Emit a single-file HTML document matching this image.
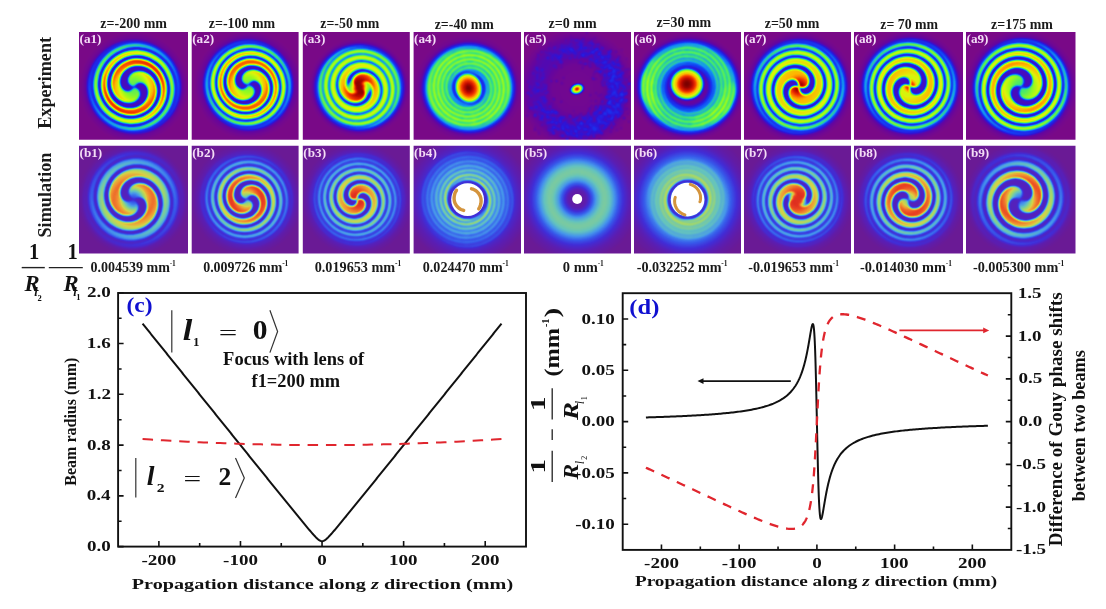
<!DOCTYPE html>
<html><head><meta charset="utf-8"><style>
html,body{margin:0;padding:0;background:#fff;width:1106px;height:609px;overflow:hidden}
svg{display:block;font-family:"Liberation Serif",serif;filter:blur(0.45px)}
</style></head><body>
<svg width="1106" height="609" viewBox="0 0 1106 609">
<defs><filter id="fexp" x="-5%" y="-5%" width="110%" height="110%" color-interpolation-filters="sRGB"><feGaussianBlur stdDeviation="1.10"/><feComponentTransfer><feFuncR type="table" tableValues="0.478 0.462 0.445 0.428 0.411 0.394 0.355 0.313 0.271 0.229 0.187 0.164 0.147 0.129 0.112 0.095 0.078 0.078 0.078 0.078 0.078 0.078 0.078 0.093 0.118 0.142 0.167 0.191 0.216 0.246 0.301 0.357 0.412 0.467 0.522 0.577 0.623 0.665 0.708 0.751 0.794 0.837 0.871 0.893 0.914 0.936 0.957 0.979 1.000 0.994 0.988 0.982 0.975 0.969 0.963 0.936 0.893 0.851 0.809 0.767 0.711 0.641 0.571 0.501 0.431"/><feFuncG type="table" tableValues="0.039 0.035 0.032 0.028 0.024 0.020 0.030 0.041 0.053 0.064 0.076 0.099 0.126 0.154 0.181 0.208 0.235 0.290 0.346 0.401 0.456 0.511 0.566 0.618 0.667 0.716 0.765 0.814 0.863 0.904 0.917 0.929 0.941 0.953 0.966 0.978 0.978 0.975 0.972 0.969 0.966 0.963 0.945 0.905 0.865 0.825 0.786 0.746 0.706 0.632 0.559 0.485 0.412 0.338 0.265 0.212 0.174 0.136 0.097 0.059 0.035 0.026 0.018 0.009 0.000"/><feFuncB type="table" tableValues="0.533 0.552 0.570 0.588 0.607 0.625 0.665 0.707 0.749 0.791 0.833 0.859 0.879 0.900 0.920 0.940 0.961 0.958 0.955 0.952 0.949 0.945 0.942 0.897 0.824 0.750 0.676 0.603 0.529 0.460 0.404 0.349 0.294 0.239 0.184 0.129 0.108 0.096 0.083 0.071 0.059 0.047 0.037 0.031 0.025 0.018 0.012 0.006 0.000 0.000 0.000 0.000 0.000 0.000 0.000 0.000 0.000 0.000 0.000 0.000 0.000 0.000 0.000 0.000 0.000"/></feComponentTransfer></filter>
<filter id="fsim" x="-5%" y="-5%" width="110%" height="110%" color-interpolation-filters="sRGB"><feGaussianBlur stdDeviation="1.30"/><feComponentTransfer><feFuncR type="table" tableValues="0.416 0.406 0.396 0.386 0.376 0.367 0.357 0.344 0.328 0.313 0.298 0.282 0.267 0.254 0.248 0.241 0.235 0.229 0.223 0.217 0.223 0.232 0.241 0.251 0.260 0.269 0.282 0.300 0.319 0.337 0.355 0.374 0.392 0.429 0.466 0.502 0.539 0.576 0.613 0.648 0.681 0.715 0.749 0.782 0.816 0.846 0.862 0.877 0.892 0.907 0.923 0.938 0.939 0.936 0.933 0.930 0.926 0.923 0.915 0.898 0.881 0.865 0.908 0.959 1.000"/><feFuncG type="table" tableValues="0.102 0.104 0.107 0.109 0.112 0.114 0.117 0.123 0.132 0.142 0.151 0.160 0.169 0.182 0.210 0.237 0.265 0.292 0.320 0.347 0.382 0.419 0.456 0.493 0.529 0.566 0.599 0.627 0.654 0.682 0.710 0.737 0.765 0.777 0.789 0.801 0.814 0.826 0.838 0.841 0.838 0.835 0.832 0.829 0.826 0.816 0.779 0.743 0.706 0.669 0.632 0.596 0.549 0.500 0.451 0.402 0.353 0.304 0.261 0.228 0.194 0.161 0.444 0.771 1.000"/><feFuncB type="table" tableValues="0.588 0.607 0.625 0.643 0.662 0.680 0.699 0.719 0.740 0.762 0.783 0.805 0.826 0.846 0.858 0.870 0.882 0.895 0.907 0.919 0.922 0.922 0.922 0.922 0.922 0.922 0.911 0.883 0.855 0.828 0.800 0.773 0.745 0.696 0.647 0.598 0.549 0.500 0.451 0.417 0.392 0.368 0.343 0.319 0.294 0.272 0.260 0.248 0.235 0.223 0.211 0.199 0.189 0.180 0.170 0.161 0.152 0.143 0.135 0.129 0.124 0.118 0.405 0.732 1.000"/></feComponentTransfer></filter>
<filter id="fwb" x="-20%" y="-20%" width="140%" height="140%"><feGaussianBlur stdDeviation="0.7"/></filter>
<radialGradient id="a1_1" gradientUnits="userSpaceOnUse" cx="0.00" cy="0.00" r="55.00"><stop offset="0.0000" stop-color="#1f1f1f"/><stop offset="0.6909" stop-color="#1f1f1f"/><stop offset="0.7636" stop-color="#292929"/><stop offset="0.8182" stop-color="#303030"/><stop offset="0.8636" stop-color="#1a1a1a"/><stop offset="0.9273" stop-color="#080808"/><stop offset="1.0000" stop-color="#000000"/></radialGradient><radialGradient id="a1_2" gradientUnits="userSpaceOnUse" cx="0.00" cy="0.00" r="49.00"><stop offset="0.0000" stop-color="#7a7a7a"/><stop offset="0.1224" stop-color="#808080"/><stop offset="0.2245" stop-color="#8c8c8c"/><stop offset="0.3265" stop-color="#adadad"/><stop offset="0.4490" stop-color="#d1d1d1"/><stop offset="0.5714" stop-color="#e0e0e0"/><stop offset="0.6735" stop-color="#b8b8b8"/><stop offset="0.7755" stop-color="#8f8f8f"/><stop offset="0.8571" stop-color="#707070"/><stop offset="0.9184" stop-color="#424242"/><stop offset="0.9694" stop-color="#1a1a1a"/><stop offset="1.0000" stop-color="#000000"/></radialGradient><clipPath id="a1_clip"><rect x="79.00" y="32.00" width="109.00" height="107.70"/></clipPath>
<radialGradient id="a2_1" gradientUnits="userSpaceOnUse" cx="0.00" cy="0.00" r="54.00"><stop offset="0.0000" stop-color="#1f1f1f"/><stop offset="0.6667" stop-color="#1f1f1f"/><stop offset="0.7407" stop-color="#292929"/><stop offset="0.8056" stop-color="#303030"/><stop offset="0.8519" stop-color="#1a1a1a"/><stop offset="0.9259" stop-color="#080808"/><stop offset="1.0000" stop-color="#000000"/></radialGradient><radialGradient id="a2_2" gradientUnits="userSpaceOnUse" cx="0.00" cy="0.00" r="47.00"><stop offset="0.0000" stop-color="#808080"/><stop offset="0.1702" stop-color="#8c8c8c"/><stop offset="0.2979" stop-color="#adadad"/><stop offset="0.4255" stop-color="#d1d1d1"/><stop offset="0.5532" stop-color="#d1d1d1"/><stop offset="0.6809" stop-color="#b8b8b8"/><stop offset="0.7872" stop-color="#9e9e9e"/><stop offset="0.8511" stop-color="#808080"/><stop offset="0.9149" stop-color="#4c4c4c"/><stop offset="0.9681" stop-color="#1f1f1f"/><stop offset="1.0000" stop-color="#000000"/></radialGradient><clipPath id="a2_clip"><rect x="191.70" y="32.00" width="106.90" height="107.70"/></clipPath>
<radialGradient id="a3_1" gradientUnits="userSpaceOnUse" cx="0.00" cy="0.00" r="50.00"><stop offset="0.0000" stop-color="#858585"/><stop offset="0.7200" stop-color="#858585"/><stop offset="0.7800" stop-color="#6b6b6b"/><stop offset="0.8300" stop-color="#3d3d3d"/><stop offset="0.8800" stop-color="#1f1f1f"/><stop offset="0.9400" stop-color="#080808"/><stop offset="1.0000" stop-color="#000000"/></radialGradient><radialGradient id="a3_2" gradientUnits="userSpaceOnUse" cx="0.00" cy="0.00" r="41.00"><stop offset="0.0000" stop-color="#ffffff"/><stop offset="0.1220" stop-color="#fafafa"/><stop offset="0.2195" stop-color="#ededed"/><stop offset="0.3171" stop-color="#dbdbdb"/><stop offset="0.4146" stop-color="#bdbdbd"/><stop offset="0.5366" stop-color="#a8a8a8"/><stop offset="0.7317" stop-color="#a1a1a1"/><stop offset="0.8780" stop-color="#999999"/><stop offset="1.0000" stop-color="#737373"/></radialGradient><radialGradient id="a3_3" gradientUnits="userSpaceOnUse" cx="0.00" cy="0.00" r="40.00"><stop offset="0.2750" stop-color="#1a1a1a"/><stop offset="1.0000" stop-color="#292929"/></radialGradient><radialGradient id="a3_4"><stop offset="0" stop-color="#f7f7f7"/><stop offset="0.35" stop-color="#f7f7f7"/><stop offset="1" stop-color="#f7f7f7" stop-opacity="0"/></radialGradient><clipPath id="a3_clip"><rect x="302.80" y="32.00" width="107.00" height="107.70"/></clipPath>
<radialGradient id="a4_1" gradientUnits="userSpaceOnUse" cx="0.00" cy="0.00" r="54.00"><stop offset="0.0000" stop-color="#0d0d0d"/><stop offset="0.2222" stop-color="#1a1a1a"/><stop offset="0.2963" stop-color="#525252"/><stop offset="0.3704" stop-color="#808080"/><stop offset="0.5185" stop-color="#949494"/><stop offset="0.6481" stop-color="#999999"/><stop offset="0.7222" stop-color="#8a8a8a"/><stop offset="0.7778" stop-color="#575757"/><stop offset="0.8333" stop-color="#242424"/><stop offset="0.9074" stop-color="#080808"/><stop offset="1.0000" stop-color="#000000"/></radialGradient><radialGradient id="a4_2" gradientUnits="userSpaceOnUse" cx="0.00" cy="0.00" r="40.00"><stop offset="0.3750" stop-color="#242424"/><stop offset="1.0000" stop-color="#333333"/></radialGradient><radialGradient id="a4_3" gradientUnits="userSpaceOnUse" cx="0.00" cy="0.00" r="16.00"><stop offset="0.0000" stop-color="#ffffff"/><stop offset="0.1875" stop-color="#f7f7f7"/><stop offset="0.4375" stop-color="#e0e0e0"/><stop offset="0.6250" stop-color="#c7c7c7"/><stop offset="0.7812" stop-color="#a8a8a8"/><stop offset="0.8750" stop-color="#808080"/><stop offset="1.0000" stop-color="#000000"/></radialGradient><clipPath id="a4_clip"><rect x="413.60" y="32.00" width="107.40" height="107.70"/></clipPath>
<radialGradient id="a5_1" gradientUnits="userSpaceOnUse" cx="0.00" cy="0.00" r="60.00"><stop offset="0.0000" stop-color="#050505"/><stop offset="0.4000" stop-color="#0a0a0a"/><stop offset="0.5333" stop-color="#171717"/><stop offset="0.6667" stop-color="#1c1c1c"/><stop offset="0.8000" stop-color="#171717"/><stop offset="0.9000" stop-color="#0a0a0a"/><stop offset="1.0000" stop-color="#000000"/></radialGradient><radialGradient id="a5_2" gradientUnits="userSpaceOnUse" cx="0.00" cy="0.00" r="8.00"><stop offset="0.0000" stop-color="#ffffff"/><stop offset="0.2500" stop-color="#e6e6e6"/><stop offset="0.5000" stop-color="#9e9e9e"/><stop offset="0.7500" stop-color="#7a7a7a"/><stop offset="1.0000" stop-color="#000000"/></radialGradient><clipPath id="a5_clip"><rect x="524.00" y="32.00" width="107.00" height="107.70"/></clipPath>
<radialGradient id="a6_1" gradientUnits="userSpaceOnUse" cx="0.00" cy="0.00" r="55.00"><stop offset="0.0000" stop-color="#0d0d0d"/><stop offset="0.3273" stop-color="#141414"/><stop offset="0.4000" stop-color="#3d3d3d"/><stop offset="0.5091" stop-color="#737373"/><stop offset="0.6545" stop-color="#858585"/><stop offset="0.7636" stop-color="#808080"/><stop offset="0.8182" stop-color="#575757"/><stop offset="0.8727" stop-color="#292929"/><stop offset="0.9273" stop-color="#0f0f0f"/><stop offset="1.0000" stop-color="#000000"/></radialGradient><radialGradient id="a6_2"><stop offset="0" stop-color="#8f8f8f"/><stop offset="0.45" stop-color="#8f8f8f"/><stop offset="1" stop-color="#8f8f8f" stop-opacity="0"/></radialGradient><radialGradient id="a6_3"><stop offset="0" stop-color="#999999"/><stop offset="0.45" stop-color="#999999"/><stop offset="1" stop-color="#999999" stop-opacity="0"/></radialGradient><radialGradient id="a6_4"><stop offset="0" stop-color="#999999"/><stop offset="0.45" stop-color="#999999"/><stop offset="1" stop-color="#999999" stop-opacity="0"/></radialGradient><radialGradient id="a6_5"><stop offset="0" stop-color="#8f8f8f"/><stop offset="0.45" stop-color="#8f8f8f"/><stop offset="1" stop-color="#8f8f8f" stop-opacity="0"/></radialGradient><radialGradient id="a6_6"><stop offset="0" stop-color="#8f8f8f"/><stop offset="0.45" stop-color="#8f8f8f"/><stop offset="1" stop-color="#8f8f8f" stop-opacity="0"/></radialGradient><radialGradient id="a6_7"><stop offset="0" stop-color="#999999"/><stop offset="0.45" stop-color="#999999"/><stop offset="1" stop-color="#999999" stop-opacity="0"/></radialGradient><radialGradient id="a6_8"><stop offset="0" stop-color="#999999"/><stop offset="0.45" stop-color="#999999"/><stop offset="1" stop-color="#999999" stop-opacity="0"/></radialGradient><radialGradient id="a6_9"><stop offset="0" stop-color="#8f8f8f"/><stop offset="0.45" stop-color="#8f8f8f"/><stop offset="1" stop-color="#8f8f8f" stop-opacity="0"/></radialGradient><radialGradient id="a6_10" gradientUnits="userSpaceOnUse" cx="0.00" cy="0.00" r="46.00"><stop offset="0.4348" stop-color="#292929"/><stop offset="1.0000" stop-color="#292929"/></radialGradient><radialGradient id="a6_11" gradientUnits="userSpaceOnUse" cx="0.00" cy="0.00" r="18.00"><stop offset="0.0000" stop-color="#ffffff"/><stop offset="0.2222" stop-color="#f7f7f7"/><stop offset="0.4444" stop-color="#e0e0e0"/><stop offset="0.6111" stop-color="#bdbdbd"/><stop offset="0.7778" stop-color="#9e9e9e"/><stop offset="0.8889" stop-color="#595959"/><stop offset="1.0000" stop-color="#000000"/></radialGradient><clipPath id="a6_clip"><rect x="634.00" y="32.00" width="107.00" height="107.70"/></clipPath>
<radialGradient id="a7_1" gradientUnits="userSpaceOnUse" cx="0.00" cy="0.00" r="56.00"><stop offset="0.0000" stop-color="#212121"/><stop offset="0.7143" stop-color="#212121"/><stop offset="0.7857" stop-color="#2b2b2b"/><stop offset="0.8304" stop-color="#333333"/><stop offset="0.8750" stop-color="#1a1a1a"/><stop offset="0.9286" stop-color="#080808"/><stop offset="1.0000" stop-color="#000000"/></radialGradient><radialGradient id="a7_2" gradientUnits="userSpaceOnUse" cx="0.00" cy="0.00" r="49.00"><stop offset="0.0000" stop-color="#ffffff"/><stop offset="0.0816" stop-color="#f5f5f5"/><stop offset="0.1633" stop-color="#dbdbdb"/><stop offset="0.2449" stop-color="#c2c2c2"/><stop offset="0.3673" stop-color="#b8b8b8"/><stop offset="0.5306" stop-color="#adadad"/><stop offset="0.6939" stop-color="#9e9e9e"/><stop offset="0.8163" stop-color="#8f8f8f"/><stop offset="0.8980" stop-color="#666666"/><stop offset="0.9592" stop-color="#333333"/><stop offset="1.0000" stop-color="#080808"/></radialGradient><clipPath id="a7_clip"><rect x="744.00" y="32.00" width="107.00" height="107.70"/></clipPath>
<radialGradient id="a8_1" gradientUnits="userSpaceOnUse" cx="0.00" cy="0.00" r="56.00"><stop offset="0.0000" stop-color="#212121"/><stop offset="0.7143" stop-color="#212121"/><stop offset="0.7857" stop-color="#2b2b2b"/><stop offset="0.8304" stop-color="#333333"/><stop offset="0.8750" stop-color="#1a1a1a"/><stop offset="0.9286" stop-color="#080808"/><stop offset="1.0000" stop-color="#000000"/></radialGradient><radialGradient id="a8_2" gradientUnits="userSpaceOnUse" cx="0.00" cy="0.00" r="49.00"><stop offset="0.0000" stop-color="#e6e6e6"/><stop offset="0.0816" stop-color="#dbdbdb"/><stop offset="0.1633" stop-color="#9e9e9e"/><stop offset="0.2653" stop-color="#adadad"/><stop offset="0.4082" stop-color="#bdbdbd"/><stop offset="0.5714" stop-color="#b2b2b2"/><stop offset="0.7347" stop-color="#9e9e9e"/><stop offset="0.8367" stop-color="#8f8f8f"/><stop offset="0.9082" stop-color="#666666"/><stop offset="0.9592" stop-color="#333333"/><stop offset="1.0000" stop-color="#080808"/></radialGradient><clipPath id="a8_clip"><rect x="854.00" y="32.00" width="109.00" height="107.70"/></clipPath>
<radialGradient id="a9_1" gradientUnits="userSpaceOnUse" cx="0.00" cy="0.00" r="57.00"><stop offset="0.0000" stop-color="#1f1f1f"/><stop offset="0.7018" stop-color="#1f1f1f"/><stop offset="0.7719" stop-color="#2b2b2b"/><stop offset="0.8246" stop-color="#333333"/><stop offset="0.8684" stop-color="#1a1a1a"/><stop offset="0.9298" stop-color="#080808"/><stop offset="1.0000" stop-color="#000000"/></radialGradient><radialGradient id="a9_2" gradientUnits="userSpaceOnUse" cx="0.00" cy="0.00" r="50.00"><stop offset="0.0000" stop-color="#737373"/><stop offset="0.1200" stop-color="#787878"/><stop offset="0.2400" stop-color="#8c8c8c"/><stop offset="0.3600" stop-color="#a8a8a8"/><stop offset="0.4800" stop-color="#c7c7c7"/><stop offset="0.6000" stop-color="#bdbdbd"/><stop offset="0.7200" stop-color="#a8a8a8"/><stop offset="0.8400" stop-color="#999999"/><stop offset="0.9100" stop-color="#6b6b6b"/><stop offset="0.9600" stop-color="#333333"/><stop offset="1.0000" stop-color="#080808"/></radialGradient><clipPath id="a9_clip"><rect x="966.00" y="32.00" width="109.50" height="107.70"/></clipPath>
<radialGradient id="b1_1" gradientUnits="userSpaceOnUse" cx="0.00" cy="0.00" r="56.00"><stop offset="0.0000" stop-color="#1f1f1f"/><stop offset="0.5357" stop-color="#212121"/><stop offset="0.7143" stop-color="#242424"/><stop offset="0.8036" stop-color="#1f1f1f"/><stop offset="0.8929" stop-color="#0f0f0f"/><stop offset="1.0000" stop-color="#000000"/></radialGradient><radialGradient id="b1_2" gradientUnits="userSpaceOnUse" cx="0.00" cy="0.00" r="52.00"><stop offset="0.0000" stop-color="#404040"/><stop offset="0.0962" stop-color="#595959"/><stop offset="0.1923" stop-color="#8f8f8f"/><stop offset="0.2885" stop-color="#cccccc"/><stop offset="0.3846" stop-color="#dbdbdb"/><stop offset="0.4808" stop-color="#c2c2c2"/><stop offset="0.5962" stop-color="#999999"/><stop offset="0.7115" stop-color="#757575"/><stop offset="0.8077" stop-color="#525252"/><stop offset="0.8846" stop-color="#333333"/><stop offset="0.9615" stop-color="#1a1a1a"/><stop offset="1.0000" stop-color="#0a0a0a"/></radialGradient><clipPath id="b1_clip"><rect x="79.00" y="145.80" width="109.00" height="107.80"/></clipPath>
<radialGradient id="b2_1" gradientUnits="userSpaceOnUse" cx="0.00" cy="0.00" r="56.00"><stop offset="0.0000" stop-color="#1f1f1f"/><stop offset="0.5357" stop-color="#212121"/><stop offset="0.7143" stop-color="#242424"/><stop offset="0.8036" stop-color="#1f1f1f"/><stop offset="0.8929" stop-color="#0f0f0f"/><stop offset="1.0000" stop-color="#000000"/></radialGradient><radialGradient id="b2_2" gradientUnits="userSpaceOnUse" cx="0.00" cy="0.00" r="52.00"><stop offset="0.0000" stop-color="#737373"/><stop offset="0.0962" stop-color="#999999"/><stop offset="0.1923" stop-color="#d1d1d1"/><stop offset="0.2885" stop-color="#ededed"/><stop offset="0.3846" stop-color="#e0e0e0"/><stop offset="0.4808" stop-color="#b8b8b8"/><stop offset="0.5769" stop-color="#999999"/><stop offset="0.6731" stop-color="#808080"/><stop offset="0.7692" stop-color="#666666"/><stop offset="0.8462" stop-color="#3d3d3d"/><stop offset="0.9231" stop-color="#1a1a1a"/><stop offset="1.0000" stop-color="#080808"/></radialGradient><clipPath id="b2_clip"><rect x="191.70" y="145.80" width="106.90" height="107.80"/></clipPath>
<radialGradient id="b3_1" gradientUnits="userSpaceOnUse" cx="0.00" cy="0.00" r="56.00"><stop offset="0.0000" stop-color="#1f1f1f"/><stop offset="0.5357" stop-color="#212121"/><stop offset="0.7143" stop-color="#242424"/><stop offset="0.8036" stop-color="#1f1f1f"/><stop offset="0.8929" stop-color="#0f0f0f"/><stop offset="1.0000" stop-color="#000000"/></radialGradient><radialGradient id="b3_2" gradientUnits="userSpaceOnUse" cx="0.00" cy="0.00" r="52.00"><stop offset="0.0000" stop-color="#f0f0f0"/><stop offset="0.1154" stop-color="#f0f0f0"/><stop offset="0.1923" stop-color="#e0e0e0"/><stop offset="0.2692" stop-color="#cccccc"/><stop offset="0.3846" stop-color="#b2b2b2"/><stop offset="0.4808" stop-color="#9e9e9e"/><stop offset="0.5769" stop-color="#8c8c8c"/><stop offset="0.6731" stop-color="#7a7a7a"/><stop offset="0.7692" stop-color="#666666"/><stop offset="0.8462" stop-color="#424242"/><stop offset="0.9231" stop-color="#1f1f1f"/><stop offset="1.0000" stop-color="#080808"/></radialGradient><clipPath id="b3_clip"><rect x="302.80" y="145.80" width="107.00" height="107.80"/></clipPath>
<radialGradient id="b4_1" gradientUnits="userSpaceOnUse" cx="0.00" cy="0.00" r="64.00"><stop offset="0.0000" stop-color="#4c4c4c"/><stop offset="0.2500" stop-color="#4c4c4c"/><stop offset="0.4688" stop-color="#4c4c4c"/><stop offset="0.6250" stop-color="#424242"/><stop offset="0.7500" stop-color="#2b2b2b"/><stop offset="0.8750" stop-color="#141414"/><stop offset="1.0000" stop-color="#000000"/></radialGradient><radialGradient id="b4_2" gradientUnits="userSpaceOnUse" cx="0.00" cy="0.00" r="48.00"><stop offset="0.3750" stop-color="#d1d1d1"/><stop offset="0.4583" stop-color="#c2c2c2"/><stop offset="0.5625" stop-color="#9e9e9e"/><stop offset="0.6667" stop-color="#858585"/><stop offset="0.7708" stop-color="#707070"/><stop offset="0.8750" stop-color="#5c5c5c"/><stop offset="1.0000" stop-color="#454545"/></radialGradient><clipPath id="b4_clip"><rect x="413.60" y="145.80" width="107.40" height="107.80"/></clipPath>
<radialGradient id="b5_1" gradientUnits="userSpaceOnUse" cx="0.00" cy="0.00" r="62.00"><stop offset="0.0000" stop-color="#0d0d0d"/><stop offset="0.0968" stop-color="#0d0d0d"/><stop offset="0.1452" stop-color="#141414"/><stop offset="0.2258" stop-color="#404040"/><stop offset="0.3065" stop-color="#6b6b6b"/><stop offset="0.3871" stop-color="#858585"/><stop offset="0.4516" stop-color="#8a8a8a"/><stop offset="0.5323" stop-color="#808080"/><stop offset="0.6129" stop-color="#616161"/><stop offset="0.6935" stop-color="#424242"/><stop offset="0.7742" stop-color="#292929"/><stop offset="0.8710" stop-color="#121212"/><stop offset="1.0000" stop-color="#000000"/></radialGradient><clipPath id="b5_clip"><rect x="524.00" y="145.80" width="107.00" height="107.80"/></clipPath>
<radialGradient id="b6_1" gradientUnits="userSpaceOnUse" cx="0.00" cy="0.00" r="68.00"><stop offset="0.0000" stop-color="#737373"/><stop offset="0.2353" stop-color="#737373"/><stop offset="0.3676" stop-color="#808080"/><stop offset="0.4412" stop-color="#7a7a7a"/><stop offset="0.5294" stop-color="#6b6b6b"/><stop offset="0.6176" stop-color="#545454"/><stop offset="0.7059" stop-color="#383838"/><stop offset="0.7941" stop-color="#1f1f1f"/><stop offset="0.8824" stop-color="#0d0d0d"/><stop offset="1.0000" stop-color="#000000"/></radialGradient><radialGradient id="b6_2" gradientUnits="userSpaceOnUse" cx="0.00" cy="0.00" r="40.00"><stop offset="0.4750" stop-color="#c7c7c7"/><stop offset="0.5750" stop-color="#b2b2b2"/><stop offset="0.6750" stop-color="#999999"/><stop offset="0.7750" stop-color="#8a8a8a"/><stop offset="0.8750" stop-color="#808080"/><stop offset="1.0000" stop-color="#737373"/></radialGradient><clipPath id="b6_clip"><rect x="634.00" y="145.80" width="107.00" height="107.80"/></clipPath>
<radialGradient id="b7_1" gradientUnits="userSpaceOnUse" cx="0.00" cy="0.00" r="56.00"><stop offset="0.0000" stop-color="#1f1f1f"/><stop offset="0.5357" stop-color="#212121"/><stop offset="0.7143" stop-color="#242424"/><stop offset="0.8036" stop-color="#1f1f1f"/><stop offset="0.8929" stop-color="#0f0f0f"/><stop offset="1.0000" stop-color="#000000"/></radialGradient><radialGradient id="b7_2"><stop offset="0" stop-color="#ededed"/><stop offset="0.40" stop-color="#ededed"/><stop offset="1" stop-color="#ededed" stop-opacity="0"/></radialGradient><radialGradient id="b7_3" gradientUnits="userSpaceOnUse" cx="0.00" cy="0.00" r="52.00"><stop offset="0.0000" stop-color="#f0f0f0"/><stop offset="0.1154" stop-color="#f0f0f0"/><stop offset="0.1923" stop-color="#e6e6e6"/><stop offset="0.2692" stop-color="#d1d1d1"/><stop offset="0.3846" stop-color="#b2b2b2"/><stop offset="0.4808" stop-color="#9e9e9e"/><stop offset="0.5769" stop-color="#8c8c8c"/><stop offset="0.6731" stop-color="#7a7a7a"/><stop offset="0.7692" stop-color="#666666"/><stop offset="0.8462" stop-color="#424242"/><stop offset="0.9231" stop-color="#1f1f1f"/><stop offset="1.0000" stop-color="#080808"/></radialGradient><clipPath id="b7_clip"><rect x="744.00" y="145.80" width="107.00" height="107.80"/></clipPath>
<radialGradient id="b8_1" gradientUnits="userSpaceOnUse" cx="0.00" cy="0.00" r="56.00"><stop offset="0.0000" stop-color="#1f1f1f"/><stop offset="0.5357" stop-color="#212121"/><stop offset="0.7143" stop-color="#242424"/><stop offset="0.8036" stop-color="#1f1f1f"/><stop offset="0.8929" stop-color="#0f0f0f"/><stop offset="1.0000" stop-color="#000000"/></radialGradient><radialGradient id="b8_2" gradientUnits="userSpaceOnUse" cx="0.00" cy="0.00" r="52.00"><stop offset="0.0000" stop-color="#8c8c8c"/><stop offset="0.0962" stop-color="#a6a6a6"/><stop offset="0.1923" stop-color="#d9d9d9"/><stop offset="0.2885" stop-color="#ebebeb"/><stop offset="0.3846" stop-color="#d9d9d9"/><stop offset="0.4808" stop-color="#b8b8b8"/><stop offset="0.5769" stop-color="#999999"/><stop offset="0.6731" stop-color="#808080"/><stop offset="0.7692" stop-color="#666666"/><stop offset="0.8462" stop-color="#424242"/><stop offset="0.9231" stop-color="#1f1f1f"/><stop offset="1.0000" stop-color="#080808"/></radialGradient><clipPath id="b8_clip"><rect x="854.00" y="145.80" width="109.00" height="107.80"/></clipPath>
<radialGradient id="b9_1" gradientUnits="userSpaceOnUse" cx="0.00" cy="0.00" r="56.00"><stop offset="0.0000" stop-color="#1f1f1f"/><stop offset="0.5357" stop-color="#212121"/><stop offset="0.7143" stop-color="#242424"/><stop offset="0.8036" stop-color="#1f1f1f"/><stop offset="0.8929" stop-color="#0f0f0f"/><stop offset="1.0000" stop-color="#000000"/></radialGradient><radialGradient id="b9_2" gradientUnits="userSpaceOnUse" cx="0.00" cy="0.00" r="52.00"><stop offset="0.0000" stop-color="#4c4c4c"/><stop offset="0.0962" stop-color="#666666"/><stop offset="0.1923" stop-color="#949494"/><stop offset="0.2885" stop-color="#d1d1d1"/><stop offset="0.3846" stop-color="#e6e6e6"/><stop offset="0.4808" stop-color="#cccccc"/><stop offset="0.5962" stop-color="#9e9e9e"/><stop offset="0.7115" stop-color="#757575"/><stop offset="0.8077" stop-color="#525252"/><stop offset="0.8846" stop-color="#333333"/><stop offset="0.9615" stop-color="#1a1a1a"/><stop offset="1.0000" stop-color="#0a0a0a"/></radialGradient><clipPath id="b9_clip"><rect x="966.00" y="145.80" width="109.50" height="107.80"/></clipPath></defs>
<rect width="1106" height="609" fill="#fff"/>
<g clip-path="url(#a1_clip)"><g filter="url(#fexp)"><rect x="73.00" y="26.00" width="121.00" height="119.70" fill="#000"/><g transform="translate(79.00 32.00)"><ellipse transform="translate(55.00 55.00) rotate(0.0) scale(1.0000 1.0000)" rx="55.00" ry="55.00" fill="url(#a1_1)"/><path transform="translate(55.00 55.00) rotate(0.0) scale(1.000 1.000)" d="M-.6 .8-.9 1.2-1.3 1.6-1.6 1.9-2 2.3-2.3 2.6-2.7 2.9-3.1 3.2-3.6 3.5-4 3.7-4.5 3.9-5.1 4.1-5.6 4.2-6.2 4.3-6.8 4.3-7.4 4.2-8 4.1-8.7 3.8-9.3 3.5-10 3.2-10.7 2.7-11.3 2.1-11.9 1.4-12.5 .7-13-.2-13.4-1.2-13.8-2.3-14.1-3.5-14.2-4.8-14.2-6.2-14.1-7.6-13.8-9.1-13.3-10.6-12.5-12.2-11.6-13.8-10.5-15.3-9.1-16.7-7.5-18-5.6-19.2-3.5-20.2-1.2-21 1.2-21.5 3.6-21.6 6.1-21.6 8.5-21.2 10.8-20.5 13.1-19.7 15.3-18.5 17.3-17.2 19.2-15.6 20.9-13.9 22.4-12 23.8-10 24.9-7.8 25.8-5.6 26.5-3.3 27-.9 27.3 1.5 27.3 3.9 27.2 6.3 26.8 8.7 26.2 11.1 25.4 13.4 24.4 15.6 23.3 17.7 21.9 19.7 20.4 21.6 18.8 23.4 17 25 15.1 26.5 13 27.8 10.9 29 8.7 29.9 6.4 30.7 4.1 31.3 1.7 31.8-.7 32-3.1 32.1-5.5 32-7.9 31.7-10.3 31.2-12.6 30.6-14.9 29.8-17.1 28.8-19.2 27.6-21.3 26.3-23.2 24.9-25 23.4-26.8 21.7-28.3 19.8-29.8 17.9-31.1 15.9-32.3 13.8-33.3 11.6-34.2 9.4-35 7.1-35.5 4.7-35.9 2.4-36.2 0-36.3-2.4-36.2-4.8-35.9-7.2-35.5-9.6-35-12-34.3-14.3-33.4-16.5-32.4-18.7-31.3-20.8-30-22.9-28.6-24.9-27.1-26.7-25.5-28.5-23.7-30.2-21.9-31.7-20-33.1-17.9-34.4-15.8-35.6-13.6-36.6-11.4-37.5-9.1-38.3-6.8-38.9-4.4-39.4-2.1-39.8 .3-39.9 2.7-40 5.1-39.9 7.5-39.6 9.9-39.2 12.3-38.7 14.6-38.1 16.9-37.2 19.1-36.3 21.2-35.2 23.3-34 25.3-32.7 27.3-31.3 29.1-29.8 30.9-28.1 32.5-26.4 34.1-24.6 35.6-22.6 36.9-20.6 38.1-18.6 39.2-16.4 40.2-14.2 41-12 41.8-9.7 42.4-7.3 42.8-5 43.1-2.6 43.3-.2 43.4 2.2 43.3 4.6 43.1 7 42.8 9.4 42.3 11.7 41.7 14.1 41 16.4 40.1 18.6 39.2 20.8 38.1 23 36.9 25.1 35.6 27.1 34.1 29 32.6 30.9 31 32.6 29.3 34.3 27.5 35.9 25.6 37.4 23.6 38.8 21.6 40.1 19.5 41.3 17.4 42.3 15.1 43.3 12.9 44.1 10.6 44.8 8.3 45.4 5.9 45.9 3.5 46.2 1.1 46.5-1.3 46.6-3.7 46.5-6.1 46.4-8.5 46.1-10.8 45.7-13.2 45.2-15.5 44.6-17.8 43.8-20 42.9-22.2 41.9-24.4 40.9-26.5 39.7-28.5 38.3-30.4 36.9-32.3 35.4-34.1 33.8-35.8 32.2-37.5 30.4-39 28.6-40.4 26.6-41.8 24.6-43 22.6-44.2 20.5-45.2 18.3-46.2 16.1-47 13.8-47.2 13.2-46.5 15.6-45.6 17.9-44.7 20.1-43.6 22.3-42.5 24.4-41.2 26.5-39.8 28.5-38.4 30.5-36.8 32.3-35.2 34.1-33.4 35.8-31.6 37.5-29.7 39-27.7 40.4-25.7 41.7-23.6 43-21.4 44.1-19.2 45.1-16.9 46-14.6 46.8-12.3 47.4-9.9 48-7.5 48.4-5.1 48.7-2.6 48.9-.2 49 2.2 48.9 4.7 48.8 7.1 48.5 9.5 48.1 11.9 47.5 14.2 46.9 16.5 46.1 18.8 45.3 21 44.3 23.2 43.2 25.3 42 25.8 41.6 27.8 40.2 29.7 38.7 31.5 37.1 33.2 35.5 34.9 33.7 36.4 31.9 37.9 30 39.3 28 40.5 26 41.7 23.9 42.8 21.7 43.7 19.5 44.5 17.2 45.3 15 45.9 12.6 46.3 10.3 46.7 7.9 47 5.5 47.1 3.1 47.1 .7 47-1.7 46.7-4.1 46.3-6.5 45.8-8.8 45.2-11.2 44.5-13.4 43.6-15.7 42.7-17.9 41.6-20 40.4-22.1 39.1-24.2 37.7-26.1 36.2-28 34.6-29.8 32.9-31.5 31.1-33.1 29.3-34.6 27.3-36.1 25.3-37.4 23.2-38.6 21.1-39.7 18.9-40.6 16.6-41.5 14.3-42.2 12-42.8 9.7-43.3 7.3-43.7 4.9-43.9 2.5-44 .1-43.9-2.3-43.7-4.7-43.4-7.1-43-9.4-42.4-11.7-41.7-14-40.9-16.2-40-18.3-38.9-20.4-37.7-22.5-36.4-24.4-35-26.3-33.4-28-31.8-29.7-30.1-31.3-28.3-32.7-26.3-34.1-24.4-35.3-22.3-36.4-20.2-37.4-18-38.3-15.7-39-13.4-39.6-11.1-40.1-8.7-40.4-6.3-40.6-3.9-40.6-1.5-40.5 .9-40.2 3.3-39.8 5.6-39.3 8-38.6 10.3-37.8 12.6-36.8 14.8-35.7 16.9-34.5 19-33.2 21-31.7 22.9-30.1 24.7-28.4 26.4-26.6 28-24.7 29.5-22.8 30.9-20.7 32.1-18.5 33.3-16.3 34.2-14.1 35-11.8 35.7-9.4 36.3-7 36.6-4.6 36.9-2.2 36.9 .2 36.8 2.6 36.6 4.9 36.2 7.3 35.6 9.6 34.9 11.8 34 14 33 16.1 31.8 18.2 30.5 20.1 29.1 21.9 27.5 23.6 25.8 25.2 24 26.7 22 28 20 29.2 17.9 30.2 15.7 31.1 13.5 31.8 11.2 32.3 8.8 32.6 6.4 32.8 4 32.8 1.6 32.7-.8 32.3-3.2 31.8-5.5 31.1-7.8 30.2-10.1 29.1-12.3 27.9-14.4 26.5-16.3 25-18.2 23.3-20 21.5-21.6 19.6-23 17.6-24.3 15.4-25.4 13.2-26.4 10.9-27.1 8.5-27.7 6.1-28.1 3.7-28.2 1.3-28.2-1.1-27.9-3.5-27.4-5.8-26.7-8.1-25.8-10.2-24.7-12.3-23.4-14.2-21.9-16-20.3-17.6-18.4-19-16.4-20.2-14.3-21.2-12.1-21.9-9.8-22.4-7.4-22.7-5-22.7-2.5-22.4-.1-21.8 2.3-21 4.6-19.9 6.7-18.5 8.8-17 10.5-15.4 12-13.7 13.2-11.9 14.1-10.2 14.9-8.4 15.3-6.7 15.6-5.1 15.7-3.6 15.6-2.2 15.3-.8 15 .4 14.5 1.5 13.9 2.4 13.3 3.2 12.6 4 11.9 4.6 11.1 5 10.3 5.4 9.6 5.7 8.8 5.9 8.1 6 7.4 6 6.7 6 6 5.9 5.4 5.7 4.8 5.5 4.3 5.3 3.8 5 3.3 4.7 2.9 4.3 2.5 3.9 2.2 3.6 1.8 3.1 1.5 2.7 1.3 2.3 1 1.8 .8 1.4 .6 .9 .4 .3 1ZM.6-.8 .9-1.2 1.3-1.6 1.6-1.9 2-2.3 2.3-2.6 2.7-2.9 3.1-3.2 3.6-3.5 4-3.7 4.5-3.9 5.1-4.1 5.6-4.2 6.2-4.3 6.8-4.3 7.4-4.2 8-4.1 8.7-3.8 9.3-3.5 10-3.2 10.7-2.7 11.3-2.1 11.9-1.4 12.5-.7 13 .2 13.4 1.2 13.8 2.3 14.1 3.5 14.2 4.8 14.2 6.2 14.1 7.6 13.8 9.1 13.3 10.6 12.5 12.2 11.6 13.8 10.5 15.3 9.1 16.7 7.5 18 5.6 19.2 3.5 20.2 1.2 21-1.2 21.5-3.6 21.6-6.1 21.6-8.5 21.2-10.8 20.5-13.1 19.7-15.3 18.5-17.3 17.2-19.2 15.6-20.9 13.9-22.4 12-23.8 10-24.9 7.8-25.8 5.6-26.5 3.3-27 .9-27.3-1.5-27.3-3.9-27.2-6.3-26.8-8.7-26.2-11.1-25.4-13.4-24.4-15.6-23.3-17.7-21.9-19.7-20.4-21.6-18.8-23.4-17-25-15.1-26.5-13-27.8-10.9-29-8.7-29.9-6.4-30.7-4.1-31.3-1.7-31.8 .7-32 3.1-32.1 5.5-32 7.9-31.7 10.3-31.2 12.6-30.6 14.9-29.8 17.1-28.8 19.2-27.6 21.3-26.3 23.2-24.9 25-23.4 26.8-21.7 28.3-19.8 29.8-17.9 31.1-15.9 32.3-13.8 33.3-11.6 34.2-9.4 35-7.1 35.5-4.7 35.9-2.4 36.2 0 36.3 2.4 36.2 4.8 35.9 7.2 35.5 9.6 35 12 34.3 14.3 33.4 16.5 32.4 18.7 31.3 20.8 30 22.9 28.6 24.9 27.1 26.7 25.5 28.5 23.7 30.2 21.9 31.7 20 33.1 17.9 34.4 15.8 35.6 13.6 36.6 11.4 37.5 9.1 38.3 6.8 38.9 4.4 39.4 2.1 39.8-.3 39.9-2.7 40-5.1 39.9-7.5 39.6-9.9 39.2-12.3 38.7-14.6 38.1-16.9 37.2-19.1 36.3-21.2 35.2-23.3 34-25.3 32.7-27.3 31.3-29.1 29.8-30.9 28.1-32.5 26.4-34.1 24.6-35.6 22.6-36.9 20.6-38.1 18.6-39.2 16.4-40.2 14.2-41 12-41.8 9.7-42.4 7.3-42.8 5-43.1 2.6-43.3 .2-43.4-2.2-43.3-4.6-43.1-7-42.8-9.4-42.3-11.7-41.7-14.1-41-16.4-40.1-18.6-39.2-20.8-38.1-23-36.9-25.1-35.6-27.1-34.1-29-32.6-30.9-31-32.6-29.3-34.3-27.5-35.9-25.6-37.4-23.6-38.8-21.6-40.1-19.5-41.3-17.4-42.3-15.1-43.3-12.9-44.1-10.6-44.8-8.3-45.4-5.9-45.9-3.5-46.2-1.1-46.5 1.3-46.6 3.7-46.5 6.1-46.4 8.5-46.1 10.8-45.7 13.2-45.2 15.5-44.6 17.8-43.8 20-42.9 22.2-41.9 24.4-40.9 26.5-39.7 28.5-38.3 30.4-36.9 32.3-35.4 34.1-33.8 35.8-32.2 37.5-30.4 39-28.6 40.4-26.6 41.8-24.6 43-22.6 44.2-20.5 45.2-18.3 46.2-16.1 47-13.8 47.2-13.2 46.5-15.6 45.6-17.9 44.7-20.1 43.6-22.3 42.5-24.4 41.2-26.5 39.8-28.5 38.4-30.5 36.8-32.3 35.2-34.1 33.4-35.8 31.6-37.5 29.7-39 27.7-40.4 25.7-41.7 23.6-43 21.4-44.1 19.2-45.1 16.9-46 14.6-46.8 12.3-47.4 9.9-48 7.5-48.4 5.1-48.7 2.6-48.9 .2-49-2.2-48.9-4.7-48.8-7.1-48.5-9.5-48.1-11.9-47.5-14.2-46.9-16.5-46.1-18.8-45.3-21-44.3-23.2-43.2-25.3-42-25.8-41.6-27.8-40.2-29.7-38.7-31.5-37.1-33.2-35.5-34.9-33.7-36.4-31.9-37.9-30-39.3-28-40.5-26-41.7-23.9-42.8-21.7-43.7-19.5-44.5-17.2-45.3-15-45.9-12.6-46.3-10.3-46.7-7.9-47-5.5-47.1-3.1-47.1-.7-47 1.7-46.7 4.1-46.3 6.5-45.8 8.8-45.2 11.2-44.5 13.4-43.6 15.7-42.7 17.9-41.6 20-40.4 22.1-39.1 24.2-37.7 26.1-36.2 28-34.6 29.8-32.9 31.5-31.1 33.1-29.3 34.6-27.3 36.1-25.3 37.4-23.2 38.6-21.1 39.7-18.9 40.6-16.6 41.5-14.3 42.2-12 42.8-9.7 43.3-7.3 43.7-4.9 43.9-2.5 44-.1 43.9 2.3 43.7 4.7 43.4 7.1 43 9.4 42.4 11.7 41.7 14 40.9 16.2 40 18.3 38.9 20.4 37.7 22.5 36.4 24.4 35 26.3 33.4 28 31.8 29.7 30.1 31.3 28.3 32.7 26.3 34.1 24.4 35.3 22.3 36.4 20.2 37.4 18 38.3 15.7 39 13.4 39.6 11.1 40.1 8.7 40.4 6.3 40.6 3.9 40.6 1.5 40.5-.9 40.2-3.3 39.8-5.6 39.3-8 38.6-10.3 37.8-12.6 36.8-14.8 35.7-16.9 34.5-19 33.2-21 31.7-22.9 30.1-24.7 28.4-26.4 26.6-28 24.7-29.5 22.8-30.9 20.7-32.1 18.5-33.3 16.3-34.2 14.1-35 11.8-35.7 9.4-36.3 7-36.6 4.6-36.9 2.2-36.9-.2-36.8-2.6-36.6-4.9-36.2-7.3-35.6-9.6-34.9-11.8-34-14-33-16.1-31.8-18.2-30.5-20.1-29.1-21.9-27.5-23.6-25.8-25.2-24-26.7-22-28-20-29.2-17.9-30.2-15.7-31.1-13.5-31.8-11.2-32.3-8.8-32.6-6.4-32.8-4-32.8-1.6-32.7 .8-32.3 3.2-31.8 5.5-31.1 7.8-30.2 10.1-29.1 12.3-27.9 14.4-26.5 16.3-25 18.2-23.3 20-21.5 21.6-19.6 23-17.6 24.3-15.4 25.4-13.2 26.4-10.9 27.1-8.5 27.7-6.1 28.1-3.7 28.2-1.3 28.2 1.1 27.9 3.5 27.4 5.8 26.7 8.1 25.8 10.2 24.7 12.3 23.4 14.2 21.9 16 20.3 17.6 18.4 19 16.4 20.2 14.3 21.2 12.1 21.9 9.8 22.4 7.4 22.7 5 22.7 2.5 22.4 .1 21.8-2.3 21-4.6 19.9-6.7 18.5-8.8 17-10.5 15.4-12 13.7-13.2 11.9-14.1 10.2-14.9 8.4-15.3 6.7-15.6 5.1-15.7 3.6-15.6 2.2-15.3 .8-15-.4-14.5-1.5-13.9-2.4-13.3-3.2-12.6-4-11.9-4.6-11.1-5-10.3-5.4-9.6-5.7-8.8-5.9-8.1-6-7.4-6-6.7-6-6-5.9-5.4-5.7-4.8-5.5-4.3-5.3-3.8-5-3.3-4.7-2.9-4.3-2.5-3.9-2.2-3.6-1.8-3.1-1.5-2.7-1.3-2.3-1-1.8-.8-1.4-.6-.9-.4-.3-1Z" fill="url(#a1_2)"/></g></g><g transform="translate(79.00 32.00)" filter="url(#fwb)"></g></g><text transform="translate(79.51 42.80)" font-size="13.20" style="font-weight:bold" fill="#f3dcf6">(a1)</text>
<g clip-path="url(#a2_clip)"><g filter="url(#fexp)"><rect x="185.70" y="26.00" width="118.90" height="119.70" fill="#000"/><g transform="translate(191.70 32.00)"><ellipse transform="translate(56.50 53.00) rotate(0.0) scale(1.0000 1.0000)" rx="54.00" ry="54.00" fill="url(#a2_1)"/><path transform="translate(56.50 53.00) rotate(0.0) scale(1.000 1.000)" d="M-.6 .8-.9 1.2-1.2 1.6-1.5 2-1.8 2.4-2.2 2.7-2.6 3-3 3.3-3.5 3.6-3.9 3.8-4.4 4-5 4.2-5.6 4.2-6.2 4.3-6.8 4.2-7.5 4.1-8.1 3.9-8.8 3.6-9.5 3.1-10.2 2.6-10.8 2-11.4 1.3-12 .4-12.5-.6-12.9-1.7-13.2-2.9-13.4-4.2-13.4-5.6-13.2-7.1-12.9-8.6-12.3-10.2-11.5-11.8-10.5-13.4-9.1-14.9-7.6-16.3-5.7-17.6-3.7-18.6-1.3-19.5 1.1-19.9 3.5-20.1 5.9-20 8.4-19.6 10.7-18.9 12.9-17.9 15-16.7 17-15.2 18.8-13.6 20.4-11.7 21.8-9.7 22.9-7.6 23.9-5.3 24.6-3 25.1-.6 25.3 1.8 25.3 4.2 25.1 6.6 24.6 9 23.9 11.3 23 13.6 21.9 15.7 20.6 17.8 19.2 19.7 17.5 21.5 15.7 23.1 13.8 24.6 11.8 25.9 9.6 27 7.4 27.9 5.1 28.7 2.7 29.2 .4 29.5-2.1 29.7-4.5 29.6-6.9 29.4-9.3 28.9-11.6 28.3-13.9 27.5-16.1 26.5-18.2 25.3-20.2 24-22.1 22.5-23.9 20.9-25.5 19.1-27 17.2-28.4 15.2-29.6 13.2-30.7 11-31.6 8.8-32.3 6.5-32.9 4.1-33.2 1.7-33.4-.7-33.5-3.1-33.3-5.5-33-7.9-32.5-10.2-31.9-12.6-31.1-14.8-30.1-17-29-19.2-27.7-21.2-26.3-23.2-24.7-25-23.1-26.8-21.3-28.4-19.4-29.9-17.4-31.2-15.3-32.5-13.2-33.6-11-34.5-8.7-35.3-6.4-35.9-4-36.4-1.6-36.7 .8-36.9 3.2-36.9 5.6-36.7 8-36.4 10.4-36 12.7-35.4 15-34.6 17.2-33.7 19.4-32.6 21.5-31.5 23.5-30.1 25.4-28.7 27.2-27.1 29-25.5 30.6-23.7 32.1-21.8 33.5-19.9 34.8-17.8 35.9-15.7 36.9-13.5 37.8-11.3 38.5-9 39.1-6.6 39.6-4.3 39.9-1.9 40 .5 40 2.9 39.9 5.3 39.6 7.7 39.2 10.1 38.6 12.4 37.9 14.7 37.1 17 36.1 19.2 35 21.3 33.8 23.4 32.5 25.4 31 27.3 29.5 29.2 27.8 30.9 26 32.5 24.2 34.1 22.3 35.5 20.2 36.8 18.1 38 16 39.1 13.8 40 11.5 40.8 9.2 41.5 6.9 42.1 4.5 42.5 2.1 42.8-.3 42.9-2.7 42.9-5.1 42.8-7.5 42.6-9.9 42.2-12.2 41.7-14.5 41-16.8 40.2-19 39.3-21.2 38.3-23.3 37.2-25.4 35.9-27.4 34.6-29.3 33.1-31.1 31.5-32.8 29.9-34.5 28.1-36 26.3-37.4 24.3-38.8 22.3-40 20.3-41.1 18.1-42.1 15.9-43 13.7-43.7 11.4-44.4 9.1-44.9 6.7-45.3 4.4-45.5 2-45.6-.4-45.7-2.8-45.5-5.2-45.3-7.6-44.9-10-44.4-12.4-43.8-14.7-43-17-42.2-19.2-41.2-21.4-40.1-23.5-38.9-25.6-37.6-27.7-36.2-29.6-34.7-31.5-33.1-33.3-32-34.4-33.7-32.7-35.3-31-36.9-29.1-38.3-27.2-39.7-25.2-40.9-23.1-42.1-21-43.1-18.8-44-16.6-44.8-14.3-45.5-12-46-9.6-46.4-7.2-46.7-4.8-46.9-2.4-47 0-46.9 2.4-46.8 4.8-46.4 7.2-46 9.6-45.5 11.9-44.8 14.2-44 16.5-43.1 18.7-42.1 20.9-41 23.1-39.7 25.1-38.4 27.1-36.9 29.1-35.4 30.9-33.8 32.7-32 34.4-30.2 36-28.3 37.5-26.4 38.9-24.3 40.2-22.2 41.4-20.8 42.1-18.6 43-16.3 43.8-14 44.5-11.7 45.1-9.3 45.6-6.9 45.9-4.5 46.1-2.1 46.2 .3 46.2 2.7 46 5.1 45.7 7.4 45.3 9.8 44.8 12.1 44.1 14.4 43.3 16.6 42.4 18.8 41.4 20.9 40.3 22.9 39 24.9 37.7 26.9 36.2 28.7 34.7 30.4 33 32.1 31.3 33.7 29.5 35.1 27.6 36.5 25.6 37.7 23.5 38.9 21.4 39.9 19.2 40.8 17 41.6 14.7 42.2 12.4 42.7 10.1 43.1 7.7 43.4 5.3 43.5 2.9 43.5 .5 43.4-1.9 43.1-4.3 42.7-6.7 42.2-9 41.5-11.3 40.7-13.6 39.8-15.8 38.7-18 37.6-20.1 36.3-22.1 34.9-24.1 33.4-26 31.8-27.8 30.1-29.4 28.3-31 26.4-32.5 24.4-33.9 22.4-35.2 20.2-36.3 18.1-37.3 15.8-38.2 13.5-39 11.2-39.6 8.9-40.1 6.5-40.4 4.1-40.6 1.7-40.7-.7-40.6-3.1-40.4-5.5-40-7.9-39.5-10.2-38.8-12.4-38-14.7-37.1-16.8-36-18.9-34.9-20.9-33.6-22.9-32.1-24.7-30.6-26.5-28.9-28.1-27.1-29.6-25.3-31-23.3-32.3-21.3-33.5-19.2-34.5-17-35.4-14.8-36.1-12.5-36.7-10.1-37.1-7.8-37.4-5.4-37.6-3-37.6-.6-37.4 1.8-37.1 4.2-36.6 6.6-35.9 8.9-35.2 11.2-34.2 13.4-33.1 15.6-31.9 17.6-30.6 19.6-29.1 21.5-27.5 23.3-25.8 25-23.9 26.6-22 28-20 29.3-17.9 30.5-15.7 31.5-13.4 32.4-11.1 33.1-8.8 33.6-6.4 34-4 34.2-1.6 34.2 .8 34.1 3.2 33.8 5.6 33.3 7.9 32.7 10.2 31.9 12.4 30.9 14.5 29.8 16.6 28.5 18.5 27.1 20.3 25.5 22 23.8 23.6 22 25.1 20 26.3 18 27.5 15.8 28.4 13.6 29.2 11.3 29.8 9 30.2 6.6 30.5 4.2 30.5 1.8 30.4-.6 30-3 29.5-5.3 28.7-7.6 27.8-9.9 26.7-12 25.5-14.1 24-16 22.4-17.8 20.7-19.5 18.8-21 16.8-22.4 14.7-23.5 12.4-24.5 10.1-25.3 7.8-25.8 5.4-26.2 3-26.3 .6-26.2-1.8-25.9-4.2-25.3-6.5-24.5-8.7-23.5-10.8-22.3-12.8-20.9-14.6-19.2-16.2-17.5-17.7-15.5-18.9-13.4-19.9-11.2-20.6-8.8-21.1-6.5-21.3-4-21.2-1.6-20.8 .8-20.2 3.2-19.2 5.4-18 7.6-16.5 9.5-14.8 11.1-13 12.5-11.2 13.5-9.3 14.2-7.5 14.7-5.7 14.9-4 15-2.4 14.8-1 14.5 .4 14 1.5 13.4 2.6 12.7 3.5 12 4.3 11.2 4.9 10.4 5.4 9.6 5.8 8.8 6 8 6.2 7.2 6.3 6.4 6.3 5.7 6.2 5.1 6 4.5 5.8 3.9 5.6 3.4 5.2 2.9 4.9 2.5 4.5 2.1 4.1 1.8 3.7 1.5 3.3 1.2 2.8 1 2.4 .8 1.9 .6 1.4 .4 1 .3 .3 .9ZM.6-.8 .9-1.2 1.2-1.6 1.5-2 1.8-2.4 2.2-2.7 2.6-3 3-3.3 3.5-3.6 3.9-3.8 4.4-4 5-4.2 5.6-4.2 6.2-4.3 6.8-4.2 7.5-4.1 8.1-3.9 8.8-3.6 9.5-3.1 10.2-2.6 10.8-2 11.4-1.3 12-.4 12.5 .6 12.9 1.7 13.2 2.9 13.4 4.2 13.4 5.6 13.2 7.1 12.9 8.6 12.3 10.2 11.5 11.8 10.5 13.4 9.1 14.9 7.6 16.3 5.7 17.6 3.7 18.6 1.3 19.5-1.1 19.9-3.5 20.1-5.9 20-8.4 19.6-10.7 18.9-12.9 17.9-15 16.7-17 15.2-18.8 13.6-20.4 11.7-21.8 9.7-22.9 7.6-23.9 5.3-24.6 3-25.1 .6-25.3-1.8-25.3-4.2-25.1-6.6-24.6-9-23.9-11.3-23-13.6-21.9-15.7-20.6-17.8-19.2-19.7-17.5-21.5-15.7-23.1-13.8-24.6-11.8-25.9-9.6-27-7.4-27.9-5.1-28.7-2.7-29.2-.4-29.5 2.1-29.7 4.5-29.6 6.9-29.4 9.3-28.9 11.6-28.3 13.9-27.5 16.1-26.5 18.2-25.3 20.2-24 22.1-22.5 23.9-20.9 25.5-19.1 27-17.2 28.4-15.2 29.6-13.2 30.7-11 31.6-8.8 32.3-6.5 32.9-4.1 33.2-1.7 33.4 .7 33.5 3.1 33.3 5.5 33 7.9 32.5 10.2 31.9 12.6 31.1 14.8 30.1 17 29 19.2 27.7 21.2 26.3 23.2 24.7 25 23.1 26.8 21.3 28.4 19.4 29.9 17.4 31.2 15.3 32.5 13.2 33.6 11 34.5 8.7 35.3 6.4 35.9 4 36.4 1.6 36.7-.8 36.9-3.2 36.9-5.6 36.7-8 36.4-10.4 36-12.7 35.4-15 34.6-17.2 33.7-19.4 32.6-21.5 31.5-23.5 30.1-25.4 28.7-27.2 27.1-29 25.5-30.6 23.7-32.1 21.8-33.5 19.9-34.8 17.8-35.9 15.7-36.9 13.5-37.8 11.3-38.5 9-39.1 6.6-39.6 4.3-39.9 1.9-40-.5-40-2.9-39.9-5.3-39.6-7.7-39.2-10.1-38.6-12.4-37.9-14.7-37.1-17-36.1-19.2-35-21.3-33.8-23.4-32.5-25.4-31-27.3-29.5-29.2-27.8-30.9-26-32.5-24.2-34.1-22.3-35.5-20.2-36.8-18.1-38-16-39.1-13.8-40-11.5-40.8-9.2-41.5-6.9-42.1-4.5-42.5-2.1-42.8 .3-42.9 2.7-42.9 5.1-42.8 7.5-42.6 9.9-42.2 12.2-41.7 14.5-41 16.8-40.2 19-39.3 21.2-38.3 23.3-37.2 25.4-35.9 27.4-34.6 29.3-33.1 31.1-31.5 32.8-29.9 34.5-28.1 36-26.3 37.4-24.3 38.8-22.3 40-20.3 41.1-18.1 42.1-15.9 43-13.7 43.7-11.4 44.4-9.1 44.9-6.7 45.3-4.4 45.5-2 45.6 .4 45.7 2.8 45.5 5.2 45.3 7.6 44.9 10 44.4 12.4 43.8 14.7 43 17 42.2 19.2 41.2 21.4 40.1 23.5 38.9 25.6 37.6 27.7 36.2 29.6 34.7 31.5 33.1 33.3 32 34.4 33.7 32.7 35.3 31 36.9 29.1 38.3 27.2 39.7 25.2 40.9 23.1 42.1 21 43.1 18.8 44 16.6 44.8 14.3 45.5 12 46 9.6 46.4 7.2 46.7 4.8 46.9 2.4 47 0 46.9-2.4 46.8-4.8 46.4-7.2 46-9.6 45.5-11.9 44.8-14.2 44-16.5 43.1-18.7 42.1-20.9 41-23.1 39.7-25.1 38.4-27.1 36.9-29.1 35.4-30.9 33.8-32.7 32-34.4 30.2-36 28.3-37.5 26.4-38.9 24.3-40.2 22.2-41.4 20.8-42.1 18.6-43 16.3-43.8 14-44.5 11.7-45.1 9.3-45.6 6.9-45.9 4.5-46.1 2.1-46.2-.3-46.2-2.7-46-5.1-45.7-7.4-45.3-9.8-44.8-12.1-44.1-14.4-43.3-16.6-42.4-18.8-41.4-20.9-40.3-22.9-39-24.9-37.7-26.9-36.2-28.7-34.7-30.4-33-32.1-31.3-33.7-29.5-35.1-27.6-36.5-25.6-37.7-23.5-38.9-21.4-39.9-19.2-40.8-17-41.6-14.7-42.2-12.4-42.7-10.1-43.1-7.7-43.4-5.3-43.5-2.9-43.5-.5-43.4 1.9-43.1 4.3-42.7 6.7-42.2 9-41.5 11.3-40.7 13.6-39.8 15.8-38.7 18-37.6 20.1-36.3 22.1-34.9 24.1-33.4 26-31.8 27.8-30.1 29.4-28.3 31-26.4 32.5-24.4 33.9-22.4 35.2-20.2 36.3-18.1 37.3-15.8 38.2-13.5 39-11.2 39.6-8.9 40.1-6.5 40.4-4.1 40.6-1.7 40.7 .7 40.6 3.1 40.4 5.5 40 7.9 39.5 10.2 38.8 12.4 38 14.7 37.1 16.8 36 18.9 34.9 20.9 33.6 22.9 32.1 24.7 30.6 26.5 28.9 28.1 27.1 29.6 25.3 31 23.3 32.3 21.3 33.5 19.2 34.5 17 35.4 14.8 36.1 12.5 36.7 10.1 37.1 7.8 37.4 5.4 37.6 3 37.6 .6 37.4-1.8 37.1-4.2 36.6-6.6 35.9-8.9 35.2-11.2 34.2-13.4 33.1-15.6 31.9-17.6 30.6-19.6 29.1-21.5 27.5-23.3 25.8-25 23.9-26.6 22-28 20-29.3 17.9-30.5 15.7-31.5 13.4-32.4 11.1-33.1 8.8-33.6 6.4-34 4-34.2 1.6-34.2-.8-34.1-3.2-33.8-5.6-33.3-7.9-32.7-10.2-31.9-12.4-30.9-14.5-29.8-16.6-28.5-18.5-27.1-20.3-25.5-22-23.8-23.6-22-25.1-20-26.3-18-27.5-15.8-28.4-13.6-29.2-11.3-29.8-9-30.2-6.6-30.5-4.2-30.5-1.8-30.4 .6-30 3-29.5 5.3-28.7 7.6-27.8 9.9-26.7 12-25.5 14.1-24 16-22.4 17.8-20.7 19.5-18.8 21-16.8 22.4-14.7 23.5-12.4 24.5-10.1 25.3-7.8 25.8-5.4 26.2-3 26.3-.6 26.2 1.8 25.9 4.2 25.3 6.5 24.5 8.7 23.5 10.8 22.3 12.8 20.9 14.6 19.2 16.2 17.5 17.7 15.5 18.9 13.4 19.9 11.2 20.6 8.8 21.1 6.5 21.3 4 21.2 1.6 20.8-.8 20.2-3.2 19.2-5.4 18-7.6 16.5-9.5 14.8-11.1 13-12.5 11.2-13.5 9.3-14.2 7.5-14.7 5.7-14.9 4-15 2.4-14.8 1-14.5-.4-14-1.5-13.4-2.6-12.7-3.5-12-4.3-11.2-4.9-10.4-5.4-9.6-5.8-8.8-6-8-6.2-7.2-6.3-6.4-6.3-5.7-6.2-5.1-6-4.5-5.8-3.9-5.6-3.4-5.2-2.9-4.9-2.5-4.5-2.1-4.1-1.8-3.7-1.5-3.3-1.2-2.8-1-2.4-.8-1.9-.6-1.4-.4-1-.3-.3-.9Z" fill="url(#a2_2)"/></g></g><g transform="translate(191.70 32.00)" filter="url(#fwb)"></g></g><text transform="translate(192.21 42.80)" font-size="13.20" style="font-weight:bold" fill="#f3dcf6">(a2)</text>
<g clip-path="url(#a3_clip)"><g filter="url(#fexp)"><rect x="296.80" y="26.00" width="119.00" height="119.70" fill="#000"/><g transform="translate(302.80 32.00)"><ellipse transform="translate(56.50 55.50) rotate(0.0) scale(1.0200 0.9900)" rx="50.00" ry="50.00" fill="url(#a3_1)"/><path transform="translate(56.50 55.50) rotate(0.0) scale(1.000 1.000)" d="M0 0-.1 .5-.3 1-.4 1.4-.6 1.9-.8 2.4-1 2.8-1.3 3.3-1.5 3.7-1.9 4.1-2.2 4.5-2.7 4.8-3.1 5.1-3.6 5.4-4.2 5.6-4.8 5.7-5.5 5.8-6.2 5.8-7 5.7-7.7 5.5-8.6 5.2-9.4 4.7-10.2 4.2-11 3.4-11.7 2.6-12.4 1.5-13 .3-13.5-1-13.8-2.4-13.9-4-13.9-5.7-13.5-7.5-13-9.4-12.1-11.2-10.9-13-9.4-14.7-7.6-16.3-5.5-17.6-3.3-18.7-.9-19.4 1.5-19.7 3.9-19.8 6.4-19.6 8.8-19 11.1-18.2 13.2-17.2 15.3-15.8 17.2-14.3 18.9-12.5 20.4-10.6 21.6-8.6 22.7-6.4 23.5-4.1 24.1-1.7 24.4 .7 24.5 3.1 24.3 5.5 23.9 7.9 23.3 10.3 22.4 12.5 21.4 14.7 20.1 16.8 18.6 18.7 17 20.5 15.2 22.1 13.3 23.6 11.2 24.9 9.1 26 6.8 26.8 4.5 27.5 2.2 28-.2 28.3-2.7 28.4-5.1 28.3-7.5 27.9-9.8 27.4-12.1 26.7-14.3 25.7-16.5 24.6-18.5 23.4-20.5 21.9-22.3 20.4-24 18.6-25.5 16.8-26.9 14.8-28.1 12.7-29.2 10.5-30.1 8.3-30.8 6-31.3 3.6-31.7 1.3-31.8-1.1-31.8-3.6-31.6-6-31.2-8.3-30.7-10.7-29.9-13-29-15.2-28-17.4-26.8-19.5-25.4-21.4-23.9-23.3-22.2-25.1-20.5-26.7-18.6-28.2-16.6-29.6-14.5-30.8-12.4-31.9-10.1-32.8-7.9-33.6-5.5-34.2-3.2-34.6-.8-34.9 1.6-35 4.1-34.9 6.5-34.7 8.8-34.3 11.2-33.7 13.5-33 15.7-32.1 17.9-31.1 20-30 22-28.7 24-27.2 25.8-25.7 27.5-24 29.1-22.2 30.6-20.3 32-18.3 33.2-16.3 34.3-14.1 35.3-11.9 36.1-9.6 36.7-7.3 37.2-5 37.6-2.6 37.8-.2 37.8 2.2 37.7 4.6 37.5 7 37.1 9.4 36.5 11.7 35.8 14 35 16.3 34 18.5 32.9 20.6 31.6 22.7 30.2 24.6 28.7 26.5 27.1 28.3 25.4 30 23.6 31.6 21.7 33 19.7 34.4 17.6 35.6 15.5 36.7 13.3 37.7 11 38.5 8.7 39.2 6.4 39.7 4 40.1 1.6 40.4-.8 40.5-3.2 40.5-5.6 40.3-8 40-10.4 39.6-12.7 39-12.8 39-10.5 39.6-8.1 40.2-5.7 40.6-3.3 40.9-.9 41 1.6 41 4 40.8 6.4 40.5 8.8 40 11.1 39.5 13.5 38.7 15.7 37.9 17.9 36.9 20.1 35.7 22.2 34.5 24.2 33.1 26.1 31.6 27.9 30 29.7 28.3 31.3 26.5 32.8 24.6 34.2 22.6 35.5 20.6 36.6 18.4 37.7 16.2 38.5 14 39.3 11.7 39.3 11.5 39.9 9.2 40.2 6.8 40.5 4.4 40.6 2 40.5-.4 40.3-2.8 40-5.2 39.5-7.5 38.9-9.8 38.1-12.1 37.2-14.4 36.2-16.5 35.1-18.6 33.8-20.7 32.4-22.6 30.9-24.5 29.2-26.3 27.5-27.9 25.7-29.5 23.7-30.9 21.7-32.3 19.6-33.4 17.5-34.5 15.2-35.4 13-36.2 10.7-36.8 8.3-37.3 5.9-37.7 3.5-37.9 1.1-37.9-1.3-37.8-3.7-37.5-6.1-37.1-8.4-36.5-10.7-35.8-12.9-34.9-15.1-33.9-17.2-32.7-19.3-31.4-21.2-30-23-28.5-24.8-26.8-26.4-25-27.9-23.2-29.3-21.2-30.5-19.1-31.6-17-32.6-14.8-33.4-12.5-34-10.2-34.5-7.8-34.9-5.4-35-3-35-.6-34.8 1.8-34.5 4.2-34 6.5-33.3 8.8-32.5 11.1-31.5 13.3-30.4 15.4-29.1 17.5-27.7 19.4-26.1 21.2-24.4 22.9-22.6 24.5-20.7 26-18.7 27.3-16.6 28.5-14.4 29.5-12.1 30.3-9.8 31-7.4 31.5-5 31.8-2.6 31.9-.2 31.9 2.2 31.6 4.6 31.2 6.9 30.6 9.2 29.8 11.4 28.9 13.5 27.8 15.6 26.5 17.5 25 19.3 23.4 21 21.7 22.5 19.8 23.9 17.9 25.1 15.8 26.2 13.6 27 11.3 27.7 9 28.1 6.6 28.4 4.2 28.5 1.8 28.3-.6 28-3 27.4-5.3 26.6-7.6 25.7-9.8 24.5-12 23.2-14 21.7-15.9 20-17.6 18.1-19.2 16.2-20.6 14.1-21.8 11.9-22.8 9.6-23.6 7.2-24.1 4.8-24.5 2.4-24.5 0-24.4-2.4-24-4.8-23.4-7-22.5-9.2-21.4-11.2-20-13.1-18.5-14.8-16.7-16.3-14.8-17.5-12.7-18.6-10.5-19.3-8.2-19.8-5.8-19.9-3.4-19.8-.9-19.3 1.5-18.6 3.8-17.5 6-16.1 8.1-14.5 9.8-12.7 11.3-10.9 12.4-9 13.2-7.1 13.8-5.3 14-3.6 14-2 13.9-.6 13.5 .7 13 1.9 12.4 2.9 11.6 3.7 10.9 4.4 10.1 5 9.2 5.4 8.4 5.7 7.6 5.9 6.8 6 6 6 5.3 5.9 4.7 5.7 4 5.5 3.5 5.2 3 4.9 2.5 4.5 2.1 4.1 1.7 3.7 1.4 3.3 1.2 2.9 .9 2.4 .7 1.9 .5 1.4 .4 1 .3 .5 .1 0 0 0 0ZM0 0 .1-.5 .3-1 .4-1.4 .6-1.9 .8-2.4 1-2.8 1.3-3.3 1.5-3.7 1.9-4.1 2.2-4.5 2.7-4.8 3.1-5.1 3.6-5.4 4.2-5.6 4.8-5.7 5.5-5.8 6.2-5.8 7-5.7 7.7-5.5 8.6-5.2 9.4-4.7 10.2-4.2 11-3.4 11.7-2.6 12.4-1.5 13-.3 13.5 1 13.8 2.4 13.9 4 13.9 5.7 13.5 7.5 13 9.4 12.1 11.2 10.9 13 9.4 14.7 7.6 16.3 5.5 17.6 3.3 18.7 .9 19.4-1.5 19.7-3.9 19.8-6.4 19.6-8.8 19-11.1 18.2-13.2 17.2-15.3 15.8-17.2 14.3-18.9 12.5-20.4 10.6-21.6 8.6-22.7 6.4-23.5 4.1-24.1 1.7-24.4-.7-24.5-3.1-24.3-5.5-23.9-7.9-23.3-10.3-22.4-12.5-21.4-14.7-20.1-16.8-18.6-18.7-17-20.5-15.2-22.1-13.3-23.6-11.2-24.9-9.1-26-6.8-26.8-4.5-27.5-2.2-28 .2-28.3 2.7-28.4 5.1-28.3 7.5-27.9 9.8-27.4 12.1-26.7 14.3-25.7 16.5-24.6 18.5-23.4 20.5-21.9 22.3-20.4 24-18.6 25.5-16.8 26.9-14.8 28.1-12.7 29.2-10.5 30.1-8.3 30.8-6 31.3-3.6 31.7-1.3 31.8 1.1 31.8 3.6 31.6 6 31.2 8.3 30.7 10.7 29.9 13 29 15.2 28 17.4 26.8 19.5 25.4 21.4 23.9 23.3 22.2 25.1 20.5 26.7 18.6 28.2 16.6 29.6 14.5 30.8 12.4 31.9 10.1 32.8 7.9 33.6 5.5 34.2 3.2 34.6 .8 34.9-1.6 35-4.1 34.9-6.5 34.7-8.8 34.3-11.2 33.7-13.5 33-15.7 32.1-17.9 31.1-20 30-22 28.7-24 27.2-25.8 25.7-27.5 24-29.1 22.2-30.6 20.3-32 18.3-33.2 16.3-34.3 14.1-35.3 11.9-36.1 9.6-36.7 7.3-37.2 5-37.6 2.6-37.8 .2-37.8-2.2-37.7-4.6-37.5-7-37.1-9.4-36.5-11.7-35.8-14-35-16.3-34-18.5-32.9-20.6-31.6-22.7-30.2-24.6-28.7-26.5-27.1-28.3-25.4-30-23.6-31.6-21.7-33-19.7-34.4-17.6-35.6-15.5-36.7-13.3-37.7-11-38.5-8.7-39.2-6.4-39.7-4-40.1-1.6-40.4 .8-40.5 3.2-40.5 5.6-40.3 8-40 10.4-39.6 12.7-39 12.8-39 10.5-39.6 8.1-40.2 5.7-40.6 3.3-40.9 .9-41-1.6-41-4-40.8-6.4-40.5-8.8-40-11.1-39.5-13.5-38.7-15.7-37.9-17.9-36.9-20.1-35.7-22.2-34.5-24.2-33.1-26.1-31.6-27.9-30-29.7-28.3-31.3-26.5-32.8-24.6-34.2-22.6-35.5-20.6-36.6-18.4-37.7-16.2-38.5-14-39.3-11.7-39.3-11.5-39.9-9.2-40.2-6.8-40.5-4.4-40.6-2-40.5 .4-40.3 2.8-40 5.2-39.5 7.5-38.9 9.8-38.1 12.1-37.2 14.4-36.2 16.5-35.1 18.6-33.8 20.7-32.4 22.6-30.9 24.5-29.2 26.3-27.5 27.9-25.7 29.5-23.7 30.9-21.7 32.3-19.6 33.4-17.5 34.5-15.2 35.4-13 36.2-10.7 36.8-8.3 37.3-5.9 37.7-3.5 37.9-1.1 37.9 1.3 37.8 3.7 37.5 6.1 37.1 8.4 36.5 10.7 35.8 12.9 34.9 15.1 33.9 17.2 32.7 19.3 31.4 21.2 30 23 28.5 24.8 26.8 26.4 25 27.9 23.2 29.3 21.2 30.5 19.1 31.6 17 32.6 14.8 33.4 12.5 34 10.2 34.5 7.8 34.9 5.4 35 3 35 .6 34.8-1.8 34.5-4.2 34-6.5 33.3-8.8 32.5-11.1 31.5-13.3 30.4-15.4 29.1-17.5 27.7-19.4 26.1-21.2 24.4-22.9 22.6-24.5 20.7-26 18.7-27.3 16.6-28.5 14.4-29.5 12.1-30.3 9.8-31 7.4-31.5 5-31.8 2.6-31.9 .2-31.9-2.2-31.6-4.6-31.2-6.9-30.6-9.2-29.8-11.4-28.9-13.5-27.8-15.6-26.5-17.5-25-19.3-23.4-21-21.7-22.5-19.8-23.9-17.9-25.1-15.8-26.2-13.6-27-11.3-27.7-9-28.1-6.6-28.4-4.2-28.5-1.8-28.3 .6-28 3-27.4 5.3-26.6 7.6-25.7 9.8-24.5 12-23.2 14-21.7 15.9-20 17.6-18.1 19.2-16.2 20.6-14.1 21.8-11.9 22.8-9.6 23.6-7.2 24.1-4.8 24.5-2.4 24.5 0 24.4 2.4 24 4.8 23.4 7 22.5 9.2 21.4 11.2 20 13.1 18.5 14.8 16.7 16.3 14.8 17.5 12.7 18.6 10.5 19.3 8.2 19.8 5.8 19.9 3.4 19.8 .9 19.3-1.5 18.6-3.8 17.5-6 16.1-8.1 14.5-9.8 12.7-11.3 10.9-12.4 9-13.2 7.1-13.8 5.3-14 3.6-14 2-13.9 .6-13.5-.7-13-1.9-12.4-2.9-11.6-3.7-10.9-4.4-10.1-5-9.2-5.4-8.4-5.7-7.6-5.9-6.8-6-6-6-5.3-5.9-4.7-5.7-4-5.5-3.5-5.2-3-4.9-2.5-4.5-2.1-4.1-1.7-3.7-1.4-3.3-1.2-2.9-.9-2.4-.7-1.9-.5-1.4-.4-1-.3-.5-.1 0 0 0 0Z" fill="url(#a3_2)"/><path transform="translate(56.50 55.50) rotate(0.0) scale(1.000 1.000)" d="M-8.1-7.4-7.8-8.5-7.3-9.5-6.7-10.6-5.9-11.6-4.9-12.6-3.7-13.5-2.3-14.3-.7-15 1-15.5 3-15.7 5-15.7 7.1-15.4 9.3-14.8 11.5-13.8 13.6-12.5 15.5-10.9 17.1-9.1 18.5-7.1 19.6-4.9 20.4-2.6 21-.2 21.2 2.2 21.2 4.7 20.8 7.1 20.2 9.4 19.4 11.7 18.3 13.9 17 15.9 15.4 17.8 13.7 19.5 11.8 21 9.8 22.4 7.6 23.5 5.4 24.3 3 25 .6 25.4-1.8 25.6-4.2 25.6-6.6 25.3-9 24.8-11.3 24.1-13.5 23.2-15.7 22.1-17.7 20.8-19.6 19.3-21.4 17.6-23 15.8-24.4 13.9-25.7 11.8-26.8 9.7-27.7 7.5-28.4 5.1-29 2.8-29.3 .4-29.4-2-29.3-4.4-29-6.8-28.6-9.2-27.9-11.5-27.1-13.8-26-16-24.8-18.1-23.5-20-22-21.9-20.3-23.7-18.5-25.3-16.6-26.8-14.6-28.1-12.5-29.3-10.3-30.3-8.1-31.1-5.8-31.8-3.4-32.3-1-32.6 1.4-32.8 3.8-32.7 6.2-32.5 8.6-32.1 10.9-31.5 13.2-30.8 15.5-29.9 17.6-28.8 19.7-27.6 21.7-26.3 23.6-24.8 25.4-23.2 27-21.4 28.6-19.6 30-17.6 31.2-15.5 32.3-13.4 33.3-11.2 34.1-8.9 34.8-6.6 35.3-4.3 35.6-1.9 35.8 .5 35.8 2.9 35.6 5.3 35.3 7.7 34.8 10.1 34.2 12.4 33.4 14.7 32.5 16.9 31.4 19.1 30.2 21.1 28.9 23.1 27.4 25 25.8 26.8 24.1 28.5 22.3 30.1 20.4 31.6 18.4 32.9 16.3 34.1 14.1 35.2 11.9 36.1 9.6 36.9 7.3 37.5 4.9 38 2.6 38.4 .2 38.6-2.2 38.6-4.6 38.5-7 38.2-9.4 37.8-11.8 37.3-14.1 36.6-16.3 35.8-18.5 34.8-20.6 33.7-22.7 32.5-24.7 31.1-26.6 29.6-28.4 28-29.8 26.7-28 28.6-26.1 30.3-24 32-21.9 33.5-19.7 34.8-17.3 36.1-14.9 37.1-12.5 38-10 38.7-7.4 39.3-4.8 39.7-2.9 39.8-.5 39.8 1.9 39.7 4.3 39.4 6.7 38.9 9 38.4 11.3 37.6 13.6 36.8 15.8 35.8 17.9 34.7 19.9 33.4 21.9 32 23.8 30.5 25.6 28.9 27.2 27.2 28.8 25.3 30.2 23.4 31.6 21.4 32.8 19.3 33.8 17.1 34.7 14.9 35.5 12.6 36.1 10.3 36.6 8 36.9 5.6 37.1 3.2 37.1 .8 37-1.6 36.7-4 36.2-6.4 35.6-8.7 34.8-11 33.9-13.2 32.8-15.4 31.6-17.5 30.3-19.5 28.8-21.4 27.2-23.2 25.5-24.9 23.7-26.5 21.8-27.9 19.8-29.2 17.7-30.4 15.5-31.4 13.2-32.3 10.9-33 8.6-33.5 6.2-33.9 3.8-34.1 1.4-34.2-1-34.1-3.4-33.8-5.8-33.3-8.1-32.7-10.4-31.9-12.6-30.9-14.7-29.8-16.8-28.5-18.7-27.1-20.5-25.5-22.3-23.9-23.9-22-25.3-20.1-26.6-18.1-27.8-16-28.7-13.8-29.5-11.5-30.2-9.2-30.6-6.8-30.9-4.4-31-2-30.9 .4-30.6 2.8-30.1 5.2-29.4 7.5-28.6 9.7-27.5 11.9-26.3 14-25 16-23.4 17.9-21.8 19.6-19.9 21.2-18 22.6-15.9 23.9-13.8 25-11.5 25.9-9.2 26.6-6.8 27.1-4.4 27.3-2 27.4 .4 27.3 2.8 26.9 5.1 26.3 7.4 25.6 9.6 24.6 11.7 23.4 13.7 22 15.6 20.4 17.2 18.7 18.8 16.8 20.1 14.8 21.2 12.6 22.1 10.4 22.7 8 23.2 5.6 23.3 3.2 23.3 .8 22.9-1.6 22.3-4 21.4-6.2 20.3-8.4 19-10.4 17.4-12.3 15.6-14 13.7-15.4 11.5-16.6 9.3-17.5 6.9-18.1 4.4-18.4 2-18.4-.4-18-2.7-17.3-4.8-16.3-6.6-15.1-8.1-13.8-9.4-12.3-10.4-10.8-11.2-9.3-11.7-7.7-12-6.3-12.1-4.9-12-3.6-11.8-2.3-11.4-1.2-11-.3-10.6-2.9-9.6-5.3ZM8.1 7.4 7.8 8.5 7.3 9.5 6.7 10.6 5.9 11.6 4.9 12.6 3.7 13.5 2.3 14.3 .7 15-1 15.5-3 15.7-5 15.7-7.1 15.4-9.3 14.8-11.5 13.8-13.6 12.5-15.5 10.9-17.1 9.1-18.5 7.1-19.6 4.9-20.4 2.6-21 .2-21.2-2.2-21.2-4.7-20.8-7.1-20.2-9.4-19.4-11.7-18.3-13.9-17-15.9-15.4-17.8-13.7-19.5-11.8-21-9.8-22.4-7.6-23.5-5.4-24.3-3-25-.6-25.4 1.8-25.6 4.2-25.6 6.6-25.3 9-24.8 11.3-24.1 13.5-23.2 15.7-22.1 17.7-20.8 19.6-19.3 21.4-17.6 23-15.8 24.4-13.9 25.7-11.8 26.8-9.7 27.7-7.5 28.4-5.1 29-2.8 29.3-.4 29.4 2 29.3 4.4 29 6.8 28.6 9.2 27.9 11.5 27.1 13.8 26 16 24.8 18.1 23.5 20 22 21.9 20.3 23.7 18.5 25.3 16.6 26.8 14.6 28.1 12.5 29.3 10.3 30.3 8.1 31.1 5.8 31.8 3.4 32.3 1 32.6-1.4 32.8-3.8 32.7-6.2 32.5-8.6 32.1-10.9 31.5-13.2 30.8-15.5 29.9-17.6 28.8-19.7 27.6-21.7 26.3-23.6 24.8-25.4 23.2-27 21.4-28.6 19.6-30 17.6-31.2 15.5-32.3 13.4-33.3 11.2-34.1 8.9-34.8 6.6-35.3 4.3-35.6 1.9-35.8-.5-35.8-2.9-35.6-5.3-35.3-7.7-34.8-10.1-34.2-12.4-33.4-14.7-32.5-16.9-31.4-19.1-30.2-21.1-28.9-23.1-27.4-25-25.8-26.8-24.1-28.5-22.3-30.1-20.4-31.6-18.4-32.9-16.3-34.1-14.1-35.2-11.9-36.1-9.6-36.9-7.3-37.5-4.9-38-2.6-38.4-.2-38.6 2.2-38.6 4.6-38.5 7-38.2 9.4-37.8 11.8-37.3 14.1-36.6 16.3-35.8 18.5-34.8 20.6-33.7 22.7-32.5 24.7-31.1 26.6-29.6 28.4-28 29.8-26.7 28-28.6 26.1-30.3 24-32 21.9-33.5 19.7-34.8 17.3-36.1 14.9-37.1 12.5-38 10-38.7 7.4-39.3 4.8-39.7 2.9-39.8 .5-39.8-1.9-39.7-4.3-39.4-6.7-38.9-9-38.4-11.3-37.6-13.6-36.8-15.8-35.8-17.9-34.7-19.9-33.4-21.9-32-23.8-30.5-25.6-28.9-27.2-27.2-28.8-25.3-30.2-23.4-31.6-21.4-32.8-19.3-33.8-17.1-34.7-14.9-35.5-12.6-36.1-10.3-36.6-8-36.9-5.6-37.1-3.2-37.1-.8-37 1.6-36.7 4-36.2 6.4-35.6 8.7-34.8 11-33.9 13.2-32.8 15.4-31.6 17.5-30.3 19.5-28.8 21.4-27.2 23.2-25.5 24.9-23.7 26.5-21.8 27.9-19.8 29.2-17.7 30.4-15.5 31.4-13.2 32.3-10.9 33-8.6 33.5-6.2 33.9-3.8 34.1-1.4 34.2 1 34.1 3.4 33.8 5.8 33.3 8.1 32.7 10.4 31.9 12.6 30.9 14.7 29.8 16.8 28.5 18.7 27.1 20.5 25.5 22.3 23.9 23.9 22 25.3 20.1 26.6 18.1 27.8 16 28.7 13.8 29.5 11.5 30.2 9.2 30.6 6.8 30.9 4.4 31 2 30.9-.4 30.6-2.8 30.1-5.2 29.4-7.5 28.6-9.7 27.5-11.9 26.3-14 25-16 23.4-17.9 21.8-19.6 19.9-21.2 18-22.6 15.9-23.9 13.8-25 11.5-25.9 9.2-26.6 6.8-27.1 4.4-27.3 2-27.4-.4-27.3-2.8-26.9-5.1-26.3-7.4-25.6-9.6-24.6-11.7-23.4-13.7-22-15.6-20.4-17.2-18.7-18.8-16.8-20.1-14.8-21.2-12.6-22.1-10.4-22.7-8-23.2-5.6-23.3-3.2-23.3-.8-22.9 1.6-22.3 4-21.4 6.2-20.3 8.4-19 10.4-17.4 12.3-15.6 14-13.7 15.4-11.5 16.6-9.3 17.5-6.9 18.1-4.4 18.4-2 18.4 .4 18 2.7 17.3 4.8 16.3 6.6 15.1 8.1 13.8 9.4 12.3 10.4 10.8 11.2 9.3 11.7 7.7 12 6.3 12.1 4.9 12 3.6 11.8 2.3 11.4 1.2 11 .3 10.6 2.9 9.6 5.3Z" fill="url(#a3_3)"/><ellipse transform="translate(56.50 55.50) rotate(40.0) scale(1.0000 1.2000)" rx="8.00" ry="8.00" fill="url(#a3_4)"/></g></g><g transform="translate(302.80 32.00)" filter="url(#fwb)"></g></g><text transform="translate(303.31 42.80)" font-size="13.20" style="font-weight:bold" fill="#f3dcf6">(a3)</text>
<g clip-path="url(#a4_clip)"><g filter="url(#fexp)"><rect x="407.60" y="26.00" width="119.40" height="119.70" fill="#000"/><g transform="translate(413.60 32.00)"><ellipse transform="translate(55.20 56.00) rotate(0.0) scale(1.0200 0.9900)" rx="54.00" ry="54.00" fill="url(#a4_1)"/><path transform="translate(55.20 56.00) rotate(0.0) scale(1.000 1.000)" d="M13.5-6.6 14.6-4.4 15.3-2.1 15.6 .3 15.6 2.7 15.2 5.1 14.5 7.4 13.4 9.5 12 11.5 10.3 13.3 8.4 14.8 6.4 16 4.1 16.9 1.8 17.5-.6 17.7-3 17.7-5.4 17.3-7.7 16.6-9.9 15.6-11.9 14.3-13.8 12.8-15.4 11-16.9 9.1-18 6.9-18.9 4.7-19.5 2.4-19.8 0-19.8-2.4-19.5-4.8-19-7.2-18.1-9.4-17-11.6-15.7-13.6-14.1-15.4-12.4-17-10.4-18.5-8.3-19.7-6.1-20.6-3.8-21.3-1.5-21.7 .9-21.9 3.3-21.8 5.7-21.5 8.1-20.9 10.3-20 12.5-18.9 14.5-17.6 16.3-16.1 18-14.4 19.5-12.5 20.9-10.5 22-8.4 22.8-6.1 23.5-3.8 23.9-1.4 24 1 23.9 3.4 23.6 5.8 23.1 8.1 22.3 10.4 21.3 12.6 20.1 14.6 18.6 16.6 17.1 18.4 15.3 20 13.4 21.5 11.4 22.8 9.2 23.9 7 24.7 4.7 25.4 2.3 25.9-.1 26.1-2.5 26.1-4.9 25.9-7.3 25.4-9.6 24.8-11.8 23.9-14 22.9-16 21.6-18 20.2-19.8 18.6-21.4 16.9-22.9 15-24.3 13-25.4 10.9-26.4 8.7-27.1 6.4-27.7 4-28 1.7-28.2-.7-28.1-3.1-27.9-5.5-27.4-7.9-26.8-10.2-25.9-12.4-24.9-14.6-23.7-16.7-22.3-18.7-20.8-20.5-19.1-22.2-17.3-23.8-15.3-25.2-13.3-26.5-11.2-27.6-8.9-28.5-6.6-29.2-4.3-29.8-1.9-30.1 .5-30.3 2.9-30.3 5.3-30 7.6-29.6 10-29 12.2-28.3 14.5-27.3 16.6-26.2 18.6-24.9 20.6-23.5 22.4-21.9 24.1-20.2 25.6-18.4 27-16.4 28.3-14.4 29.4-12.3 30.3-10 31.1-7.8 31.7-5.4 32.1-3.1 32.3-.7 32.4 1.7 32.3 4.1 32 6.5 31.5 8.9 30.9 11.2 30 13.4 29.1 15.6 27.9 17.8 26.7 19.8 25.2 21.7 23.7 23.6 22 25.3 20.2 26.9 18.3 28.3 16.3 29.6 14.2 30.8 12 31.8 9.7 32.6 7.4 33.3 5.1 33.9 2.7 34.2 .3 34.4-2.1 34.5-4.5 34.3-6.9 34-9.2 33.6-11.5 32.9-13.8 32.2-16 31.2-18.2 30.1-20.2 28.9-22.2 27.5-24.1 26-25.8 24.4-27.5 22.6-29 20.8-30.4 18.9-31.7 16.8-32.8 14.7-33.8 12.5-34.7 10.3-35.4 8-35.9 5.6-36.3 3.2-36.5 .8-36.6-1.6-36.5-4-36.2-6.3-35.8-8.7-35.3-11-34.6-13.3-33.7-15.6-32.7-17.8-31.6-19.9-30.3-21.9-28.9-23.9-27.4-25.7-25.7-27.5-24-29.1-22.1-30.7-20.2-32.1-18.1-33.4-16-34.5-13.9-35.5-11.6-36.4-9.3-37.2-7-37.8-4.7-38.2-2.3-38.5 .1-38.6 2.5-38.6 4.9-38.5 7.3-38.2 9.7-37.8 12-37.2 14.3-36.4 16.5-35.6 18.7-34.6 20.8-33.4 22.9-32.2 24.8-30.8 26.7-29.3 28.5-27.7 30.2-25.9 31.7-24.1 33.2-22.2 34.1-21 32.7-23.1 31.2-25 29.6-26.9 27.9-28.7 26.1-30.4 24.1-31.9 22.1-33.3 20-34.6 17.8-35.8 15.6-36.8 13.3-37.7 11.8-38.2 9.5-38.7 7.1-39.1 4.8-39.4 2.4-39.6 0-39.5-2.4-39.4-4.8-39.1-7.2-38.6-9.5-38.1-11.8-37.3-14-36.4-16.2-35.4-18.3-34.3-20.4-33-22.3-31.6-24.2-30.1-26-28.5-27.6-26.8-29.2-24.9-30.6-23-31.9-21-33.1-18.9-34.2-16.8-35.1-14.5-35.9-12.3-36.5-9.9-37-7.6-37.3-5.2-37.4-2.8-37.5-.4-37.3 2-37 4.4-36.6 6.7-36 9.1-35.3 11.4-34.4 13.6-33.3 15.8-32.2 17.8-30.9 19.9-29.4 21.8-27.9 23.6-26.2 25.3-24.4 26.9-22.5 28.4-20.5 29.8-18.4 31-16.3 32.1-14.1 33-11.8 33.8-9.5 34.4-7.1 34.9-4.8 35.2-2.4 35.4 0 35.4 2.4 35.2 4.8 34.8 7.2 34.3 9.5 33.7 11.7 32.9 13.9 31.9 16.1 30.8 18.1 29.5 20.1 28.1 21.9 26.6 23.6 24.9 25.3 23.1 26.7 21.3 28.1 19.3 29.3 17.2 30.4 15 31.3 12.8 32 10.5 32.6 8.2 33 5.8 33.2 3.4 33.3 1 33.2-1.4 32.9-3.8 32.4-6.1 31.8-8.4 31-10.7 30.1-12.9 29-15 27.7-17.1 26.3-19 24.7-20.9 23-22.6 21.2-24.1 19.3-25.6 17.3-26.9 15.1-28 12.9-29 10.7-29.8 8.4-30.4 6-30.9 3.6-31.1 1.2-31.2-1.2-31.1-3.6-30.8-5.9-30.3-8.3-29.7-10.5-28.9-12.7-27.8-14.8-26.7-16.8-25.3-18.7-23.8-20.4-22.2-22.1-20.4-23.5-18.5-24.9-16.5-26-14.4-27-12.2-27.8-10-28.4-7.6-28.8-5.3-29.1-2.9-29.1-.5-28.9 1.9-28.6 4.3-28 6.6-27.2 8.9-26.3 11.1-25.2 13.2-23.9 15.3-22.4 17.2-20.8 18.9-19 20.6-17.1 22-15 23.3-12.9 24.4-10.7 25.3-8.4 26.1-6.1 26.6-3.7 26.9-1.3 27 1.1 26.9 3.5 26.6 5.9 26 8.1 25.3 10.3 24.3 12.5 23.2 14.5 21.9 16.3 20.3 18 18.7 19.6 16.8 21 14.9 22.2 12.8 23.2 10.6 23.9 8.3 24.5 6 24.8 3.6 24.9 1.2 24.8-1.2 24.4-3.6 23.8-5.9 23-8.2 22-10.4 20.7-12.4 19.3-14.4 17.6-16.1 15.8-17.7 13.9-19.1 11.8-20.3 9.6-21.3 7.3-22 5-22.5 2.6-22.8 .2-22.8-2.2-22.6-4.6-22.1-6.9-21.3-9.1-20.3-11.1-19.1-13.1-17.6-14.8-16-16.4-14.2-17.7-12.2-18.8-10-19.7-7.8-20.3-5.5-20.7-3.1-20.7-.7-20.5 1.7-20 4.1-19.3 6.4-18.2 8.5-16.9 10.6-15.4 12.4-13.7 14.1-11.7 15.5-9.6 16.7-7.4 17.6-5.1 18.3-2.7 18.6-.3 18.6 2.1 18.3 4.4 17.7 6.7 16.8 8.8 15.6 10.7 14.2 12.4 12.5 13.8 10.5 15 8.4 15.8 6.2 16.4 3.8 16.6 1.4 16.4-1 15.9-3.4 15-5.6 13.8-7.7 12.3-9.6 10.6-11.2 8.6-12.6 6.4-13.6 8.6-12.3 10.5-10.7 12.2-8.7ZM-13.5 6.6-14.6 4.4-15.3 2.1-15.6-.3-15.6-2.7-15.2-5.1-14.5-7.4-13.4-9.5-12-11.5-10.3-13.3-8.4-14.8-6.4-16-4.1-16.9-1.8-17.5 .6-17.7 3-17.7 5.4-17.3 7.7-16.6 9.9-15.6 11.9-14.3 13.8-12.8 15.4-11 16.9-9.1 18-6.9 18.9-4.7 19.5-2.4 19.8 0 19.8 2.4 19.5 4.8 19 7.2 18.1 9.4 17 11.6 15.7 13.6 14.1 15.4 12.4 17 10.4 18.5 8.3 19.7 6.1 20.6 3.8 21.3 1.5 21.7-.9 21.9-3.3 21.8-5.7 21.5-8.1 20.9-10.3 20-12.5 18.9-14.5 17.6-16.3 16.1-18 14.4-19.5 12.5-20.9 10.5-22 8.4-22.8 6.1-23.5 3.8-23.9 1.4-24-1-23.9-3.4-23.6-5.8-23.1-8.1-22.3-10.4-21.3-12.6-20.1-14.6-18.6-16.6-17.1-18.4-15.3-20-13.4-21.5-11.4-22.8-9.2-23.9-7-24.7-4.7-25.4-2.3-25.9 .1-26.1 2.5-26.1 4.9-25.9 7.3-25.4 9.6-24.8 11.8-23.9 14-22.9 16-21.6 18-20.2 19.8-18.6 21.4-16.9 22.9-15 24.3-13 25.4-10.9 26.4-8.7 27.1-6.4 27.7-4 28-1.7 28.2 .7 28.1 3.1 27.9 5.5 27.4 7.9 26.8 10.2 25.9 12.4 24.9 14.6 23.7 16.7 22.3 18.7 20.8 20.5 19.1 22.2 17.3 23.8 15.3 25.2 13.3 26.5 11.2 27.6 8.9 28.5 6.6 29.2 4.3 29.8 1.9 30.1-.5 30.3-2.9 30.3-5.3 30-7.6 29.6-10 29-12.2 28.3-14.5 27.3-16.6 26.2-18.6 24.9-20.6 23.5-22.4 21.9-24.1 20.2-25.6 18.4-27 16.4-28.3 14.4-29.4 12.3-30.3 10-31.1 7.8-31.7 5.4-32.1 3.1-32.3 .7-32.4-1.7-32.3-4.1-32-6.5-31.5-8.9-30.9-11.2-30-13.4-29.1-15.6-27.9-17.8-26.7-19.8-25.2-21.7-23.7-23.6-22-25.3-20.2-26.9-18.3-28.3-16.3-29.6-14.2-30.8-12-31.8-9.7-32.6-7.4-33.3-5.1-33.9-2.7-34.2-.3-34.4 2.1-34.5 4.5-34.3 6.9-34 9.2-33.6 11.5-32.9 13.8-32.2 16-31.2 18.2-30.1 20.2-28.9 22.2-27.5 24.1-26 25.8-24.4 27.5-22.6 29-20.8 30.4-18.9 31.7-16.8 32.8-14.7 33.8-12.5 34.7-10.3 35.4-8 35.9-5.6 36.3-3.2 36.5-.8 36.6 1.6 36.5 4 36.2 6.3 35.8 8.7 35.3 11 34.6 13.3 33.7 15.6 32.7 17.8 31.6 19.9 30.3 21.9 28.9 23.9 27.4 25.7 25.7 27.5 24 29.1 22.1 30.7 20.2 32.1 18.1 33.4 16 34.5 13.9 35.5 11.6 36.4 9.3 37.2 7 37.8 4.7 38.2 2.3 38.5-.1 38.6-2.5 38.6-4.9 38.5-7.3 38.2-9.7 37.8-12 37.2-14.3 36.4-16.5 35.6-18.7 34.6-20.8 33.4-22.9 32.2-24.8 30.8-26.7 29.3-28.5 27.7-30.2 25.9-31.7 24.1-33.2 22.2-34.1 21-32.7 23.1-31.2 25-29.6 26.9-27.9 28.7-26.1 30.4-24.1 31.9-22.1 33.3-20 34.6-17.8 35.8-15.6 36.8-13.3 37.7-11.8 38.2-9.5 38.7-7.1 39.1-4.8 39.4-2.4 39.6 0 39.5 2.4 39.4 4.8 39.1 7.2 38.6 9.5 38.1 11.8 37.3 14 36.4 16.2 35.4 18.3 34.3 20.4 33 22.3 31.6 24.2 30.1 26 28.5 27.6 26.8 29.2 24.9 30.6 23 31.9 21 33.1 18.9 34.2 16.8 35.1 14.5 35.9 12.3 36.5 9.9 37 7.6 37.3 5.2 37.4 2.8 37.5 .4 37.3-2 37-4.4 36.6-6.7 36-9.1 35.3-11.4 34.4-13.6 33.3-15.8 32.2-17.8 30.9-19.9 29.4-21.8 27.9-23.6 26.2-25.3 24.4-26.9 22.5-28.4 20.5-29.8 18.4-31 16.3-32.1 14.1-33 11.8-33.8 9.5-34.4 7.1-34.9 4.8-35.2 2.4-35.4 0-35.4-2.4-35.2-4.8-34.8-7.2-34.3-9.5-33.7-11.7-32.9-13.9-31.9-16.1-30.8-18.1-29.5-20.1-28.1-21.9-26.6-23.6-24.9-25.3-23.1-26.7-21.3-28.1-19.3-29.3-17.2-30.4-15-31.3-12.8-32-10.5-32.6-8.2-33-5.8-33.2-3.4-33.3-1-33.2 1.4-32.9 3.8-32.4 6.1-31.8 8.4-31 10.7-30.1 12.9-29 15-27.7 17.1-26.3 19-24.7 20.9-23 22.6-21.2 24.1-19.3 25.6-17.3 26.9-15.1 28-12.9 29-10.7 29.8-8.4 30.4-6 30.9-3.6 31.1-1.2 31.2 1.2 31.1 3.6 30.8 5.9 30.3 8.3 29.7 10.5 28.9 12.7 27.8 14.8 26.7 16.8 25.3 18.7 23.8 20.4 22.2 22.1 20.4 23.5 18.5 24.9 16.5 26 14.4 27 12.2 27.8 10 28.4 7.6 28.8 5.3 29.1 2.9 29.1 .5 28.9-1.9 28.6-4.3 28-6.6 27.2-8.9 26.3-11.1 25.2-13.2 23.9-15.3 22.4-17.2 20.8-18.9 19-20.6 17.1-22 15-23.3 12.9-24.4 10.7-25.3 8.4-26.1 6.1-26.6 3.7-26.9 1.3-27-1.1-26.9-3.5-26.6-5.9-26-8.1-25.3-10.3-24.3-12.5-23.2-14.5-21.9-16.3-20.3-18-18.7-19.6-16.8-21-14.9-22.2-12.8-23.2-10.6-23.9-8.3-24.5-6-24.8-3.6-24.9-1.2-24.8 1.2-24.4 3.6-23.8 5.9-23 8.2-22 10.4-20.7 12.4-19.3 14.4-17.6 16.1-15.8 17.7-13.9 19.1-11.8 20.3-9.6 21.3-7.3 22-5 22.5-2.6 22.8-.2 22.8 2.2 22.6 4.6 22.1 6.9 21.3 9.1 20.3 11.1 19.1 13.1 17.6 14.8 16 16.4 14.2 17.7 12.2 18.8 10 19.7 7.8 20.3 5.5 20.7 3.1 20.7 .7 20.5-1.7 20-4.1 19.3-6.4 18.2-8.5 16.9-10.6 15.4-12.4 13.7-14.1 11.7-15.5 9.6-16.7 7.4-17.6 5.1-18.3 2.7-18.6 .3-18.6-2.1-18.3-4.4-17.7-6.7-16.8-8.8-15.6-10.7-14.2-12.4-12.5-13.8-10.5-15-8.4-15.8-6.2-16.4-3.8-16.6-1.4-16.4 1-15.9 3.4-15 5.6-13.8 7.7-12.3 9.6-10.6 11.2-8.6 12.6-6.4 13.6-8.6 12.3-10.5 10.7-12.2 8.7Z" fill="url(#a4_2)"/><ellipse transform="translate(55.00 56.00) rotate(-20.0) scale(0.8800 1.0000)" rx="16.00" ry="16.00" fill="url(#a4_3)"/></g></g><g transform="translate(413.60 32.00)" filter="url(#fwb)"></g></g><text transform="translate(414.11 42.80)" font-size="13.20" style="font-weight:bold" fill="#f3dcf6">(a4)</text>
<g clip-path="url(#a5_clip)"><g filter="url(#fexp)"><rect x="518.00" y="26.00" width="119.00" height="119.70" fill="#000"/><g transform="translate(524.00 32.00)"><ellipse transform="translate(53.00 57.00) rotate(0.0) scale(1.0000 1.0000)" rx="60.00" ry="60.00" fill="url(#a5_1)"/><path d="M30.8 26.1h1.3v1.3h-1.3zM83.8 69.6h1.3v1.3h-1.3zM46.6 7.6h1.3v1.3h-1.3zM95.1 40.5h1.3v1.3h-1.3zM91.9 45.2h1.3v1.3h-1.3zM82.3 81.2h1.3v1.3h-1.3zM88.6 83.4h1.3v1.3h-1.3zM28.1 92.5h1.3v1.3h-1.3zM86.4 46.6h1.3v1.3h-1.3zM55.0 17.6h1.3v1.3h-1.3zM66.0 16.7h1.3v1.3h-1.3zM65.6 75.7h1.3v1.3h-1.3zM72.2 93.2h1.3v1.3h-1.3zM61.1 20.2h1.3v1.3h-1.3zM73.3 25.0h1.3v1.3h-1.3zM63.2 99.9h1.3v1.3h-1.3zM91.0 35.7h1.3v1.3h-1.3zM47.5 103.2h1.3v1.3h-1.3zM86.9 84.9h1.3v1.3h-1.3zM85.3 68.5h1.3v1.3h-1.3zM39.0 92.7h1.3v1.3h-1.3zM41.9 91.4h1.3v1.3h-1.3zM77.7 86.6h1.3v1.3h-1.3zM23.6 85.8h1.3v1.3h-1.3zM85.4 57.7h1.3v1.3h-1.3zM49.8 18.6h1.3v1.3h-1.3zM71.7 17.4h1.3v1.3h-1.3zM81.8 45.8h1.3v1.3h-1.3zM84.5 86.4h1.3v1.3h-1.3zM89.3 80.3h1.3v1.3h-1.3zM8.6 77.3h1.3v1.3h-1.3zM97.8 48.0h1.3v1.3h-1.3zM103.0 48.2h1.3v1.3h-1.3zM91.1 79.5h1.3v1.3h-1.3zM25.1 80.6h1.3v1.3h-1.3zM41.5 17.8h1.3v1.3h-1.3zM66.4 96.7h1.3v1.3h-1.3zM79.9 36.6h1.3v1.3h-1.3zM42.8 14.9h1.3v1.3h-1.3zM4.8 75.2h1.3v1.3h-1.3zM49.0 78.2h1.3v1.3h-1.3zM93.1 67.5h1.3v1.3h-1.3zM28.6 85.4h1.3v1.3h-1.3zM37.1 92.7h1.3v1.3h-1.3zM95.4 75.4h1.3v1.3h-1.3zM78.5 85.1h1.3v1.3h-1.3zM93.5 52.0h1.3v1.3h-1.3zM86.9 34.7h1.3v1.3h-1.3zM79.0 31.6h1.3v1.3h-1.3zM29.9 67.1h1.3v1.3h-1.3zM66.6 19.1h1.3v1.3h-1.3zM79.4 52.9h1.3v1.3h-1.3zM94.2 67.9h1.3v1.3h-1.3zM91.7 36.4h1.3v1.3h-1.3zM85.0 62.3h1.3v1.3h-1.3zM94.1 25.4h1.3v1.3h-1.3zM85.3 67.0h1.3v1.3h-1.3zM88.5 57.1h1.3v1.3h-1.3zM19.6 79.4h1.3v1.3h-1.3zM37.8 95.9h1.3v1.3h-1.3zM80.5 78.4h1.3v1.3h-1.3zM91.0 48.5h1.3v1.3h-1.3zM90.1 63.8h1.3v1.3h-1.3zM89.0 85.7h1.3v1.3h-1.3zM102.1 26.3h1.3v1.3h-1.3zM94.1 71.5h1.3v1.3h-1.3zM87.8 85.7h1.3v1.3h-1.3zM56.6 91.7h1.3v1.3h-1.3zM46.9 11.7h1.3v1.3h-1.3zM12.6 74.5h1.3v1.3h-1.3zM92.5 54.6h1.3v1.3h-1.3zM26.3 81.5h1.3v1.3h-1.3zM35.8 93.3h1.3v1.3h-1.3zM88.8 60.4h1.3v1.3h-1.3zM29.9 80.1h1.3v1.3h-1.3zM64.7 82.0h1.3v1.3h-1.3zM91.3 50.9h1.3v1.3h-1.3zM70.2 21.6h1.3v1.3h-1.3zM89.6 83.8h1.3v1.3h-1.3zM82.9 63.5h1.3v1.3h-1.3zM90.1 92.6h1.3v1.3h-1.3zM44.9 18.3h1.3v1.3h-1.3zM97.1 17.3h1.3v1.3h-1.3zM62.6 31.6h1.3v1.3h-1.3zM90.9 38.0h1.3v1.3h-1.3zM88.9 79.1h1.3v1.3h-1.3zM13.6 98.1h1.3v1.3h-1.3zM27.4 94.7h1.3v1.3h-1.3zM84.7 41.0h1.3v1.3h-1.3zM65.1 95.1h1.3v1.3h-1.3zM86.4 55.3h1.3v1.3h-1.3zM105.8 77.6h1.3v1.3h-1.3zM79.6 90.4h1.3v1.3h-1.3zM10.6 94.4h1.3v1.3h-1.3zM89.0 31.9h1.3v1.3h-1.3zM44.1 95.4h1.3v1.3h-1.3zM68.5 97.8h1.3v1.3h-1.3zM53.3 21.9h1.3v1.3h-1.3zM16.5 48.3h1.3v1.3h-1.3zM85.6 81.5h1.3v1.3h-1.3zM25.8 79.8h1.3v1.3h-1.3zM62.7 101.9h1.3v1.3h-1.3zM81.7 27.0h1.3v1.3h-1.3zM72.0 92.0h1.3v1.3h-1.3zM91.4 87.4h1.3v1.3h-1.3zM37.4 16.3h1.3v1.3h-1.3zM89.0 57.9h1.3v1.3h-1.3zM80.8 85.0h1.3v1.3h-1.3zM38.7 92.7h1.3v1.3h-1.3zM57.1 92.3h1.3v1.3h-1.3zM92.0 57.0h1.3v1.3h-1.3zM88.4 35.3h1.3v1.3h-1.3zM82.6 52.1h1.3v1.3h-1.3zM64.9 99.4h1.3v1.3h-1.3zM31.6 82.8h1.3v1.3h-1.3zM87.6 85.9h1.3v1.3h-1.3zM53.7 84.4h1.3v1.3h-1.3zM70.1 83.1h1.3v1.3h-1.3zM17.1 75.2h1.3v1.3h-1.3zM75.1 89.3h1.3v1.3h-1.3zM44.1 84.9h1.3v1.3h-1.3zM58.2 92.7h1.3v1.3h-1.3zM97.2 42.1h1.3v1.3h-1.3zM68.4 97.0h1.3v1.3h-1.3zM76.9 84.3h1.3v1.3h-1.3zM83.8 63.2h1.3v1.3h-1.3zM17.8 86.9h1.3v1.3h-1.3zM58.2 92.2h1.3v1.3h-1.3zM56.8 102.6h1.3v1.3h-1.3zM27.3 22.6h1.3v1.3h-1.3zM61.6 92.5h1.3v1.3h-1.3zM84.7 69.0h1.3v1.3h-1.3zM63.0 96.6h1.3v1.3h-1.3zM52.3 94.4h1.3v1.3h-1.3zM57.0 86.0h1.3v1.3h-1.3zM63.9 101.8h1.3v1.3h-1.3zM80.8 79.4h1.3v1.3h-1.3zM80.8 89.1h1.3v1.3h-1.3zM58.6 105.3h1.3v1.3h-1.3zM97.9 47.4h1.3v1.3h-1.3zM25.1 10.8h1.3v1.3h-1.3zM31.2 91.2h1.3v1.3h-1.3zM84.2 43.7h1.3v1.3h-1.3zM90.5 55.8h1.3v1.3h-1.3zM73.6 27.8h1.3v1.3h-1.3zM81.2 93.6h1.3v1.3h-1.3zM25.2 99.7h1.3v1.3h-1.3zM46.1 4.0h1.3v1.3h-1.3zM22.6 20.6h1.3v1.3h-1.3zM69.8 17.6h1.3v1.3h-1.3zM3.2 67.9h1.3v1.3h-1.3zM59.9 97.6h1.3v1.3h-1.3zM86.1 86.0h1.3v1.3h-1.3zM85.0 72.8h1.3v1.3h-1.3zM47.2 87.7h1.3v1.3h-1.3zM36.3 87.7h1.3v1.3h-1.3zM64.0 11.4h1.3v1.3h-1.3zM48.0 6.5h1.3v1.3h-1.3zM78.1 79.7h1.3v1.3h-1.3zM78.0 36.4h1.3v1.3h-1.3zM66.6 68.2h1.3v1.3h-1.3zM57.9 105.3h1.3v1.3h-1.3zM19.9 18.8h1.3v1.3h-1.3zM71.3 39.3h1.3v1.3h-1.3zM42.3 89.6h1.3v1.3h-1.3zM65.2 95.2h1.3v1.3h-1.3zM75.2 97.8h1.3v1.3h-1.3zM70.3 84.3h1.3v1.3h-1.3zM50.2 86.1h1.3v1.3h-1.3zM82.2 50.9h1.3v1.3h-1.3zM93.8 74.9h1.3v1.3h-1.3zM94.0 79.1h1.3v1.3h-1.3zM94.1 74.2h1.3v1.3h-1.3zM94.2 78.4h1.3v1.3h-1.3zM89.5 63.8h1.3v1.3h-1.3zM93.3 64.1h1.3v1.3h-1.3zM82.0 32.7h1.3v1.3h-1.3zM81.0 30.9h1.3v1.3h-1.3zM79.7 39.8h1.3v1.3h-1.3zM95.7 50.5h1.3v1.3h-1.3zM50.3 90.0h1.3v1.3h-1.3zM28.1 23.6h1.3v1.3h-1.3zM104.1 51.6h1.3v1.3h-1.3zM80.7 75.5h1.3v1.3h-1.3zM57.2 21.5h1.3v1.3h-1.3zM80.4 41.1h1.3v1.3h-1.3zM53.4 94.0h1.3v1.3h-1.3zM91.0 74.3h1.3v1.3h-1.3zM91.9 73.5h1.3v1.3h-1.3zM77.2 66.1h1.3v1.3h-1.3zM52.5 105.5h1.3v1.3h-1.3zM86.9 30.0h1.3v1.3h-1.3zM89.5 39.4h1.3v1.3h-1.3zM51.4 90.9h1.3v1.3h-1.3zM71.2 94.2h1.3v1.3h-1.3zM29.8 77.1h1.3v1.3h-1.3zM72.7 91.7h1.3v1.3h-1.3zM95.7 40.7h1.3v1.3h-1.3zM77.5 50.1h1.3v1.3h-1.3zM87.3 71.8h1.3v1.3h-1.3zM98.5 62.6h1.3v1.3h-1.3zM39.3 91.0h1.3v1.3h-1.3zM45.8 11.8h1.3v1.3h-1.3zM90.8 59.5h1.3v1.3h-1.3zM80.4 30.9h1.3v1.3h-1.3zM47.9 17.4h1.3v1.3h-1.3zM73.8 72.2h1.3v1.3h-1.3zM50.5 20.1h1.3v1.3h-1.3zM28.7 85.5h1.3v1.3h-1.3zM83.2 61.5h1.3v1.3h-1.3zM66.9 9.4h1.3v1.3h-1.3zM80.1 27.6h1.3v1.3h-1.3zM60.5 91.9h1.3v1.3h-1.3zM61.0 82.8h1.3v1.3h-1.3zM22.7 84.2h1.3v1.3h-1.3zM66.3 34.4h1.3v1.3h-1.3zM66.5 86.8h1.3v1.3h-1.3zM102.3 39.9h1.3v1.3h-1.3zM75.6 29.2h1.3v1.3h-1.3zM83.5 64.5h1.3v1.3h-1.3zM85.5 59.8h1.3v1.3h-1.3zM69.4 89.2h1.3v1.3h-1.3zM83.1 47.6h1.3v1.3h-1.3zM72.6 32.6h1.3v1.3h-1.3zM4.3 74.6h1.3v1.3h-1.3zM65.0 84.9h1.3v1.3h-1.3zM90.8 63.9h1.3v1.3h-1.3zM87.3 50.3h1.3v1.3h-1.3zM21.3 74.3h1.3v1.3h-1.3zM84.3 85.7h1.3v1.3h-1.3zM41.2 7.1h1.3v1.3h-1.3zM87.0 61.8h1.3v1.3h-1.3zM81.2 80.4h1.3v1.3h-1.3zM15.3 76.9h1.3v1.3h-1.3zM74.6 97.5h1.3v1.3h-1.3zM72.1 89.7h1.3v1.3h-1.3zM43.1 101.5h1.3v1.3h-1.3zM16.6 84.0h1.3v1.3h-1.3zM74.0 63.1h1.3v1.3h-1.3zM76.0 76.8h1.3v1.3h-1.3zM80.3 81.7h1.3v1.3h-1.3zM36.4 26.1h1.3v1.3h-1.3zM51.9 85.9h1.3v1.3h-1.3zM35.2 87.8h1.3v1.3h-1.3zM41.0 24.8h1.3v1.3h-1.3zM36.8 91.0h1.3v1.3h-1.3zM87.0 50.5h1.3v1.3h-1.3zM70.0 91.5h1.3v1.3h-1.3zM32.8 90.4h1.3v1.3h-1.3zM94.0 62.8h1.3v1.3h-1.3zM66.6 10.9h1.3v1.3h-1.3zM50.8 82.4h1.3v1.3h-1.3zM3.5 78.8h1.3v1.3h-1.3zM89.8 39.7h1.3v1.3h-1.3zM82.8 32.2h1.3v1.3h-1.3zM79.3 94.9h1.3v1.3h-1.3zM90.7 79.0h1.3v1.3h-1.3zM97.7 77.4h1.3v1.3h-1.3zM47.8 85.3h1.3v1.3h-1.3zM79.7 83.0h1.3v1.3h-1.3zM42.7 16.6h1.3v1.3h-1.3zM69.3 19.4h1.3v1.3h-1.3zM42.1 87.1h1.3v1.3h-1.3zM38.0 104.2h1.3v1.3h-1.3zM57.7 91.1h1.3v1.3h-1.3zM100.0 53.9h1.3v1.3h-1.3zM37.0 17.5h1.3v1.3h-1.3zM31.3 33.4h1.3v1.3h-1.3zM80.9 31.5h1.3v1.3h-1.3zM94.9 60.2h1.3v1.3h-1.3zM80.4 77.9h1.3v1.3h-1.3zM86.0 59.9h1.3v1.3h-1.3zM79.9 49.1h1.3v1.3h-1.3zM47.6 98.0h1.3v1.3h-1.3zM52.2 11.2h1.3v1.3h-1.3zM68.2 18.8h1.3v1.3h-1.3zM75.6 93.6h1.3v1.3h-1.3zM95.7 81.7h1.3v1.3h-1.3zM20.1 75.5h1.3v1.3h-1.3zM9.8 54.0h1.3v1.3h-1.3zM23.9 85.7h1.3v1.3h-1.3zM10.3 56.9h1.3v1.3h-1.3zM103.0 55.6h1.3v1.3h-1.3zM75.3 74.8h1.3v1.3h-1.3zM87.6 72.3h1.3v1.3h-1.3zM103.1 52.5h1.3v1.3h-1.3zM38.3 93.5h1.3v1.3h-1.3zM53.3 13.0h1.3v1.3h-1.3zM89.1 37.4h1.3v1.3h-1.3zM15.3 70.3h1.3v1.3h-1.3zM73.4 79.9h1.3v1.3h-1.3zM96.0 68.4h1.3v1.3h-1.3zM4.5 60.6h1.3v1.3h-1.3zM44.6 82.1h1.3v1.3h-1.3zM84.0 54.8h1.3v1.3h-1.3zM13.6 58.1h1.3v1.3h-1.3zM83.2 24.9h1.3v1.3h-1.3zM13.2 21.2h1.3v1.3h-1.3zM27.5 70.8h1.3v1.3h-1.3zM90.9 49.0h1.3v1.3h-1.3zM28.3 94.6h1.3v1.3h-1.3z" fill="#2e2e2e"/><path d="M23.9 89.8h1.3v1.3h-1.3zM92.0 72.2h1.3v1.3h-1.3zM85.4 52.1h1.3v1.3h-1.3zM81.8 83.3h1.3v1.3h-1.3zM88.1 83.6h1.3v1.3h-1.3zM83.9 69.8h1.3v1.3h-1.3zM89.7 37.8h1.3v1.3h-1.3zM17.5 58.4h1.3v1.3h-1.3zM91.6 78.4h1.3v1.3h-1.3zM72.7 96.5h1.3v1.3h-1.3zM91.8 59.9h1.3v1.3h-1.3zM18.1 76.5h1.3v1.3h-1.3zM87.8 72.7h1.3v1.3h-1.3zM73.7 83.4h1.3v1.3h-1.3zM27.5 85.3h1.3v1.3h-1.3zM59.6 101.6h1.3v1.3h-1.3zM67.6 96.5h1.3v1.3h-1.3zM14.3 101.1h1.3v1.3h-1.3zM38.9 45.3h1.3v1.3h-1.3zM67.3 86.7h1.3v1.3h-1.3zM50.9 7.6h1.3v1.3h-1.3zM77.4 91.1h1.3v1.3h-1.3zM84.6 43.0h1.3v1.3h-1.3zM68.0 28.1h1.3v1.3h-1.3zM77.5 15.0h1.3v1.3h-1.3zM72.4 12.2h1.3v1.3h-1.3zM72.6 100.8h1.3v1.3h-1.3zM68.6 101.1h1.3v1.3h-1.3zM7.0 75.1h1.3v1.3h-1.3zM86.8 76.7h1.3v1.3h-1.3zM71.4 17.1h1.3v1.3h-1.3zM70.4 5.3h1.3v1.3h-1.3zM86.8 65.0h1.3v1.3h-1.3zM77.5 52.4h1.3v1.3h-1.3zM88.3 53.1h1.3v1.3h-1.3zM82.4 65.6h1.3v1.3h-1.3zM21.6 68.1h1.3v1.3h-1.3zM46.1 94.8h1.3v1.3h-1.3zM10.3 55.7h1.3v1.3h-1.3zM87.7 53.7h1.3v1.3h-1.3zM65.2 33.6h1.3v1.3h-1.3zM74.4 26.0h1.3v1.3h-1.3zM98.0 80.6h1.3v1.3h-1.3zM27.4 24.9h1.3v1.3h-1.3zM49.4 87.0h1.3v1.3h-1.3zM19.3 64.2h1.3v1.3h-1.3zM88.4 74.9h1.3v1.3h-1.3zM39.3 97.5h1.3v1.3h-1.3zM34.8 89.5h1.3v1.3h-1.3zM75.7 20.8h1.3v1.3h-1.3zM43.8 104.0h1.3v1.3h-1.3zM89.6 50.3h1.3v1.3h-1.3zM92.3 97.4h1.3v1.3h-1.3zM44.0 101.3h1.3v1.3h-1.3zM8.7 57.8h1.3v1.3h-1.3zM34.5 96.7h1.3v1.3h-1.3zM82.7 87.1h1.3v1.3h-1.3zM89.0 37.2h1.3v1.3h-1.3zM88.1 73.6h1.3v1.3h-1.3zM25.7 20.8h1.3v1.3h-1.3zM91.6 45.0h1.3v1.3h-1.3zM18.5 84.3h1.3v1.3h-1.3zM100.5 56.3h1.3v1.3h-1.3zM66.9 95.5h1.3v1.3h-1.3zM60.4 20.8h1.3v1.3h-1.3zM36.5 29.3h1.3v1.3h-1.3zM68.5 103.8h1.3v1.3h-1.3zM85.9 82.8h1.3v1.3h-1.3zM79.1 89.2h1.3v1.3h-1.3zM98.7 68.2h1.3v1.3h-1.3zM14.8 81.6h1.3v1.3h-1.3zM83.1 79.3h1.3v1.3h-1.3zM27.9 26.9h1.3v1.3h-1.3zM94.7 44.4h1.3v1.3h-1.3zM74.4 11.8h1.3v1.3h-1.3zM87.8 78.8h1.3v1.3h-1.3zM30.1 89.4h1.3v1.3h-1.3zM80.1 73.3h1.3v1.3h-1.3zM63.8 87.7h1.3v1.3h-1.3zM84.7 65.5h1.3v1.3h-1.3zM53.7 94.1h1.3v1.3h-1.3zM53.2 93.2h1.3v1.3h-1.3zM71.3 46.3h1.3v1.3h-1.3zM90.5 73.4h1.3v1.3h-1.3zM97.4 67.5h1.3v1.3h-1.3zM36.1 88.8h1.3v1.3h-1.3zM79.6 80.4h1.3v1.3h-1.3zM25.0 84.8h1.3v1.3h-1.3zM51.6 21.4h1.3v1.3h-1.3zM96.1 63.1h1.3v1.3h-1.3zM37.6 103.1h1.3v1.3h-1.3zM75.5 82.4h1.3v1.3h-1.3zM82.7 86.1h1.3v1.3h-1.3zM77.5 101.4h1.3v1.3h-1.3zM83.9 58.2h1.3v1.3h-1.3zM90.5 76.9h1.3v1.3h-1.3zM102.1 67.3h1.3v1.3h-1.3zM85.0 79.6h1.3v1.3h-1.3zM41.0 98.7h1.3v1.3h-1.3zM43.7 101.8h1.3v1.3h-1.3zM79.1 73.8h1.3v1.3h-1.3zM63.6 81.4h1.3v1.3h-1.3zM92.3 46.2h1.3v1.3h-1.3zM37.3 50.6h1.3v1.3h-1.3zM73.2 86.9h1.3v1.3h-1.3zM75.0 96.8h1.3v1.3h-1.3zM55.9 95.0h1.3v1.3h-1.3zM78.6 52.9h1.3v1.3h-1.3zM77.7 90.3h1.3v1.3h-1.3zM12.5 45.7h1.3v1.3h-1.3zM84.0 44.7h1.3v1.3h-1.3zM88.5 40.1h1.3v1.3h-1.3zM49.6 87.9h1.3v1.3h-1.3zM42.9 108.0h1.3v1.3h-1.3zM84.8 68.9h1.3v1.3h-1.3zM82.6 78.9h1.3v1.3h-1.3zM66.9 89.4h1.3v1.3h-1.3zM38.8 103.6h1.3v1.3h-1.3zM89.5 32.3h1.3v1.3h-1.3zM73.0 33.7h1.3v1.3h-1.3zM76.5 62.1h1.3v1.3h-1.3zM29.2 99.7h1.3v1.3h-1.3zM41.3 92.8h1.3v1.3h-1.3zM29.3 33.2h1.3v1.3h-1.3zM94.5 55.2h1.3v1.3h-1.3zM78.9 76.4h1.3v1.3h-1.3zM68.8 95.2h1.3v1.3h-1.3zM75.5 19.0h1.3v1.3h-1.3zM82.0 94.3h1.3v1.3h-1.3zM89.4 43.9h1.3v1.3h-1.3zM91.8 50.6h1.3v1.3h-1.3zM75.0 18.6h1.3v1.3h-1.3zM39.8 84.4h1.3v1.3h-1.3zM74.4 38.7h1.3v1.3h-1.3zM66.1 97.5h1.3v1.3h-1.3zM56.4 88.8h1.3v1.3h-1.3zM65.7 88.5h1.3v1.3h-1.3zM88.2 44.7h1.3v1.3h-1.3zM94.5 64.2h1.3v1.3h-1.3zM95.5 84.0h1.3v1.3h-1.3zM18.5 68.6h1.3v1.3h-1.3zM76.2 75.1h1.3v1.3h-1.3zM73.6 21.1h1.3v1.3h-1.3zM22.7 25.4h1.3v1.3h-1.3zM53.8 95.6h1.3v1.3h-1.3zM80.7 43.0h1.3v1.3h-1.3zM75.2 77.6h1.3v1.3h-1.3zM97.0 61.5h1.3v1.3h-1.3zM12.9 37.7h1.3v1.3h-1.3zM95.2 72.3h1.3v1.3h-1.3zM95.7 30.0h1.3v1.3h-1.3zM92.9 53.4h1.3v1.3h-1.3zM81.7 51.3h1.3v1.3h-1.3zM97.4 62.4h1.3v1.3h-1.3zM20.4 79.0h1.3v1.3h-1.3zM57.3 31.5h1.3v1.3h-1.3zM71.4 30.9h1.3v1.3h-1.3zM48.0 107.2h1.3v1.3h-1.3zM84.3 87.0h1.3v1.3h-1.3zM91.8 44.6h1.3v1.3h-1.3zM87.7 70.8h1.3v1.3h-1.3zM90.7 79.1h1.3v1.3h-1.3zM44.0 94.9h1.3v1.3h-1.3zM36.8 34.5h1.3v1.3h-1.3zM37.3 96.3h1.3v1.3h-1.3zM95.7 48.7h1.3v1.3h-1.3zM72.3 80.4h1.3v1.3h-1.3zM3.0 49.0h1.3v1.3h-1.3zM86.9 85.2h1.3v1.3h-1.3zM78.5 95.3h1.3v1.3h-1.3zM18.1 55.9h1.3v1.3h-1.3zM10.8 83.4h1.3v1.3h-1.3zM58.3 16.2h1.3v1.3h-1.3zM28.4 89.1h1.3v1.3h-1.3zM81.2 47.4h1.3v1.3h-1.3zM45.1 17.5h1.3v1.3h-1.3zM66.8 92.5h1.3v1.3h-1.3zM87.0 62.4h1.3v1.3h-1.3zM41.4 16.2h1.3v1.3h-1.3zM63.1 22.1h1.3v1.3h-1.3zM19.9 67.1h1.3v1.3h-1.3zM57.7 23.1h1.3v1.3h-1.3zM78.3 68.5h1.3v1.3h-1.3zM80.3 24.5h1.3v1.3h-1.3zM64.0 79.1h1.3v1.3h-1.3zM68.9 80.7h1.3v1.3h-1.3zM86.8 40.0h1.3v1.3h-1.3zM61.8 24.0h1.3v1.3h-1.3zM90.2 44.0h1.3v1.3h-1.3zM9.9 70.2h1.3v1.3h-1.3zM56.3 13.6h1.3v1.3h-1.3zM70.5 91.1h1.3v1.3h-1.3zM85.1 78.1h1.3v1.3h-1.3zM30.1 15.2h1.3v1.3h-1.3zM101.9 58.8h1.3v1.3h-1.3zM76.4 86.0h1.3v1.3h-1.3zM72.1 87.7h1.3v1.3h-1.3zM95.6 81.8h1.3v1.3h-1.3zM10.2 75.8h1.3v1.3h-1.3zM98.4 59.4h1.3v1.3h-1.3zM82.0 94.5h1.3v1.3h-1.3zM86.0 81.7h1.3v1.3h-1.3zM68.9 93.4h1.3v1.3h-1.3zM57.1 90.1h1.3v1.3h-1.3zM78.3 88.4h1.3v1.3h-1.3zM6.5 63.1h1.3v1.3h-1.3zM36.0 84.3h1.3v1.3h-1.3zM85.3 34.7h1.3v1.3h-1.3zM42.1 92.9h1.3v1.3h-1.3zM86.8 44.4h1.3v1.3h-1.3zM77.9 78.8h1.3v1.3h-1.3zM17.7 46.0h1.3v1.3h-1.3zM98.3 74.1h1.3v1.3h-1.3zM101.1 69.9h1.3v1.3h-1.3zM69.9 39.2h1.3v1.3h-1.3zM56.1 102.6h1.3v1.3h-1.3zM45.9 17.2h1.3v1.3h-1.3zM68.6 12.0h1.3v1.3h-1.3zM10.1 60.2h1.3v1.3h-1.3zM78.1 15.2h1.3v1.3h-1.3zM90.1 60.2h1.3v1.3h-1.3zM79.7 85.8h1.3v1.3h-1.3zM94.1 74.3h1.3v1.3h-1.3zM20.3 79.0h1.3v1.3h-1.3zM79.9 44.2h1.3v1.3h-1.3zM37.8 102.4h1.3v1.3h-1.3zM92.5 36.8h1.3v1.3h-1.3zM98.7 77.7h1.3v1.3h-1.3zM91.7 62.6h1.3v1.3h-1.3zM96.8 80.8h1.3v1.3h-1.3zM45.7 20.0h1.3v1.3h-1.3zM38.0 92.7h1.3v1.3h-1.3zM27.2 89.1h1.3v1.3h-1.3zM88.7 91.5h1.3v1.3h-1.3zM19.2 44.8h1.3v1.3h-1.3zM61.1 106.3h1.3v1.3h-1.3zM43.8 21.8h1.3v1.3h-1.3zM105.1 55.1h1.3v1.3h-1.3zM64.2 103.2h1.3v1.3h-1.3zM65.4 84.5h1.3v1.3h-1.3zM73.0 85.3h1.3v1.3h-1.3zM76.4 42.5h1.3v1.3h-1.3zM35.1 17.1h1.3v1.3h-1.3zM80.3 35.8h1.3v1.3h-1.3zM47.3 15.3h1.3v1.3h-1.3zM12.1 50.4h1.3v1.3h-1.3zM95.2 49.1h1.3v1.3h-1.3zM48.4 18.1h1.3v1.3h-1.3zM85.9 35.7h1.3v1.3h-1.3zM90.9 51.2h1.3v1.3h-1.3zM90.9 75.4h1.3v1.3h-1.3zM65.7 62.6h1.3v1.3h-1.3zM92.5 32.1h1.3v1.3h-1.3zM52.6 100.1h1.3v1.3h-1.3zM54.5 30.3h1.3v1.3h-1.3zM8.7 40.7h1.3v1.3h-1.3zM44.2 13.5h1.3v1.3h-1.3zM97.2 45.2h1.3v1.3h-1.3zM17.2 92.5h1.3v1.3h-1.3zM86.7 50.5h1.3v1.3h-1.3zM21.2 79.6h1.3v1.3h-1.3zM56.5 29.3h1.3v1.3h-1.3zM92.4 71.2h1.3v1.3h-1.3zM63.2 81.0h1.3v1.3h-1.3zM74.2 30.2h1.3v1.3h-1.3zM68.2 10.9h1.3v1.3h-1.3zM84.2 36.0h1.3v1.3h-1.3zM45.6 83.4h1.3v1.3h-1.3zM39.5 91.3h1.3v1.3h-1.3zM69.5 80.2h1.3v1.3h-1.3zM92.6 29.8h1.3v1.3h-1.3zM101.9 46.8h1.3v1.3h-1.3zM29.7 22.0h1.3v1.3h-1.3zM52.3 18.4h1.3v1.3h-1.3zM93.0 85.0h1.3v1.3h-1.3zM80.3 94.1h1.3v1.3h-1.3zM18.9 41.4h1.3v1.3h-1.3zM69.0 46.6h1.3v1.3h-1.3zM58.3 97.6h1.3v1.3h-1.3zM72.5 16.5h1.3v1.3h-1.3zM61.5 20.6h1.3v1.3h-1.3zM75.6 96.4h1.3v1.3h-1.3zM81.3 63.8h1.3v1.3h-1.3zM96.5 95.7h1.3v1.3h-1.3zM55.5 97.0h1.3v1.3h-1.3zM35.9 85.7h1.3v1.3h-1.3zM89.0 29.6h1.3v1.3h-1.3zM84.8 47.9h1.3v1.3h-1.3zM76.7 25.8h1.3v1.3h-1.3zM84.1 92.3h1.3v1.3h-1.3zM52.9 7.6h1.3v1.3h-1.3zM20.9 60.6h1.3v1.3h-1.3zM75.1 99.5h1.3v1.3h-1.3zM88.7 48.5h1.3v1.3h-1.3zM58.2 18.5h1.3v1.3h-1.3zM94.6 37.4h1.3v1.3h-1.3zM91.3 41.9h1.3v1.3h-1.3zM85.3 71.5h1.3v1.3h-1.3zM31.8 94.9h1.3v1.3h-1.3zM68.2 19.2h1.3v1.3h-1.3zM105.0 44.1h1.3v1.3h-1.3zM88.7 74.2h1.3v1.3h-1.3zM69.1 42.0h1.3v1.3h-1.3zM5.8 76.2h1.3v1.3h-1.3zM13.5 23.0h1.3v1.3h-1.3zM64.5 97.2h1.3v1.3h-1.3zM30.9 85.7h1.3v1.3h-1.3zM23.3 59.6h1.3v1.3h-1.3zM67.4 7.3h1.3v1.3h-1.3zM52.6 102.4h1.3v1.3h-1.3zM52.6 89.6h1.3v1.3h-1.3zM61.1 85.2h1.3v1.3h-1.3zM22.6 84.6h1.3v1.3h-1.3zM67.8 83.4h1.3v1.3h-1.3zM80.5 34.0h1.3v1.3h-1.3zM87.9 81.2h1.3v1.3h-1.3zM85.1 77.3h1.3v1.3h-1.3zM19.3 77.7h1.3v1.3h-1.3zM66.4 26.6h1.3v1.3h-1.3zM69.7 24.5h1.3v1.3h-1.3zM94.5 83.2h1.3v1.3h-1.3zM52.1 85.3h1.3v1.3h-1.3zM76.7 73.1h1.3v1.3h-1.3zM90.1 31.8h1.3v1.3h-1.3zM31.7 22.8h1.3v1.3h-1.3zM77.7 24.1h1.3v1.3h-1.3zM95.3 37.8h1.3v1.3h-1.3zM86.8 68.1h1.3v1.3h-1.3zM12.9 77.2h1.3v1.3h-1.3zM12.6 42.5h1.3v1.3h-1.3zM56.1 105.5h1.3v1.3h-1.3zM61.6 92.8h1.3v1.3h-1.3zM23.4 25.1h1.3v1.3h-1.3zM37.1 30.3h1.3v1.3h-1.3zM98.5 40.8h1.3v1.3h-1.3zM71.9 26.9h1.3v1.3h-1.3zM83.7 59.4h1.3v1.3h-1.3zM46.8 98.0h1.3v1.3h-1.3zM103.5 81.0h1.3v1.3h-1.3zM74.5 76.4h1.3v1.3h-1.3zM75.9 39.8h1.3v1.3h-1.3zM36.8 21.3h1.3v1.3h-1.3zM23.5 78.1h1.3v1.3h-1.3zM37.3 84.8h1.3v1.3h-1.3zM96.6 61.8h1.3v1.3h-1.3zM15.5 86.4h1.3v1.3h-1.3zM83.1 50.5h1.3v1.3h-1.3zM88.4 73.7h1.3v1.3h-1.3zM82.3 74.5h1.3v1.3h-1.3zM30.4 95.0h1.3v1.3h-1.3zM93.2 37.2h1.3v1.3h-1.3zM82.6 76.1h1.3v1.3h-1.3zM29.2 101.2h1.3v1.3h-1.3zM42.1 94.5h1.3v1.3h-1.3zM89.5 81.5h1.3v1.3h-1.3zM75.4 83.5h1.3v1.3h-1.3zM97.6 63.6h1.3v1.3h-1.3zM60.8 83.7h1.3v1.3h-1.3zM60.2 31.9h1.3v1.3h-1.3zM58.2 23.8h1.3v1.3h-1.3zM90.2 68.9h1.3v1.3h-1.3zM54.4 101.8h1.3v1.3h-1.3zM89.1 90.7h1.3v1.3h-1.3zM96.8 67.5h1.3v1.3h-1.3zM102.3 68.1h1.3v1.3h-1.3zM49.8 21.0h1.3v1.3h-1.3zM49.4 20.9h1.3v1.3h-1.3zM85.0 21.8h1.3v1.3h-1.3zM88.1 63.2h1.3v1.3h-1.3zM91.6 57.0h1.3v1.3h-1.3zM65.2 30.6h1.3v1.3h-1.3zM24.1 79.6h1.3v1.3h-1.3zM102.7 60.9h1.3v1.3h-1.3zM95.0 71.3h1.3v1.3h-1.3zM87.0 94.9h1.3v1.3h-1.3zM83.8 33.4h1.3v1.3h-1.3zM70.1 95.7h1.3v1.3h-1.3zM12.7 26.2h1.3v1.3h-1.3zM65.8 98.0h1.3v1.3h-1.3zM65.8 20.3h1.3v1.3h-1.3zM83.7 77.1h1.3v1.3h-1.3zM57.2 94.2h1.3v1.3h-1.3zM71.1 79.5h1.3v1.3h-1.3zM57.9 10.5h1.3v1.3h-1.3zM92.8 80.6h1.3v1.3h-1.3zM24.4 94.3h1.3v1.3h-1.3zM90.0 57.9h1.3v1.3h-1.3zM36.0 89.5h1.3v1.3h-1.3zM18.9 52.4h1.3v1.3h-1.3zM16.7 19.1h1.3v1.3h-1.3zM94.8 73.4h1.3v1.3h-1.3zM66.7 85.8h1.3v1.3h-1.3zM74.9 92.4h1.3v1.3h-1.3zM40.6 13.3h1.3v1.3h-1.3zM72.4 28.2h1.3v1.3h-1.3zM50.0 96.2h1.3v1.3h-1.3zM94.3 80.6h1.3v1.3h-1.3zM60.3 14.7h1.3v1.3h-1.3zM51.8 85.7h1.3v1.3h-1.3zM89.2 82.5h1.3v1.3h-1.3zM42.0 94.8h1.3v1.3h-1.3zM72.4 37.9h1.3v1.3h-1.3zM86.0 35.0h1.3v1.3h-1.3zM106.0 50.9h1.3v1.3h-1.3zM92.0 50.8h1.3v1.3h-1.3zM89.2 59.0h1.3v1.3h-1.3zM101.8 61.0h1.3v1.3h-1.3zM63.9 100.1h1.3v1.3h-1.3zM24.2 15.5h1.3v1.3h-1.3zM81.1 91.7h1.3v1.3h-1.3zM74.3 20.9h1.3v1.3h-1.3zM98.2 33.5h1.3v1.3h-1.3zM28.9 95.6h1.3v1.3h-1.3zM85.3 54.9h1.3v1.3h-1.3zM75.4 73.8h1.3v1.3h-1.3zM93.2 72.0h1.3v1.3h-1.3zM80.4 90.6h1.3v1.3h-1.3zM35.7 29.8h1.3v1.3h-1.3zM48.0 100.0h1.3v1.3h-1.3zM83.9 21.8h1.3v1.3h-1.3zM90.1 49.8h1.3v1.3h-1.3zM47.6 19.3h1.3v1.3h-1.3zM51.3 97.9h1.3v1.3h-1.3zM85.5 76.5h1.3v1.3h-1.3zM46.6 101.6h1.3v1.3h-1.3zM83.0 24.4h1.3v1.3h-1.3zM71.4 100.4h1.3v1.3h-1.3zM70.4 96.2h1.3v1.3h-1.3zM54.5 107.4h1.3v1.3h-1.3zM87.2 29.0h1.3v1.3h-1.3zM5.5 54.2h1.3v1.3h-1.3zM84.5 89.1h1.3v1.3h-1.3zM64.9 99.7h1.3v1.3h-1.3zM57.7 101.6h1.3v1.3h-1.3zM92.5 82.0h1.3v1.3h-1.3zM17.1 77.8h1.3v1.3h-1.3zM87.5 87.8h1.3v1.3h-1.3zM96.7 52.7h1.3v1.3h-1.3zM25.5 90.0h1.3v1.3h-1.3zM65.1 9.8h1.3v1.3h-1.3zM63.2 86.8h1.3v1.3h-1.3zM39.1 19.3h1.3v1.3h-1.3zM47.1 96.2h1.3v1.3h-1.3zM60.3 98.2h1.3v1.3h-1.3zM93.3 79.4h1.3v1.3h-1.3zM3.2 71.8h1.3v1.3h-1.3zM89.1 38.6h1.3v1.3h-1.3zM62.1 105.7h1.3v1.3h-1.3zM95.9 44.3h1.3v1.3h-1.3zM81.4 28.9h1.3v1.3h-1.3zM64.5 90.9h1.3v1.3h-1.3zM20.3 70.6h1.3v1.3h-1.3zM31.7 35.4h1.3v1.3h-1.3zM69.2 97.9h1.3v1.3h-1.3zM59.8 22.8h1.3v1.3h-1.3zM89.0 42.6h1.3v1.3h-1.3zM84.2 70.6h1.3v1.3h-1.3zM92.3 27.6h1.3v1.3h-1.3zM92.6 57.0h1.3v1.3h-1.3zM59.5 95.8h1.3v1.3h-1.3zM58.9 94.9h1.3v1.3h-1.3zM16.9 73.7h1.3v1.3h-1.3zM71.0 29.8h1.3v1.3h-1.3zM75.9 34.0h1.3v1.3h-1.3zM10.2 73.4h1.3v1.3h-1.3zM64.0 15.0h1.3v1.3h-1.3zM27.8 79.7h1.3v1.3h-1.3zM55.8 21.9h1.3v1.3h-1.3zM74.6 86.2h1.3v1.3h-1.3zM10.5 81.5h1.3v1.3h-1.3zM90.3 62.0h1.3v1.3h-1.3zM27.4 97.0h1.3v1.3h-1.3zM107.2 36.8h1.3v1.3h-1.3zM70.0 76.3h1.3v1.3h-1.3zM91.2 77.8h1.3v1.3h-1.3zM74.5 98.6h1.3v1.3h-1.3zM54.5 83.0h1.3v1.3h-1.3zM29.8 15.0h1.3v1.3h-1.3zM74.5 88.6h1.3v1.3h-1.3zM95.6 51.4h1.3v1.3h-1.3zM82.8 76.0h1.3v1.3h-1.3zM77.8 35.0h1.3v1.3h-1.3zM67.2 93.6h1.3v1.3h-1.3zM31.6 79.5h1.3v1.3h-1.3zM90.2 43.1h1.3v1.3h-1.3zM84.3 31.9h1.3v1.3h-1.3zM66.1 106.7h1.3v1.3h-1.3zM82.0 29.3h1.3v1.3h-1.3zM71.3 60.4h1.3v1.3h-1.3zM87.3 35.4h1.3v1.3h-1.3zM55.6 91.3h1.3v1.3h-1.3zM92.3 51.9h1.3v1.3h-1.3zM75.3 100.7h1.3v1.3h-1.3zM69.9 82.1h1.3v1.3h-1.3zM71.7 74.7h1.3v1.3h-1.3zM71.9 98.4h1.3v1.3h-1.3zM52.6 91.5h1.3v1.3h-1.3zM99.3 62.9h1.3v1.3h-1.3zM72.9 77.5h1.3v1.3h-1.3zM86.5 17.8h1.3v1.3h-1.3zM35.3 103.5h1.3v1.3h-1.3zM85.7 53.4h1.3v1.3h-1.3zM74.1 89.9h1.3v1.3h-1.3zM39.7 95.0h1.3v1.3h-1.3zM39.5 97.2h1.3v1.3h-1.3zM38.5 16.5h1.3v1.3h-1.3zM62.2 89.6h1.3v1.3h-1.3zM17.4 78.4h1.3v1.3h-1.3zM58.0 85.3h1.3v1.3h-1.3zM67.0 73.3h1.3v1.3h-1.3zM53.8 97.5h1.3v1.3h-1.3zM35.3 27.0h1.3v1.3h-1.3zM69.6 79.5h1.3v1.3h-1.3zM25.4 101.7h1.3v1.3h-1.3zM57.1 12.0h1.3v1.3h-1.3zM84.1 80.3h1.3v1.3h-1.3zM83.2 80.2h1.3v1.3h-1.3zM69.2 96.2h1.3v1.3h-1.3zM19.9 65.2h1.3v1.3h-1.3zM54.7 95.9h1.3v1.3h-1.3zM80.4 28.9h1.3v1.3h-1.3zM72.1 81.7h1.3v1.3h-1.3zM82.5 83.1h1.3v1.3h-1.3zM85.9 78.6h1.3v1.3h-1.3zM84.0 23.7h1.3v1.3h-1.3zM58.4 23.8h1.3v1.3h-1.3zM28.1 99.5h1.3v1.3h-1.3zM95.5 34.0h1.3v1.3h-1.3zM78.4 90.8h1.3v1.3h-1.3zM89.1 60.5h1.3v1.3h-1.3zM87.7 88.2h1.3v1.3h-1.3zM83.2 76.2h1.3v1.3h-1.3zM77.7 28.5h1.3v1.3h-1.3zM89.2 31.0h1.3v1.3h-1.3zM104.9 50.7h1.3v1.3h-1.3z" fill="#3d3d3d"/><path d="M96.2 77.3h1.3v1.3h-1.3zM55.1 11.3h1.3v1.3h-1.3zM29.1 94.5h1.3v1.3h-1.3zM72.4 17.1h1.3v1.3h-1.3zM86.0 19.0h1.3v1.3h-1.3zM83.6 54.4h1.3v1.3h-1.3zM77.2 49.4h1.3v1.3h-1.3zM17.7 83.3h1.3v1.3h-1.3zM89.2 74.1h1.3v1.3h-1.3zM86.4 86.6h1.3v1.3h-1.3zM56.6 15.1h1.3v1.3h-1.3zM76.3 86.2h1.3v1.3h-1.3zM95.6 69.0h1.3v1.3h-1.3zM77.3 84.0h1.3v1.3h-1.3zM91.1 76.8h1.3v1.3h-1.3zM41.8 19.8h1.3v1.3h-1.3zM87.7 45.7h1.3v1.3h-1.3zM44.0 92.2h1.3v1.3h-1.3zM66.6 91.2h1.3v1.3h-1.3zM93.1 49.8h1.3v1.3h-1.3zM86.7 48.9h1.3v1.3h-1.3zM31.8 91.3h1.3v1.3h-1.3zM69.7 104.1h1.3v1.3h-1.3zM69.2 100.2h1.3v1.3h-1.3zM52.7 104.1h1.3v1.3h-1.3zM16.9 86.2h1.3v1.3h-1.3zM85.6 79.6h1.3v1.3h-1.3zM73.0 95.2h1.3v1.3h-1.3zM92.7 54.7h1.3v1.3h-1.3zM77.1 69.8h1.3v1.3h-1.3zM88.1 54.4h1.3v1.3h-1.3zM88.5 60.3h1.3v1.3h-1.3zM84.6 41.0h1.3v1.3h-1.3zM2.8 60.3h1.3v1.3h-1.3zM29.2 86.3h1.3v1.3h-1.3zM91.6 70.7h1.3v1.3h-1.3zM86.1 98.9h1.3v1.3h-1.3zM83.4 33.8h1.3v1.3h-1.3zM57.9 84.0h1.3v1.3h-1.3zM94.4 23.9h1.3v1.3h-1.3zM65.4 93.1h1.3v1.3h-1.3zM88.7 55.7h1.3v1.3h-1.3zM36.1 88.5h1.3v1.3h-1.3zM87.5 35.2h1.3v1.3h-1.3zM98.3 65.9h1.3v1.3h-1.3zM21.6 53.3h1.3v1.3h-1.3zM27.5 89.6h1.3v1.3h-1.3zM30.7 80.2h1.3v1.3h-1.3zM16.9 65.3h1.3v1.3h-1.3zM74.6 83.7h1.3v1.3h-1.3zM86.8 58.2h1.3v1.3h-1.3zM66.6 86.6h1.3v1.3h-1.3zM82.3 77.7h1.3v1.3h-1.3zM13.6 52.2h1.3v1.3h-1.3zM70.6 24.5h1.3v1.3h-1.3zM49.4 94.6h1.3v1.3h-1.3zM26.8 48.8h1.3v1.3h-1.3zM104.3 51.5h1.3v1.3h-1.3zM12.6 58.8h1.3v1.3h-1.3zM67.5 19.4h1.3v1.3h-1.3zM64.3 101.9h1.3v1.3h-1.3zM43.3 95.8h1.3v1.3h-1.3zM99.0 85.2h1.3v1.3h-1.3zM60.2 86.8h1.3v1.3h-1.3zM50.9 99.1h1.3v1.3h-1.3zM85.7 31.9h1.3v1.3h-1.3zM61.0 96.5h1.3v1.3h-1.3zM67.2 15.0h1.3v1.3h-1.3zM93.2 84.0h1.3v1.3h-1.3zM84.2 70.3h1.3v1.3h-1.3zM70.5 28.3h1.3v1.3h-1.3zM27.5 78.1h1.3v1.3h-1.3zM80.4 33.9h1.3v1.3h-1.3zM50.2 24.8h1.3v1.3h-1.3zM77.8 30.8h1.3v1.3h-1.3zM55.5 91.6h1.3v1.3h-1.3zM88.7 44.3h1.3v1.3h-1.3zM69.4 91.3h1.3v1.3h-1.3zM81.1 23.5h1.3v1.3h-1.3zM98.2 53.0h1.3v1.3h-1.3zM92.1 62.1h1.3v1.3h-1.3zM72.7 15.9h1.3v1.3h-1.3zM9.8 83.2h1.3v1.3h-1.3zM27.7 79.5h1.3v1.3h-1.3zM81.3 64.4h1.3v1.3h-1.3zM69.6 97.6h1.3v1.3h-1.3zM93.6 43.2h1.3v1.3h-1.3zM99.9 85.7h1.3v1.3h-1.3zM81.2 81.8h1.3v1.3h-1.3zM93.7 32.2h1.3v1.3h-1.3zM90.6 80.2h1.3v1.3h-1.3zM42.7 107.1h1.3v1.3h-1.3zM85.2 69.6h1.3v1.3h-1.3zM36.5 23.6h1.3v1.3h-1.3zM89.1 67.6h1.3v1.3h-1.3zM93.2 72.3h1.3v1.3h-1.3zM71.1 68.4h1.3v1.3h-1.3zM76.9 23.3h1.3v1.3h-1.3zM51.7 102.5h1.3v1.3h-1.3zM42.1 99.4h1.3v1.3h-1.3zM69.8 94.1h1.3v1.3h-1.3zM58.6 23.2h1.3v1.3h-1.3zM56.4 81.2h1.3v1.3h-1.3zM80.7 34.4h1.3v1.3h-1.3zM98.3 70.5h1.3v1.3h-1.3zM80.5 80.4h1.3v1.3h-1.3zM36.7 68.9h1.3v1.3h-1.3zM33.9 86.2h1.3v1.3h-1.3zM56.2 90.1h1.3v1.3h-1.3zM74.4 30.4h1.3v1.3h-1.3zM72.8 94.2h1.3v1.3h-1.3zM47.3 93.0h1.3v1.3h-1.3zM51.5 98.6h1.3v1.3h-1.3zM83.9 19.1h1.3v1.3h-1.3zM82.8 71.2h1.3v1.3h-1.3zM87.9 85.1h1.3v1.3h-1.3zM53.3 94.3h1.3v1.3h-1.3zM38.8 85.5h1.3v1.3h-1.3zM87.5 95.3h1.3v1.3h-1.3zM69.7 94.9h1.3v1.3h-1.3zM89.2 39.9h1.3v1.3h-1.3zM22.8 90.4h1.3v1.3h-1.3zM68.7 20.5h1.3v1.3h-1.3zM85.3 71.4h1.3v1.3h-1.3zM23.8 97.6h1.3v1.3h-1.3zM98.0 39.7h1.3v1.3h-1.3zM83.9 27.3h1.3v1.3h-1.3zM99.6 54.8h1.3v1.3h-1.3zM85.2 80.7h1.3v1.3h-1.3zM89.1 47.2h1.3v1.3h-1.3zM102.0 76.3h1.3v1.3h-1.3zM12.1 35.6h1.3v1.3h-1.3zM58.2 21.3h1.3v1.3h-1.3zM38.7 18.4h1.3v1.3h-1.3zM63.7 88.2h1.3v1.3h-1.3zM33.2 80.4h1.3v1.3h-1.3zM48.1 103.2h1.3v1.3h-1.3zM76.1 89.6h1.3v1.3h-1.3zM25.5 74.0h1.3v1.3h-1.3zM91.4 18.9h1.3v1.3h-1.3zM45.4 25.7h1.3v1.3h-1.3zM76.6 34.4h1.3v1.3h-1.3zM91.8 65.0h1.3v1.3h-1.3zM26.7 97.5h1.3v1.3h-1.3zM88.3 52.7h1.3v1.3h-1.3zM64.9 76.1h1.3v1.3h-1.3zM62.1 96.8h1.3v1.3h-1.3zM78.5 25.6h1.3v1.3h-1.3zM62.1 0.0h1.3v1.3h-1.3zM61.9 90.3h1.3v1.3h-1.3zM58.5 6.4h1.3v1.3h-1.3zM82.9 77.3h1.3v1.3h-1.3zM71.0 73.5h1.3v1.3h-1.3zM87.7 45.3h1.3v1.3h-1.3zM33.5 96.6h1.3v1.3h-1.3zM15.8 72.2h1.3v1.3h-1.3zM57.9 35.3h1.3v1.3h-1.3zM79.5 81.8h1.3v1.3h-1.3zM85.2 63.6h1.3v1.3h-1.3zM95.6 75.7h1.3v1.3h-1.3zM84.2 36.1h1.3v1.3h-1.3zM86.8 48.6h1.3v1.3h-1.3zM72.5 85.6h1.3v1.3h-1.3zM78.2 30.3h1.3v1.3h-1.3zM64.5 21.3h1.3v1.3h-1.3zM104.2 89.0h1.3v1.3h-1.3zM75.9 76.7h1.3v1.3h-1.3zM64.6 91.5h1.3v1.3h-1.3zM74.4 88.1h1.3v1.3h-1.3zM60.4 30.9h1.3v1.3h-1.3zM87.5 79.9h1.3v1.3h-1.3zM55.8 105.2h1.3v1.3h-1.3zM72.9 78.5h1.3v1.3h-1.3zM12.0 74.0h1.3v1.3h-1.3zM104.2 36.7h1.3v1.3h-1.3zM14.0 57.5h1.3v1.3h-1.3zM67.9 45.6h1.3v1.3h-1.3zM91.0 59.6h1.3v1.3h-1.3zM32.0 48.7h1.3v1.3h-1.3zM85.4 68.1h1.3v1.3h-1.3zM93.3 26.9h1.3v1.3h-1.3zM40.1 89.6h1.3v1.3h-1.3zM79.5 42.5h1.3v1.3h-1.3zM49.9 103.3h1.3v1.3h-1.3zM42.2 101.3h1.3v1.3h-1.3zM37.8 94.7h1.3v1.3h-1.3zM74.2 22.4h1.3v1.3h-1.3zM37.1 13.3h1.3v1.3h-1.3zM80.6 29.9h1.3v1.3h-1.3zM45.6 98.8h1.3v1.3h-1.3zM101.3 67.6h1.3v1.3h-1.3zM29.0 65.9h1.3v1.3h-1.3zM77.5 100.1h1.3v1.3h-1.3zM31.9 48.2h1.3v1.3h-1.3zM88.0 42.7h1.3v1.3h-1.3zM32.0 23.3h1.3v1.3h-1.3zM96.0 67.4h1.3v1.3h-1.3zM89.2 37.1h1.3v1.3h-1.3zM88.6 38.9h1.3v1.3h-1.3zM71.9 97.0h1.3v1.3h-1.3zM38.4 96.6h1.3v1.3h-1.3zM83.7 41.5h1.3v1.3h-1.3zM88.0 61.5h1.3v1.3h-1.3zM100.8 61.1h1.3v1.3h-1.3zM50.4 98.0h1.3v1.3h-1.3zM74.9 106.5h1.3v1.3h-1.3zM92.4 52.5h1.3v1.3h-1.3zM87.6 47.4h1.3v1.3h-1.3zM46.0 83.8h1.3v1.3h-1.3zM107.1 62.4h1.3v1.3h-1.3zM95.5 69.5h1.3v1.3h-1.3zM79.3 96.4h1.3v1.3h-1.3zM69.9 18.0h1.3v1.3h-1.3zM63.8 83.9h1.3v1.3h-1.3zM54.7 16.9h1.3v1.3h-1.3zM54.5 25.0h1.3v1.3h-1.3zM97.7 57.7h1.3v1.3h-1.3zM76.7 38.6h1.3v1.3h-1.3zM10.2 97.1h1.3v1.3h-1.3zM85.5 40.2h1.3v1.3h-1.3zM94.4 32.8h1.3v1.3h-1.3zM45.5 16.1h1.3v1.3h-1.3zM33.4 25.9h1.3v1.3h-1.3zM84.7 48.4h1.3v1.3h-1.3zM41.8 106.2h1.3v1.3h-1.3zM74.7 39.5h1.3v1.3h-1.3zM22.9 80.4h1.3v1.3h-1.3zM61.6 101.8h1.3v1.3h-1.3zM65.6 26.7h1.3v1.3h-1.3zM101.4 36.9h1.3v1.3h-1.3zM13.5 69.2h1.3v1.3h-1.3zM81.8 91.1h1.3v1.3h-1.3zM56.3 99.7h1.3v1.3h-1.3zM31.1 79.3h1.3v1.3h-1.3zM17.5 37.4h1.3v1.3h-1.3zM86.5 48.1h1.3v1.3h-1.3zM21.0 56.1h1.3v1.3h-1.3zM34.5 24.1h1.3v1.3h-1.3zM22.8 83.4h1.3v1.3h-1.3zM73.5 90.7h1.3v1.3h-1.3zM70.4 97.3h1.3v1.3h-1.3zM85.3 24.2h1.3v1.3h-1.3zM66.8 100.5h1.3v1.3h-1.3zM78.7 46.7h1.3v1.3h-1.3zM46.0 101.5h1.3v1.3h-1.3zM59.8 86.3h1.3v1.3h-1.3zM28.8 101.3h1.3v1.3h-1.3zM93.4 78.8h1.3v1.3h-1.3zM61.0 15.6h1.3v1.3h-1.3zM92.0 74.4h1.3v1.3h-1.3zM58.5 90.8h1.3v1.3h-1.3zM55.8 8.7h1.3v1.3h-1.3zM96.8 60.6h1.3v1.3h-1.3zM31.9 89.2h1.3v1.3h-1.3zM84.1 90.4h1.3v1.3h-1.3zM91.7 39.8h1.3v1.3h-1.3zM98.6 61.5h1.3v1.3h-1.3zM95.7 42.1h1.3v1.3h-1.3zM97.5 66.8h1.3v1.3h-1.3zM47.7 17.0h1.3v1.3h-1.3zM77.4 82.6h1.3v1.3h-1.3zM96.0 61.6h1.3v1.3h-1.3zM79.6 80.3h1.3v1.3h-1.3zM2.3 83.0h1.3v1.3h-1.3z" fill="#4c4c4c"/><ellipse transform="translate(53.00 57.00) rotate(-20.0) scale(0.9400 0.6900)" rx="8.00" ry="8.00" fill="url(#a5_2)"/></g></g><g transform="translate(524.00 32.00)" filter="url(#fwb)"></g></g><text transform="translate(524.51 42.80)" font-size="13.20" style="font-weight:bold" fill="#f3dcf6">(a5)</text>
<g clip-path="url(#a6_clip)"><g filter="url(#fexp)"><rect x="628.00" y="26.00" width="119.00" height="119.70" fill="#000"/><g transform="translate(634.00 32.00)"><ellipse transform="translate(54.50 55.00) rotate(0.0) scale(1.0400 0.9700)" rx="55.00" ry="55.00" fill="url(#a6_1)"/><ellipse transform="translate(20.27 73.43) rotate(150.0) scale(0.7500 1.3000)" rx="11.00" ry="11.00" fill="url(#a6_2)"/><ellipse transform="translate(14.56 61.57) rotate(170.0) scale(0.7500 1.3000)" rx="11.00" ry="11.00" fill="url(#a6_3)"/><ellipse transform="translate(14.56 48.43) rotate(190.0) scale(0.7500 1.3000)" rx="11.00" ry="11.00" fill="url(#a6_4)"/><ellipse transform="translate(20.27 36.57) rotate(210.0) scale(0.7500 1.3000)" rx="11.00" ry="11.00" fill="url(#a6_5)"/><ellipse transform="translate(94.44 61.57) rotate(10.0) scale(0.7500 1.3000)" rx="11.00" ry="11.00" fill="url(#a6_6)"/><ellipse transform="translate(89.63 73.91) rotate(30.0) scale(0.7500 1.3000)" rx="11.00" ry="11.00" fill="url(#a6_7)"/><ellipse transform="translate(79.90 83.24) rotate(50.0) scale(0.7500 1.3000)" rx="11.00" ry="11.00" fill="url(#a6_8)"/><ellipse transform="translate(67.66 88.73) rotate(70.0) scale(0.7500 1.3000)" rx="11.00" ry="11.00" fill="url(#a6_9)"/><path transform="translate(54.50 55.00) rotate(0.0) scale(1.000 1.000)" d="M9.3-17.7 7.2-18.8 4.9-19.7 2.6-20.3 .2-20.6-2.2-20.7-4.6-20.4-6.9-19.9-9.2-19.1-11.4-18.1-13.4-16.8-15.3-15.4-17-13.7-18.6-11.8-19.9-9.8-20.9-7.6-21.8-5.4-22.4-3-22.7-.7-22.8 1.8-22.6 4.2-22.2 6.5-21.5 8.8-20.6 11.1-19.5 13.2-18.2 15.2-16.6 17-14.9 18.7-13 20.2-11 21.6-8.9 22.7-6.6 23.5-4.3 24.2-2 24.7 .4 24.9 2.8 24.8 5.2 24.6 7.6 24.1 9.9 23.4 12.1 22.4 14.2 21.3 16.2 20 18.1 18.5 19.8 16.8 21.4 15 22.8 13 24 10.9 25 8.7 25.8 6.5 26.4 4.2 26.8 1.8 27-.6 26.9-3 26.7-5.4 26.2-7.8 25.5-10.1 24.6-12.3 23.6-14.5 22.3-16.5 20.9-18.5 19.3-20.3 17.6-21.9 15.7-23.5 13.7-24.8 11.6-26 9.4-27 7.2-27.8 4.8-28.4 2.5-28.8 .1-29-2.3-29-4.7-28.9-7.1-28.5-9.4-27.9-11.7-27.2-13.9-26.2-16-25.1-18.1-23.8-20-22.4-21.8-20.8-23.5-19-25-17.2-26.4-15.2-27.6-13.1-28.6-11-29.5-8.7-30.2-6.4-30.7-4.1-31-1.7-31.1 .7-31.1 3.1-30.9 5.5-30.5 7.9-29.9 10.2-29.1 12.5-28.2 14.7-27 16.8-25.8 18.9-24.4 20.8-22.8 22.7-21.1 24.4-19.3 26-17.4 27.4-15.4 28.7-13.3 29.8-11.1 30.8-8.8 31.6-6.5 32.3-4.2 32.8-1.8 33.1 .6 33.2 3 33.2 5.4 33 7.8 32.6 10.1 32.1 12.4 31.3 14.7 30.5 16.8 29.4 18.9 28.2 20.9 26.9 22.8 25.4 24.6 23.8 26.3 22.1 27.9 20.3 29.3 18.4 30.6 16.3 31.7 14.2 32.7 12 33.5 9.8 34.2 7.5 34.7 5.1 35.1 2.7 35.3 .4 35.3-2 35.2-4.4 34.9-6.8 34.4-9.2 33.8-11.5 33.1-13.8 32.2-16 31.1-18.2 29.9-20.2 28.5-22.2 27.1-24.1 25.5-25.9 23.8-27.6 22-29.2 20-30.7 18-32 16-33.2 13.8-34.2 11.6-35.1 9.3-35.9 7-36.5 4.6-36.9 2.2-37.3-.2-37.4-2.6-37.4-5-37.2-7.4-36.9-9.7-36.5-12-35.9-14.3-35.1-16.5-34.2-18.7-33.2-20.8-32-22.8-30.7-24.8-29.3-26.6-27.7-28.3-26.1-30-24.3-31.5-22.4-32.9-20.5-34.2-18.5-35.3-16.4-36.3-14.2-37.2-11.9-38-9.7-38.6-7.3-39-5-39.3-2.6-39.5-.2-39.5 2.2-39.4 4.6-39.1 7-38.7 9.4-38.1 11.7-37.4 14-36.6 16.2-35.6 18.4-34.5 20.6-33.3 22.7-32 24.6-30.5 26.5-28.9 28.4-27.3 30.1-25.5 31.7-23.6 33.2-21.7 34.6-19.6 35.9-17.5 37.1-15.4 38.1-13.2 39-10.9 39.8-8.6 40.4-6.2 40.9-3.8 41.3-1.4 41.5 1 41.6 3.4 41.6 5.7 41.4 8.1 41.1 10.5 40.6 12.8 40 15.1 39.3 17.3 38.4 19.5 37.4 21.7 36.3 23.7 35.1 25.7 33.8 27.6 32.3 29.5 30.8 31.2 29.1 32.9 27.4 34.4 25.5 35.8 23.6 37.2 21.6 38.4 19.5 39.5 17.4 40.4 15.2 41.3 12.9 42 10.7 42.6 8.3 43.1 6 43.4 3.6 43.6 1.2 43.7-1.2 43.6-3.6 43.5-6 43.1-8.4 42.7-10.7 42.1-13.1 41.4-15.4 40.6-17.6 39.6-19.8 38.6-22 37.4-24.1 36.1-26.1 34.7-28 33.2-29.9 31.6-31.7 29.9-33.4 28.1-35 26.2-36.5 24.3-37.9 22.2-39.2 20.2-40.4 18-41.5 15.8-42.5 13.6-43.3 11.3-44 9-44.6 6.6-45.1 4.2-45.5 1.8-45.7-.6-45.8-3-45.8-5.4-45.6-7.6-45.4-10.1-44.9-12.5-44.3-14.9-43.5-17.2-42.6-19.5-41.6-21.8-40.5-24-39.3-26.1-37.9-28.1-36.4-30-34.8-31.9-33.1-30.2-34.6-28.3-36.1-26.3-37.5-24.3-38.7-22.2-39.9-20-41-17.8-41.9-15.5-42.7-13.2-43.4-10.9-44-8.6-44.4-6.2-44.7-3.8-44.9-1.4-45 1-44.9 3.4-44.7 5.8-44.4 8.2-44 10.5-43.4 12.8-42.7 15-41.9 17.3-41 19.4-39.9 21.5-38.7 23.5-37.4 25.5-36.1 27.4-34.6 29.2-33 30.9-31.3 32.5-29.5 34-27.6 35.4-25.7 36.7-23.6 37.9-21.6 38.9-19.4 39.9-17.2 40.7-14.9 41.4-12.6 42-10.3 42.4-7.9 42.7-5.6 42.9-3.2 42.9-.8 42.8 1.6 42.6 4 42.2 6.4 41.7 8.7 41.1 11.1 40.3 13.3 39.4 15.6 38.4 17.8 37.3 19.9 36 21.9 34.6 23.9 33.2 25.8 31.6 27.6 29.9 29.3 28.1 30.9 26.2 32.4 24.3 33.8 22.2 35.1 20.1 36.2 18 37.3 15.8 38.2 13.5 39 11.2 39.6 8.8 40.1 6.4 40.5 4.1 40.7 1.7 40.8-.7 40.8-3.1 40.6-5.5 40.2-7.9 39.8-10.2 39.1-12.5 38.4-14.7 37.5-16.9 36.5-19 35.3-21 34.1-23 32.7-24.9 31.2-26.7 29.6-28.3 27.9-29.9 26-31.4 24.1-32.7 22.1-33.9 20.1-35 17.9-36 15.7-36.8 13.5-37.5 11.2-38 8.8-38.4 6.4-38.6 4.1-38.7 1.7-38.7-.7-38.5-3.1-38.1-5.5-37.6-7.9-37-10.2-36.2-12.4-35.2-14.7-34.2-16.8-33-18.9-31.6-20.9-30.2-22.8-28.6-24.6-26.9-26.3-25.1-27.9-23.2-29.4-21.3-30.8-19.2-32-17.1-33.1-14.9-34.1-12.6-34.9-10.3-35.5-7.9-36-5.6-36.4-3.2-36.6-.8-36.6 1.6-36.5 4-36.2 6.4-35.8 8.7-35.2 11-34.5 13.2-33.6 15.4-32.6 17.5-31.4 19.5-30.1 21.4-28.6 23.2-27 24.9-25.3 26.5-23.5 28-21.6 29.3-19.6 30.5-17.5 31.6-15.4 32.5-13.2 33.2-10.9 33.8-8.5 34.2-6.2 34.4-3.8 34.5-1.4 34.5 1 34.2 3.4 33.8 5.8 33.2 8.1 32.5 10.4 31.6 12.6 30.5 14.8 29.3 16.9 28 18.8 26.5 20.7 24.8 22.5 23.1 24.2 21.2 25.7 19.3 27.1 17.2 28.3 15.1 29.4 12.9 30.3 10.6 31.1 8.3 31.7 5.9 32.1 3.5 32.4 1.1 32.4-1.3 32.3-3.7 32-6 31.6-8.4 31-10.6 30.1-12.8 29.2-14.9 28-17 26.7-18.9 25.3-20.7 23.7-22.4 22-23.9 20.1-25.3 18.2-26.5 16.1-27.6 14-28.5 11.7-29.2 9.5-29.8 7.1-30.2 4.7-30.3 2.3-30.3-.1-30.1-2.5-29.7-4.8-29.1-7.2-28.4-9.4-27.4-11.6-26.3-13.8-25-15.8-23.5-17.7-21.9-19.5-20.2-21.2-18.3-22.7-16.3-24-14.2-25.2-12-26.2-9.8-27-7.4-27.6-5.1-28-2.7-28.2-.3-28.2 2.1-28 4.5-27.6 6.8-27 9.1-26.2 11.3-25.3 13.4-24.1 15.4-22.7 17.2-21.2 18.9-19.5 20.5-17.7 21.9-15.7 23.1-13.7 24.1-11.5 25-9.2 25.6-6.9 26-4.5 26.2-2.1 26.1 .3 25.9 2.7 25.4 5 24.7 7.3 23.8 9.6 22.7 11.7 21.3 13.7 19.9 15.6 18.2 17.3 16.4 18.9 14.4 20.3 12.3 21.5 10.1 22.4 7.8 23.2 5.5 23.7 3.1 24 .7 24.1-1.7 23.9-4.1 23.5-6.4 22.8-8.6 21.9-10.8 20.8-12.8 19.4-14.6 17.9-16.3 16.2-17.8 14.3-19.1 12.3-20.2 10.1-21 7.9-21.6 5.5-21.9 3.1-22 .7-21.8-1.7-21.3-4-20.6-6.3-19.6-8.5-18.4-10.6-17-12.5-15.3-14.3-13.5-15.8-11.5-17.2-9.3-18.2-7-19.1-4.7-19.6-2.3-19.9 .1-20 2.5-19.8 4.8-19.4 7.1-18.7ZM-9.3 17.7-7.2 18.8-4.9 19.7-2.6 20.3-.2 20.6 2.2 20.7 4.6 20.4 6.9 19.9 9.2 19.1 11.4 18.1 13.4 16.8 15.3 15.4 17 13.7 18.6 11.8 19.9 9.8 20.9 7.6 21.8 5.4 22.4 3 22.7 .7 22.8-1.8 22.6-4.2 22.2-6.5 21.5-8.8 20.6-11.1 19.5-13.2 18.2-15.2 16.6-17 14.9-18.7 13-20.2 11-21.6 8.9-22.7 6.6-23.5 4.3-24.2 2-24.7-.4-24.9-2.8-24.8-5.2-24.6-7.6-24.1-9.9-23.4-12.1-22.4-14.2-21.3-16.2-20-18.1-18.5-19.8-16.8-21.4-15-22.8-13-24-10.9-25-8.7-25.8-6.5-26.4-4.2-26.8-1.8-27 .6-26.9 3-26.7 5.4-26.2 7.8-25.5 10.1-24.6 12.3-23.6 14.5-22.3 16.5-20.9 18.5-19.3 20.3-17.6 21.9-15.7 23.5-13.7 24.8-11.6 26-9.4 27-7.2 27.8-4.8 28.4-2.5 28.8-.1 29 2.3 29 4.7 28.9 7.1 28.5 9.4 27.9 11.7 27.2 13.9 26.2 16 25.1 18.1 23.8 20 22.4 21.8 20.8 23.5 19 25 17.2 26.4 15.2 27.6 13.1 28.6 11 29.5 8.7 30.2 6.4 30.7 4.1 31 1.7 31.1-.7 31.1-3.1 30.9-5.5 30.5-7.9 29.9-10.2 29.1-12.5 28.2-14.7 27-16.8 25.8-18.9 24.4-20.8 22.8-22.7 21.1-24.4 19.3-26 17.4-27.4 15.4-28.7 13.3-29.8 11.1-30.8 8.8-31.6 6.5-32.3 4.2-32.8 1.8-33.1-.6-33.2-3-33.2-5.4-33-7.8-32.6-10.1-32.1-12.4-31.3-14.7-30.5-16.8-29.4-18.9-28.2-20.9-26.9-22.8-25.4-24.6-23.8-26.3-22.1-27.9-20.3-29.3-18.4-30.6-16.3-31.7-14.2-32.7-12-33.5-9.8-34.2-7.5-34.7-5.1-35.1-2.7-35.3-.4-35.3 2-35.2 4.4-34.9 6.8-34.4 9.2-33.8 11.5-33.1 13.8-32.2 16-31.1 18.2-29.9 20.2-28.5 22.2-27.1 24.1-25.5 25.9-23.8 27.6-22 29.2-20 30.7-18 32-16 33.2-13.8 34.2-11.6 35.1-9.3 35.9-7 36.5-4.6 36.9-2.2 37.3 .2 37.4 2.6 37.4 5 37.2 7.4 36.9 9.7 36.5 12 35.9 14.3 35.1 16.5 34.2 18.7 33.2 20.8 32 22.8 30.7 24.8 29.3 26.6 27.7 28.3 26.1 30 24.3 31.5 22.4 32.9 20.5 34.2 18.5 35.3 16.4 36.3 14.2 37.2 11.9 38 9.7 38.6 7.3 39 5 39.3 2.6 39.5 .2 39.5-2.2 39.4-4.6 39.1-7 38.7-9.4 38.1-11.7 37.4-14 36.6-16.2 35.6-18.4 34.5-20.6 33.3-22.7 32-24.6 30.5-26.5 28.9-28.4 27.3-30.1 25.5-31.7 23.6-33.2 21.7-34.6 19.6-35.9 17.5-37.1 15.4-38.1 13.2-39 10.9-39.8 8.6-40.4 6.2-40.9 3.8-41.3 1.4-41.5-1-41.6-3.4-41.6-5.7-41.4-8.1-41.1-10.5-40.6-12.8-40-15.1-39.3-17.3-38.4-19.5-37.4-21.7-36.3-23.7-35.1-25.7-33.8-27.6-32.3-29.5-30.8-31.2-29.1-32.9-27.4-34.4-25.5-35.8-23.6-37.2-21.6-38.4-19.5-39.5-17.4-40.4-15.2-41.3-12.9-42-10.7-42.6-8.3-43.1-6-43.4-3.6-43.6-1.2-43.7 1.2-43.6 3.6-43.5 6-43.1 8.4-42.7 10.7-42.1 13.1-41.4 15.4-40.6 17.6-39.6 19.8-38.6 22-37.4 24.1-36.1 26.1-34.7 28-33.2 29.9-31.6 31.7-29.9 33.4-28.1 35-26.2 36.5-24.3 37.9-22.2 39.2-20.2 40.4-18 41.5-15.8 42.5-13.6 43.3-11.3 44-9 44.6-6.6 45.1-4.2 45.5-1.8 45.7 .6 45.8 3 45.8 5.4 45.6 7.6 45.4 10.1 44.9 12.5 44.3 14.9 43.5 17.2 42.6 19.5 41.6 21.8 40.5 24 39.3 26.1 37.9 28.1 36.4 30 34.8 31.9 33.1 30.2 34.6 28.3 36.1 26.3 37.5 24.3 38.7 22.2 39.9 20 41 17.8 41.9 15.5 42.7 13.2 43.4 10.9 44 8.6 44.4 6.2 44.7 3.8 44.9 1.4 45-1 44.9-3.4 44.7-5.8 44.4-8.2 44-10.5 43.4-12.8 42.7-15 41.9-17.3 41-19.4 39.9-21.5 38.7-23.5 37.4-25.5 36.1-27.4 34.6-29.2 33-30.9 31.3-32.5 29.5-34 27.6-35.4 25.7-36.7 23.6-37.9 21.6-38.9 19.4-39.9 17.2-40.7 14.9-41.4 12.6-42 10.3-42.4 7.9-42.7 5.6-42.9 3.2-42.9 .8-42.8-1.6-42.6-4-42.2-6.4-41.7-8.7-41.1-11.1-40.3-13.3-39.4-15.6-38.4-17.8-37.3-19.9-36-21.9-34.6-23.9-33.2-25.8-31.6-27.6-29.9-29.3-28.1-30.9-26.2-32.4-24.3-33.8-22.2-35.1-20.1-36.2-18-37.3-15.8-38.2-13.5-39-11.2-39.6-8.8-40.1-6.4-40.5-4.1-40.7-1.7-40.8 .7-40.8 3.1-40.6 5.5-40.2 7.9-39.8 10.2-39.1 12.5-38.4 14.7-37.5 16.9-36.5 19-35.3 21-34.1 23-32.7 24.9-31.2 26.7-29.6 28.3-27.9 29.9-26 31.4-24.1 32.7-22.1 33.9-20.1 35-17.9 36-15.7 36.8-13.5 37.5-11.2 38-8.8 38.4-6.4 38.6-4.1 38.7-1.7 38.7 .7 38.5 3.1 38.1 5.5 37.6 7.9 37 10.2 36.2 12.4 35.2 14.7 34.2 16.8 33 18.9 31.6 20.9 30.2 22.8 28.6 24.6 26.9 26.3 25.1 27.9 23.2 29.4 21.3 30.8 19.2 32 17.1 33.1 14.9 34.1 12.6 34.9 10.3 35.5 7.9 36 5.6 36.4 3.2 36.6 .8 36.6-1.6 36.5-4 36.2-6.4 35.8-8.7 35.2-11 34.5-13.2 33.6-15.4 32.6-17.5 31.4-19.5 30.1-21.4 28.6-23.2 27-24.9 25.3-26.5 23.5-28 21.6-29.3 19.6-30.5 17.5-31.6 15.4-32.5 13.2-33.2 10.9-33.8 8.5-34.2 6.2-34.4 3.8-34.5 1.4-34.5-1-34.2-3.4-33.8-5.8-33.2-8.1-32.5-10.4-31.6-12.6-30.5-14.8-29.3-16.9-28-18.8-26.5-20.7-24.8-22.5-23.1-24.2-21.2-25.7-19.3-27.1-17.2-28.3-15.1-29.4-12.9-30.3-10.6-31.1-8.3-31.7-5.9-32.1-3.5-32.4-1.1-32.4 1.3-32.3 3.7-32 6-31.6 8.4-31 10.6-30.1 12.8-29.2 14.9-28 17-26.7 18.9-25.3 20.7-23.7 22.4-22 23.9-20.1 25.3-18.2 26.5-16.1 27.6-14 28.5-11.7 29.2-9.5 29.8-7.1 30.2-4.7 30.3-2.3 30.3 .1 30.1 2.5 29.7 4.8 29.1 7.2 28.4 9.4 27.4 11.6 26.3 13.8 25 15.8 23.5 17.7 21.9 19.5 20.2 21.2 18.3 22.7 16.3 24 14.2 25.2 12 26.2 9.8 27 7.4 27.6 5.1 28 2.7 28.2 .3 28.2-2.1 28-4.5 27.6-6.8 27-9.1 26.2-11.3 25.3-13.4 24.1-15.4 22.7-17.2 21.2-18.9 19.5-20.5 17.7-21.9 15.7-23.1 13.7-24.1 11.5-25 9.2-25.6 6.9-26 4.5-26.2 2.1-26.1-.3-25.9-2.7-25.4-5-24.7-7.3-23.8-9.6-22.7-11.7-21.3-13.7-19.9-15.6-18.2-17.3-16.4-18.9-14.4-20.3-12.3-21.5-10.1-22.4-7.8-23.2-5.5-23.7-3.1-24-.7-24.1 1.7-23.9 4.1-23.5 6.4-22.8 8.6-21.9 10.8-20.8 12.8-19.4 14.6-17.9 16.3-16.2 17.8-14.3 19.1-12.3 20.2-10.1 21-7.9 21.6-5.5 21.9-3.1 22-.7 21.8 1.7 21.3 4 20.6 6.3 19.6 8.5 18.4 10.6 17 12.5 15.3 14.3 13.5 15.8 11.5 17.2 9.3 18.2 7 19.1 4.7 19.6 2.3 19.9-.1 20-2.5 19.8-4.8 19.4-7.1 18.7Z" fill="url(#a6_10)"/><ellipse transform="translate(53.00 52.00) rotate(0.0) scale(1.0000 0.9500)" rx="18.00" ry="18.00" fill="url(#a6_11)"/></g></g><g transform="translate(634.00 32.00)" filter="url(#fwb)"></g></g><text transform="translate(634.51 42.80)" font-size="13.20" style="font-weight:bold" fill="#f3dcf6">(a6)</text>
<g clip-path="url(#a7_clip)"><g filter="url(#fexp)"><rect x="738.00" y="26.00" width="119.00" height="119.70" fill="#000"/><g transform="translate(744.00 32.00)"><ellipse transform="translate(55.00 55.00) rotate(0.0) scale(1.0000 1.0000)" rx="56.00" ry="56.00" fill="url(#a7_1)"/><path transform="translate(55.00 55.00) rotate(0.0) scale(1.000 1.000)" d="M0 0-.5-.1-1-.3-1.4-.4-1.9-.5-2.4-.7-2.9-.7-3.4-.8-3.9-.8-4.4-.8-4.9-.8-5.5-.7-6-.5-6.5-.3-7-.1-7.5 .3-8 .7-8.4 1.1-8.8 1.6-9.2 2.3-9.6 2.9-9.8 3.7-10 4.5-10.1 5.4-10.2 6.4-10.1 7.4-9.8 8.5-9.5 9.6-9 10.7-8.3 11.9-7.5 13-6.5 14.1-5.3 15.1-3.9 16-2.3 16.8-.6 17.5 1.3 18 3.3 18.2 5.5 18.2 7.8 17.9 10.1 17.3 12.3 16.4 14.5 15.2 16.4 13.7 18.2 12 19.8 10.2 21.1 8.1 22.3 5.9 23.1 3.7 23.7 1.3 24.1-1.1 24.2-3.5 24.1-6 23.7-8.4 23.1-10.7 22.2-13 21.2-15.2 19.9-17.2 18.4-19.2 16.8-21 15-22.6 13.1-24.1 11.1-25.4 8.9-26.5 6.7-27.4 4.4-28.1 2-28.6-.4-28.9-2.8-29-5.2-29-7.6-28.7-10-28.2-12.3-27.5-14.6-26.6-16.7-25.5-18.8-24.3-20.8-22.9-22.7-21.4-24.4-19.7-26-17.9-27.5-16-28.8-13.9-29.9-11.8-30.9-9.6-31.7-7.3-32.4-5-32.8-2.7-33.1-.3-33.2 2.2-33.2 4.6-32.9 7-32.5 9.3-31.9 11.7-31.2 14-30.3 16.2-29.2 18.4-28 20.5-26.6 22.5-25.2 24.3-23.5 26.1-21.8 27.8-20 29.4-18 30.8-16 32.1-13.8 33.2-11.6 34.2-9.4 35-7.1 35.7-4.7 36.3-2.4 36.6 0 36.9 2.5 36.9 4.9 36.8 7.3 36.6 9.6 36.2 12 35.6 14.3 34.9 16.5 34.1 18.7 33.1 20.8 32 22.9 30.7 24.9 29.3 26.7 27.8 28.5 26.2 30.2 24.4 31.7 22.6 33.2 20.7 34.5 18.6 35.7 16.6 36.8 14.4 37.7 12.2 38.5 9.9 39.1 7.6 39.6 5.2 40 2.9 40.2 .5 40.3-1.9 40.3-4.4 40-6.8 39.7-9.1 39.2-11.5 38.6-13.8 37.8-16.1 36.9-18.3 35.9-20.5 34.7-22.6 33.5-24.7 32.1-26.6 30.6-28.5 29-30.3 27.2-32 25.4-33.6 23.6-35.1 21.6-36.4 19.5-37.7 17.4-38.9 15.2-39.9 13-40.8 10.7-41.5 8.4-42.2 6.1-42.7 3.7-43.1 1.3-43.3-1.1-43.4-3.5-43.4-5.9-43.2-8.3-43-10.7-42.5-13-42-15.3-41.3-17.6-40.5-19.8-39.6-22-38.5-24.1-37.4-26.1-36.1-28.1-34.7-30-33.3-31.8-31.7-33.5-30-35.2-28.2-36.7-26.4-38.1-24.4-39.4-22.4-40.7-20.3-41.8-18.2-42.8-16-43.6-13.8-44.4-11.5-45-9.2-45.5-6.8-45.9-4.5-46.2-2.1-46.3 .3-46.3 2.7-46.2 5.1-46 7.5-45.6 9.9-45.1 12.3-44.5 14.6-43.8 16.9-43 19.1-42 21.3-41 23.5-39.8 25.6-38.5 27.6-37.1 29.6-35.7 31.5-34.1 33.3-32.4 35.1-30.7 36.7-28.9 38.3-27 39.8-25 41.1-22.9 42.4-20.8 43.6-18.7 44.6-16.5 45.6-14.2 46.4-11.9 47.1-9.6 47.8-7.3 48.3-4.9 48.6-2.5 48.9-1.6 49 .8 49 3.3 48.9 5.7 48.7 8.1 48.3 10.5 47.9 12.9 47.3 15.3 46.6 17.6 45.7 19.8 44.8 22.1 43.8 24.2 42.6 26.3 41.3 28.3 40 30.3 38.5 32.2 36.9 34 35.3 35.7 33.5 37.4 31.7 38.9 29.8 40.3 27.8 41.7 25.8 42.9 23.7 44 21.5 45.1 19.3 46 17 46.8 14.7 47.4 12.3 48 9.9 48.4 7.5 48.7 5.1 48.9 2.6 49 .2 48.9-2.3 48.8-4.7 48.5-7.1 48.1-9.6 47.5-11.9 46.9-14.3 46.1-16.6 45.2-18.9 45.5-18.1 46.3-15.8 46.9-13.5 47.4-11.1 47.8-8.8 48.1-6.4 48.3-4 48.4-1.6 48.3 .8 48.1 3.2 47.8 5.6 47.4 8 46.8 10.3 46.2 12.6 45.4 14.9 44.5 17.1 43.5 19.3 42.4 21.5 41.2 23.5 39.8 25.5 38.4 27.5 36.9 29.3 35.3 31.1 33.6 32.8 31.8 34.4 29.9 36 28 37.4 26 38.7 23.9 39.9 21.8 41 19.6 42 17.3 42.9 15.1 43.6 12.7 44.2 10.4 44.8 8 45.1 5.6 45.4 3.2 45.5 .8 45.6-1.6 45.4-4 45.2-6.4 44.8-8.7 44.3-11 43.7-13.3 43-15.6 42.1-17.8 41.1-19.9 40-22 38.8-24 37.5-25.9 36-27.8 34.5-29.5 32.9-31.2 31.1-32.8 29.3-34.2 27.4-35.6 25.4-36.9 23.4-38 21.3-39 19.1-39.9 16.9-40.7 14.6-41.3 12.3-41.9 9.9-42.2 7.5-42.5 5.1-42.6 2.7-42.6 .3-42.4-2.1-42.1-4.5-41.7-6.8-41.1-9.2-40.4-11.5-39.6-13.7-38.6-15.9-37.5-18.1-36.3-20.2-35-22.2-33.6-24.1-32-25.9-30.4-27.7-28.6-29.3-26.8-30.9-24.8-32.3-22.8-33.6-20.7-34.8-18.5-35.8-16.3-36.8-14.1-37.6-11.7-38.2-9.4-38.7-7-39.1-4.6-39.3-2.2-39.4 .2-39.4 2.6-39.1 5-38.8 7.3-38.3 9.6-37.6 11.9-36.8 14.1-35.9 16.3-34.8 18.4-33.6 20.4-32.3 22.3-30.8 24.1-29.2 25.8-27.5 27.4-25.7 28.9-23.8 30.3-21.8 31.5-19.8 32.6-17.6 33.5-15.4 34.3-13.1 34.9-10.8 35.4-8.4 35.8-6 35.9-3.6 35.9-1.2 35.8 1.2 35.5 3.6 35 5.9 34.4 8.3 33.6 10.5 32.6 12.7 31.5 14.9 30.3 16.9 28.9 18.9 27.3 20.8 25.7 22.5 23.9 24.2 22 25.7 20 27 17.9 28.3 15.8 29.3 13.5 30.2 11.2 30.9 8.9 31.5 6.5 31.9 4.1 32.1 1.7 32.1-.7 32-3.1 31.6-5.5 31.1-7.8 30.4-10 29.5-12.2 28.5-14.3 27.2-16.3 25.9-18.1 24.3-19.8 22.6-21.4 20.8-22.9 18.9-24.1 16.8-25.2 14.7-26.2 12.4-26.9 10.1-27.4 7.7-27.7 5.3-27.8 2.9-27.7 .5-27.4-1.9-26.8-4.3-26.1-6.6-25.1-8.8-24-10.9-22.6-12.9-21-14.8-19.3-16.5-17.4-18.1-15.4-19.4-13.3-20.5-11-21.4-8.7-22.1-6.3-22.5-3.9-22.7-1.4-22.6 1-22.2 3.3-21.6 5.6-20.7 7.8-19.5 9.7-18 11.5-16.3 13-14.5 14.3-12.6 15.2-10.6 15.8-8.6 16.2-6.7 16.3-4.9 16.2-3.1 15.9-1.5 15.5 0 14.9 1.4 14.3 2.6 13.5 3.7 12.7 4.6 11.8 5.4 10.9 6.1 10 6.6 9.2 7 8.3 7.2 7.5 7.4 6.6 7.5 5.9 7.5 5.2 7.4 4.5 7.2 3.9 7 3.4 6.7 2.9 6.4 2.4 6 2 5.6 1.7 5.2 1.4 4.8 1.1 4.4 .9 3.9 .7 3.4 .5 3 .4 2.5 .3 2 .2 1.5 .1 1 .1 .5 0 0 0 0ZM0 0 .5 .1 1 .3 1.4 .4 1.9 .5 2.4 .7 2.9 .7 3.4 .8 3.9 .8 4.4 .8 4.9 .8 5.5 .7 6 .5 6.5 .3 7 .1 7.5-.3 8-.7 8.4-1.1 8.8-1.6 9.2-2.3 9.6-2.9 9.8-3.7 10-4.5 10.1-5.4 10.2-6.4 10.1-7.4 9.8-8.5 9.5-9.6 9-10.7 8.3-11.9 7.5-13 6.5-14.1 5.3-15.1 3.9-16 2.3-16.8 .6-17.5-1.3-18-3.3-18.2-5.5-18.2-7.8-17.9-10.1-17.3-12.3-16.4-14.5-15.2-16.4-13.7-18.2-12-19.8-10.2-21.1-8.1-22.3-5.9-23.1-3.7-23.7-1.3-24.1 1.1-24.2 3.5-24.1 6-23.7 8.4-23.1 10.7-22.2 13-21.2 15.2-19.9 17.2-18.4 19.2-16.8 21-15 22.6-13.1 24.1-11.1 25.4-8.9 26.5-6.7 27.4-4.4 28.1-2 28.6 .4 28.9 2.8 29 5.2 29 7.6 28.7 10 28.2 12.3 27.5 14.6 26.6 16.7 25.5 18.8 24.3 20.8 22.9 22.7 21.4 24.4 19.7 26 17.9 27.5 16 28.8 13.9 29.9 11.8 30.9 9.6 31.7 7.3 32.4 5 32.8 2.7 33.1 .3 33.2-2.2 33.2-4.6 32.9-7 32.5-9.3 31.9-11.7 31.2-14 30.3-16.2 29.2-18.4 28-20.5 26.6-22.5 25.2-24.3 23.5-26.1 21.8-27.8 20-29.4 18-30.8 16-32.1 13.8-33.2 11.6-34.2 9.4-35 7.1-35.7 4.7-36.3 2.4-36.6 0-36.9-2.5-36.9-4.9-36.8-7.3-36.6-9.6-36.2-12-35.6-14.3-34.9-16.5-34.1-18.7-33.1-20.8-32-22.9-30.7-24.9-29.3-26.7-27.8-28.5-26.2-30.2-24.4-31.7-22.6-33.2-20.7-34.5-18.6-35.7-16.6-36.8-14.4-37.7-12.2-38.5-9.9-39.1-7.6-39.6-5.2-40-2.9-40.2-.5-40.3 1.9-40.3 4.4-40 6.8-39.7 9.1-39.2 11.5-38.6 13.8-37.8 16.1-36.9 18.3-35.9 20.5-34.7 22.6-33.5 24.7-32.1 26.6-30.6 28.5-29 30.3-27.2 32-25.4 33.6-23.6 35.1-21.6 36.4-19.5 37.7-17.4 38.9-15.2 39.9-13 40.8-10.7 41.5-8.4 42.2-6.1 42.7-3.7 43.1-1.3 43.3 1.1 43.4 3.5 43.4 5.9 43.2 8.3 43 10.7 42.5 13 42 15.3 41.3 17.6 40.5 19.8 39.6 22 38.5 24.1 37.4 26.1 36.1 28.1 34.7 30 33.3 31.8 31.7 33.5 30 35.2 28.2 36.7 26.4 38.1 24.4 39.4 22.4 40.7 20.3 41.8 18.2 42.8 16 43.6 13.8 44.4 11.5 45 9.2 45.5 6.8 45.9 4.5 46.2 2.1 46.3-.3 46.3-2.7 46.2-5.1 46-7.5 45.6-9.9 45.1-12.3 44.5-14.6 43.8-16.9 43-19.1 42-21.3 41-23.5 39.8-25.6 38.5-27.6 37.1-29.6 35.7-31.5 34.1-33.3 32.4-35.1 30.7-36.7 28.9-38.3 27-39.8 25-41.1 22.9-42.4 20.8-43.6 18.7-44.6 16.5-45.6 14.2-46.4 11.9-47.1 9.6-47.8 7.3-48.3 4.9-48.6 2.5-48.9 1.6-49-.8-49-3.3-48.9-5.7-48.7-8.1-48.3-10.5-47.9-12.9-47.3-15.3-46.6-17.6-45.7-19.8-44.8-22.1-43.8-24.2-42.6-26.3-41.3-28.3-40-30.3-38.5-32.2-36.9-34-35.3-35.7-33.5-37.4-31.7-38.9-29.8-40.3-27.8-41.7-25.8-42.9-23.7-44-21.5-45.1-19.3-46-17-46.8-14.7-47.4-12.3-48-9.9-48.4-7.5-48.7-5.1-48.9-2.6-49-.2-48.9 2.3-48.8 4.7-48.5 7.1-48.1 9.6-47.5 11.9-46.9 14.3-46.1 16.6-45.2 18.9-45.5 18.1-46.3 15.8-46.9 13.5-47.4 11.1-47.8 8.8-48.1 6.4-48.3 4-48.4 1.6-48.3-.8-48.1-3.2-47.8-5.6-47.4-8-46.8-10.3-46.2-12.6-45.4-14.9-44.5-17.1-43.5-19.3-42.4-21.5-41.2-23.5-39.8-25.5-38.4-27.5-36.9-29.3-35.3-31.1-33.6-32.8-31.8-34.4-29.9-36-28-37.4-26-38.7-23.9-39.9-21.8-41-19.6-42-17.3-42.9-15.1-43.6-12.7-44.2-10.4-44.8-8-45.1-5.6-45.4-3.2-45.5-.8-45.6 1.6-45.4 4-45.2 6.4-44.8 8.7-44.3 11-43.7 13.3-43 15.6-42.1 17.8-41.1 19.9-40 22-38.8 24-37.5 25.9-36 27.8-34.5 29.5-32.9 31.2-31.1 32.8-29.3 34.2-27.4 35.6-25.4 36.9-23.4 38-21.3 39-19.1 39.9-16.9 40.7-14.6 41.3-12.3 41.9-9.9 42.2-7.5 42.5-5.1 42.6-2.7 42.6-.3 42.4 2.1 42.1 4.5 41.7 6.8 41.1 9.2 40.4 11.5 39.6 13.7 38.6 15.9 37.5 18.1 36.3 20.2 35 22.2 33.6 24.1 32 25.9 30.4 27.7 28.6 29.3 26.8 30.9 24.8 32.3 22.8 33.6 20.7 34.8 18.5 35.8 16.3 36.8 14.1 37.6 11.7 38.2 9.4 38.7 7 39.1 4.6 39.3 2.2 39.4-.2 39.4-2.6 39.1-5 38.8-7.3 38.3-9.6 37.6-11.9 36.8-14.1 35.9-16.3 34.8-18.4 33.6-20.4 32.3-22.3 30.8-24.1 29.2-25.8 27.5-27.4 25.7-28.9 23.8-30.3 21.8-31.5 19.8-32.6 17.6-33.5 15.4-34.3 13.1-34.9 10.8-35.4 8.4-35.8 6-35.9 3.6-35.9 1.2-35.8-1.2-35.5-3.6-35-5.9-34.4-8.3-33.6-10.5-32.6-12.7-31.5-14.9-30.3-16.9-28.9-18.9-27.3-20.8-25.7-22.5-23.9-24.2-22-25.7-20-27-17.9-28.3-15.8-29.3-13.5-30.2-11.2-30.9-8.9-31.5-6.5-31.9-4.1-32.1-1.7-32.1 .7-32 3.1-31.6 5.5-31.1 7.8-30.4 10-29.5 12.2-28.5 14.3-27.2 16.3-25.9 18.1-24.3 19.8-22.6 21.4-20.8 22.9-18.9 24.1-16.8 25.2-14.7 26.2-12.4 26.9-10.1 27.4-7.7 27.7-5.3 27.8-2.9 27.7-.5 27.4 1.9 26.8 4.3 26.1 6.6 25.1 8.8 24 10.9 22.6 12.9 21 14.8 19.3 16.5 17.4 18.1 15.4 19.4 13.3 20.5 11 21.4 8.7 22.1 6.3 22.5 3.9 22.7 1.4 22.6-1 22.2-3.3 21.6-5.6 20.7-7.8 19.5-9.7 18-11.5 16.3-13 14.5-14.3 12.6-15.2 10.6-15.8 8.6-16.2 6.7-16.3 4.9-16.2 3.1-15.9 1.5-15.5 0-14.9-1.4-14.3-2.6-13.5-3.7-12.7-4.6-11.8-5.4-10.9-6.1-10-6.6-9.2-7-8.3-7.2-7.5-7.4-6.6-7.5-5.9-7.5-5.2-7.4-4.5-7.2-3.9-7-3.4-6.7-2.9-6.4-2.4-6-2-5.6-1.7-5.2-1.4-4.8-1.1-4.4-.9-3.9-.7-3.4-.5-3-.4-2.5-.3-2-.2-1.5-.1-1-.1-.5 0 0 0 0Z" fill="url(#a7_2)"/></g></g><g transform="translate(744.00 32.00)" filter="url(#fwb)"></g></g><text transform="translate(744.51 42.80)" font-size="13.20" style="font-weight:bold" fill="#f3dcf6">(a7)</text>
<g clip-path="url(#a8_clip)"><g filter="url(#fexp)"><rect x="848.00" y="26.00" width="121.00" height="119.70" fill="#000"/><g transform="translate(854.00 32.00)"><ellipse transform="translate(56.00 54.00) rotate(0.0) scale(1.0000 1.0000)" rx="56.00" ry="56.00" fill="url(#a8_1)"/><path transform="translate(56.00 54.00) rotate(0.0) scale(1.000 1.000)" d="M0 0-.5-.2-.9-.4-1.4-.6-1.8-.8-2.3-.9-2.8-1.1-3.3-1.2-3.8-1.3-4.3-1.4-4.8-1.4-5.3-1.3-5.9-1.3-6.4-1.1-6.9-.9-7.5-.7-8-.3-8.5 .1-9 .5-9.4 1.1-9.8 1.7-10.2 2.4-10.5 3.2-10.7 4.1-10.9 5.1-10.9 6.1-10.8 7.2-10.6 8.4-10.2 9.5-9.7 10.7-9 12-8.2 13.2-7.1 14.3-5.9 15.4-4.4 16.4-2.8 17.3-1 18 1 18.5 3.2 18.7 5.5 18.7 7.8 18.4 10.2 17.8 12.5 16.8 14.6 15.6 16.6 14.2 18.4 12.5 20 10.7 21.3 8.7 22.5 6.5 23.4 4.2 24 1.9 24.4-.5 24.6-2.9 24.5-5.3 24.2-7.8 23.7-10.1 22.9-12.4 21.9-14.6 20.7-16.7 19.3-18.7 17.7-20.6 16-22.3 14.1-23.8 12.1-25.2 10-26.4 7.8-27.4 5.5-28.2 3.2-28.8 .8-29.2-1.6-29.4-4-29.4-6.4-29.2-8.8-28.8-11.2-28.2-13.4-27.4-15.7-26.5-17.8-25.3-19.8-24-21.8-22.6-23.6-21-25.3-19.3-26.8-17.4-28.2-15.4-29.5-13.4-30.6-11.2-31.5-9-32.2-6.7-32.8-4.4-33.2-2-33.5 .4-33.5 2.8-33.4 5.2-33.1 7.6-32.7 10-32.1 12.3-31.3 14.6-30.3 16.8-29.2 19-28 21-26.6 23-25.1 24.9-23.4 26.6-21.7 28.3-19.8 29.8-17.9 31.2-15.8 32.5-13.7 33.6-11.5 34.6-9.2 35.4-6.9 36.1-4.5 36.6-2.2 37 .2 37.2 2.7 37.2 5.1 37.1 7.5 36.8 9.8 36.4 12.2 35.9 14.5 35.2 16.7 34.3 18.9 33.3 21 32.2 23.1 30.9 25 29.5 26.9 28 28.7 26.4 30.4 24.6 31.9 22.8 33.4 20.9 34.7 18.9 35.9 16.8 37 14.6 37.9 12.4 38.7 10.1 39.3 7.8 39.9 5.5 40.2 3.1 40.5 .7 40.6-1.7 40.5-4.1 40.3-6.5 40-8.9 39.5-11.3 38.9-13.6 38.1-15.9 37.3-18.1 36.3-20.3 35.1-22.4 33.9-24.5 32.5-26.5 31-28.4 29.4-30.2 27.7-31.9 25.9-33.5 24.1-35 22.1-36.4 20.1-37.7 18-38.8 15.8-39.9 13.6-40.8 11.3-41.6 9-42.3 6.7-42.8 4.3-43.2 1.9-43.5-.5-43.7-2.9-43.7-5.3-43.5-7.7-43.3-10.1-42.9-12.4-42.4-14.7-41.7-17-41-19.3-40.1-21.4-39.1-23.6-38-25.6-36.7-27.6-35.4-29.5-33.9-31.4-32.4-33.1-30.7-34.8-29-36.4-27.1-37.8-25.2-39.2-23.3-40.4-21.2-41.6-19.1-42.6-16.9-43.5-14.7-44.3-12.4-45-10.1-45.6-7.8-46-5.4-46.3-3-46.5-.6-46.6 1.8-46.5 4.2-46.3 6.6-46 8.9-45.6 11.3-45 13.7-44.4 16-43.6 18.2-42.7 20.5-41.7 22.6-40.5 24.8-39.3 26.8-38 28.8-36.5 30.8-35 32.6-33.4 34.4-31.7 36.1-29.9 37.7-28 39.2-26.1 40.6-24.1 42-22 43.2-19.9 44.3-17.7 45.3-15.5 46.2-13.2 47-10.9 47.7-8.6 48.2-7.7 48.4-5.3 48.7-2.8 48.9-.4 49 2.1 49 4.5 48.8 7 48.5 9.4 48.1 11.8 47.6 14.1 46.9 16.5 46.2 18.7 45.3 21 44.3 23.2 43.2 25.3 42 27.4 40.6 29.4 39.2 31.3 37.7 33.1 36.1 34.9 34.4 36.6 32.6 38.2 30.7 39.6 28.8 41 26.8 42.3 24.7 43.5 22.6 44.6 20.4 45.5 18.1 46.4 15.8 47.1 13.5 47.7 11.1 48.2 8.7 48.6 6.3 48.8 3.8 49 1.4 49-1.1 48.9-3.5 48.6-5.9 48.3-8.4 48.4-7.5 48.6-5.1 48.7-2.7 48.7-.3 48.6 2.1 48.3 4.5 48 6.9 47.5 9.2 46.9 11.6 46.2 13.9 45.3 16.1 44.4 18.3 43.4 20.5 42.2 22.6 40.9 24.6 39.6 26.6 38.1 28.5 36.5 30.4 34.9 32.1 33.2 33.8 31.3 35.3 29.4 36.8 27.5 38.2 25.4 39.5 23.3 40.7 21.2 41.7 19 42.7 16.7 43.5 14.4 44.2 12.1 44.8 9.7 45.3 7.4 45.6 5 45.9 2.6 46 .2 45.9-2.2 45.8-4.6 45.5-7 45.1-9.3 44.6-11.7 43.9-13.9 43.2-16.2 42.3-18.4 41.3-20.5 40.2-22.5 38.9-24.5 37.6-26.5 36.1-28.3 34.6-30.1 32.9-31.7 31.2-33.3 29.4-34.7 27.5-36.1 25.5-37.3 23.4-38.5 21.3-39.5 19.1-40.4 16.9-41.1 14.6-41.8 12.3-42.3 9.9-42.7 7.5-42.9 5.2-43 2.7-43 .3-42.9-2.1-42.6-4.4-42.1-6.8-41.6-9.2-40.9-11.5-40.1-13.7-39.1-15.9-38-18.1-36.9-20.2-35.5-22.2-34.1-24.1-32.6-26-30.9-27.7-29.2-29.4-27.4-31-25.4-32.4-23.4-33.7-21.4-35-19.2-36-17-37-14.7-37.8-12.4-38.5-10.1-39.1-7.7-39.5-5.3-39.8-2.9-39.9-.5-39.9 1.9-39.7 4.3-39.4 6.6-38.9 9-38.3 11.2-37.6 13.5-36.7 15.7-35.7 17.8-34.5 19.8-33.2 21.8-31.8 23.6-30.3 25.4-28.7 27-26.9 28.6-25.1 30-23.1 31.3-21.1 32.5-19 33.5-16.8 34.4-14.5 35.1-12.2 35.7-9.9 36.1-7.5 36.4-5.1 36.5-2.7 36.4-.3 36.2 2.1 35.8 4.5 35.3 6.8 34.6 9.1 33.8 11.4 32.8 13.6 31.7 15.7 30.4 17.7 29 19.7 27.4 21.5 25.7 23.3 23.9 24.9 22 26.3 20 27.7 17.9 28.9 15.8 29.9 13.5 30.8 11.2 31.5 8.9 32.1 6.5 32.5 4.1 32.7 1.7 32.7-.7 32.5-3.1 32.2-5.5 31.7-7.8 31-10.1 30.1-12.2 29.1-14.3 27.9-16.3 26.5-18.2 25-20 23.4-21.6 21.6-23.1 19.7-24.4 17.6-25.5 15.5-26.5 13.3-27.3 11-27.9 8.7-28.3 6.3-28.4 3.9-28.4 1.4-28.2-1-27.8-3.3-27.1-5.7-26.3-7.9-25.2-10.1-24-12.2-22.5-14.2-20.9-16-19.1-17.6-17.2-19.1-15.2-20.4-13-21.5-10.7-22.3-8.4-23-6-23.4-3.5-23.5-1.1-23.4 1.3-23 3.7-22.3 5.9-21.4 8.1-20.3 10.1-18.9 11.9-17.3 13.5-15.4 14.9-13.4 15.9-11.2 16.7-9.1 17.1-7 17.3-4.9 17.2-3 17-1.1 16.5 .6 15.9 2.1 15.1 3.5 14.2 4.7 13.3 5.7 12.3 6.6 11.3 7.3 10.3 7.9 9.3 8.3 8.3 8.6 7.4 8.8 6.5 8.9 5.6 8.9 4.8 8.8 4.1 8.6 3.4 8.3 2.8 8 2.3 7.7 1.8 7.3 1.4 6.9 1 6.4 .7 6 .5 5.5 .3 5 .1 4.5 0 4-.1 3.5-.1 3-.1 2.5-.1 2-.1 1.5-.1 1 0 .5 0 0 0 0ZM0 0 .5 .2 .9 .4 1.4 .6 1.8 .8 2.3 .9 2.8 1.1 3.3 1.2 3.8 1.3 4.3 1.4 4.8 1.4 5.3 1.3 5.9 1.3 6.4 1.1 6.9 .9 7.5 .7 8 .3 8.5-.1 9-.5 9.4-1.1 9.8-1.7 10.2-2.4 10.5-3.2 10.7-4.1 10.9-5.1 10.9-6.1 10.8-7.2 10.6-8.4 10.2-9.5 9.7-10.7 9-12 8.2-13.2 7.1-14.3 5.9-15.4 4.4-16.4 2.8-17.3 1-18-1-18.5-3.2-18.7-5.5-18.7-7.8-18.4-10.2-17.8-12.5-16.8-14.6-15.6-16.6-14.2-18.4-12.5-20-10.7-21.3-8.7-22.5-6.5-23.4-4.2-24-1.9-24.4 .5-24.6 2.9-24.5 5.3-24.2 7.8-23.7 10.1-22.9 12.4-21.9 14.6-20.7 16.7-19.3 18.7-17.7 20.6-16 22.3-14.1 23.8-12.1 25.2-10 26.4-7.8 27.4-5.5 28.2-3.2 28.8-.8 29.2 1.6 29.4 4 29.4 6.4 29.2 8.8 28.8 11.2 28.2 13.4 27.4 15.7 26.5 17.8 25.3 19.8 24 21.8 22.6 23.6 21 25.3 19.3 26.8 17.4 28.2 15.4 29.5 13.4 30.6 11.2 31.5 9 32.2 6.7 32.8 4.4 33.2 2 33.5-.4 33.5-2.8 33.4-5.2 33.1-7.6 32.7-10 32.1-12.3 31.3-14.6 30.3-16.8 29.2-19 28-21 26.6-23 25.1-24.9 23.4-26.6 21.7-28.3 19.8-29.8 17.9-31.2 15.8-32.5 13.7-33.6 11.5-34.6 9.2-35.4 6.9-36.1 4.5-36.6 2.2-37-.2-37.2-2.7-37.2-5.1-37.1-7.5-36.8-9.8-36.4-12.2-35.9-14.5-35.2-16.7-34.3-18.9-33.3-21-32.2-23.1-30.9-25-29.5-26.9-28-28.7-26.4-30.4-24.6-31.9-22.8-33.4-20.9-34.7-18.9-35.9-16.8-37-14.6-37.9-12.4-38.7-10.1-39.3-7.8-39.9-5.5-40.2-3.1-40.5-.7-40.6 1.7-40.5 4.1-40.3 6.5-40 8.9-39.5 11.3-38.9 13.6-38.1 15.9-37.3 18.1-36.3 20.3-35.1 22.4-33.9 24.5-32.5 26.5-31 28.4-29.4 30.2-27.7 31.9-25.9 33.5-24.1 35-22.1 36.4-20.1 37.7-18 38.8-15.8 39.9-13.6 40.8-11.3 41.6-9 42.3-6.7 42.8-4.3 43.2-1.9 43.5 .5 43.7 2.9 43.7 5.3 43.5 7.7 43.3 10.1 42.9 12.4 42.4 14.7 41.7 17 41 19.3 40.1 21.4 39.1 23.6 38 25.6 36.7 27.6 35.4 29.5 33.9 31.4 32.4 33.1 30.7 34.8 29 36.4 27.1 37.8 25.2 39.2 23.3 40.4 21.2 41.6 19.1 42.6 16.9 43.5 14.7 44.3 12.4 45 10.1 45.6 7.8 46 5.4 46.3 3 46.5 .6 46.6-1.8 46.5-4.2 46.3-6.6 46-8.9 45.6-11.3 45-13.7 44.4-16 43.6-18.2 42.7-20.5 41.7-22.6 40.5-24.8 39.3-26.8 38-28.8 36.5-30.8 35-32.6 33.4-34.4 31.7-36.1 29.9-37.7 28-39.2 26.1-40.6 24.1-42 22-43.2 19.9-44.3 17.7-45.3 15.5-46.2 13.2-47 10.9-47.7 8.6-48.2 7.7-48.4 5.3-48.7 2.8-48.9 .4-49-2.1-49-4.5-48.8-7-48.5-9.4-48.1-11.8-47.6-14.1-46.9-16.5-46.2-18.7-45.3-21-44.3-23.2-43.2-25.3-42-27.4-40.6-29.4-39.2-31.3-37.7-33.1-36.1-34.9-34.4-36.6-32.6-38.2-30.7-39.6-28.8-41-26.8-42.3-24.7-43.5-22.6-44.6-20.4-45.5-18.1-46.4-15.8-47.1-13.5-47.7-11.1-48.2-8.7-48.6-6.3-48.8-3.8-49-1.4-49 1.1-48.9 3.5-48.6 5.9-48.3 8.4-48.4 7.5-48.6 5.1-48.7 2.7-48.7 .3-48.6-2.1-48.3-4.5-48-6.9-47.5-9.2-46.9-11.6-46.2-13.9-45.3-16.1-44.4-18.3-43.4-20.5-42.2-22.6-40.9-24.6-39.6-26.6-38.1-28.5-36.5-30.4-34.9-32.1-33.2-33.8-31.3-35.3-29.4-36.8-27.5-38.2-25.4-39.5-23.3-40.7-21.2-41.7-19-42.7-16.7-43.5-14.4-44.2-12.1-44.8-9.7-45.3-7.4-45.6-5-45.9-2.6-46-.2-45.9 2.2-45.8 4.6-45.5 7-45.1 9.3-44.6 11.7-43.9 13.9-43.2 16.2-42.3 18.4-41.3 20.5-40.2 22.5-38.9 24.5-37.6 26.5-36.1 28.3-34.6 30.1-32.9 31.7-31.2 33.3-29.4 34.7-27.5 36.1-25.5 37.3-23.4 38.5-21.3 39.5-19.1 40.4-16.9 41.1-14.6 41.8-12.3 42.3-9.9 42.7-7.5 42.9-5.2 43-2.7 43-.3 42.9 2.1 42.6 4.4 42.1 6.8 41.6 9.2 40.9 11.5 40.1 13.7 39.1 15.9 38 18.1 36.9 20.2 35.5 22.2 34.1 24.1 32.6 26 30.9 27.7 29.2 29.4 27.4 31 25.4 32.4 23.4 33.7 21.4 35 19.2 36 17 37 14.7 37.8 12.4 38.5 10.1 39.1 7.7 39.5 5.3 39.8 2.9 39.9 .5 39.9-1.9 39.7-4.3 39.4-6.6 38.9-9 38.3-11.2 37.6-13.5 36.7-15.7 35.7-17.8 34.5-19.8 33.2-21.8 31.8-23.6 30.3-25.4 28.7-27 26.9-28.6 25.1-30 23.1-31.3 21.1-32.5 19-33.5 16.8-34.4 14.5-35.1 12.2-35.7 9.9-36.1 7.5-36.4 5.1-36.5 2.7-36.4 .3-36.2-2.1-35.8-4.5-35.3-6.8-34.6-9.1-33.8-11.4-32.8-13.6-31.7-15.7-30.4-17.7-29-19.7-27.4-21.5-25.7-23.3-23.9-24.9-22-26.3-20-27.7-17.9-28.9-15.8-29.9-13.5-30.8-11.2-31.5-8.9-32.1-6.5-32.5-4.1-32.7-1.7-32.7 .7-32.5 3.1-32.2 5.5-31.7 7.8-31 10.1-30.1 12.2-29.1 14.3-27.9 16.3-26.5 18.2-25 20-23.4 21.6-21.6 23.1-19.7 24.4-17.6 25.5-15.5 26.5-13.3 27.3-11 27.9-8.7 28.3-6.3 28.4-3.9 28.4-1.4 28.2 1 27.8 3.3 27.1 5.7 26.3 7.9 25.2 10.1 24 12.2 22.5 14.2 20.9 16 19.1 17.6 17.2 19.1 15.2 20.4 13 21.5 10.7 22.3 8.4 23 6 23.4 3.5 23.5 1.1 23.4-1.3 23-3.7 22.3-5.9 21.4-8.1 20.3-10.1 18.9-11.9 17.3-13.5 15.4-14.9 13.4-15.9 11.2-16.7 9.1-17.1 7-17.3 4.9-17.2 3-17 1.1-16.5-.6-15.9-2.1-15.1-3.5-14.2-4.7-13.3-5.7-12.3-6.6-11.3-7.3-10.3-7.9-9.3-8.3-8.3-8.6-7.4-8.8-6.5-8.9-5.6-8.9-4.8-8.8-4.1-8.6-3.4-8.3-2.8-8-2.3-7.7-1.8-7.3-1.4-6.9-1-6.4-.7-6-.5-5.5-.3-5-.1-4.5 0-4 .1-3.5 .1-3 .1-2.5 .1-2 .1-1.5 .1-1 0-.5 0 0 0 0Z" fill="url(#a8_2)"/></g></g><g transform="translate(854.00 32.00)" filter="url(#fwb)"></g></g><text transform="translate(854.51 42.80)" font-size="13.20" style="font-weight:bold" fill="#f3dcf6">(a8)</text>
<g clip-path="url(#a9_clip)"><g filter="url(#fexp)"><rect x="960.00" y="26.00" width="121.50" height="119.70" fill="#000"/><g transform="translate(966.00 32.00)"><ellipse transform="translate(55.50 55.00) rotate(0.0) scale(1.0000 1.0000)" rx="57.00" ry="57.00" fill="url(#a9_1)"/><path transform="translate(55.50 55.00) rotate(0.0) scale(1.000 1.000)" d="M.5-.8 .8-1.3 1-1.7 1.3-2.1 1.5-2.6 1.7-3.1 1.9-3.5 2-4 2.1-4.5 2.2-5 2.2-5.6 2.2-6.1 2.2-6.7 2-7.2 1.9-7.8 1.6-8.3 1.3-8.9 .9-9.5 .5-10-.1-10.5-.7-11-1.4-11.4-2.2-11.8-3.1-12.1-4-12.4-5.1-12.5-6.2-12.6-7.4-12.5-8.6-12.3-9.9-12-11.2-11.5-12.5-10.8-13.8-9.9-15.1-8.9-16.3-7.7-17.4-6.3-18.4-4.6-19.3-2.8-20-.8-20.5 1.3-20.7 3.6-20.6 6-20.3 8.5-19.7 10.8-18.8 13.1-17.6 15.3-16.3 17.3-14.7 19.2-12.9 20.8-11 22.3-8.9 23.6-6.8 24.7-4.5 25.6-2.1 26.2 .3 26.6 2.7 26.8 5.1 26.8 7.5 26.5 9.9 26 12.2 25.4 14.5 24.5 16.6 23.4 18.7 22.2 20.7 20.7 22.5 19.1 24.2 17.4 25.7 15.5 27.1 13.5 28.3 11.5 29.4 9.3 30.2 7 30.9 4.7 31.4 2.3 31.7-.1 31.9-2.5 31.8-4.9 31.6-7.3 31.1-9.7 30.6-12 29.8-14.3 28.8-16.5 27.8-18.7 26.5-20.7 25.1-22.7 23.6-24.6 21.9-26.3 20.1-28 18.2-29.5 16.2-30.8 14.2-32 12-33.1 9.8-34 7.5-34.8 5.1-35.4 2.8-35.8 .4-36.1-2-36.2-4.4-36.2-6.8-36-9.2-35.6-11.6-35.1-13.9-34.4-16.2-33.6-18.4-32.6-20.5-31.5-22.6-30.3-24.6-28.9-26.4-27.4-28.2-25.8-29.9-24.1-31.5-22.3-32.9-20.3-34.3-18.3-35.5-16.2-36.6-14.1-37.5-11.9-38.3-9.6-38.9-7.3-39.5-4.9-39.8-2.5-40-.2-40.1 2.3-40.1 4.7-39.9 7.1-39.5 9.4-39 11.8-38.4 14.1-37.6 16.4-36.7 18.6-35.7 20.8-34.5 22.9-33.2 25-31.8 26.9-30.3 28.8-28.7 30.6-27 32.3-25.2 33.9-23.3 35.4-21.3 36.7-19.3 38-17.2 39.1-15 40.1-12.7 41-10.5 41.8-8.1 42.4-5.8 43-3.4 43.3-1 43.6 1.4 43.7 3.8 43.7 6.2 43.5 8.6 43.2 11 42.8 13.3 42.3 15.6 41.6 17.9 40.8 20.1 39.9 22.3 38.8 24.4 37.7 26.4 36.4 28.4 35 30.3 33.6 32.1 32 33.8 30.3 35.5 28.5 37 26.7 38.5 24.8 39.8 22.8 41 20.7 42.2 18.6 43.2 16.4 44.1 14.2 44.9 11.9 45.5 9.6 46.1 7.2 46.5 4.9 46.8 2.5 46.9 .1 47-2.3 46.9-4.7 46.7-7.1 46.4-9.5 45.9-11.9 45.4-14.2 44.7-16.5 43.9-18.8 43-21 42-23.2 40.8-25.3 39.6-27.4 38.3-29.4 36.8-31.3 35.3-33.2 33.7-34.9 32-36.6 30.2-38.2 28.3-39.8 26.4-41.2 24.4-42.5 22.3-43.7 20.2-44.9 18-45.9 15.8-46.8 13.5-47.6 11.2-48.3 8.9-48.9 6.5-49.3 4.2-49.7 1.8-49.9 .6-50-1.8-50-4.2-49.8-6.6-49.6-9-49.2-11.4-48.7-13.7-48.1-16-47.4-18.3-46.5-20.5-45.6-22.7-44.5-24.9-43.4-26.9-42.1-28.9-40.8-30.9-39.3-32.7-37.8-34.5-36.2-36.2-34.4-37.9-32.6-39.4-30.8-40.8-28.8-42.2-26.8-43.4-24.8-44.6-22.6-45.6-20.4-46.6-18.2-47.4-15.9-48.1-13.6-48.7-11.3-49.2-8.9-49.6-6.5-49.8-4.1-50-1.7-50 .7-49.9 3.2-49.7 5.6-49.4 8-48.9 10.3-48.4 12.7-48.6 11.6-49 9.2-49.3 6.8-49.5 4.4-49.5 2-49.5-.4-49.3-2.8-49-5.2-48.6-7.5-48.1-9.9-47.5-12.2-46.7-14.5-45.9-16.7-44.9-18.9-43.8-21.1-42.6-23.2-41.4-25.2-40-27.2-38.5-29.1-36.9-30.9-35.3-32.6-33.5-34.3-31.7-35.9-29.8-37.3-27.8-38.7-25.8-40-23.7-41.1-21.5-42.2-19.3-43.1-17-44-14.7-44.7-12.4-45.3-10-45.7-7.7-46.1-5.3-46.3-2.9-46.4-.5-46.4 1.9-46.3 4.3-46 6.7-45.6 9.1-45.1 11.4-44.4 13.7-43.7 15.9-42.8 18.1-41.8 20.2-40.7 22.3-39.5 24.3-38.1 26.2-36.7 28.1-35.2 29.8-33.5 31.5-31.8 33.1-30 34.6-28.1 35.9-26.1 37.2-24.1 38.3-21.9 39.4-19.8 40.3-17.5 41.1-15.3 41.7-13 42.3-10.6 42.7-8.2 42.9-5.8 43.1-3.4 43.1-1 43 1.4 42.7 3.8 42.3 6.1 41.7 8.5 41.1 10.8 40.3 13.1 39.4 15.3 38.3 17.4 37.1 19.5 35.8 21.6 34.4 23.5 32.9 25.4 31.3 27.2 29.5 28.8 27.7 30.4 25.8 31.9 23.8 33.2 21.7 34.5 19.6 35.6 17.4 36.5 15.1 37.4 12.8 38.1 10.5 38.6 8.1 39.1 5.7 39.3 3.3 39.5 .9 39.5-1.5 39.3-3.9 39-6.2 38.5-8.6 37.9-10.8 37.2-13.1 36.3-15.3 35.3-17.4 34.1-19.4 32.8-21.3 31.4-23.2 29.8-24.9 28.2-26.6 26.4-28.1 24.5-29.5 22.6-30.8 20.5-31.9 18.4-32.9 16.2-33.7 13.9-34.4 11.6-34.9 9.2-35.3 6.9-35.5 4.5-35.5 2-35.4-.4-35.1-2.8-34.6-5.1-34-7.5-33.2-9.7-32.3-12-31.2-14.1-30-16.2-28.6-18.2-27-20-25.4-21.8-23.6-23.4-21.7-24.9-19.7-26.3-17.6-27.5-15.4-28.5-13.2-29.4-10.9-30.1-8.5-30.6-6.1-30.9-3.7-31-1.3-31 1.1-30.8 3.5-30.3 5.8-29.7 8.1-28.9 10.3-27.9 12.5-26.8 14.5-25.4 16.4-23.9 18.1-22.3 19.8-20.5 21.2-18.5 22.5-16.5 23.6-14.3 24.5-12 25.1-9.7 25.6-7.3 25.8-4.9 25.8-2.5 25.6-.1 25.2 2.3 24.5 4.7 23.5 6.9 22.4 9.1 21 11.1 19.4 12.9 17.6 14.6 15.7 16.1 13.6 17.3 11.3 18.3 9 19 6.7 19.4 4.5 19.5 2.4 19.4 .4 19-1.4 18.4-3.1 17.7-4.6 16.9-5.9 15.9-7.1 14.9-8.1 13.8-8.9 12.7-9.6 11.6-10.1 10.4-10.5 9.3-10.7 8.2-10.8 7.2-10.9 6.2-10.8 5.3-10.6 4.4-10.4 3.6-10.1 2.9-9.8 2.2-9.4 1.6-8.9 1.1-8.5 .7-8 .3-7.5 0-7-.3-6.5-.5-6-.7-5.4-.8-4.9-.8-4.4-.9-3.9-.9-3.4-.8-2.9-.8-2.4-.7-1.9-.6-1.4-.4-1-.3-.3-.9ZM-.5 .8-.8 1.3-1 1.7-1.3 2.1-1.5 2.6-1.7 3.1-1.9 3.5-2 4-2.1 4.5-2.2 5-2.2 5.6-2.2 6.1-2.2 6.7-2 7.2-1.9 7.8-1.6 8.3-1.3 8.9-.9 9.5-.5 10 .1 10.5 .7 11 1.4 11.4 2.2 11.8 3.1 12.1 4 12.4 5.1 12.5 6.2 12.6 7.4 12.5 8.6 12.3 9.9 12 11.2 11.5 12.5 10.8 13.8 9.9 15.1 8.9 16.3 7.7 17.4 6.3 18.4 4.6 19.3 2.8 20 .8 20.5-1.3 20.7-3.6 20.6-6 20.3-8.5 19.7-10.8 18.8-13.1 17.6-15.3 16.3-17.3 14.7-19.2 12.9-20.8 11-22.3 8.9-23.6 6.8-24.7 4.5-25.6 2.1-26.2-.3-26.6-2.7-26.8-5.1-26.8-7.5-26.5-9.9-26-12.2-25.4-14.5-24.5-16.6-23.4-18.7-22.2-20.7-20.7-22.5-19.1-24.2-17.4-25.7-15.5-27.1-13.5-28.3-11.5-29.4-9.3-30.2-7-30.9-4.7-31.4-2.3-31.7 .1-31.9 2.5-31.8 4.9-31.6 7.3-31.1 9.7-30.6 12-29.8 14.3-28.8 16.5-27.8 18.7-26.5 20.7-25.1 22.7-23.6 24.6-21.9 26.3-20.1 28-18.2 29.5-16.2 30.8-14.2 32-12 33.1-9.8 34-7.5 34.8-5.1 35.4-2.8 35.8-.4 36.1 2 36.2 4.4 36.2 6.8 36 9.2 35.6 11.6 35.1 13.9 34.4 16.2 33.6 18.4 32.6 20.5 31.5 22.6 30.3 24.6 28.9 26.4 27.4 28.2 25.8 29.9 24.1 31.5 22.3 32.9 20.3 34.3 18.3 35.5 16.2 36.6 14.1 37.5 11.9 38.3 9.6 38.9 7.3 39.5 4.9 39.8 2.5 40 .2 40.1-2.3 40.1-4.7 39.9-7.1 39.5-9.4 39-11.8 38.4-14.1 37.6-16.4 36.7-18.6 35.7-20.8 34.5-22.9 33.2-25 31.8-26.9 30.3-28.8 28.7-30.6 27-32.3 25.2-33.9 23.3-35.4 21.3-36.7 19.3-38 17.2-39.1 15-40.1 12.7-41 10.5-41.8 8.1-42.4 5.8-43 3.4-43.3 1-43.6-1.4-43.7-3.8-43.7-6.2-43.5-8.6-43.2-11-42.8-13.3-42.3-15.6-41.6-17.9-40.8-20.1-39.9-22.3-38.8-24.4-37.7-26.4-36.4-28.4-35-30.3-33.6-32.1-32-33.8-30.3-35.5-28.5-37-26.7-38.5-24.8-39.8-22.8-41-20.7-42.2-18.6-43.2-16.4-44.1-14.2-44.9-11.9-45.5-9.6-46.1-7.2-46.5-4.9-46.8-2.5-46.9-.1-47 2.3-46.9 4.7-46.7 7.1-46.4 9.5-45.9 11.9-45.4 14.2-44.7 16.5-43.9 18.8-43 21-42 23.2-40.8 25.3-39.6 27.4-38.3 29.4-36.8 31.3-35.3 33.2-33.7 34.9-32 36.6-30.2 38.2-28.3 39.8-26.4 41.2-24.4 42.5-22.3 43.7-20.2 44.9-18 45.9-15.8 46.8-13.5 47.6-11.2 48.3-8.9 48.9-6.5 49.3-4.2 49.7-1.8 49.9-.6 50 1.8 50 4.2 49.8 6.6 49.6 9 49.2 11.4 48.7 13.7 48.1 16 47.4 18.3 46.5 20.5 45.6 22.7 44.5 24.9 43.4 26.9 42.1 28.9 40.8 30.9 39.3 32.7 37.8 34.5 36.2 36.2 34.4 37.9 32.6 39.4 30.8 40.8 28.8 42.2 26.8 43.4 24.8 44.6 22.6 45.6 20.4 46.6 18.2 47.4 15.9 48.1 13.6 48.7 11.3 49.2 8.9 49.6 6.5 49.8 4.1 50 1.7 50-.7 49.9-3.2 49.7-5.6 49.4-8 48.9-10.3 48.4-12.7 48.6-11.6 49-9.2 49.3-6.8 49.5-4.4 49.5-2 49.5 .4 49.3 2.8 49 5.2 48.6 7.5 48.1 9.9 47.5 12.2 46.7 14.5 45.9 16.7 44.9 18.9 43.8 21.1 42.6 23.2 41.4 25.2 40 27.2 38.5 29.1 36.9 30.9 35.3 32.6 33.5 34.3 31.7 35.9 29.8 37.3 27.8 38.7 25.8 40 23.7 41.1 21.5 42.2 19.3 43.1 17 44 14.7 44.7 12.4 45.3 10 45.7 7.7 46.1 5.3 46.3 2.9 46.4 .5 46.4-1.9 46.3-4.3 46-6.7 45.6-9.1 45.1-11.4 44.4-13.7 43.7-15.9 42.8-18.1 41.8-20.2 40.7-22.3 39.5-24.3 38.1-26.2 36.7-28.1 35.2-29.8 33.5-31.5 31.8-33.1 30-34.6 28.1-35.9 26.1-37.2 24.1-38.3 21.9-39.4 19.8-40.3 17.5-41.1 15.3-41.7 13-42.3 10.6-42.7 8.2-42.9 5.8-43.1 3.4-43.1 1-43-1.4-42.7-3.8-42.3-6.1-41.7-8.5-41.1-10.8-40.3-13.1-39.4-15.3-38.3-17.4-37.1-19.5-35.8-21.6-34.4-23.5-32.9-25.4-31.3-27.2-29.5-28.8-27.7-30.4-25.8-31.9-23.8-33.2-21.7-34.5-19.6-35.6-17.4-36.5-15.1-37.4-12.8-38.1-10.5-38.6-8.1-39.1-5.7-39.3-3.3-39.5-.9-39.5 1.5-39.3 3.9-39 6.2-38.5 8.6-37.9 10.8-37.2 13.1-36.3 15.3-35.3 17.4-34.1 19.4-32.8 21.3-31.4 23.2-29.8 24.9-28.2 26.6-26.4 28.1-24.5 29.5-22.6 30.8-20.5 31.9-18.4 32.9-16.2 33.7-13.9 34.4-11.6 34.9-9.2 35.3-6.9 35.5-4.5 35.5-2 35.4 .4 35.1 2.8 34.6 5.1 34 7.5 33.2 9.7 32.3 12 31.2 14.1 30 16.2 28.6 18.2 27 20 25.4 21.8 23.6 23.4 21.7 24.9 19.7 26.3 17.6 27.5 15.4 28.5 13.2 29.4 10.9 30.1 8.5 30.6 6.1 30.9 3.7 31 1.3 31-1.1 30.8-3.5 30.3-5.8 29.7-8.1 28.9-10.3 27.9-12.5 26.8-14.5 25.4-16.4 23.9-18.1 22.3-19.8 20.5-21.2 18.5-22.5 16.5-23.6 14.3-24.5 12-25.1 9.7-25.6 7.3-25.8 4.9-25.8 2.5-25.6 .1-25.2-2.3-24.5-4.7-23.5-6.9-22.4-9.1-21-11.1-19.4-12.9-17.6-14.6-15.7-16.1-13.6-17.3-11.3-18.3-9-19-6.7-19.4-4.5-19.5-2.4-19.4-.4-19 1.4-18.4 3.1-17.7 4.6-16.9 5.9-15.9 7.1-14.9 8.1-13.8 8.9-12.7 9.6-11.6 10.1-10.4 10.5-9.3 10.7-8.2 10.8-7.2 10.9-6.2 10.8-5.3 10.6-4.4 10.4-3.6 10.1-2.9 9.8-2.2 9.4-1.6 8.9-1.1 8.5-.7 8-.3 7.5 0 7 .3 6.5 .5 6 .7 5.4 .8 4.9 .8 4.4 .9 3.9 .9 3.4 .8 2.9 .8 2.4 .7 1.9 .6 1.4 .4 1 .3 .3 .9Z" fill="url(#a9_2)"/></g></g><g transform="translate(966.00 32.00)" filter="url(#fwb)"></g></g><text transform="translate(966.51 42.80)" font-size="13.20" style="font-weight:bold" fill="#f3dcf6">(a9)</text>
<g clip-path="url(#b1_clip)"><g filter="url(#fsim)"><rect x="73.00" y="139.80" width="121.00" height="119.80" fill="#000"/><g transform="translate(79.00 145.80)"><ellipse transform="translate(54.50 53.70) rotate(0.0) scale(1.0000 1.0000)" rx="56.00" ry="56.00" fill="url(#b1_1)"/><path transform="translate(54.50 53.70) rotate(0.0) scale(1.000 1.000)" d="M-.9 .5-1.3 .7-1.8 .9-2.2 1.1-2.7 1.3-3.2 1.5-3.7 1.6-4.1 1.7-4.6 1.8-5.2 1.9-5.7 1.9-6.2 1.9-6.7 1.9-7.3 1.8-7.8 1.7-8.4 1.5-8.9 1.2-9.5 .9-10 .6-10.5 .2-11-.3-11.5-.9-11.9-1.5-12.3-2.2-12.6-3-12.9-3.9-13.2-4.8-13.3-5.8-13.4-6.8-13.3-7.9-13.2-9.1-12.9-10.3-12.5-11.5-12-12.8-11.3-14-10.4-15.3-9.4-16.5-8.3-17.7-6.9-18.8-5.4-19.8-3.8-20.7-1.9-21.4 .1-22 2.2-22.4 4.4-22.6 6.8-22.5 9.2-22.2 11.6-21.6 13.9-20.7 16.1-19.7 18.1-18.4 20.1-16.9 21.9-15.2 23.5-13.4 24.9-11.5 26.2-9.4 27.2-7.2 28.1-4.9 28.7-2.6 29.2-.2 29.4 2.2 29.5 4.7 29.3 7.1 28.9 9.5 28.4 11.8 27.6 14.1 26.7 16.4 25.6 18.5 24.4 20.6 23 22.6 21.4 24.4 19.7 26.1 17.9 27.7 15.9 29.2 13.9 30.5 11.8 31.6 9.6 32.6 7.3 33.4 5 34.1 2.6 34.6 .2 34.9-2.2 35.1-4.6 35.1-7 34.9-9.4 34.6-11.8 34.1-14.1 33.4-16.4 32.6-18.6 31.7-20.7 30.6-22.8 29.3-24.8 27.9-26.6 26.4-28.4 24.8-30.1 23.1-31.7 21.2-33.1 19.3-34.4 17.3-35.6 15.2-36.6 13-37.6 10.8-38.3 8.5-39 6.1-39.4 3.8-39.8 1.4-40-1-40-3.4-39.9-5.8-39.7-8.2-39.3-10.6-38.7-12.9-38.1-15.3-37.3-17.5-36.3-19.8-35.3-21.9-34.1-24-32.8-26-31.3-28-29.8-29.8-28.2-31.6-26.4-33.3-24.6-34.8-22.7-36.3-20.7-37.6-18.6-38.9-16.5-40-14.3-41-12-41.8-9.7-42.6-7.4-43.2-5.1-43.7-2.7-44-.3-44.3 2.1-44.4 4.5-44.3 6.9-44.2 9.3-43.9 11.7-43.4 14-42.9 16.3-42.2 18.6-41.4 20.8-40.5 23-39.5 25.1-38.3 27.2-37 29.2-35.7 31.1-34.2 32.9-32.6 34.6-31 36.3-29.2 37.9-27.4 39.3-25.5 40.7-23.5 41.9-21.5 43.1-19.4 44.1-17.2 45.1-15 45.9-12.7 46.6-10.4 47.2-8.1 47.7-5.7 48-3.3 48.2-.9 48.3 1.5 48.3 3.9 48.2 6.3 47.9 8.7 47.6 11 47.1 13.4 46.5 15.7 45.8 18 44.9 20.3 44 22.5 43 24.7 41.8 26.8 40.6 28.8 39.2 30.8 37.8 32.8 36.2 34.6 34.6 36.4 32.9 38.1 31.1 39.7 29.3 41.2 27.3 42.7 25.3 44 23.3 45.2 21.2 46.4 19 47.4 16.8 48.4 14.5 49.2 12.3 49.9 9.9 50.6 7.6 51.1 5.2 51.5 2.8 51.8 .4 52-.7 52 1.7 52 4.2 51.8 6.6 51.6 9 51.2 11.3 50.8 13.7 50.2 16 49.5 18.3 48.7 20.5 47.8 22.7 46.8 24.9 45.7 27 44.5 29 43.2 31 41.8 32.9 40.3 34.7 38.7 36.5 37 38.2 35.3 39.8 33.5 41.3 31.6 42.7 29.7 44 27.6 45.3 25.6 46.4 23.4 47.5 21.2 48.4 19 49.2 16.7 50 14.4 50.6 12.1 51.1 9.7 51.5 7.4 51.8 4.9 51.9 2.5 52 .1 51.9-2.3 51.8-4.7 51.5-7.1 51.1-9.5 50.6-11.9 50-14.2 49.3-16.5 48.5-18.8 47.6-21 47.1-22 45.9-24.1 44.6-26.2 43.3-28.1 41.8-30.1 40.3-31.9 38.7-33.7 37-35.4 35.2-37 33.4-38.6 31.4-40 29.5-41.4 27.4-42.6 25.3-43.8 23.1-44.8 20.9-45.8 18.7-46.6 16.4-47.4 14.1-48 11.7-48.5 9.3-48.9 7-49.2 4.6-49.3 2.1-49.4-.3-49.3-2.7-49.1-5-48.8-7.4-48.4-9.8-47.9-12.1-47.2-14.4-46.4-16.6-45.6-18.8-44.6-20.9-43.5-23-42.3-25-41-27-39.5-28.9-38-30.7-36.4-32.4-34.8-34-33-35.5-31.1-37-29.2-38.3-27.2-39.5-25.1-40.7-23-41.7-20.8-42.6-18.6-43.4-16.3-44-14-44.6-11.7-45-9.3-45.3-6.9-45.5-4.5-45.5-2.1-45.4 .3-45.2 2.7-44.8 5.1-44.4 7.4-43.8 9.8-43 12.1-42.2 14.3-41.2 16.5-40.1 18.7-38.9 20.8-37.6 22.8-36.2 24.7-34.7 26.6-33 28.4-31.3 30-29.5 31.6-27.6 33.1-25.6 34.5-23.6 35.7-21.4 36.8-19.2 37.9-17 38.7-14.7 39.5-12.4 40.1-10 40.6-7.7 41-5.3 41.2-2.8 41.2-.4 41.2 2 41 4.3 40.6 6.7 40.1 9 39.5 11.3 38.7 13.5 37.8 15.7 36.8 17.8 35.6 19.9 34.3 21.8 32.9 23.7 31.3 25.4 29.7 27.1 27.9 28.6 26.1 30 24.1 31.3 22.1 32.5 20 33.5 17.8 34.4 15.5 35.1 13.2 35.7 10.9 36.1 8.5 36.4 6.1 36.5 3.7 36.5 1.3 36.3-1.1 35.9-3.5 35.4-5.8 34.7-8.2 33.8-10.4 32.8-12.6 31.7-14.7 30.4-16.8 28.9-18.7 27.4-20.6 25.7-22.3 23.9-23.9 21.9-25.3 19.9-26.6 17.8-27.8 15.6-28.8 13.3-29.6 11-30.3 8.6-30.7 6.2-31 3.8-31.1 1.3-31-1.1-30.7-3.4-30.3-5.8-29.6-8-28.7-10.2-27.7-12.3-26.5-14.3-25.1-16.1-23.5-17.9-21.8-19.4-19.9-20.8-17.9-22-15.8-22.9-13.5-23.7-11.2-24.3-8.8-24.6-6.4-24.6-4-24.4-1.6-24 .9-23.3 3.2-22.4 5.4-21.3 7.3-20 9.1-18.7 10.7-17.2 12-15.7 13.2-14.2 14.1-12.6 14.9-11.1 15.4-9.5 15.9-8.1 16.1-6.6 16.2-5.3 16.2-4 16-2.8 15.8-1.7 15.4-.7 15 .3 14.5 1.1 14 1.9 13.4 2.5 12.8 3.1 12.1 3.6 11.5 4 10.8 4.3 10.1 4.5 9.5 4.7 8.8 4.8 8.2 4.8 7.6 4.8 7 4.8 6.4 4.7 5.9 4.5 5.3 4.3 4.8 4.1 4.4 3.9 3.9 3.6 3.5 3.3 3 3 2.7 2.7 2.3 2.3 1.9 1.9 1.6 1.6 1.2 1.2 .9 .8 .6-.1 1ZM.9-.5 1.3-.7 1.8-.9 2.2-1.1 2.7-1.3 3.2-1.5 3.7-1.6 4.1-1.7 4.6-1.8 5.2-1.9 5.7-1.9 6.2-1.9 6.7-1.9 7.3-1.8 7.8-1.7 8.4-1.5 8.9-1.2 9.5-.9 10-.6 10.5-.2 11 .3 11.5 .9 11.9 1.5 12.3 2.2 12.6 3 12.9 3.9 13.2 4.8 13.3 5.8 13.4 6.8 13.3 7.9 13.2 9.1 12.9 10.3 12.5 11.5 12 12.8 11.3 14 10.4 15.3 9.4 16.5 8.3 17.7 6.9 18.8 5.4 19.8 3.8 20.7 1.9 21.4-.1 22-2.2 22.4-4.4 22.6-6.8 22.5-9.2 22.2-11.6 21.6-13.9 20.7-16.1 19.7-18.1 18.4-20.1 16.9-21.9 15.2-23.5 13.4-24.9 11.5-26.2 9.4-27.2 7.2-28.1 4.9-28.7 2.6-29.2 .2-29.4-2.2-29.5-4.7-29.3-7.1-28.9-9.5-28.4-11.8-27.6-14.1-26.7-16.4-25.6-18.5-24.4-20.6-23-22.6-21.4-24.4-19.7-26.1-17.9-27.7-15.9-29.2-13.9-30.5-11.8-31.6-9.6-32.6-7.3-33.4-5-34.1-2.6-34.6-.2-34.9 2.2-35.1 4.6-35.1 7-34.9 9.4-34.6 11.8-34.1 14.1-33.4 16.4-32.6 18.6-31.7 20.7-30.6 22.8-29.3 24.8-27.9 26.6-26.4 28.4-24.8 30.1-23.1 31.7-21.2 33.1-19.3 34.4-17.3 35.6-15.2 36.6-13 37.6-10.8 38.3-8.5 39-6.1 39.4-3.8 39.8-1.4 40 1 40 3.4 39.9 5.8 39.7 8.2 39.3 10.6 38.7 12.9 38.1 15.3 37.3 17.5 36.3 19.8 35.3 21.9 34.1 24 32.8 26 31.3 28 29.8 29.8 28.2 31.6 26.4 33.3 24.6 34.8 22.7 36.3 20.7 37.6 18.6 38.9 16.5 40 14.3 41 12 41.8 9.7 42.6 7.4 43.2 5.1 43.7 2.7 44 .3 44.3-2.1 44.4-4.5 44.3-6.9 44.2-9.3 43.9-11.7 43.4-14 42.9-16.3 42.2-18.6 41.4-20.8 40.5-23 39.5-25.1 38.3-27.2 37-29.2 35.7-31.1 34.2-32.9 32.6-34.6 31-36.3 29.2-37.9 27.4-39.3 25.5-40.7 23.5-41.9 21.5-43.1 19.4-44.1 17.2-45.1 15-45.9 12.7-46.6 10.4-47.2 8.1-47.7 5.7-48 3.3-48.2 .9-48.3-1.5-48.3-3.9-48.2-6.3-47.9-8.7-47.6-11-47.1-13.4-46.5-15.7-45.8-18-44.9-20.3-44-22.5-43-24.7-41.8-26.8-40.6-28.8-39.2-30.8-37.8-32.8-36.2-34.6-34.6-36.4-32.9-38.1-31.1-39.7-29.3-41.2-27.3-42.7-25.3-44-23.3-45.2-21.2-46.4-19-47.4-16.8-48.4-14.5-49.2-12.3-49.9-9.9-50.6-7.6-51.1-5.2-51.5-2.8-51.8-.4-52 .7-52-1.7-52-4.2-51.8-6.6-51.6-9-51.2-11.3-50.8-13.7-50.2-16-49.5-18.3-48.7-20.5-47.8-22.7-46.8-24.9-45.7-27-44.5-29-43.2-31-41.8-32.9-40.3-34.7-38.7-36.5-37-38.2-35.3-39.8-33.5-41.3-31.6-42.7-29.7-44-27.6-45.3-25.6-46.4-23.4-47.5-21.2-48.4-19-49.2-16.7-50-14.4-50.6-12.1-51.1-9.7-51.5-7.4-51.8-4.9-51.9-2.5-52-.1-51.9 2.3-51.8 4.7-51.5 7.1-51.1 9.5-50.6 11.9-50 14.2-49.3 16.5-48.5 18.8-47.6 21-47.1 22-45.9 24.1-44.6 26.2-43.3 28.1-41.8 30.1-40.3 31.9-38.7 33.7-37 35.4-35.2 37-33.4 38.6-31.4 40-29.5 41.4-27.4 42.6-25.3 43.8-23.1 44.8-20.9 45.8-18.7 46.6-16.4 47.4-14.1 48-11.7 48.5-9.3 48.9-7 49.2-4.6 49.3-2.1 49.4 .3 49.3 2.7 49.1 5 48.8 7.4 48.4 9.8 47.9 12.1 47.2 14.4 46.4 16.6 45.6 18.8 44.6 20.9 43.5 23 42.3 25 41 27 39.5 28.9 38 30.7 36.4 32.4 34.8 34 33 35.5 31.1 37 29.2 38.3 27.2 39.5 25.1 40.7 23 41.7 20.8 42.6 18.6 43.4 16.3 44 14 44.6 11.7 45 9.3 45.3 6.9 45.5 4.5 45.5 2.1 45.4-.3 45.2-2.7 44.8-5.1 44.4-7.4 43.8-9.8 43-12.1 42.2-14.3 41.2-16.5 40.1-18.7 38.9-20.8 37.6-22.8 36.2-24.7 34.7-26.6 33-28.4 31.3-30 29.5-31.6 27.6-33.1 25.6-34.5 23.6-35.7 21.4-36.8 19.2-37.9 17-38.7 14.7-39.5 12.4-40.1 10-40.6 7.7-41 5.3-41.2 2.8-41.2 .4-41.2-2-41-4.3-40.6-6.7-40.1-9-39.5-11.3-38.7-13.5-37.8-15.7-36.8-17.8-35.6-19.9-34.3-21.8-32.9-23.7-31.3-25.4-29.7-27.1-27.9-28.6-26.1-30-24.1-31.3-22.1-32.5-20-33.5-17.8-34.4-15.5-35.1-13.2-35.7-10.9-36.1-8.5-36.4-6.1-36.5-3.7-36.5-1.3-36.3 1.1-35.9 3.5-35.4 5.8-34.7 8.2-33.8 10.4-32.8 12.6-31.7 14.7-30.4 16.8-28.9 18.7-27.4 20.6-25.7 22.3-23.9 23.9-21.9 25.3-19.9 26.6-17.8 27.8-15.6 28.8-13.3 29.6-11 30.3-8.6 30.7-6.2 31-3.8 31.1-1.3 31 1.1 30.7 3.4 30.3 5.8 29.6 8 28.7 10.2 27.7 12.3 26.5 14.3 25.1 16.1 23.5 17.9 21.8 19.4 19.9 20.8 17.9 22 15.8 22.9 13.5 23.7 11.2 24.3 8.8 24.6 6.4 24.6 4 24.4 1.6 24-.9 23.3-3.2 22.4-5.4 21.3-7.3 20-9.1 18.7-10.7 17.2-12 15.7-13.2 14.2-14.1 12.6-14.9 11.1-15.4 9.5-15.9 8.1-16.1 6.6-16.2 5.3-16.2 4-16 2.8-15.8 1.7-15.4 .7-15-.3-14.5-1.1-14-1.9-13.4-2.5-12.8-3.1-12.1-3.6-11.5-4-10.8-4.3-10.1-4.5-9.5-4.7-8.8-4.8-8.2-4.8-7.6-4.8-7-4.8-6.4-4.7-5.9-4.5-5.3-4.3-4.8-4.1-4.4-3.9-3.9-3.6-3.5-3.3-3-3-2.7-2.7-2.3-2.3-1.9-1.9-1.6-1.6-1.2-1.2-.9-.8-.6 .1-1Z" fill="url(#b1_2)"/></g></g><g transform="translate(79.00 145.80)" filter="url(#fwb)"></g></g><text transform="translate(79.51 156.60)" font-size="13.20" style="font-weight:bold" fill="#f3dcf6">(b1)</text>
<g clip-path="url(#b2_clip)"><g filter="url(#fsim)"><rect x="185.70" y="139.80" width="118.90" height="119.80" fill="#000"/><g transform="translate(191.70 145.80)"><ellipse transform="translate(55.00 53.50) rotate(0.0) scale(1.0000 1.0000)" rx="56.00" ry="56.00" fill="url(#b2_1)"/><path transform="translate(55.00 53.50) rotate(0.0) scale(1.000 1.000)" d="M-.5 .8-.8 1.3-1.1 1.7-1.4 2.1-1.7 2.5-2.1 2.8-2.5 3.2-2.9 3.5-3.3 3.7-3.8 4-4.3 4.2-4.9 4.3-5.5 4.4-6.1 4.4-6.7 4.3-7.4 4.2-8.1 3.9-8.8 3.6-9.5 3.1-10.2 2.6-10.8 1.9-11.4 1.1-12 .1-12.5-.9-12.8-2.1-13.1-3.4-13.1-4.8-13-6.3-12.7-7.9-12.2-9.5-11.5-11.2-10.4-12.8-9.1-14.3-7.6-15.8-5.7-17.1-3.6-18.1-1.3-18.9 1.2-19.4 3.6-19.6 6-19.4 8.4-18.9 10.8-18.2 13-17.2 15.1-15.9 17-14.4 18.7-12.6 20.2-10.8 21.5-8.7 22.6-6.5 23.5-4.3 24.1-1.9 24.4 .5 24.6 2.9 24.4 5.3 24.1 7.7 23.5 10.1 22.6 12.4 21.6 14.6 20.4 16.6 19 18.6 17.4 20.4 15.6 22.1 13.7 23.6 11.7 24.9 9.5 26 7.3 27 5 27.7 2.6 28.3 .3 28.6-2.2 28.7-4.6 28.6-7 28.4-9.3 27.9-11.7 27.2-13.9 26.4-16.1 25.3-18.2 24.1-20.2 22.7-22 21.2-23.8 19.5-25.4 17.7-26.8 15.8-28.1 13.7-29.2 11.6-30.2 9.4-31 7.1-31.6 4.8-32 2.4-32.3 0-32.4-2.4-32.3-4.8-32-7.2-31.5-9.6-30.9-11.9-30.1-14.2-29.1-16.4-28-18.5-26.7-20.6-25.3-22.5-23.8-24.4-22.1-26.1-20.3-27.7-18.4-29.2-16.4-30.5-14.3-31.7-12.1-32.7-9.9-33.6-7.6-34.3-5.2-34.9-2.8-35.3-.4-35.6 2-35.7 4.4-35.6 6.8-35.3 9.1-34.9 11.5-34.4 13.8-33.7 16-32.8 18.2-31.8 20.3-30.6 22.4-29.3 24.3-27.9 26.1-26.4 27.9-24.7 29.5-22.9 31-21.1 32.4-19.1 33.7-17.1 34.8-14.9 35.8-12.7 36.6-10.5 37.3-8.2 37.9-5.8 38.3-3.5 38.6-1.1 38.7 1.3 38.6 3.7 38.4 6.1 38.1 8.5 37.6 10.9 37 13.2 36.2 15.5 35.3 17.7 34.2 19.9 33.1 22 31.8 24 30.3 25.9 28.8 27.8 27.2 29.5 25.4 31.2 23.6 32.7 21.6 34.2 19.6 35.5 17.5 36.7 15.4 37.8 13.2 38.7 10.9 39.5 8.6 40.2 6.2 40.7 3.9 41.1 1.5 41.3-.9 41.5-3.3 41.4-5.7 41.3-8.1 41-10.5 40.5-12.8 40-15.1 39.2-17.4 38.4-19.6 37.4-21.7 36.3-23.8 35.1-25.8 33.8-27.7 32.4-29.6 30.8-31.3 29.2-33 27.4-34.6 25.6-36 23.7-37.3 21.7-38.6 19.6-39.7 17.5-40.7 15.3-41.6 13.1-42.3 10.8-42.9 8.5-43.4 6.1-43.8 3.7-44 1.3-44.1-1.1-44-3.5-43.9-5.9-43.6-8.3-43.2-10.6-42.6-13-41.9-15.3-41.1-17.5-40.2-19.8-39.2-21.9-38-24-36.7-26.1-35.4-28.1-33.9-29.9-32.3-31.8-30.6-33.5-28.9-35.1-27-36.7-25.1-38.1-23.1-39.4-21-40.7-18.9-41.8-16.7-42.8-14.5-43.7-12.2-44.5-9.9-45.1-7.6-45.7-5.2-46.1-2.8-46.4-.4-46.5 2-46.6 4.4-46.5 6.8-46.3 9.2-45.9 11.5-45.5 13.9-44.9 16.2-44.2 18.4-43.4 20.7-42.5 22.8-41.4 24.9-40.3 27-39 29-37.7 30.9-36.2 32.7-34.7 34.5-33 36.2-31.3 37.7-29.5 39.2-27.6 40.6-25.7 41.9-23.6 43.1-21.6 44.2-19.4 45.2-17.2 46.1-15 46.8-12.7 47.4-10.4 48-8 48.4-5.7 48.7-3.3 48.9-.9 48.9 1.5 48.8 3.9 48.7 6.3 48.4 8.7 48 11.1 47.4 13.4 46.8 15.7 46 18 45.2 20.3 44.2 22.5 43.1 24.6 41.9 26.7 40.6 28.7 39.3 30.7 37.8 32.6 36.2 34.4 34.6 36.2 32.9 37.8 31.1 39.4 29.2 40.9 27.2 42.3 25.2 43.6 23.1 44.8 21 46 18.8 47 16.6 47.9 14.3 48.7 12 49.4 9.7 49.9 7.3 50.4 5 50.8 2.6 51 .2 51.1-2.2 51.1-4.6 51-7 50.8-9.4 50.5-11.8 50.1-14.1 49.5-16.4 48.9-18.7 48.1-21 47.3-23.2 46.3-25.3 45.2-27.4 44.1-29.5 42.8-30.6 42-28.6 43.4-26.5 44.7-24.3 45.9-22.1 47-19.9 48-17.6 48.9-15.3 49.7-12.9 50.4-10.5 50.9-8.1 51.4-5.6 51.7-3.2 51.9-.7 52 1.8 52 4.2 51.8 6.7 51.6 9.1 51.2 11.5 50.7 13.9 50.1 16.3 49.4 18.6 48.6 20.9 47.6 23.1 46.6 25.3 45.4 27.4 44.2 29.5 42.9 31.5 41.4 33.4 39.9 35.2 38.2 37 36.5 38.7 34.7 40.3 32.9 41.8 30.9 43.2 28.9 44.5 26.8 45.8 24.7 46.9 22.5 47.9 20.3 48.4 19 49.1 16.7 49.8 14.4 50.4 12 50.8 9.7 51.1 7.3 51.3 4.9 51.5 2.5 51.4 .1 51.3-2.3 51.1-4.7 50.8-7.1 50.3-9.4 49.7-11.8 49.1-14.1 48.3-16.4 47.4-18.6 46.4-20.8 45.3-22.9 44.1-25 42.8-27 41.5-29 40-30.9 38.4-32.7 36.8-34.5 35-36.1 33.2-37.7 31.3-39.2 29.4-40.6 27.4-41.9 25.3-43.1 23.2-44.2 21-45.2 18.7-46.1 16.5-46.9 14.2-47.6 11.8-48.1 9.5-48.6 7.1-48.9 4.7-49.1 2.3-49.2-.1-49.2-2.5-49.1-4.9-48.8-7.3-48.5-9.6-48-12-47.4-14.2-46.7-16.5-45.8-18.7-44.9-20.9-43.8-23-42.7-25-41.4-27-40.1-28.9-38.6-30.8-37.1-32.5-35.5-34.2-33.7-35.8-31.9-37.3-30.1-38.7-28.1-40-26.1-41.2-24-42.3-21.8-43.3-19.7-44.1-17.4-44.9-15.1-45.5-12.8-46-10.5-46.4-8.1-46.7-5.7-46.9-3.3-46.9-.9-46.8 1.5-46.6 3.9-46.3 6.3-45.8 8.6-45.2 11-44.5 13.3-43.7 15.5-42.7 17.7-41.7 19.9-40.5 22-39.3 24-37.9 26-36.4 27.9-34.8 29.7-33.2 31.5-31.4 33.1-29.6 34.6-27.6 36.1-25.7 37.4-23.6 38.7-21.5 39.8-19.3 40.8-17.1 41.7-14.8 42.5-12.5 43.1-10.1 43.6-7.7 44-5.4 44.3-3 44.4-.5 44.4 1.9 44.3 4.2 44.1 6.6 43.7 9 43.2 11.3 42.5 13.6 41.8 15.8 40.9 18 39.9 20.1 38.7 22.2 37.5 24.2 36.1 26.1 34.7 27.9 33.1 29.6 31.4 31.3 29.7 32.8 27.8 34.2 25.9 35.5 23.9 36.7 21.8 37.8 19.7 38.8 17.5 39.6 15.2 40.3 12.9 40.9 10.6 41.4 8.2 41.7 5.8 41.8 3.4 41.9 1 41.7-1.4 41.5-3.8 41.1-6.2 40.6-8.5 39.9-10.8 39.1-13.1 38.2-15.3 37.2-17.5 36-19.6 34.7-21.6 33.3-23.5 31.7-25.4 30.1-27.2 28.4-28.8 26.5-30.4 24.6-31.8 22.6-33.2 20.5-34.4 18.4-35.4 16.2-36.4 13.9-37.2 11.6-37.9 9.2-38.4 6.9-38.8 4.5-39 2.1-39.1-.4-39-2.7-38.8-5.1-38.5-7.5-38-9.8-37.3-12.1-36.5-14.3-35.6-16.4-34.5-18.5-33.3-20.5-32-22.4-30.5-24.3-28.9-26-27.2-27.6-25.4-29-23.5-30.4-21.5-31.6-19.5-32.7-17.3-33.7-15.1-34.4-12.8-35.1-10.5-35.6-8.2-35.9-5.8-36.1-3.4-36.1-1-36 1.4-35.6 3.8-35.2 6.2-34.5 8.5-33.8 10.8-32.8 13-31.7 15.2-30.5 17.2-29.1 19.2-27.6 21.1-26 22.9-24.2 24.5-22.4 26-20.4 27.4-18.3 28.7-16.2 29.8-14 30.7-11.7 31.5-9.3 32.1-7 32.5-4.6 32.8-2.2 32.9 .2 32.8 2.6 32.5 5 32.1 7.3 31.5 9.6 30.7 11.8 29.7 14 28.6 16 27.3 17.9 25.8 19.8 24.3 21.4 22.5 23 20.7 24.4 18.7 25.6 16.6 26.7 14.5 27.6 12.2 28.3 9.9 28.8 7.6 29.2 5.2 29.3 2.8 29.2 .4 28.9-2.1 28.5-4.4 27.8-6.7 26.9-9 25.9-11.2 24.6-13.2 23.2-15.2 21.6-17 19.9-18.7 18-20.2 15.9-21.5 13.8-22.7 11.6-23.6 9.3-24.4 6.9-24.9 4.5-25.1 2.1-25.2-.3-25-2.7-24.6-5.1-23.9-7.3-23-9.5-21.9-11.5-20.5-13.4-19-15.1-17.3-16.6-15.3-17.8-13.3-18.9-11.1-19.7-8.7-20.2-6.4-20.4-3.9-20.3-1.5-19.9 .9-19.2 3.3-18.2 5.5-16.9 7.6-15.3 9.4-13.7 11-11.9 12.2-10.1 13.1-8.3 13.7-6.5 14.1-4.8 14.2-3.2 14.1-1.7 13.9-.4 13.5 .9 13 1.9 12.3 2.9 11.7 3.7 10.9 4.3 10.1 4.8 9.3 5.2 8.5 5.5 7.7 5.7 7 5.8 6.3 5.7 5.6 5.7 4.9 5.5 4.3 5.3 3.8 5 3.3 4.7 2.8 4.4 2.4 4 2 3.6 1.7 3.2 1.4 2.8 1.1 2.3 .9 1.9 .7 1.4 .5 .9 .3 .3 .9ZM.5-.8 .8-1.3 1.1-1.7 1.4-2.1 1.7-2.5 2.1-2.8 2.5-3.2 2.9-3.5 3.3-3.7 3.8-4 4.3-4.2 4.9-4.3 5.5-4.4 6.1-4.4 6.7-4.3 7.4-4.2 8.1-3.9 8.8-3.6 9.5-3.1 10.2-2.6 10.8-1.9 11.4-1.1 12-.1 12.5 .9 12.8 2.1 13.1 3.4 13.1 4.8 13 6.3 12.7 7.9 12.2 9.5 11.5 11.2 10.4 12.8 9.1 14.3 7.6 15.8 5.7 17.1 3.6 18.1 1.3 18.9-1.2 19.4-3.6 19.6-6 19.4-8.4 18.9-10.8 18.2-13 17.2-15.1 15.9-17 14.4-18.7 12.6-20.2 10.8-21.5 8.7-22.6 6.5-23.5 4.3-24.1 1.9-24.4-.5-24.6-2.9-24.4-5.3-24.1-7.7-23.5-10.1-22.6-12.4-21.6-14.6-20.4-16.6-19-18.6-17.4-20.4-15.6-22.1-13.7-23.6-11.7-24.9-9.5-26-7.3-27-5-27.7-2.6-28.3-.3-28.6 2.2-28.7 4.6-28.6 7-28.4 9.3-27.9 11.7-27.2 13.9-26.4 16.1-25.3 18.2-24.1 20.2-22.7 22-21.2 23.8-19.5 25.4-17.7 26.8-15.8 28.1-13.7 29.2-11.6 30.2-9.4 31-7.1 31.6-4.8 32-2.4 32.3 0 32.4 2.4 32.3 4.8 32 7.2 31.5 9.6 30.9 11.9 30.1 14.2 29.1 16.4 28 18.5 26.7 20.6 25.3 22.5 23.8 24.4 22.1 26.1 20.3 27.7 18.4 29.2 16.4 30.5 14.3 31.7 12.1 32.7 9.9 33.6 7.6 34.3 5.2 34.9 2.8 35.3 .4 35.6-2 35.7-4.4 35.6-6.8 35.3-9.1 34.9-11.5 34.4-13.8 33.7-16 32.8-18.2 31.8-20.3 30.6-22.4 29.3-24.3 27.9-26.1 26.4-27.9 24.7-29.5 22.9-31 21.1-32.4 19.1-33.7 17.1-34.8 14.9-35.8 12.7-36.6 10.5-37.3 8.2-37.9 5.8-38.3 3.5-38.6 1.1-38.7-1.3-38.6-3.7-38.4-6.1-38.1-8.5-37.6-10.9-37-13.2-36.2-15.5-35.3-17.7-34.2-19.9-33.1-22-31.8-24-30.3-25.9-28.8-27.8-27.2-29.5-25.4-31.2-23.6-32.7-21.6-34.2-19.6-35.5-17.5-36.7-15.4-37.8-13.2-38.7-10.9-39.5-8.6-40.2-6.2-40.7-3.9-41.1-1.5-41.3 .9-41.5 3.3-41.4 5.7-41.3 8.1-41 10.5-40.5 12.8-40 15.1-39.2 17.4-38.4 19.6-37.4 21.7-36.3 23.8-35.1 25.8-33.8 27.7-32.4 29.6-30.8 31.3-29.2 33-27.4 34.6-25.6 36-23.7 37.3-21.7 38.6-19.6 39.7-17.5 40.7-15.3 41.6-13.1 42.3-10.8 42.9-8.5 43.4-6.1 43.8-3.7 44-1.3 44.1 1.1 44 3.5 43.9 5.9 43.6 8.3 43.2 10.6 42.6 13 41.9 15.3 41.1 17.5 40.2 19.8 39.2 21.9 38 24 36.7 26.1 35.4 28.1 33.9 29.9 32.3 31.8 30.6 33.5 28.9 35.1 27 36.7 25.1 38.1 23.1 39.4 21 40.7 18.9 41.8 16.7 42.8 14.5 43.7 12.2 44.5 9.9 45.1 7.6 45.7 5.2 46.1 2.8 46.4 .4 46.5-2 46.6-4.4 46.5-6.8 46.3-9.2 45.9-11.5 45.5-13.9 44.9-16.2 44.2-18.4 43.4-20.7 42.5-22.8 41.4-24.9 40.3-27 39-29 37.7-30.9 36.2-32.7 34.7-34.5 33-36.2 31.3-37.7 29.5-39.2 27.6-40.6 25.7-41.9 23.6-43.1 21.6-44.2 19.4-45.2 17.2-46.1 15-46.8 12.7-47.4 10.4-48 8-48.4 5.7-48.7 3.3-48.9 .9-48.9-1.5-48.8-3.9-48.7-6.3-48.4-8.7-48-11.1-47.4-13.4-46.8-15.7-46-18-45.2-20.3-44.2-22.5-43.1-24.6-41.9-26.7-40.6-28.7-39.3-30.7-37.8-32.6-36.2-34.4-34.6-36.2-32.9-37.8-31.1-39.4-29.2-40.9-27.2-42.3-25.2-43.6-23.1-44.8-21-46-18.8-47-16.6-47.9-14.3-48.7-12-49.4-9.7-49.9-7.3-50.4-5-50.8-2.6-51-.2-51.1 2.2-51.1 4.6-51 7-50.8 9.4-50.5 11.8-50.1 14.1-49.5 16.4-48.9 18.7-48.1 21-47.3 23.2-46.3 25.3-45.2 27.4-44.1 29.5-42.8 30.6-42 28.6-43.4 26.5-44.7 24.3-45.9 22.1-47 19.9-48 17.6-48.9 15.3-49.7 12.9-50.4 10.5-50.9 8.1-51.4 5.6-51.7 3.2-51.9 .7-52-1.8-52-4.2-51.8-6.7-51.6-9.1-51.2-11.5-50.7-13.9-50.1-16.3-49.4-18.6-48.6-20.9-47.6-23.1-46.6-25.3-45.4-27.4-44.2-29.5-42.9-31.5-41.4-33.4-39.9-35.2-38.2-37-36.5-38.7-34.7-40.3-32.9-41.8-30.9-43.2-28.9-44.5-26.8-45.8-24.7-46.9-22.5-47.9-20.3-48.4-19-49.1-16.7-49.8-14.4-50.4-12-50.8-9.7-51.1-7.3-51.3-4.9-51.5-2.5-51.4-.1-51.3 2.3-51.1 4.7-50.8 7.1-50.3 9.4-49.7 11.8-49.1 14.1-48.3 16.4-47.4 18.6-46.4 20.8-45.3 22.9-44.1 25-42.8 27-41.5 29-40 30.9-38.4 32.7-36.8 34.5-35 36.1-33.2 37.7-31.3 39.2-29.4 40.6-27.4 41.9-25.3 43.1-23.2 44.2-21 45.2-18.7 46.1-16.5 46.9-14.2 47.6-11.8 48.1-9.5 48.6-7.1 48.9-4.7 49.1-2.3 49.2 .1 49.2 2.5 49.1 4.9 48.8 7.3 48.5 9.6 48 12 47.4 14.2 46.7 16.5 45.8 18.7 44.9 20.9 43.8 23 42.7 25 41.4 27 40.1 28.9 38.6 30.8 37.1 32.5 35.5 34.2 33.7 35.8 31.9 37.3 30.1 38.7 28.1 40 26.1 41.2 24 42.3 21.8 43.3 19.7 44.1 17.4 44.9 15.1 45.5 12.8 46 10.5 46.4 8.1 46.7 5.7 46.9 3.3 46.9 .9 46.8-1.5 46.6-3.9 46.3-6.3 45.8-8.6 45.2-11 44.5-13.3 43.7-15.5 42.7-17.7 41.7-19.9 40.5-22 39.3-24 37.9-26 36.4-27.9 34.8-29.7 33.2-31.5 31.4-33.1 29.6-34.6 27.6-36.1 25.7-37.4 23.6-38.7 21.5-39.8 19.3-40.8 17.1-41.7 14.8-42.5 12.5-43.1 10.1-43.6 7.7-44 5.4-44.3 3-44.4 .5-44.4-1.9-44.3-4.2-44.1-6.6-43.7-9-43.2-11.3-42.5-13.6-41.8-15.8-40.9-18-39.9-20.1-38.7-22.2-37.5-24.2-36.1-26.1-34.7-27.9-33.1-29.6-31.4-31.3-29.7-32.8-27.8-34.2-25.9-35.5-23.9-36.7-21.8-37.8-19.7-38.8-17.5-39.6-15.2-40.3-12.9-40.9-10.6-41.4-8.2-41.7-5.8-41.8-3.4-41.9-1-41.7 1.4-41.5 3.8-41.1 6.2-40.6 8.5-39.9 10.8-39.1 13.1-38.2 15.3-37.2 17.5-36 19.6-34.7 21.6-33.3 23.5-31.7 25.4-30.1 27.2-28.4 28.8-26.5 30.4-24.6 31.8-22.6 33.2-20.5 34.4-18.4 35.4-16.2 36.4-13.9 37.2-11.6 37.9-9.2 38.4-6.9 38.8-4.5 39-2.1 39.1 .4 39 2.7 38.8 5.1 38.5 7.5 38 9.8 37.3 12.1 36.5 14.3 35.6 16.4 34.5 18.5 33.3 20.5 32 22.4 30.5 24.3 28.9 26 27.2 27.6 25.4 29 23.5 30.4 21.5 31.6 19.5 32.7 17.3 33.7 15.1 34.4 12.8 35.1 10.5 35.6 8.2 35.9 5.8 36.1 3.4 36.1 1 36-1.4 35.6-3.8 35.2-6.2 34.5-8.5 33.8-10.8 32.8-13 31.7-15.2 30.5-17.2 29.1-19.2 27.6-21.1 26-22.9 24.2-24.5 22.4-26 20.4-27.4 18.3-28.7 16.2-29.8 14-30.7 11.7-31.5 9.3-32.1 7-32.5 4.6-32.8 2.2-32.9-.2-32.8-2.6-32.5-5-32.1-7.3-31.5-9.6-30.7-11.8-29.7-14-28.6-16-27.3-17.9-25.8-19.8-24.3-21.4-22.5-23-20.7-24.4-18.7-25.6-16.6-26.7-14.5-27.6-12.2-28.3-9.9-28.8-7.6-29.2-5.2-29.3-2.8-29.2-.4-28.9 2.1-28.5 4.4-27.8 6.7-26.9 9-25.9 11.2-24.6 13.2-23.2 15.2-21.6 17-19.9 18.7-18 20.2-15.9 21.5-13.8 22.7-11.6 23.6-9.3 24.4-6.9 24.9-4.5 25.1-2.1 25.2 .3 25 2.7 24.6 5.1 23.9 7.3 23 9.5 21.9 11.5 20.5 13.4 19 15.1 17.3 16.6 15.3 17.8 13.3 18.9 11.1 19.7 8.7 20.2 6.4 20.4 3.9 20.3 1.5 19.9-.9 19.2-3.3 18.2-5.5 16.9-7.6 15.3-9.4 13.7-11 11.9-12.2 10.1-13.1 8.3-13.7 6.5-14.1 4.8-14.2 3.2-14.1 1.7-13.9 .4-13.5-.9-13-1.9-12.3-2.9-11.7-3.7-10.9-4.3-10.1-4.8-9.3-5.2-8.5-5.5-7.7-5.7-7-5.8-6.3-5.7-5.6-5.7-4.9-5.5-4.3-5.3-3.8-5-3.3-4.7-2.8-4.4-2.4-4-2-3.6-1.7-3.2-1.4-2.8-1.1-2.3-.9-1.9-.7-1.4-.5-.9-.3-.3-.9Z" fill="url(#b2_2)"/></g></g><g transform="translate(191.70 145.80)" filter="url(#fwb)"></g></g><text transform="translate(192.21 156.60)" font-size="13.20" style="font-weight:bold" fill="#f3dcf6">(b2)</text>
<g clip-path="url(#b3_clip)"><g filter="url(#fsim)"><rect x="296.80" y="139.80" width="119.00" height="119.80" fill="#000"/><g transform="translate(302.80 145.80)"><ellipse transform="translate(54.50 53.50) rotate(0.0) scale(1.0000 1.0000)" rx="56.00" ry="56.00" fill="url(#b3_1)"/><path transform="translate(54.50 53.50) rotate(0.0) scale(1.000 1.000)" d="M0 0 0 .5-.1 1-.1 1.5-.2 2-.3 2.5-.5 3-.6 3.4-.8 3.9-1.1 4.4-1.4 4.8-1.8 5.2-2.2 5.6-2.7 5.9-3.2 6.2-3.8 6.4-4.5 6.6-5.3 6.7-6.1 6.7-6.9 6.5-7.8 6.3-8.7 5.9-9.6 5.3-10.5 4.6-11.4 3.8-12.2 2.7-12.9 1.5-13.5 .1-13.9-1.5-14.2-3.2-14.1-5-13.9-6.9-13.3-8.9-12.3-10.9-11.1-12.9-9.4-14.7-7.5-16.3-5.4-17.6-3.2-18.6-.8-19.2 1.6-19.6 4-19.6 6.5-19.3 8.8-18.8 11.1-17.9 13.3-16.8 15.3-15.4 17.1-13.8 18.8-12.1 20.2-10.1 21.5-8 22.5-5.8 23.2-3.5 23.7-1.1 24 1.3 24 3.7 23.7 6.1 23.2 8.5 22.5 10.8 21.6 13.1 20.4 15.2 19.1 17.2 17.5 19.1 15.8 20.8 14 22.3 12 23.7 9.8 24.9 7.6 25.8 5.3 26.6 3 27.2 .6 27.5-1.8 27.7-4.2 27.6-6.6 27.3-9 26.8-11.3 26.2-13.5 25.3-15.7 24.2-17.8 22.9-19.7 21.5-21.6 19.9-23.2 18.2-24.8 16.4-26.2 14.4-27.4 12.3-28.4 10.1-29.3 7.9-30 5.6-30.5 3.2-30.8 .8-31-1.6-30.9-4-30.6-6.4-30.2-8.8-29.6-11.1-28.8-13.4-27.8-15.6-26.7-17.7-25.4-19.7-24-21.7-22.4-23.5-20.7-25.2-18.9-26.8-16.9-28.2-14.9-29.5-12.7-30.6-10.5-31.6-8.3-32.4-6-33-3.6-33.5-1.2-33.8 1.2-33.9 3.6-33.9 6-33.7 8.4-33.3 10.7-32.7 13-32 15.3-31.1 17.5-30.1 19.6-28.9 21.6-27.6 23.5-26.2 25.3-24.6 27-22.9 28.6-21.1 30.1-19.2 31.4-17.1 32.6-15 33.6-12.9 34.5-10.6 35.2-8.3 35.8-6 36.3-3.6 36.5-1.3 36.6 1.2 36.6 3.6 36.4 6 36 8.3 35.5 10.7 34.8 13 34 15.3 33.1 17.5 32 19.6 30.7 21.7 29.4 23.7 27.9 25.6 26.3 27.3 24.6 29 22.7 30.6 20.8 32.1 18.8 33.4 16.7 34.6 14.6 35.7 12.4 36.6 10.1 37.4 7.8 38 5.4 38.5 3.1 38.9 .7 39.1-1.7 39.2-4.1 39.1-6.5 38.9-8.9 38.5-11.3 38-13.6 37.3-15.8 36.5-18.1 35.6-20.2 34.5-22.3 33.3-24.3 32-26.2 30.5-28.1 29-29.8 27.3-31.4 25.5-33 23.7-34.4 21.7-35.7 19.7-36.9 17.6-37.9 15.5-38.9 13.2-39.6 11-40.3 8.7-40.8 6.3-41.2 3.9-41.5 1.5-41.6-.9-41.5-3.3-41.3-5.7-41-8-40.6-10.4-40-12.7-39.3-15-38.4-17.3-37.5-19.5-36.4-21.6-35.2-23.7-33.8-25.7-32.4-27.6-30.8-29.5-29.2-31.2-27.4-32.9-25.6-34.4-23.7-35.9-21.7-37.2-19.6-38.4-17.5-39.5-15.3-40.5-13-41.4-10.7-42.1-8.4-42.7-6.1-43.2-3.7-43.5-1.3-43.7 1.1-43.8 3.5-43.8 5.9-43.6 8.3-43.3 10.7-42.8 13-42.3 15.3-41.6 17.6-40.7 19.8-39.8 21.9-38.7 24-37.6 26-36.3 28-34.9 29.9-33.4 31.7-31.8 33.4-30.1 35-28.3 36.5-26.4 37.9-24.5 39.3-22.5 40.5-20.4 41.5-18.3 42.5-16.1 43.4-13.8 44.1-11.5 44.7-9.2 45.2-6.9 45.6-4.5 45.8-2.1 45.9 .3 45.9 2.7 45.8 5.1 45.5 7.5 45.2 9.9 44.7 12.2 44 14.5 43.3 16.8 42.4 19.1 41.4 21.3 40.3 23.4 39.1 25.5 37.8 27.5 36.4 29.4 34.9 31.3 33.3 33.1 31.6 34.8 29.9 36.4 28 38 26.1 39.4 24.1 40.7 22 42 19.9 43.1 17.7 44.1 15.5 45 13.2 45.8 10.9 46.4 8.6 47 6.2 47.4 3.8 47.7 1.4 47.9-1 48-3.4 48-5.8 47.8-8.2 47.5-10.5 47.1-12.9 46.6-15.2 45.9-17.5 45.2-19.7 44.3-21.9 43.4-24.1 42.3-26.2 41.1-28.2 39.8-30.2 38.4-32 36.9-33.9 35.4-35.6 33.7-37.3 32-38.8 30.1-40.3 28.2-41.7 26.3-43 24.2-44.1 22.1-45.2 20-46.2 17.8-47.1 15.6-47.8 13.3-48.5 11-49 8.6-49.4 6.3-49.7 3.9-49.9 1.5-50-.9-49.9-3.3-49.8-5.7-49.5-8.1-49.1-10.5-48.6-12.8-48-15.2-47.3-17.4-46.4-19.7-45.5-21.9-44.5-24.1-43.3-26.2-42.1-28.2-40.7-30.2-39.3-32.2-37.8-34-36.2-35.8-34.5-37.5-32.7-39.1-30.9-40.7-29-42.1-27-43.5-24.9-44.8-22.8-45.9-20.7-47-18.5-48-16.3-48.8-14-49.6-11.7-50.2-9.3-50.8-7-51.2-4.6-51.5-2.2-51.8 .2-51.9 2.6-51.8 5-51.7 6.4-51.6 4-51.8 1.6-52-.8-52-3.2-51.9-5.6-51.7-8-51.4-10.4-51-12.7-50.4-15-49.8-17.3-49-19.6-48.2-21.8-47.2-24-46.2-26.1-45-28.1-43.7-30.1-42.4-32-41-33.9-39.4-35.7-37.8-37.4-36.1-39-34.3-40.6-32.5-42.1-30.6-43.4-28.6-44.7-26.6-45.9-24.5-47-22.3-48-20.1-48.8-17.9-49.6-15.6-50.3-13.3-50.8-10.9-51.3-8.6-51.6-6.2-51.9-3.8-52-1.4-52 1-51.9 3.4-51.7 5.8-51.3 8.2-50.9 10.6-50.6 12-49.9 14.3-49.1 16.6-48.3 18.8-47.3 21-46.2 23.1-45 25.2-43.8 27.3-42.4 29.3-41 31.2-39.4 33-37.8 34.8-36.1 36.5-34.3 38.1-32.4 39.6-30.5 41-28.5 42.4-26.5 43.6-24.4 44.8-22.2 45.8-20 46.8-17.7 47.6-15.4 48.3-13.1 49-10.8 49.5-8.4 49.9-6 50.1-3.6 50.3-1.2 50.4 1.2 50.3 3.6 50.1 6 49.9 8.3 49.5 10.7 48.9 13 48.3 15.3 47.6 17.5 46.7 19.7 45.8 21.9 44.7 24 43.6 26 42.3 28 41 29.9 39.5 31.8 38 33.5 36.3 35.2 34.6 36.8 32.8 38.3 30.9 39.7 29 41.1 27 42.3 24.9 43.4 22.8 44.4 20.6 45.3 18.4 46.1 16.1 46.8 13.8 47.3 11.5 47.8 9.1 48.1 6.7 48.3 4.3 48.4 1.9 48.4-.5 48.3-2.9 48-5.2 47.6-7.6 47.1-10 46.5-12.3 45.8-14.6 44.9-16.8 43.9-19 42.9-21.2 41.7-23.3 40.4-25.3 39-27.3 37.6-29.2 36-31 34.3-32.7 32.6-34.4 30.8-35.9 28.9-37.4 26.9-38.8 24.8-40 22.7-41.2 20.6-42.2 18.3-43.2 16.1-44 13.8-44.7 11.5-45.3 9.1-45.7 6.7-46.1 4.3-46.3 1.9-46.4-.5-46.4-2.9-46.2-5.3-45.9-7.6-45.5-10-45-12.3-44.3-14.6-43.6-16.8-42.7-19-41.7-21.1-40.6-23.2-39.3-25.2-38-27.1-36.6-29-35-30.7-33.4-32.4-31.7-34-29.9-35.5-28-36.8-26-38.1-24-39.3-21.9-40.3-19.7-41.2-17.5-42.1-15.2-42.7-12.9-43.3-10.6-43.7-8.2-44-5.8-44.2-3.4-44.3-1-44.2 1.4-44 3.8-43.6 6.1-43.2 8.5-42.6 10.8-41.8 13.1-41 15.4-40 17.6-38.9 19.7-37.7 21.8-36.4 23.8-34.9 25.7-33.4 27.6-31.7 29.3-30 31-28.2 32.5-26.3 34-24.3 35.4-22.2 36.6-20.1 37.7-17.9 38.7-15.7 39.6-13.4 40.3-11.1 40.9-8.7 41.4-6.3 41.8-3.9 42-1.5 42 .9 42 3.3 41.8 5.7 41.4 8 41 10.3 40.3 12.6 39.6 14.9 38.7 17 37.7 19.2 36.6 21.2 35.3 23.2 34 25.1 32.5 26.9 30.9 28.6 29.2 30.2 27.4 31.7 25.5 33.1 23.5 34.3 21.5 35.5 19.4 36.5 17.2 37.4 15 38.1 12.7 38.7 10.3 39.2 8 39.5 5.6 39.7 3.2 39.7 .8 39.6-1.6 39.3-4 38.9-6.4 38.3-8.7 37.6-11 36.8-13.3 35.8-15.5 34.7-17.6 33.5-19.7 32.1-21.6 30.6-23.5 29-25.3 27.3-27 25.5-28.6 23.6-30.1 21.6-31.4 19.5-32.6 17.4-33.7 15.2-34.7 12.9-35.4 10.6-36.1 8.2-36.6 5.8-36.9 3.4-37.1 1-37.2-1.4-37.1-3.8-36.8-6.1-36.4-8.5-35.8-10.8-35-13-34.2-15.2-33.1-17.3-32-19.3-30.6-21.2-29.2-23-27.6-24.8-25.9-26.4-24.2-27.8-22.2-29.2-20.3-30.4-18.2-31.4-16-32.4-13.8-33.1-11.5-33.7-9.2-34.1-6.8-34.4-4.4-34.5-2-34.4 .4-34.2 2.8-33.8 5.2-33.2 7.5-32.5 9.8-31.6 12.1-30.5 14.2-29.3 16.3-28 18.3-26.5 20.2-24.8 22-23.1 23.6-21.2 25.1-19.2 26.5-17.1 27.7-15 28.8-12.8 29.7-10.5 30.4-8.1 31-5.7 31.4-3.3 31.6-.9 31.6 1.5 31.4 3.9 31.1 6.2 30.5 8.5 29.8 10.8 28.9 12.9 27.8 15 26.6 17 25.2 18.8 23.6 20.5 21.9 22.1 20.1 23.5 18.2 24.8 16.1 25.8 13.9 26.7 11.7 27.5 9.4 28 7 28.3 4.6 28.4 2.2 28.3-.2 28-2.6 27.5-4.9 26.8-7.2 25.9-9.5 24.8-11.6 23.5-13.7 22-15.6 20.3-17.4 18.5-19 16.6-20.4 14.5-21.7 12.4-22.7 10.1-23.6 7.8-24.2 5.4-24.6 3-24.8 .5-24.7-1.9-24.4-4.2-23.9-6.5-23.1-8.7-22.1-10.8-20.8-12.7-19.4-14.5-17.7-16.1-15.9-17.5-13.9-18.6-11.7-19.5-9.5-20.2-7.1-20.5-4.7-20.6-2.3-20.4 .1-19.9 2.5-19 4.8-17.9 7-16.5 9-14.9 10.8-13 12.4-10.9 13.7-8.6 14.6-6.4 15.2-4.2 15.4-2.1 15.4-.2 15 1.6 14.4 3.1 13.6 4.5 12.7 5.6 11.7 6.5 10.7 7.3 9.6 7.8 8.5 8.2 7.4 8.4 6.3 8.5 5.3 8.4 4.4 8.3 3.6 8 2.8 7.7 2.1 7.3 1.5 6.9 1 6.5 .6 6 .2 5.5 0 5-.2 4.5-.4 4-.5 3.5-.5 3-.5 2.4-.5 2-.4 1.5-.3 1-.2 .5-.1 0 0 0 0ZM0 0 0-.5 .1-1 .1-1.5 .2-2 .3-2.5 .5-3 .6-3.4 .8-3.9 1.1-4.4 1.4-4.8 1.8-5.2 2.2-5.6 2.7-5.9 3.2-6.2 3.8-6.4 4.5-6.6 5.3-6.7 6.1-6.7 6.9-6.5 7.8-6.3 8.7-5.9 9.6-5.3 10.5-4.6 11.4-3.8 12.2-2.7 12.9-1.5 13.5-.1 13.9 1.5 14.2 3.2 14.1 5 13.9 6.9 13.3 8.9 12.3 10.9 11.1 12.9 9.4 14.7 7.5 16.3 5.4 17.6 3.2 18.6 .8 19.2-1.6 19.6-4 19.6-6.5 19.3-8.8 18.8-11.1 17.9-13.3 16.8-15.3 15.4-17.1 13.8-18.8 12.1-20.2 10.1-21.5 8-22.5 5.8-23.2 3.5-23.7 1.1-24-1.3-24-3.7-23.7-6.1-23.2-8.5-22.5-10.8-21.6-13.1-20.4-15.2-19.1-17.2-17.5-19.1-15.8-20.8-14-22.3-12-23.7-9.8-24.9-7.6-25.8-5.3-26.6-3-27.2-.6-27.5 1.8-27.7 4.2-27.6 6.6-27.3 9-26.8 11.3-26.2 13.5-25.3 15.7-24.2 17.8-22.9 19.7-21.5 21.6-19.9 23.2-18.2 24.8-16.4 26.2-14.4 27.4-12.3 28.4-10.1 29.3-7.9 30-5.6 30.5-3.2 30.8-.8 31 1.6 30.9 4 30.6 6.4 30.2 8.8 29.6 11.1 28.8 13.4 27.8 15.6 26.7 17.7 25.4 19.7 24 21.7 22.4 23.5 20.7 25.2 18.9 26.8 16.9 28.2 14.9 29.5 12.7 30.6 10.5 31.6 8.3 32.4 6 33 3.6 33.5 1.2 33.8-1.2 33.9-3.6 33.9-6 33.7-8.4 33.3-10.7 32.7-13 32-15.3 31.1-17.5 30.1-19.6 28.9-21.6 27.6-23.5 26.2-25.3 24.6-27 22.9-28.6 21.1-30.1 19.2-31.4 17.1-32.6 15-33.6 12.9-34.5 10.6-35.2 8.3-35.8 6-36.3 3.6-36.5 1.3-36.6-1.2-36.6-3.6-36.4-6-36-8.3-35.5-10.7-34.8-13-34-15.3-33.1-17.5-32-19.6-30.7-21.7-29.4-23.7-27.9-25.6-26.3-27.3-24.6-29-22.7-30.6-20.8-32.1-18.8-33.4-16.7-34.6-14.6-35.7-12.4-36.6-10.1-37.4-7.8-38-5.4-38.5-3.1-38.9-.7-39.1 1.7-39.2 4.1-39.1 6.5-38.9 8.9-38.5 11.3-38 13.6-37.3 15.8-36.5 18.1-35.6 20.2-34.5 22.3-33.3 24.3-32 26.2-30.5 28.1-29 29.8-27.3 31.4-25.5 33-23.7 34.4-21.7 35.7-19.7 36.9-17.6 37.9-15.5 38.9-13.2 39.6-11 40.3-8.7 40.8-6.3 41.2-3.9 41.5-1.5 41.6 .9 41.5 3.3 41.3 5.7 41 8 40.6 10.4 40 12.7 39.3 15 38.4 17.3 37.5 19.5 36.4 21.6 35.2 23.7 33.8 25.7 32.4 27.6 30.8 29.5 29.2 31.2 27.4 32.9 25.6 34.4 23.7 35.9 21.7 37.2 19.6 38.4 17.5 39.5 15.3 40.5 13 41.4 10.7 42.1 8.4 42.7 6.1 43.2 3.7 43.5 1.3 43.7-1.1 43.8-3.5 43.8-5.9 43.6-8.3 43.3-10.7 42.8-13 42.3-15.3 41.6-17.6 40.7-19.8 39.8-21.9 38.7-24 37.6-26 36.3-28 34.9-29.9 33.4-31.7 31.8-33.4 30.1-35 28.3-36.5 26.4-37.9 24.5-39.3 22.5-40.5 20.4-41.5 18.3-42.5 16.1-43.4 13.8-44.1 11.5-44.7 9.2-45.2 6.9-45.6 4.5-45.8 2.1-45.9-.3-45.9-2.7-45.8-5.1-45.5-7.5-45.2-9.9-44.7-12.2-44-14.5-43.3-16.8-42.4-19.1-41.4-21.3-40.3-23.4-39.1-25.5-37.8-27.5-36.4-29.4-34.9-31.3-33.3-33.1-31.6-34.8-29.9-36.4-28-38-26.1-39.4-24.1-40.7-22-42-19.9-43.1-17.7-44.1-15.5-45-13.2-45.8-10.9-46.4-8.6-47-6.2-47.4-3.8-47.7-1.4-47.9 1-48 3.4-48 5.8-47.8 8.2-47.5 10.5-47.1 12.9-46.6 15.2-45.9 17.5-45.2 19.7-44.3 21.9-43.4 24.1-42.3 26.2-41.1 28.2-39.8 30.2-38.4 32-36.9 33.9-35.4 35.6-33.7 37.3-32 38.8-30.1 40.3-28.2 41.7-26.3 43-24.2 44.1-22.1 45.2-20 46.2-17.8 47.1-15.6 47.8-13.3 48.5-11 49-8.6 49.4-6.3 49.7-3.9 49.9-1.5 50 .9 49.9 3.3 49.8 5.7 49.5 8.1 49.1 10.5 48.6 12.8 48 15.2 47.3 17.4 46.4 19.7 45.5 21.9 44.5 24.1 43.3 26.2 42.1 28.2 40.7 30.2 39.3 32.2 37.8 34 36.2 35.8 34.5 37.5 32.7 39.1 30.9 40.7 29 42.1 27 43.5 24.9 44.8 22.8 45.9 20.7 47 18.5 48 16.3 48.8 14 49.6 11.7 50.2 9.3 50.8 7 51.2 4.6 51.5 2.2 51.8-.2 51.9-2.6 51.8-5 51.7-6.4 51.6-4 51.8-1.6 52 .8 52 3.2 51.9 5.6 51.7 8 51.4 10.4 51 12.7 50.4 15 49.8 17.3 49 19.6 48.2 21.8 47.2 24 46.2 26.1 45 28.1 43.7 30.1 42.4 32 41 33.9 39.4 35.7 37.8 37.4 36.1 39 34.3 40.6 32.5 42.1 30.6 43.4 28.6 44.7 26.6 45.9 24.5 47 22.3 48 20.1 48.8 17.9 49.6 15.6 50.3 13.3 50.8 10.9 51.3 8.6 51.6 6.2 51.9 3.8 52 1.4 52-1 51.9-3.4 51.7-5.8 51.3-8.2 50.9-10.6 50.6-12 49.9-14.3 49.1-16.6 48.3-18.8 47.3-21 46.2-23.1 45-25.2 43.8-27.3 42.4-29.3 41-31.2 39.4-33 37.8-34.8 36.1-36.5 34.3-38.1 32.4-39.6 30.5-41 28.5-42.4 26.5-43.6 24.4-44.8 22.2-45.8 20-46.8 17.7-47.6 15.4-48.3 13.1-49 10.8-49.5 8.4-49.9 6-50.1 3.6-50.3 1.2-50.4-1.2-50.3-3.6-50.1-6-49.9-8.3-49.5-10.7-48.9-13-48.3-15.3-47.6-17.5-46.7-19.7-45.8-21.9-44.7-24-43.6-26-42.3-28-41-29.9-39.5-31.8-38-33.5-36.3-35.2-34.6-36.8-32.8-38.3-30.9-39.7-29-41.1-27-42.3-24.9-43.4-22.8-44.4-20.6-45.3-18.4-46.1-16.1-46.8-13.8-47.3-11.5-47.8-9.1-48.1-6.7-48.3-4.3-48.4-1.9-48.4 .5-48.3 2.9-48 5.2-47.6 7.6-47.1 10-46.5 12.3-45.8 14.6-44.9 16.8-43.9 19-42.9 21.2-41.7 23.3-40.4 25.3-39 27.3-37.6 29.2-36 31-34.3 32.7-32.6 34.4-30.8 35.9-28.9 37.4-26.9 38.8-24.8 40-22.7 41.2-20.6 42.2-18.3 43.2-16.1 44-13.8 44.7-11.5 45.3-9.1 45.7-6.7 46.1-4.3 46.3-1.9 46.4 .5 46.4 2.9 46.2 5.3 45.9 7.6 45.5 10 45 12.3 44.3 14.6 43.6 16.8 42.7 19 41.7 21.1 40.6 23.2 39.3 25.2 38 27.1 36.6 29 35 30.7 33.4 32.4 31.7 34 29.9 35.5 28 36.8 26 38.1 24 39.3 21.9 40.3 19.7 41.2 17.5 42.1 15.2 42.7 12.9 43.3 10.6 43.7 8.2 44 5.8 44.2 3.4 44.3 1 44.2-1.4 44-3.8 43.6-6.1 43.2-8.5 42.6-10.8 41.8-13.1 41-15.4 40-17.6 38.9-19.7 37.7-21.8 36.4-23.8 34.9-25.7 33.4-27.6 31.7-29.3 30-31 28.2-32.5 26.3-34 24.3-35.4 22.2-36.6 20.1-37.7 17.9-38.7 15.7-39.6 13.4-40.3 11.1-40.9 8.7-41.4 6.3-41.8 3.9-42 1.5-42-.9-42-3.3-41.8-5.7-41.4-8-41-10.3-40.3-12.6-39.6-14.9-38.7-17-37.7-19.2-36.6-21.2-35.3-23.2-34-25.1-32.5-26.9-30.9-28.6-29.2-30.2-27.4-31.7-25.5-33.1-23.5-34.3-21.5-35.5-19.4-36.5-17.2-37.4-15-38.1-12.7-38.7-10.3-39.2-8-39.5-5.6-39.7-3.2-39.7-.8-39.6 1.6-39.3 4-38.9 6.4-38.3 8.7-37.6 11-36.8 13.3-35.8 15.5-34.7 17.6-33.5 19.7-32.1 21.6-30.6 23.5-29 25.3-27.3 27-25.5 28.6-23.6 30.1-21.6 31.4-19.5 32.6-17.4 33.7-15.2 34.7-12.9 35.4-10.6 36.1-8.2 36.6-5.8 36.9-3.4 37.1-1 37.2 1.4 37.1 3.8 36.8 6.1 36.4 8.5 35.8 10.8 35 13 34.2 15.2 33.1 17.3 32 19.3 30.6 21.2 29.2 23 27.6 24.8 25.9 26.4 24.2 27.8 22.2 29.2 20.3 30.4 18.2 31.4 16 32.4 13.8 33.1 11.5 33.7 9.2 34.1 6.8 34.4 4.4 34.5 2 34.4-.4 34.2-2.8 33.8-5.2 33.2-7.5 32.5-9.8 31.6-12.1 30.5-14.2 29.3-16.3 28-18.3 26.5-20.2 24.8-22 23.1-23.6 21.2-25.1 19.2-26.5 17.1-27.7 15-28.8 12.8-29.7 10.5-30.4 8.1-31 5.7-31.4 3.3-31.6 .9-31.6-1.5-31.4-3.9-31.1-6.2-30.5-8.5-29.8-10.8-28.9-12.9-27.8-15-26.6-17-25.2-18.8-23.6-20.5-21.9-22.1-20.1-23.5-18.2-24.8-16.1-25.8-13.9-26.7-11.7-27.5-9.4-28-7-28.3-4.6-28.4-2.2-28.3 .2-28 2.6-27.5 4.9-26.8 7.2-25.9 9.5-24.8 11.6-23.5 13.7-22 15.6-20.3 17.4-18.5 19-16.6 20.4-14.5 21.7-12.4 22.7-10.1 23.6-7.8 24.2-5.4 24.6-3 24.8-.5 24.7 1.9 24.4 4.2 23.9 6.5 23.1 8.7 22.1 10.8 20.8 12.7 19.4 14.5 17.7 16.1 15.9 17.5 13.9 18.6 11.7 19.5 9.5 20.2 7.1 20.5 4.7 20.6 2.3 20.4-.1 19.9-2.5 19-4.8 17.9-7 16.5-9 14.9-10.8 13-12.4 10.9-13.7 8.6-14.6 6.4-15.2 4.2-15.4 2.1-15.4 .2-15-1.6-14.4-3.1-13.6-4.5-12.7-5.6-11.7-6.5-10.7-7.3-9.6-7.8-8.5-8.2-7.4-8.4-6.3-8.5-5.3-8.4-4.4-8.3-3.6-8-2.8-7.7-2.1-7.3-1.5-6.9-1-6.5-.6-6-.2-5.5 0-5 .2-4.5 .4-4 .5-3.5 .5-3 .5-2.4 .5-2 .4-1.5 .3-1 .2-.5 .1 0 0 0 0Z" fill="url(#b3_2)"/></g></g><g transform="translate(302.80 145.80)" filter="url(#fwb)"></g></g><text transform="translate(303.31 156.60)" font-size="13.20" style="font-weight:bold" fill="#f3dcf6">(b3)</text>
<g clip-path="url(#b4_clip)"><g filter="url(#fsim)"><rect x="407.60" y="139.80" width="119.40" height="119.80" fill="#000"/><g transform="translate(413.60 145.80)"><ellipse transform="translate(54.00 53.80) rotate(0.0) scale(1.0000 1.0000)" rx="64.00" ry="64.00" fill="url(#b4_1)"/><path transform="translate(54.00 53.80) rotate(0.0) scale(1.000 1.000)" d="M12.1 13.3 10.3 15 8.4 16.4 6.2 17.5 4 18.3 1.6 18.9-.8 19.1-3.2 19-5.6 18.7-7.9 18-10.1 17.1-12.2 15.8-14.1 14.4-15.8 12.7-17.4 10.9-18.7 8.8-19.7 6.7-20.5 4.4-21.1 2.1-21.3-.3-21.3-2.7-21-5.1-20.5-7.5-19.7-9.7-18.6-11.9-17.3-14-15.9-15.8-14.2-17.6-12.3-19.1-10.3-20.4-8.2-21.5-5.9-22.4-3.6-23-1.2-23.4 1.2-23.6 3.6-23.5 6-23.1 8.3-22.6 10.6-21.8 12.7-20.7 14.8-19.5 16.7-18.1 18.5-16.4 20.1-14.7 21.6-12.7 22.8-10.7 23.8-8.5 24.7-6.2 25.3-3.9 25.7-1.5 25.8 .9 25.8 3.3 25.5 5.7 25 8 24.3 10.3 23.3 12.5 22.2 14.7 20.9 16.7 19.4 18.6 17.8 20.3 16 21.9 14 23.4 12 24.6 9.8 25.7 7.6 26.6 5.3 27.2 2.9 27.7 .6 28-1.8 28.1-4.2 27.9-6.6 27.6-9 27-11.3 26.3-13.5 25.4-15.6 24.3-17.6 23-19.6 21.5-21.4 19.9-23 18.2-24.5 16.3-25.9 14.3-27 12.2-28 10-28.9 7.8-29.5 5.5-30 3.1-30.2 .7-30.3-1.7-30.2-4.1-29.9-6.5-29.4-8.8-28.7-11.1-27.9-13.4-26.8-15.6-25.6-17.6-24.3-19.6-22.8-21.5-21.2-23.3-19.4-24.9-17.5-26.4-15.5-27.7-13.4-28.9-11.3-30-9-30.8-6.7-31.5-4.4-32-2-32.4 .4-32.5 2.8-32.5 5.2-32.3 7.6-32 9.9-31.4 12.2-30.7 14.5-29.8 16.6-28.8 18.7-27.6 20.7-26.3 22.6-24.8 24.4-23.2 26.1-21.5 27.6-19.6 29-17.7 30.3-15.6 31.4-13.5 32.4-11.3 33.2-9 33.8-6.7 34.3-4.4 34.6-2 34.8 .4 34.8 2.8 34.6 5.2 34.2 7.6 33.7 9.9 33.1 12.2 32.3 14.5 31.3 16.7 30.2 18.8 28.9 20.9 27.5 22.8 26 24.7 24.3 26.4 22.6 28.1 20.7 29.6 18.8 31 16.7 32.2 14.6 33.4 12.4 34.3 10.1 35.2 7.8 35.9 5.5 36.4 3.1 36.8 .7 37-1.7 37-4.1 36.9-6.5 36.7-8.8 36.3-11.2 35.7-13.5 35-15.7 34.2-17.9 33.2-20 32.1-22.1 30.8-24 29.4-25.9 27.9-27.7 26.3-29.3 24.6-30.9 22.7-32.3 20.8-33.6 18.8-34.8 16.7-35.9 14.5-36.8 12.3-37.6 10-38.2 7.7-38.7 5.4-39 3-39.2 .6-39.3-1.8-39.2-4.2-38.9-6.6-38.5-9-38-11.3-37.3-13.6-36.5-15.9-35.6-18.1-34.5-20.2-33.3-22.3-32-24.3-30.5-26.2-29-28.1-27.3-29.8-25.6-31.4-23.7-33-21.8-34.4-19.7-35.7-17.6-36.8-15.5-37.9-13.3-38.8-11-39.6-8.7-40.3-6.3-40.8-4-41.2-1.6-41.4 .8-41.5 3.2-41.5 5.6-41.3 8-41 10.4-40.5 12.7-40 15-39.3 17.2-38.4 19.4-37.4 21.6-36.3 23.6-35.1 25.6-33.8 27.6-32.4 29.4-30.8 31.1-29.2 32.8-27.4 34.3-25.6 35.8-23.7 37.1-21.7 38.3-19.6 39.5-17.5 40.4-15.3 41.3-13 42-10.7 42.6-8.4 43.1-6.1 43.5-3.7 43.7-1.3 43.8 1.1 43.7 3.5 43.5 5.9 43.2 8.3 42.8 10.6 42.2 13 41.5 15.3 40.7 17.5 39.8 19.7 38.7 21.9 37.5 24 36.2 26 34.9 28 33.4 29.9 31.8 31.7 30.1 33.4 28.3 35 26.4 36.5 24.5 37.9 22.5 39.2 20.4 40.5 18.3 41.5 16.1 42.5 13.8 43.4 11.6 44.1 9.2 44.7 6.9 45.2 4.5 45.6 2.1 45.9-.3 46-2.7 46-5.1 45.9-7.5 45.6-9.8 45.2-12.2 44.7-14.5 44.1-16.8 43.4-19 42.5-21.2 41.5-23.4 40.5-25.5 39.3-27.5 38-29.4 36.6-31.3 35.1-33.1 33.5-34.8 31.8-36.4 30.1-38 28.2-39.4 26.3-40.8 24.3-42 22.2-43.1 20.1-44.2 17.9-45.1 15.7-45.9 13.5-46.6 11.2-47.1 8.8-47.4 7.5-47 10-46.4 12.4-45.7 14.8-44.9 17.1-43.9 19.4-42.9 21.6-41.7 23.8-40.4 25.9-39 28-37.5 29.9-35.9 31.8-34.2 33.7-32.4 35.4-30.6 37-28.6 38.5-26.6 40-24.5 41.3-22.3 42.5-20.1 43.6-17.8 44.6-15.5 45.4-13.2 46.2-10.8 46.8-8.3 47.3-5.9 47.6-3.4 47.9-.9 48 1.5 48 4 47.8 6.5 47.6 8.9 47.2 10.2 46.9 12.5 46.2 14.8 45.5 17 44.6 19.2 43.6 21.4 42.5 23.5 41.3 25.5 40 27.4 38.6 29.3 37.1 31.1 35.6 32.8 33.9 34.4 32.1 36 30.3 37.4 28.3 38.8 26.4 40 24.3 41.1 22.2 42.2 20 43.1 17.8 43.8 15.5 44.5 13.2 45.1 10.9 45.5 8.5 45.8 6.1 46 3.7 46 1.3 46-1.1 45.8-3.5 45.5-5.9 45-8.2 44.5-10.5 43.8-12.8 43-15.1 42-17.3 41-19.5 39.8-21.6 38.6-23.6 37.2-25.6 35.7-27.5 34.2-29.3 32.5-31 30.7-32.7 28.9-34.2 27-35.7 25-37 22.9-38.2 20.8-39.3 18.6-40.3 16.3-41.2 14.1-41.9 11.7-42.6 9.4-43.1 7-43.4 4.6-43.7 2.2-43.8-.2-43.8-2.6-43.6-5-43.3-7.3-42.9-9.7-42.4-12-41.7-14.2-40.9-16.4-40-18.6-38.9-20.7-37.8-22.7-36.5-24.7-35.1-26.6-33.6-28.4-32-30.1-30.3-31.7-28.5-33.1-26.6-34.5-24.6-35.8-22.6-37-20.5-38-18.3-38.9-16.1-39.7-13.8-40.3-11.5-40.8-9.2-41.2-6.8-41.5-4.4-41.6-2-41.5 .4-41.3 2.8-41 5.2-40.6 7.5-40 9.9-39.3 12.1-38.4 14.4-37.4 16.6-36.3 18.7-35.1 20.8-33.7 22.8-32.3 24.7-30.7 26.5-29 28.2-27.2 29.8-25.3 31.3-23.4 32.7-21.3 33.9-19.2 35.1-17 36.1-14.8 37-12.5 37.7-10.2 38.3-7.8 38.8-5.5 39.1-3.1 39.3-.7 39.3 1.7 39.2 4.1 38.9 6.5 38.5 8.8 38 11.1 37.3 13.4 36.4 15.6 35.4 17.7 34.3 19.8 33.1 21.7 31.7 23.6 30.2 25.4 28.6 27.1 26.9 28.7 25.1 30.1 23.2 31.4 21.2 32.6 19.1 33.7 16.9 34.6 14.7 35.4 12.4 36 10.1 36.5 7.8 36.9 5.4 37 3 37.1 .6 36.9-1.8 36.6-4.2 36.2-6.6 35.6-8.9 34.9-11.2 34-13.4 32.9-15.6 31.7-17.7 30.4-19.7 29-21.6 27.4-23.4 25.7-25.1 23.9-26.7 22-28.2 20-29.5 17.9-30.7 15.8-31.8 13.6-32.7 11.3-33.4 8.9-34 6.6-34.4 4.2-34.7 1.8-34.8-.6-34.8-3-34.5-5.4-34.2-7.7-33.6-10-32.9-12.2-32-14.4-31-16.5-29.8-18.5-28.5-20.4-27-22.2-25.4-23.9-23.7-25.5-21.9-26.9-19.9-28.2-17.9-29.3-15.8-30.3-13.6-31.1-11.3-31.7-9-32.2-6.6-32.5-4.3-32.6-1.9-32.5 .5-32.3 2.9-31.9 5.3-31.3 7.6-30.5 9.9-29.6 12.1-28.5 14.3-27.3 16.3-25.9 18.3-24.3 20.1-22.7 21.8-20.8 23.4-18.9 24.9-16.9 26.2-14.8 27.3-12.6 28.2-10.3 29-8 29.6-5.6 30.1-3.2 30.3-.8 30.3 1.6 30.2 4 29.9 6.3 29.3 8.6 28.6 10.8 27.7 13 26.7 15.1 25.4 17 24 18.8 22.5 20.5 20.8 22.1 18.9 23.5 17 24.7 14.9 25.8 12.7 26.6 10.5 27.3 8.2 27.8 5.8 28 3.4 28.1 1 28-1.4 27.6-3.8 27.1-6.1 26.3-8.4 25.4-10.6 24.3-12.7 22.9-14.7 21.4-16.6 19.8-18.4 18-20 16.1-21.4 14-22.6 11.8-23.7 9.6-24.5 7.3-25.2 4.9-25.6 2.5-25.8 .1-25.8-2.3-25.6-4.6-25.1-6.9-24.5-9.2-23.6-11.3-22.5-13.3-21.2-15.2-19.7-17-18-18.5-16.2-19.9-14.2-21.1-12.1-22.1-9.9-22.8-7.6-23.3-5.3-23.6-2.9-23.6-.5-23.4 1.9-22.9 4.3-22.2 6.6-21.3 8.8-20.1 10.9-18.7 12.9-17.1 14.7-15.4 16.3-13.4 17.7-11.4 19-9.2 19.9-6.9 20.7-4.5 21.2-2.1 21.4 .3 21.3 2.7 21 5 20.4 7.3 19.5 9.4 18.4 11.4 17.1 13.2 15.5 14.8 13.7 16.2 11.7 17.3 9.6 18.2 7.3 18.8 5 19.1 2.6 19.1 .2 18.8-2.2 18.2-4.5 17.3-6.7 16.1-8.8 14.7-10.8 13-12.5 14.5-10.6 15.8-8.6 16.8-6.4 17.5-4.2 17.9-1.8 18 .6 17.7 3 17.2 5.3 16.3 7.6 15.2 9.7 13.8 11.6ZM-12.1-13.3-10.3-15-8.4-16.4-6.2-17.5-4-18.3-1.6-18.9 .8-19.1 3.2-19 5.6-18.7 7.9-18 10.1-17.1 12.2-15.8 14.1-14.4 15.8-12.7 17.4-10.9 18.7-8.8 19.7-6.7 20.5-4.4 21.1-2.1 21.3 .3 21.3 2.7 21 5.1 20.5 7.5 19.7 9.7 18.6 11.9 17.3 14 15.9 15.8 14.2 17.6 12.3 19.1 10.3 20.4 8.2 21.5 5.9 22.4 3.6 23 1.2 23.4-1.2 23.6-3.6 23.5-6 23.1-8.3 22.6-10.6 21.8-12.7 20.7-14.8 19.5-16.7 18.1-18.5 16.4-20.1 14.7-21.6 12.7-22.8 10.7-23.8 8.5-24.7 6.2-25.3 3.9-25.7 1.5-25.8-.9-25.8-3.3-25.5-5.7-25-8-24.3-10.3-23.3-12.5-22.2-14.7-20.9-16.7-19.4-18.6-17.8-20.3-16-21.9-14-23.4-12-24.6-9.8-25.7-7.6-26.6-5.3-27.2-2.9-27.7-.6-28 1.8-28.1 4.2-27.9 6.6-27.6 9-27 11.3-26.3 13.5-25.4 15.6-24.3 17.6-23 19.6-21.5 21.4-19.9 23-18.2 24.5-16.3 25.9-14.3 27-12.2 28-10 28.9-7.8 29.5-5.5 30-3.1 30.2-.7 30.3 1.7 30.2 4.1 29.9 6.5 29.4 8.8 28.7 11.1 27.9 13.4 26.8 15.6 25.6 17.6 24.3 19.6 22.8 21.5 21.2 23.3 19.4 24.9 17.5 26.4 15.5 27.7 13.4 28.9 11.3 30 9 30.8 6.7 31.5 4.4 32 2 32.4-.4 32.5-2.8 32.5-5.2 32.3-7.6 32-9.9 31.4-12.2 30.7-14.5 29.8-16.6 28.8-18.7 27.6-20.7 26.3-22.6 24.8-24.4 23.2-26.1 21.5-27.6 19.6-29 17.7-30.3 15.6-31.4 13.5-32.4 11.3-33.2 9-33.8 6.7-34.3 4.4-34.6 2-34.8-.4-34.8-2.8-34.6-5.2-34.2-7.6-33.7-9.9-33.1-12.2-32.3-14.5-31.3-16.7-30.2-18.8-28.9-20.9-27.5-22.8-26-24.7-24.3-26.4-22.6-28.1-20.7-29.6-18.8-31-16.7-32.2-14.6-33.4-12.4-34.3-10.1-35.2-7.8-35.9-5.5-36.4-3.1-36.8-.7-37 1.7-37 4.1-36.9 6.5-36.7 8.8-36.3 11.2-35.7 13.5-35 15.7-34.2 17.9-33.2 20-32.1 22.1-30.8 24-29.4 25.9-27.9 27.7-26.3 29.3-24.6 30.9-22.7 32.3-20.8 33.6-18.8 34.8-16.7 35.9-14.5 36.8-12.3 37.6-10 38.2-7.7 38.7-5.4 39-3 39.2-.6 39.3 1.8 39.2 4.2 38.9 6.6 38.5 9 38 11.3 37.3 13.6 36.5 15.9 35.6 18.1 34.5 20.2 33.3 22.3 32 24.3 30.5 26.2 29 28.1 27.3 29.8 25.6 31.4 23.7 33 21.8 34.4 19.7 35.7 17.6 36.8 15.5 37.9 13.3 38.8 11 39.6 8.7 40.3 6.3 40.8 4 41.2 1.6 41.4-.8 41.5-3.2 41.5-5.6 41.3-8 41-10.4 40.5-12.7 40-15 39.3-17.2 38.4-19.4 37.4-21.6 36.3-23.6 35.1-25.6 33.8-27.6 32.4-29.4 30.8-31.1 29.2-32.8 27.4-34.3 25.6-35.8 23.7-37.1 21.7-38.3 19.6-39.5 17.5-40.4 15.3-41.3 13-42 10.7-42.6 8.4-43.1 6.1-43.5 3.7-43.7 1.3-43.8-1.1-43.7-3.5-43.5-5.9-43.2-8.3-42.8-10.6-42.2-13-41.5-15.3-40.7-17.5-39.8-19.7-38.7-21.9-37.5-24-36.2-26-34.9-28-33.4-29.9-31.8-31.7-30.1-33.4-28.3-35-26.4-36.5-24.5-37.9-22.5-39.2-20.4-40.5-18.3-41.5-16.1-42.5-13.8-43.4-11.6-44.1-9.2-44.7-6.9-45.2-4.5-45.6-2.1-45.9 .3-46 2.7-46 5.1-45.9 7.5-45.6 9.8-45.2 12.2-44.7 14.5-44.1 16.8-43.4 19-42.5 21.2-41.5 23.4-40.5 25.5-39.3 27.5-38 29.4-36.6 31.3-35.1 33.1-33.5 34.8-31.8 36.4-30.1 38-28.2 39.4-26.3 40.8-24.3 42-22.2 43.1-20.1 44.2-17.9 45.1-15.7 45.9-13.5 46.6-11.2 47.1-8.8 47.4-7.5 47-10 46.4-12.4 45.7-14.8 44.9-17.1 43.9-19.4 42.9-21.6 41.7-23.8 40.4-25.9 39-28 37.5-29.9 35.9-31.8 34.2-33.7 32.4-35.4 30.6-37 28.6-38.5 26.6-40 24.5-41.3 22.3-42.5 20.1-43.6 17.8-44.6 15.5-45.4 13.2-46.2 10.8-46.8 8.3-47.3 5.9-47.6 3.4-47.9 .9-48-1.5-48-4-47.8-6.5-47.6-8.9-47.2-10.2-46.9-12.5-46.2-14.8-45.5-17-44.6-19.2-43.6-21.4-42.5-23.5-41.3-25.5-40-27.4-38.6-29.3-37.1-31.1-35.6-32.8-33.9-34.4-32.1-36-30.3-37.4-28.3-38.8-26.4-40-24.3-41.1-22.2-42.2-20-43.1-17.8-43.8-15.5-44.5-13.2-45.1-10.9-45.5-8.5-45.8-6.1-46-3.7-46-1.3-46 1.1-45.8 3.5-45.5 5.9-45 8.2-44.5 10.5-43.8 12.8-43 15.1-42 17.3-41 19.5-39.8 21.6-38.6 23.6-37.2 25.6-35.7 27.5-34.2 29.3-32.5 31-30.7 32.7-28.9 34.2-27 35.7-25 37-22.9 38.2-20.8 39.3-18.6 40.3-16.3 41.2-14.1 41.9-11.7 42.6-9.4 43.1-7 43.4-4.6 43.7-2.2 43.8 .2 43.8 2.6 43.6 5 43.3 7.3 42.9 9.7 42.4 12 41.7 14.2 40.9 16.4 40 18.6 38.9 20.7 37.8 22.7 36.5 24.7 35.1 26.6 33.6 28.4 32 30.1 30.3 31.7 28.5 33.1 26.6 34.5 24.6 35.8 22.6 37 20.5 38 18.3 38.9 16.1 39.7 13.8 40.3 11.5 40.8 9.2 41.2 6.8 41.5 4.4 41.6 2 41.5-.4 41.3-2.8 41-5.2 40.6-7.5 40-9.9 39.3-12.1 38.4-14.4 37.4-16.6 36.3-18.7 35.1-20.8 33.7-22.8 32.3-24.7 30.7-26.5 29-28.2 27.2-29.8 25.3-31.3 23.4-32.7 21.3-33.9 19.2-35.1 17-36.1 14.8-37 12.5-37.7 10.2-38.3 7.8-38.8 5.5-39.1 3.1-39.3 .7-39.3-1.7-39.2-4.1-38.9-6.5-38.5-8.8-38-11.1-37.3-13.4-36.4-15.6-35.4-17.7-34.3-19.8-33.1-21.7-31.7-23.6-30.2-25.4-28.6-27.1-26.9-28.7-25.1-30.1-23.2-31.4-21.2-32.6-19.1-33.7-16.9-34.6-14.7-35.4-12.4-36-10.1-36.5-7.8-36.9-5.4-37-3-37.1-.6-36.9 1.8-36.6 4.2-36.2 6.6-35.6 8.9-34.9 11.2-34 13.4-32.9 15.6-31.7 17.7-30.4 19.7-29 21.6-27.4 23.4-25.7 25.1-23.9 26.7-22 28.2-20 29.5-17.9 30.7-15.8 31.8-13.6 32.7-11.3 33.4-8.9 34-6.6 34.4-4.2 34.7-1.8 34.8 .6 34.8 3 34.5 5.4 34.2 7.7 33.6 10 32.9 12.2 32 14.4 31 16.5 29.8 18.5 28.5 20.4 27 22.2 25.4 23.9 23.7 25.5 21.9 26.9 19.9 28.2 17.9 29.3 15.8 30.3 13.6 31.1 11.3 31.7 9 32.2 6.6 32.5 4.3 32.6 1.9 32.5-.5 32.3-2.9 31.9-5.3 31.3-7.6 30.5-9.9 29.6-12.1 28.5-14.3 27.3-16.3 25.9-18.3 24.3-20.1 22.7-21.8 20.8-23.4 18.9-24.9 16.9-26.2 14.8-27.3 12.6-28.2 10.3-29 8-29.6 5.6-30.1 3.2-30.3 .8-30.3-1.6-30.2-4-29.9-6.3-29.3-8.6-28.6-10.8-27.7-13-26.7-15.1-25.4-17-24-18.8-22.5-20.5-20.8-22.1-18.9-23.5-17-24.7-14.9-25.8-12.7-26.6-10.5-27.3-8.2-27.8-5.8-28-3.4-28.1-1-28 1.4-27.6 3.8-27.1 6.1-26.3 8.4-25.4 10.6-24.3 12.7-22.9 14.7-21.4 16.6-19.8 18.4-18 20-16.1 21.4-14 22.6-11.8 23.7-9.6 24.5-7.3 25.2-4.9 25.6-2.5 25.8-.1 25.8 2.3 25.6 4.6 25.1 6.9 24.5 9.2 23.6 11.3 22.5 13.3 21.2 15.2 19.7 17 18 18.5 16.2 19.9 14.2 21.1 12.1 22.1 9.9 22.8 7.6 23.3 5.3 23.6 2.9 23.6 .5 23.4-1.9 22.9-4.3 22.2-6.6 21.3-8.8 20.1-10.9 18.7-12.9 17.1-14.7 15.4-16.3 13.4-17.7 11.4-19 9.2-19.9 6.9-20.7 4.5-21.2 2.1-21.4-.3-21.3-2.7-21-5-20.4-7.3-19.5-9.4-18.4-11.4-17.1-13.2-15.5-14.8-13.7-16.2-11.7-17.3-9.6-18.2-7.3-18.8-5-19.1-2.6-19.1-.2-18.8 2.2-18.2 4.5-17.3 6.7-16.1 8.8-14.7 10.8-13 12.5-14.6 10.5-16 8.2-17 5.8-17.7 3.3-18 .7-17.9-1.9-17.4-4.5-16.6-7-15.4-9.3-13.9-11.4Z" fill="url(#b4_2)"/><circle cx="54.00" cy="53.80" r="18.30" fill="none" stroke="#1f1f1f" stroke-width="2.60"/></g></g><g transform="translate(413.60 145.80)" filter="url(#fwb)"><circle cx="54.0" cy="53.8" r="16.4" fill="#fff"/><path d="M57.9 43.0 L59.3 43.4 L60.6 43.9 L61.9 44.6 L63.0 45.5 L64.1 46.6 L65.1 47.7 L65.9 49.0 L66.6 50.4 L67.1 51.9 L67.4 53.5 L67.5 55.1 L67.4 56.8 L67.1 58.4 L66.7 60.0 L66.0 61.6 L65.1 63.1" fill="none" stroke="#d4943c" stroke-width="3.4" stroke-linecap="round"/><path d="M50.1 64.6 L48.7 64.2 L47.4 63.7 L46.1 63.0 L45.0 62.1 L43.9 61.0 L42.9 59.9 L42.1 58.6 L41.4 57.2 L40.9 55.7 L40.6 54.1 L40.5 52.5 L40.6 50.8 L40.9 49.2 L41.3 47.6 L42.0 46.0 L42.9 44.5" fill="none" stroke="#d4943c" stroke-width="3.4" stroke-linecap="round"/></g></g><text transform="translate(414.11 156.60)" font-size="13.20" style="font-weight:bold" fill="#f3dcf6">(b4)</text>
<g clip-path="url(#b5_clip)"><g filter="url(#fsim)"><rect x="518.00" y="139.80" width="119.00" height="119.80" fill="#000"/><g transform="translate(524.00 145.80)"><ellipse transform="translate(53.20 53.20) rotate(0.0) scale(1.0000 1.0000)" rx="62.00" ry="62.00" fill="url(#b5_1)"/></g></g><g transform="translate(524.00 145.80)" filter="url(#fwb)"><circle cx="53.2" cy="53.2" r="5" fill="#fff"/></g></g><text transform="translate(524.51 156.60)" font-size="13.20" style="font-weight:bold" fill="#f3dcf6">(b5)</text>
<g clip-path="url(#b6_clip)"><g filter="url(#fsim)"><rect x="628.00" y="139.80" width="119.00" height="119.80" fill="#000"/><g transform="translate(634.00 145.80)"><ellipse transform="translate(53.60 53.80) rotate(0.0) scale(1.0000 1.0000)" rx="68.00" ry="68.00" fill="url(#b6_1)"/><path transform="translate(53.60 53.80) rotate(0.0) scale(1.000 1.000)" d="M19 1.3 19.1-1.1 19-3.5 18.6-5.9 17.9-8.2 16.9-10.4 15.7-12.5 14.2-14.4 12.5-16.1 10.6-17.6 8.6-18.9 6.4-19.9 4.1-20.7 1.8-21.1-.6-21.4-3-21.3-5.4-21-7.8-20.4-10-19.6-12.2-18.5-14.2-17.2-16.1-15.7-17.8-14-19.3-12.1-20.6-10.1-21.7-8-22.5-5.7-23.1-3.4-23.5-1-23.6 1.4-23.5 3.8-23.1 6.2-22.5 8.5-21.7 10.8-20.7 12.9-19.4 15-18 16.9-16.3 18.7-14.5 20.3-12.6 21.7-10.5 22.9-8.3 23.9-6.1 24.8-3.7 25.3-1.4 25.7 1 25.9 3.4 25.8 5.8 25.5 8.2 25 10.5 24.2 12.7 23.3 14.8 22.2 16.8 20.9 18.7 19.4 20.5 17.7 22 15.9 23.5 14 24.7 11.9 25.8 9.7 26.6 7.5 27.3 5.2 27.8 2.8 28 .4 28.1-2 28-4.4 27.6-6.7 27.1-9.1 26.3-11.4 25.4-13.6 24.3-15.7 23-17.7 21.5-19.6 19.9-21.4 18.2-23.1 16.3-24.6 14.3-25.9 12.2-27.1 10-28.1 7.7-28.9 5.4-29.6 3.1-30 .7-30.3-1.7-30.3-4.1-30.2-6.5-29.9-8.9-29.4-11.2-28.7-13.4-27.9-15.6-26.9-17.7-25.7-19.7-24.3-21.6-22.8-23.3-21.2-24.9-19.4-26.4-17.5-27.8-15.5-29-13.5-30-11.3-30.9-9-31.5-6.7-32.1-4.4-32.4-2-32.6 .4-32.6 2.8-32.4 5.2-32 7.6-31.5 9.9-30.8 12.2-29.9 14.4-28.9 16.6-27.7 18.7-26.3 20.7-24.9 22.6-23.3 24.4-21.5 26.1-19.7 27.6-17.8 29-15.7 30.3-13.6 31.4-11.4 32.4-9.1 33.2-6.8 33.8-4.5 34.3-2.1 34.7 .3 34.8 2.7 34.8 5.1 34.6 7.5 34.3 9.8 33.8 12.2 33.1 14.4 32.3 16.6 31.4 18.7 30.3 20.8 29 22.8 27.6 24.6 26.1 26.4 24.5 28 22.7 29.5 20.9 30.9 18.9 32.2 16.9 33.3 14.7 34.3 12.5 35.2 10.3 35.9 8 36.4 5.7 36.8 3.3 37 .9 37.1-1.5 37-3.9 36.8-6.3 36.4-8.7 35.8-11 35.1-13.3 34.3-15.6 33.3-17.8 32.2-19.9 30.9-21.9 29.6-23.9 28.1-25.8 26.4-27.6 24.7-29.2 22.9-30.8 21-32.2 19-33.6 16.9-34.8 14.7-35.8 12.5-36.7 10.2-37.5 7.9-38.2 5.6-38.7 3.2-39 .8-39.3-1.6-39.3-4-39.2-6.4-39-8.8-38.6-11.1-38.1-13.4-37.5-15.7-36.7-17.9-35.7-19.1-35.2-21.2-33.9-23.2-32.6-25.2-31.1-27-29.5-28.8-27.7-30.5-25.9-32-24-33.4-22-34.7-19.9-35.9-17.7-36.9-15.5-37.8-13.2-38.5-10.8-39.1-8.4-39.5-6-39.8-3.6-40-1.1-40 1.3-39.8 3.8-39.5 6.2-39.1 8.7-38.4 11-37.7 13.4-36.8 15.7-35.8 17.9-34.6 20.1-35.2 18.9-36.2 16.7-37 14.5-37.8 12.2-38.4 9.9-38.8 7.5-39.1 5.1-39.3 2.7-39.3 .3-39.1-2.1-38.8-4.5-38.4-6.8-37.8-9.1-37.1-11.4-36.2-13.7-35.2-15.9-34.1-18-32.8-20-31.5-22-29.9-23.9-28.3-25.6-26.6-27.3-24.8-28.8-22.8-30.3-20.8-31.6-18.7-32.8-16.6-33.8-14.3-34.7-12.1-35.5-9.7-36.1-7.4-36.6-5-36.9-2.6-37-.2-37 2.2-36.9 4.6-36.5 6.9-36.1 9.3-35.4 11.5-34.7 13.8-33.8 15.9-32.7 18-31.5 20-30.1 21.9-28.7 23.7-27.1 25.4-25.4 26.9-23.6 28.4-21.6 29.7-19.6 30.9-17.5 31.9-15.4 32.8-13.1 33.5-10.8 34.1-8.5 34.5-6.1 34.7-3.7 34.8-1.3 34.7 1.1 34.4 3.5 34 5.8 33.4 8.2 32.7 10.4 31.8 12.7 30.7 14.8 29.5 16.9 28.2 18.9 26.7 20.8 25.1 22.6 23.3 24.2 21.5 25.7 19.5 27.1 17.4 28.4 15.3 29.5 13.1 30.4 10.8 31.2 8.5 31.8 6.1 32.2 3.7 32.5 1.3 32.5-1.1 32.5-3.5 32.2-5.8 31.7-8.1 31.1-10.4 30.3-12.6 29.3-14.7 28.2-16.8 26.9-18.7 25.5-20.5 23.9-22.2 22.2-23.7 20.4-25.1 18.4-26.4 16.4-27.5 14.2-28.4 12-29.2 9.7-29.7 7.4-30.1 5-30.3 2.6-30.3 .2-30.1-2.2-29.7-4.6-29.1-6.9-28.4-9.2-27.4-11.4-26.3-13.5-25-15.5-23.6-17.5-22-19.3-20.3-20.9-18.4-22.4-16.4-23.8-14.3-25-12.1-26-9.9-26.8-7.5-27.4-5.2-27.8-2.8-28-.4-28 2-27.9 4.4-27.5 6.7-26.8 9-26 11.2-25 13.3-23.9 15.3-22.5 17.1-21 18.8-19.3 20.4-17.4 21.7-15.5 22.9-13.4 23.9-11.2 24.7-8.9 25.3-6.6 25.7-4.2 25.8-1.8 25.7 .6 25.4 3 24.9 5.3 24.2 7.6 23.2 9.8 22.1 11.9 20.7 13.9 19.1 15.8 17.4 17.5 15.6 19 13.5 20.3 11.4 21.4 9.2 22.3 6.9 23 4.5 23.4 2.1 23.6-.3 23.5-2.7 23.2-5 22.7-7.3 21.9-9.5 20.9-11.6 19.6-13.5 18.2-15.2 16.5-16.8 14.7-18.2 12.7-19.3 10.6-20.2 8.4-20.8 6-21.2 3.7-21.3 1.3-21.2-1.1-20.8-3.5-20.1-5.8-19.1-8-17.9-10.1-16.5-12-14.8-13.8-12.9-15.3-10.9-16.6-8.7-17.7-6.5-18.4-4.1-18.9-1.7-19.1 .7-19 3.2-18.7 5.7-18.1 8-17.2 10.3-16 12.3-14.5 14.1-12.7 15.7-10.7 17-8.6 18-6.2 18.6-3.8 19-1.3ZM-19-1.3-19.1 1.1-19 3.5-18.6 5.9-17.9 8.2-16.9 10.4-15.7 12.5-14.2 14.4-12.5 16.1-10.6 17.6-8.6 18.9-6.4 19.9-4.1 20.7-1.8 21.1 .6 21.4 3 21.3 5.4 21 7.8 20.4 10 19.6 12.2 18.5 14.2 17.2 16.1 15.7 17.8 14 19.3 12.1 20.6 10.1 21.7 8 22.5 5.7 23.1 3.4 23.5 1 23.6-1.4 23.5-3.8 23.1-6.2 22.5-8.5 21.7-10.8 20.7-12.9 19.4-15 18-16.9 16.3-18.7 14.5-20.3 12.6-21.7 10.5-22.9 8.3-23.9 6.1-24.8 3.7-25.3 1.4-25.7-1-25.9-3.4-25.8-5.8-25.5-8.2-25-10.5-24.2-12.7-23.3-14.8-22.2-16.8-20.9-18.7-19.4-20.5-17.7-22-15.9-23.5-14-24.7-11.9-25.8-9.7-26.6-7.5-27.3-5.2-27.8-2.8-28-.4-28.1 2-28 4.4-27.6 6.7-27.1 9.1-26.3 11.4-25.4 13.6-24.3 15.7-23 17.7-21.5 19.6-19.9 21.4-18.2 23.1-16.3 24.6-14.3 25.9-12.2 27.1-10 28.1-7.7 28.9-5.4 29.6-3.1 30-.7 30.3 1.7 30.3 4.1 30.2 6.5 29.9 8.9 29.4 11.2 28.7 13.4 27.9 15.6 26.9 17.7 25.7 19.7 24.3 21.6 22.8 23.3 21.2 24.9 19.4 26.4 17.5 27.8 15.5 29 13.5 30 11.3 30.9 9 31.5 6.7 32.1 4.4 32.4 2 32.6-.4 32.6-2.8 32.4-5.2 32-7.6 31.5-9.9 30.8-12.2 29.9-14.4 28.9-16.6 27.7-18.7 26.3-20.7 24.9-22.6 23.3-24.4 21.5-26.1 19.7-27.6 17.8-29 15.7-30.3 13.6-31.4 11.4-32.4 9.1-33.2 6.8-33.8 4.5-34.3 2.1-34.7-.3-34.8-2.7-34.8-5.1-34.6-7.5-34.3-9.8-33.8-12.2-33.1-14.4-32.3-16.6-31.4-18.7-30.3-20.8-29-22.8-27.6-24.6-26.1-26.4-24.5-28-22.7-29.5-20.9-30.9-18.9-32.2-16.9-33.3-14.7-34.3-12.5-35.2-10.3-35.9-8-36.4-5.7-36.8-3.3-37-.9-37.1 1.5-37 3.9-36.8 6.3-36.4 8.7-35.8 11-35.1 13.3-34.3 15.6-33.3 17.8-32.2 19.9-30.9 21.9-29.6 23.9-28.1 25.8-26.4 27.6-24.7 29.2-22.9 30.8-21 32.2-19 33.6-16.9 34.8-14.7 35.8-12.5 36.7-10.2 37.5-7.9 38.2-5.6 38.7-3.2 39-.8 39.3 1.6 39.3 4 39.2 6.4 39 8.8 38.6 11.1 38.1 13.4 37.5 15.7 36.7 17.9 35.7 19.1 35.2 21.2 33.9 23.2 32.6 25.2 31.1 27 29.5 28.8 27.7 30.5 25.9 32 24 33.4 22 34.7 19.9 35.9 17.7 36.9 15.5 37.8 13.2 38.5 10.8 39.1 8.4 39.5 6 39.8 3.6 40 1.1 40-1.3 39.8-3.8 39.5-6.2 39.1-8.7 38.4-11 37.7-13.4 36.8-15.7 35.8-17.9 34.6-20.1 35.2-18.9 36.2-16.7 37-14.5 37.8-12.2 38.4-9.9 38.8-7.5 39.1-5.1 39.3-2.7 39.3-.3 39.1 2.1 38.8 4.5 38.4 6.8 37.8 9.1 37.1 11.4 36.2 13.7 35.2 15.9 34.1 18 32.8 20 31.5 22 29.9 23.9 28.3 25.6 26.6 27.3 24.8 28.8 22.8 30.3 20.8 31.6 18.7 32.8 16.6 33.8 14.3 34.7 12.1 35.5 9.7 36.1 7.4 36.6 5 36.9 2.6 37 .2 37-2.2 36.9-4.6 36.5-6.9 36.1-9.3 35.4-11.5 34.7-13.8 33.8-15.9 32.7-18 31.5-20 30.1-21.9 28.7-23.7 27.1-25.4 25.4-26.9 23.6-28.4 21.6-29.7 19.6-30.9 17.5-31.9 15.4-32.8 13.1-33.5 10.8-34.1 8.5-34.5 6.1-34.7 3.7-34.8 1.3-34.7-1.1-34.4-3.5-34-5.8-33.4-8.2-32.7-10.4-31.8-12.7-30.7-14.8-29.5-16.9-28.2-18.9-26.7-20.8-25.1-22.6-23.3-24.2-21.5-25.7-19.5-27.1-17.4-28.4-15.3-29.5-13.1-30.4-10.8-31.2-8.5-31.8-6.1-32.2-3.7-32.5-1.3-32.5 1.1-32.5 3.5-32.2 5.8-31.7 8.1-31.1 10.4-30.3 12.6-29.3 14.7-28.2 16.8-26.9 18.7-25.5 20.5-23.9 22.2-22.2 23.7-20.4 25.1-18.4 26.4-16.4 27.5-14.2 28.4-12 29.2-9.7 29.7-7.4 30.1-5 30.3-2.6 30.3-.2 30.1 2.2 29.7 4.6 29.1 6.9 28.4 9.2 27.4 11.4 26.3 13.5 25 15.5 23.6 17.5 22 19.3 20.3 20.9 18.4 22.4 16.4 23.8 14.3 25 12.1 26 9.9 26.8 7.5 27.4 5.2 27.8 2.8 28 .4 28-2 27.9-4.4 27.5-6.7 26.8-9 26-11.2 25-13.3 23.9-15.3 22.5-17.1 21-18.8 19.3-20.4 17.4-21.7 15.5-22.9 13.4-23.9 11.2-24.7 8.9-25.3 6.6-25.7 4.2-25.8 1.8-25.7-.6-25.4-3-24.9-5.3-24.2-7.6-23.2-9.8-22.1-11.9-20.7-13.9-19.1-15.8-17.4-17.5-15.6-19-13.5-20.3-11.4-21.4-9.2-22.3-6.9-23-4.5-23.4-2.1-23.6 .3-23.5 2.7-23.2 5-22.7 7.3-21.9 9.5-20.9 11.6-19.6 13.5-18.2 15.2-16.5 16.8-14.7 18.2-12.7 19.3-10.6 20.2-8.4 20.8-6 21.2-3.7 21.3-1.3 21.2 1.1 20.8 3.5 20.1 5.8 19.1 8 17.9 10.1 16.5 12 14.8 13.8 12.9 15.3 10.9 16.6 8.7 17.7 6.5 18.4 4.1 18.9 1.7 19.1-.7 19-3.2 18.7-5.7 18.1-8 17.2-10.3 16-12.3 14.5-14.1 12.7-15.7 10.7-17 8.6-18 6.2-18.6 3.8-19 1.3Z" fill="url(#b6_2)"/><circle cx="53.60" cy="53.80" r="18.60" fill="none" stroke="#1a1a1a" stroke-width="2.80"/></g></g><g transform="translate(634.00 145.80)" filter="url(#fwb)"><circle cx="53.6" cy="53.8" r="16.8" fill="#fff"/><path d="M56.3 38.5 L57.7 39.1 L59.1 39.7 L60.4 40.5 L61.5 41.4 L62.6 42.3 L63.5 43.4 L64.4 44.6 L65.1 45.8 L65.6 47.0 L66.1 48.3 L66.4 49.6 L66.5 50.9 L66.6 52.2 L66.5 53.5 L66.3 54.8 L65.9 56.0" fill="none" stroke="#d4943c" stroke-width="3.0" stroke-linecap="round"/><path d="M50.9 69.1 L49.5 68.5 L48.1 67.9 L46.8 67.1 L45.7 66.2 L44.6 65.3 L43.7 64.2 L42.8 63.0 L42.1 61.8 L41.6 60.6 L41.1 59.3 L40.8 58.0 L40.7 56.7 L40.6 55.4 L40.7 54.1 L40.9 52.8 L41.3 51.6" fill="none" stroke="#d4943c" stroke-width="3.0" stroke-linecap="round"/></g></g><text transform="translate(634.51 156.60)" font-size="13.20" style="font-weight:bold" fill="#f3dcf6">(b6)</text>
<g clip-path="url(#b7_clip)"><g filter="url(#fsim)"><rect x="738.00" y="139.80" width="119.00" height="119.80" fill="#000"/><g transform="translate(744.00 145.80)"><ellipse transform="translate(53.50 53.50) rotate(0.0) scale(1.0000 1.0000)" rx="56.00" ry="56.00" fill="url(#b7_1)"/><ellipse transform="translate(53.50 53.50) rotate(-40.0) scale(1.0000 1.3000)" rx="9.00" ry="9.00" fill="url(#b7_2)"/><path transform="translate(53.50 53.50) rotate(0.0) scale(1.000 1.000)" d="M0 0-.5-.1-1-.2-1.5-.3-2-.4-2.4-.5-2.9-.5-3.5-.6-4-.5-4.5-.4-5-.3-5.5-.1-6 .1-6.5 .4-7 .8-7.4 1.3-7.8 1.8-8.1 2.4-8.4 3.1-8.7 3.9-8.8 4.8-8.8 5.7-8.7 6.7-8.5 7.8-8.1 8.8-7.6 9.9-6.9 11-5.9 12.1-4.8 13.1-3.5 14.1-2 14.9-.3 15.5 1.6 15.9 3.6 16.1 5.7 16 8 15.6 10.3 14.8 12.5 13.7 14.5 12.2 16.3 10.6 17.8 8.7 19.1 6.6 20.1 4.4 20.9 2 21.3-.4 21.5-2.8 21.4-5.2 21-7.6 20.3-10 19.4-12.2 18.3-14.4 16.9-16.4 15.4-18.2 13.6-19.9 11.7-21.4 9.7-22.7 7.5-23.8 5.2-24.6 2.9-25.3 .5-25.7-1.9-25.8-4.3-25.8-6.7-25.5-9.1-25-11.4-24.3-13.7-23.4-15.8-22.2-17.8-20.9-19.7-19.4-21.5-17.8-23.1-16-24.6-14.1-25.9-12-27-9.9-27.9-7.6-28.6-5.3-29.1-3-29.5-.6-29.6 1.8-29.5 4.2-29.3 6.6-28.8 9-28.2 11.3-27.3 13.6-26.3 15.8-25.2 17.9-23.8 19.9-22.3 21.8-20.7 23.6-18.9 25.2-17.1 26.7-15.1 28.1-13 29.3-10.8 30.3-8.5 31.2-6.2 31.9-3.9 32.4-1.5 32.7 .9 32.9 3.3 32.9 5.7 32.7 8.1 32.4 10.5 31.8 12.8 31.1 15 30.3 17.2 29.3 19.3 28.1 21.3 26.8 23.2 25.3 25 23.7 26.7 22 28.3 20.2 29.7 18.2 31 16.2 32.2 14.1 33.2 11.9 34.1 9.7 34.8 7.4 35.3 5 35.7 2.6 35.9 .2 36-2.2 35.9-4.6 35.6-7 35.2-9.3 34.6-11.7 33.9-14 33-16.2 32-18.4 30.8-20.5 29.5-22.5 28.1-24.5 26.5-26.3 24.8-28 23.1-29.7 21.2-31.2 19.2-32.5 17.2-33.8 15-34.9 12.8-35.9 10.6-36.7 8.3-37.4 5.9-38 3.6-38.4 1.2-38.7-1.2-38.8-3.6-38.7-6-38.5-8.4-38.2-10.8-37.7-13.1-37.1-15.4-36.3-17.6-35.4-19.8-34.3-21.9-33.2-23.9-31.9-25.8-30.4-27.7-28.9-29.4-27.3-31.1-25.5-32.6-23.7-34.1-21.7-35.4-19.7-36.6-17.6-37.7-15.5-38.6-13.3-39.4-11-40.1-8.7-40.6-6.3-41-4-41.2-1.6-41.4 .8-41.3 3.2-41.2 5.6-40.9 8-40.4 10.4-39.9 12.7-39.1 15-38.3 17.3-37.3 19.5-36.2 21.6-35 23.7-33.7 25.7-32.3 27.6-30.7 29.5-29.1 31.2-27.3 32.9-25.5 34.4-23.6 35.9-21.6 37.2-19.5 38.4-17.4 39.5-15.2 40.5-12.9 41.4-10.6 42.1-8.3 42.7-5.9 43.2-3.6 43.5-1.2 43.7 1.2 43.8 3.6 43.8 6 43.6 8.4 43.3 10.8 42.8 13.1 42.3 15.4 41.6 17.7 40.8 19.9 39.8 22 38.7 24.1 37.6 26.2 36.3 28.1 34.9 30 33.4 31.8 31.8 33.5 30.1 35.1 28.3 36.7 26.5 38.1 24.5 39.4 22.5 40.6 20.4 41.7 18.3 42.7 16.1 43.5 13.9 44.3 11.6 44.9 9.2 45.4 6.9 45.8 4.5 46 2.1 46.1-.3 46.1-2.7 46-5.1 45.8-7.5 45.4-9.8 44.9-12.2 44.3-14.5 43.5-16.8 42.7-19 41.7-21.2 40.6-23.4 39.4-25.5 38.1-27.5 36.7-29.5 35.3-31.3 33.7-33.1 32-34.9 30.2-36.5 28.4-38 26.5-39.5 24.5-40.8 22.4-42.1 20.3-43.2 18.1-44.2 15.9-45.2 13.6-46 11.3-46.7 9-47.2 6.6-47.7 4.3-48 1.9-48.3-.5-48.4-2.9-48.3-5.3-48.2-7.7-47.9-10.1-47.6-12.5-47.1-14.8-46.5-17.1-45.8-19.3-44.9-21.5-44-23.7-42.9-25.8-41.8-27.9-40.5-29.8-39.2-31.8-37.7-33.6-36.2-35.4-34.5-37-32.8-38.6-31-40.2-29.2-41.6-27.2-42.9-25.2-44.1-23.2-45.2-21-46.3-18.9-47.2-16.6-48-14.4-48.7-12.1-49.3-9.7-49.7-7.4-50.1-5-50.3-2.6-50.5-.2-50.5 2.2-50.4 4.6-50.2 7-49.8 9.4-49.4 11.7-48.9 14.1-48.2 16.4-47.4 18.7-46.5 20.9-45.6 23.1-44.5 25.2-43.3 27.3-42 29.4-40.7 31.3-39.2 33.2-37.6 35.1-36 36.8-34.3 38.5-32.5 40.1-30.6 41.6-28.7 43.1-26.7 44.4-24.7 45.6-22.5 46.8-20.4 47.8-19.9 48.1-17.6 48.9-15.3 49.7-13 50.3-10.7 50.9-8.3 51.3-5.9 51.7-3.5 51.9-1.1 52 1.3 52 3.7 51.9 6.1 51.6 8.5 51.3 10.9 50.9 13.2 50.3 15.5 49.6 17.8 48.9 20 48 22.2 47 24.4 45.9 26.5 44.7 28.5 43.5 30.5 42.1 32.4 40.6 34.3 39.1 36.1 37.5 37.8 35.8 39.4 34 40.9 32.1 42.3 30.2 43.7 28.2 45 26.1 46.1 24 47.2 21.9 48.1 19.6 49 17.4 49.8 15.1 50.4 12.8 50.9 10.4 51.4 8.1 51.7 5.7 51.9 3.3 51.8 3.8 51.6 6.2 51.2 8.6 50.6 10.9 50 13.2 49.3 15.5 48.5 17.8 47.5 20 46.5 22.2 45.4 24.3 44.1 26.3 42.8 28.3 41.4 30.3 39.9 32.1 38.3 33.9 36.6 35.7 34.8 37.3 33 38.8 31.1 40.3 29.1 41.7 27.1 43 25 44.1 22.8 45.2 20.6 46.2 18.4 47.1 16.1 47.8 13.8 48.5 11.5 49 9.1 49.4 6.7 49.8 4.3 50 1.9 50-.5 50-2.9 49.9-5.3 49.6-7.6 49.2-10 48.7-12.3 48.1-14.6 47.4-16.9 46.6-19.1 45.7-21.3 44.6-23.4 43.5-25.4 42.2-27.4 40.9-29.3 39.5-31.2 37.9-33 36.3-34.7 34.6-36.3 32.8-37.8 30.9-39.2 29-40.5 27-41.8 24.9-42.9 22.8-43.9 20.6-44.8 18.4-45.6 16.1-46.3 13.8-46.8 11.5-47.3 9.1-47.6 6.8-47.8 4.4-47.9 2-47.9-.4-47.7-2.8-47.5-5.2-47.1-7.6-46.5-9.9-45.9-12.3-45.2-14.6-44.3-16.8-43.3-19-42.2-21.1-41.1-23.2-39.8-25.2-38.4-27.2-36.9-29.1-35.3-30.9-33.6-32.6-31.8-34.2-30-35.8-28-37.2-26-38.5-24-39.8-21.9-40.9-19.7-41.9-17.4-42.8-15.2-43.6-12.9-44.2-10.5-44.8-8.1-45.2-5.8-45.5-3.4-45.6-1-45.7 1.4-45.6 3.8-45.4 6.2-45 8.6-44.6 10.9-44 13.2-43.2 15.5-42.4 17.7-41.5 19.8-40.4 21.9-39.2 23.9-37.9 25.9-36.5 27.8-35 29.5-33.4 31.2-31.7 32.8-29.9 34.4-28 35.8-26.1 37.1-24 38.2-22 39.3-19.8 40.3-17.6 41.1-15.3 41.8-13 42.3-10.7 42.8-8.3 43.1-6 43.3-3.6 43.3-1.1 43.2 1.3 43 3.6 42.7 6 42.2 8.4 41.6 10.7 40.8 13 39.9 15.2 38.9 17.4 37.8 19.5 36.6 21.6 35.2 23.6 33.7 25.5 32.2 27.3 30.5 29 28.7 30.7 26.9 32.2 24.9 33.6 22.9 34.9 20.8 36.1 18.6 37.1 16.4 38.1 14.2 38.9 11.8 39.5 9.5 40.1 7.1 40.5 4.7 40.7 2.3 40.8-.1 40.8-2.5 40.6-4.9 40.3-7.2 39.9-9.6 39.3-11.8 38.5-14.1 37.7-16.3 36.7-18.4 35.5-20.4 34.3-22.4 32.9-24.3 31.4-26.1 29.8-27.8 28.1-29.4 26.3-30.8 24.4-32.2 22.4-33.4 20.3-34.5 18.2-35.5 16-36.3 13.7-37 11.4-37.5 9-37.9 6.7-38.1 4.3-38.2 1.9-38.1-.5-37.9-2.9-37.5-5.3-37-7.7-36.3-10-35.5-12.2-34.6-14.4-33.5-16.6-32.2-18.6-30.8-20.6-29.4-22.5-27.7-24.3-26-26-24.2-27.5-22.2-29-20.2-30.3-18.1-31.4-15.9-32.5-13.7-33.3-11.4-34.1-9-34.6-6.7-35-4.3-35.3-1.9-35.4 .5-35.3 2.9-35 5.3-34.6 7.6-34 9.9-33.3 12.2-32.4 14.3-31.4 16.4-30.2 18.4-28.8 20.3-27.3 22.1-25.7 23.8-24 25.3-22.1 26.7-20.2 28-18.1 29.1-16 30.1-13.8 30.9-11.5 31.5-9.2 31.9-6.8 32.2-4.4 32.3-2 32.2 .4 31.9 2.8 31.4 5.2 30.8 7.5 30 9.8 29 12 27.9 14.1 26.5 16.1 25.1 18 23.5 19.8 21.7 21.5 19.8 23 17.8 24.4 15.7 25.6 13.6 26.6 11.3 27.4 9 28.1 6.6 28.5 4.2 28.8 1.8 28.9-.6 28.7-3 28.4-5.4 27.8-7.7 27.1-9.9 26.1-12 25-14 23.6-15.9 22.1-17.7 20.5-19.3 18.7-20.7 16.7-22 14.6-23 12.5-23.8 10.2-24.5 7.8-24.8 5.4-25 3-24.9 .6-24.6-1.8-24-4.2-23.2-6.4-22.2-8.6-21-10.7-19.5-12.7-17.8-14.4-16-16-14-17.4-11.8-18.5-9.6-19.4-7.2-20.1-4.8-20.4-2.4-20.5 .1-20.2 2.4-19.6 4.7-18.8 6.9-17.6 8.9-16.2 10.7-14.5 12.1-12.6 13.3-10.6 14.1-8.6 14.6-6.6 14.8-4.7 14.7-2.9 14.4-1.2 14 .3 13.4 1.7 12.7 2.9 11.9 4 11 4.8 10.1 5.5 9.2 6.1 8.3 6.5 7.4 6.8 6.5 6.9 5.7 7 4.9 6.9 4.2 6.8 3.6 6.6 3 6.3 2.5 6 2 5.6 1.6 5.2 1.3 4.8 1 4.4 .8 3.9 .6 3.5 .4 3 .3 2.5 .2 2 .1 1.5 .1 1 0 .5 0 0 0 0ZM0 0 .5 .1 1 .2 1.5 .3 2 .4 2.4 .5 2.9 .5 3.5 .6 4 .5 4.5 .4 5 .3 5.5 .1 6-.1 6.5-.4 7-.8 7.4-1.3 7.8-1.8 8.1-2.4 8.4-3.1 8.7-3.9 8.8-4.8 8.8-5.7 8.7-6.7 8.5-7.8 8.1-8.8 7.6-9.9 6.9-11 5.9-12.1 4.8-13.1 3.5-14.1 2-14.9 .3-15.5-1.6-15.9-3.6-16.1-5.7-16-8-15.6-10.3-14.8-12.5-13.7-14.5-12.2-16.3-10.6-17.8-8.7-19.1-6.6-20.1-4.4-20.9-2-21.3 .4-21.5 2.8-21.4 5.2-21 7.6-20.3 10-19.4 12.2-18.3 14.4-16.9 16.4-15.4 18.2-13.6 19.9-11.7 21.4-9.7 22.7-7.5 23.8-5.2 24.6-2.9 25.3-.5 25.7 1.9 25.8 4.3 25.8 6.7 25.5 9.1 25 11.4 24.3 13.7 23.4 15.8 22.2 17.8 20.9 19.7 19.4 21.5 17.8 23.1 16 24.6 14.1 25.9 12 27 9.9 27.9 7.6 28.6 5.3 29.1 3 29.5 .6 29.6-1.8 29.5-4.2 29.3-6.6 28.8-9 28.2-11.3 27.3-13.6 26.3-15.8 25.2-17.9 23.8-19.9 22.3-21.8 20.7-23.6 18.9-25.2 17.1-26.7 15.1-28.1 13-29.3 10.8-30.3 8.5-31.2 6.2-31.9 3.9-32.4 1.5-32.7-.9-32.9-3.3-32.9-5.7-32.7-8.1-32.4-10.5-31.8-12.8-31.1-15-30.3-17.2-29.3-19.3-28.1-21.3-26.8-23.2-25.3-25-23.7-26.7-22-28.3-20.2-29.7-18.2-31-16.2-32.2-14.1-33.2-11.9-34.1-9.7-34.8-7.4-35.3-5-35.7-2.6-35.9-.2-36 2.2-35.9 4.6-35.6 7-35.2 9.3-34.6 11.7-33.9 14-33 16.2-32 18.4-30.8 20.5-29.5 22.5-28.1 24.5-26.5 26.3-24.8 28-23.1 29.7-21.2 31.2-19.2 32.5-17.2 33.8-15 34.9-12.8 35.9-10.6 36.7-8.3 37.4-5.9 38-3.6 38.4-1.2 38.7 1.2 38.8 3.6 38.7 6 38.5 8.4 38.2 10.8 37.7 13.1 37.1 15.4 36.3 17.6 35.4 19.8 34.3 21.9 33.2 23.9 31.9 25.8 30.4 27.7 28.9 29.4 27.3 31.1 25.5 32.6 23.7 34.1 21.7 35.4 19.7 36.6 17.6 37.7 15.5 38.6 13.3 39.4 11 40.1 8.7 40.6 6.3 41 4 41.2 1.6 41.4-.8 41.3-3.2 41.2-5.6 40.9-8 40.4-10.4 39.9-12.7 39.1-15 38.3-17.3 37.3-19.5 36.2-21.6 35-23.7 33.7-25.7 32.3-27.6 30.7-29.5 29.1-31.2 27.3-32.9 25.5-34.4 23.6-35.9 21.6-37.2 19.5-38.4 17.4-39.5 15.2-40.5 12.9-41.4 10.6-42.1 8.3-42.7 5.9-43.2 3.6-43.5 1.2-43.7-1.2-43.8-3.6-43.8-6-43.6-8.4-43.3-10.8-42.8-13.1-42.3-15.4-41.6-17.7-40.8-19.9-39.8-22-38.7-24.1-37.6-26.2-36.3-28.1-34.9-30-33.4-31.8-31.8-33.5-30.1-35.1-28.3-36.7-26.5-38.1-24.5-39.4-22.5-40.6-20.4-41.7-18.3-42.7-16.1-43.5-13.9-44.3-11.6-44.9-9.2-45.4-6.9-45.8-4.5-46-2.1-46.1 .3-46.1 2.7-46 5.1-45.8 7.5-45.4 9.8-44.9 12.2-44.3 14.5-43.5 16.8-42.7 19-41.7 21.2-40.6 23.4-39.4 25.5-38.1 27.5-36.7 29.5-35.3 31.3-33.7 33.1-32 34.9-30.2 36.5-28.4 38-26.5 39.5-24.5 40.8-22.4 42.1-20.3 43.2-18.1 44.2-15.9 45.2-13.6 46-11.3 46.7-9 47.2-6.6 47.7-4.3 48-1.9 48.3 .5 48.4 2.9 48.3 5.3 48.2 7.7 47.9 10.1 47.6 12.5 47.1 14.8 46.5 17.1 45.8 19.3 44.9 21.5 44 23.7 42.9 25.8 41.8 27.9 40.5 29.8 39.2 31.8 37.7 33.6 36.2 35.4 34.5 37 32.8 38.6 31 40.2 29.2 41.6 27.2 42.9 25.2 44.1 23.2 45.2 21 46.3 18.9 47.2 16.6 48 14.4 48.7 12.1 49.3 9.7 49.7 7.4 50.1 5 50.3 2.6 50.5 .2 50.5-2.2 50.4-4.6 50.2-7 49.8-9.4 49.4-11.7 48.9-14.1 48.2-16.4 47.4-18.7 46.5-20.9 45.6-23.1 44.5-25.2 43.3-27.3 42-29.4 40.7-31.3 39.2-33.2 37.6-35.1 36-36.8 34.3-38.5 32.5-40.1 30.6-41.6 28.7-43.1 26.7-44.4 24.7-45.6 22.5-46.8 20.4-47.8 19.9-48.1 17.6-48.9 15.3-49.7 13-50.3 10.7-50.9 8.3-51.3 5.9-51.7 3.5-51.9 1.1-52-1.3-52-3.7-51.9-6.1-51.6-8.5-51.3-10.9-50.9-13.2-50.3-15.5-49.6-17.8-48.9-20-48-22.2-47-24.4-45.9-26.5-44.7-28.5-43.5-30.5-42.1-32.4-40.6-34.3-39.1-36.1-37.5-37.8-35.8-39.4-34-40.9-32.1-42.3-30.2-43.7-28.2-45-26.1-46.1-24-47.2-21.9-48.1-19.6-49-17.4-49.8-15.1-50.4-12.8-50.9-10.4-51.4-8.1-51.7-5.7-51.9-3.3-51.8-3.8-51.6-6.2-51.2-8.6-50.6-10.9-50-13.2-49.3-15.5-48.5-17.8-47.5-20-46.5-22.2-45.4-24.3-44.1-26.3-42.8-28.3-41.4-30.3-39.9-32.1-38.3-33.9-36.6-35.7-34.8-37.3-33-38.8-31.1-40.3-29.1-41.7-27.1-43-25-44.1-22.8-45.2-20.6-46.2-18.4-47.1-16.1-47.8-13.8-48.5-11.5-49-9.1-49.4-6.7-49.8-4.3-50-1.9-50 .5-50 2.9-49.9 5.3-49.6 7.6-49.2 10-48.7 12.3-48.1 14.6-47.4 16.9-46.6 19.1-45.7 21.3-44.6 23.4-43.5 25.4-42.2 27.4-40.9 29.3-39.5 31.2-37.9 33-36.3 34.7-34.6 36.3-32.8 37.8-30.9 39.2-29 40.5-27 41.8-24.9 42.9-22.8 43.9-20.6 44.8-18.4 45.6-16.1 46.3-13.8 46.8-11.5 47.3-9.1 47.6-6.8 47.8-4.4 47.9-2 47.9 .4 47.7 2.8 47.5 5.2 47.1 7.6 46.5 9.9 45.9 12.3 45.2 14.6 44.3 16.8 43.3 19 42.2 21.1 41.1 23.2 39.8 25.2 38.4 27.2 36.9 29.1 35.3 30.9 33.6 32.6 31.8 34.2 30 35.8 28 37.2 26 38.5 24 39.8 21.9 40.9 19.7 41.9 17.4 42.8 15.2 43.6 12.9 44.2 10.5 44.8 8.1 45.2 5.8 45.5 3.4 45.6 1 45.7-1.4 45.6-3.8 45.4-6.2 45-8.6 44.6-10.9 44-13.2 43.2-15.5 42.4-17.7 41.5-19.8 40.4-21.9 39.2-23.9 37.9-25.9 36.5-27.8 35-29.5 33.4-31.2 31.7-32.8 29.9-34.4 28-35.8 26.1-37.1 24-38.2 22-39.3 19.8-40.3 17.6-41.1 15.3-41.8 13-42.3 10.7-42.8 8.3-43.1 6-43.3 3.6-43.3 1.1-43.2-1.3-43-3.6-42.7-6-42.2-8.4-41.6-10.7-40.8-13-39.9-15.2-38.9-17.4-37.8-19.5-36.6-21.6-35.2-23.6-33.7-25.5-32.2-27.3-30.5-29-28.7-30.7-26.9-32.2-24.9-33.6-22.9-34.9-20.8-36.1-18.6-37.1-16.4-38.1-14.2-38.9-11.8-39.5-9.5-40.1-7.1-40.5-4.7-40.7-2.3-40.8 .1-40.8 2.5-40.6 4.9-40.3 7.2-39.9 9.6-39.3 11.8-38.5 14.1-37.7 16.3-36.7 18.4-35.5 20.4-34.3 22.4-32.9 24.3-31.4 26.1-29.8 27.8-28.1 29.4-26.3 30.8-24.4 32.2-22.4 33.4-20.3 34.5-18.2 35.5-16 36.3-13.7 37-11.4 37.5-9 37.9-6.7 38.1-4.3 38.2-1.9 38.1 .5 37.9 2.9 37.5 5.3 37 7.7 36.3 10 35.5 12.2 34.6 14.4 33.5 16.6 32.2 18.6 30.8 20.6 29.4 22.5 27.7 24.3 26 26 24.2 27.5 22.2 29 20.2 30.3 18.1 31.4 15.9 32.5 13.7 33.3 11.4 34.1 9 34.6 6.7 35 4.3 35.3 1.9 35.4-.5 35.3-2.9 35-5.3 34.6-7.6 34-9.9 33.3-12.2 32.4-14.3 31.4-16.4 30.2-18.4 28.8-20.3 27.3-22.1 25.7-23.8 24-25.3 22.1-26.7 20.2-28 18.1-29.1 16-30.1 13.8-30.9 11.5-31.5 9.2-31.9 6.8-32.2 4.4-32.3 2-32.2-.4-31.9-2.8-31.4-5.2-30.8-7.5-30-9.8-29-12-27.9-14.1-26.5-16.1-25.1-18-23.5-19.8-21.7-21.5-19.8-23-17.8-24.4-15.7-25.6-13.6-26.6-11.3-27.4-9-28.1-6.6-28.5-4.2-28.8-1.8-28.9 .6-28.7 3-28.4 5.4-27.8 7.7-27.1 9.9-26.1 12-25 14-23.6 15.9-22.1 17.7-20.5 19.3-18.7 20.7-16.7 22-14.6 23-12.5 23.8-10.2 24.5-7.8 24.8-5.4 25-3 24.9-.6 24.6 1.8 24 4.2 23.2 6.4 22.2 8.6 21 10.7 19.5 12.7 17.8 14.4 16 16 14 17.4 11.8 18.5 9.6 19.4 7.2 20.1 4.8 20.4 2.4 20.5-.1 20.2-2.4 19.6-4.7 18.8-6.9 17.6-8.9 16.2-10.7 14.5-12.1 12.6-13.3 10.6-14.1 8.6-14.6 6.6-14.8 4.7-14.7 2.9-14.4 1.2-14-.3-13.4-1.7-12.7-2.9-11.9-4-11-4.8-10.1-5.5-9.2-6.1-8.3-6.5-7.4-6.8-6.5-6.9-5.7-7-4.9-6.9-4.2-6.8-3.6-6.6-3-6.3-2.5-6-2-5.6-1.6-5.2-1.3-4.8-1-4.4-.8-3.9-.6-3.5-.4-3-.3-2.5-.2-2-.1-1.5-.1-1 0-.5 0 0 0 0Z" fill="url(#b7_3)"/></g></g><g transform="translate(744.00 145.80)" filter="url(#fwb)"></g></g><text transform="translate(744.51 156.60)" font-size="13.20" style="font-weight:bold" fill="#f3dcf6">(b7)</text>
<g clip-path="url(#b8_clip)"><g filter="url(#fsim)"><rect x="848.00" y="139.80" width="121.00" height="119.80" fill="#000"/><g transform="translate(854.00 145.80)"><ellipse transform="translate(54.50 54.00) rotate(0.0) scale(1.0000 1.0000)" rx="56.00" ry="56.00" fill="url(#b8_1)"/><path transform="translate(54.50 54.00) rotate(0.0) scale(1.000 1.000)" d="M-.9-.4-1.4-.5-1.9-.7-2.4-.8-2.8-.9-3.3-1-3.9-1.1-4.4-1.1-4.9-1.1-5.4-1-5.9-.9-6.5-.7-7-.4-7.5-.1-8 .3-8.5 .8-8.9 1.3-9.3 2-9.6 2.7-9.9 3.5-10.1 4.4-10.2 5.3-10.2 6.4-10 7.5-9.8 8.6-9.3 9.8-8.7 10.9-8 12.1-7 13.3-5.8 14.4-4.5 15.4-2.9 16.2-1.2 17 .8 17.5 2.8 17.8 5.1 17.8 7.4 17.5 9.8 16.9 12 15.9 14.2 14.7 16.1 13.3 17.9 11.6 19.4 9.7 20.7 7.6 21.8 5.4 22.6 3.1 23.1 .7 23.4-1.7 23.5-4.1 23.3-6.5 22.8-8.9 22.1-11.2 21.1-13.5 20-15.6 18.6-17.6 17.1-19.5 15.4-21.2 13.5-22.8 11.5-24.1 9.4-25.3 7.2-26.3 4.9-27 2.5-27.6 .1-28-2.3-28.1-4.7-28-7.1-27.8-9.5-27.3-11.8-26.6-14.1-25.7-16.2-24.7-18.3-23.4-20.3-22.1-22.1-20.5-23.8-18.8-25.4-17-26.8-15-28.1-13-29.2-10.8-30.1-8.6-30.9-6.3-31.5-3.9-31.9-1.6-32.1 .8-32.1 3.3-31.9 5.7-31.6 8-31.1 10.4-30.4 12.7-29.5 15-28.5 17.2-27.3 19.3-26 21.3-24.6 23.2-23 25-21.2 26.7-19.4 28.2-17.4 29.7-15.4 30.9-13.3 32.1-11.1 33.1-8.8 33.9-6.5 34.6-4.2 35.1-1.8 35.4 .6 35.6 3 35.6 5.4 35.5 7.8 35.2 10.2 34.7 12.5 34.1 14.8 33.3 17 32.4 19.2 31.3 21.3 30.1 23.3 28.8 25.2 27.3 27 25.7 28.7 24 30.3 22.2 31.7 20.3 33.1 18.3 34.3 16.2 35.4 14.1 36.3 11.9 37.1 9.6 37.8 7.3 38.3 4.9 38.6 2.5 38.8 .1 38.9-2.3 38.8-4.7 38.5-7.1 38.2-9.5 37.6-11.8 36.9-14.1 36.1-16.4 35.2-18.6 34.1-20.7 32.9-22.8 31.5-24.8 30.1-26.7 28.5-28.6 26.8-30.3 25.1-31.9 23.2-33.4 21.3-34.8 19.2-36.1 17.1-37.3 14.9-38.3 12.7-39.2 10.4-40 8.1-40.7 5.8-41.2 3.4-41.5 1-41.8-1.4-41.9-3.8-41.8-6.2-41.6-8.6-41.3-11-40.9-13.3-40.3-15.6-39.6-17.8-38.7-20-37.7-22.2-36.6-24.2-35.4-26.2-34.1-28.2-32.6-30-31.1-31.8-29.4-33.4-27.7-35-25.9-36.4-24-37.8-22-39-19.9-40.1-17.8-41.1-15.6-42-13.3-42.8-11.1-43.4-8.7-43.9-6.4-44.3-4-44.5-1.6-44.6 .8-44.6 3.2-44.5 5.6-44.2 8-43.8 10.3-43.3 12.7-42.6 15-41.9 17.3-41 19.5-40 21.7-38.8 23.8-37.6 25.9-36.3 27.9-34.8 29.8-33.3 31.6-31.6 33.4-29.9 35.1-28.1 36.6-26.2 38.1-24.2 39.5-22.2 40.8-20.1 42-17.9 43-15.7 44-13.5 44.8-11.2 45.5-8.8 46.1-6.5 46.6-4.1 46.9-1.7 47.2 .7 47.3 3.1 47.3 5.5 47.1 7.9 46.9 10.3 46.5 12.6 46 14.9 45.4 17.2 44.6 19.5 43.8 21.7 42.8 23.8 41.8 25.9 40.6 28 39.3 29.9 37.9 31.8 36.5 33.7 34.9 35.4 33.2 37.1 31.5 38.6 29.7 40.1 27.8 41.5 25.8 42.8 23.8 44 21.7 45 19.6 46 17.4 46.9 15.1 47.6 12.8 48.3 10.5 48.8 8.2 49.2 5.8 49.5 3.4 49.7 1 49.8-1.4 49.7-3.8 49.6-6.2 49.3-8.6 48.9-10.9 48.4-13.3 47.7-15.6 47-17.9 46.2-20.1 45.2-22.3 44.2-24.5 43-26.6 41.8-28.7 40.4-30.7 39-32.6 37.5-34.4 35.8-36.2 34.1-37.9 32.4-39.5 30.5-41.1 28.6-42.5 26.6-43.9 24.6-45.1 22.5-46.3 20.3-47.3 18.1-48.3 15.9-49.2 13.6-49.9 11.3-50.6 8.9-51.1 6.5-51.5 4.2-51.8 4.1-51.8 1.7-52-.7-52-3.1-51.9-5.5-51.7-7.9-51.4-10.2-51-12.6-50.5-14.9-49.8-17.2-49.1-19.4-48.2-21.6-47.3-23.8-46.3-25.9-45.1-27.9-43.9-29.9-42.5-31.9-41.1-33.7-39.6-35.5-38-37.2-36.3-38.9-34.6-40.4-32.7-41.9-30.8-43.3-28.9-44.5-26.8-45.7-24.8-46.8-22.6-47.8-20.4-48.7-18.2-49.5-15.9-50.2-13.6-50.8-11.3-51.2-9-51.6-6.6-51.8-4.2-52-1.8-52 .6-51.9 3-51.7 5.4-51.4 7.8-51.4 7.7-51.7 5.3-51.8 2.9-51.8 .5-51.7-1.9-51.5-4.3-51.2-6.7-50.7-9-50.2-11.4-49.5-13.7-48.8-15.9-47.9-18.2-46.9-20.4-45.9-22.5-44.7-24.6-43.4-26.7-42-28.7-40.6-30.6-39-32.4-37.4-34.2-35.7-35.9-33.9-37.5-32-39-30.1-40.4-28.1-41.7-26-43-23.9-44.1-21.7-45.1-19.5-46-17.3-46.9-15-47.6-12.6-48.2-10.3-48.6-7.9-49-5.5-49.3-3.1-49.4-.7-49.4 1.7-49.3 4.1-49.1 6.5-48.8 8.8-48.3 11.2-47.7 13.5-47.1 15.7-46.3 18-45.4 20.1-44.4 22.3-43.2 24.3-42 26.3-40.7 28.3-39.3 30.2-37.8 31.9-36.2 33.6-34.5 35.3-32.7 36.8-30.8 38.2-28.9 39.6-26.9 40.8-24.8 41.9-22.7 42.9-20.5 43.8-18.3 44.6-16.1 45.3-13.7 45.9-11.4 46.3-9 46.6-6.7 46.8-4.3 46.9-1.9 46.9 .5 46.7 2.9 46.4 5.3 46 7.7 45.4 10 44.8 12.3 44 14.6 43.1 16.8 42.1 19 40.9 21.2 39.7 23.2 38.4 25.2 36.9 27.1 35.4 29 33.7 30.7 32 32.4 30.2 34 28.3 35.5 26.3 36.8 24.3 38.1 22.2 39.3 20 40.3 17.8 41.2 15.5 42.1 13.2 42.7 10.9 43.3 8.5 43.7 6.1 44 3.7 44.2 1.3 44.3-1.1 44.2-3.5 44-5.8 43.6-8.2 43.1-10.5 42.5-12.8 41.8-15.1 40.9-17.2 39.9-19.4 38.8-21.5 37.6-23.5 36.3-25.4 34.9-27.2 33.3-29 31.7-30.6 29.9-32.2 28.1-33.6 26.2-35 24.2-36.2 22.1-37.3 19.9-38.3 17.8-39.1 15.5-39.9 13.2-40.5 10.9-40.9 8.5-41.2 6.1-41.4 3.7-41.4 1.3-41.3-1.1-41.1-3.5-40.7-5.8-40.2-8.2-39.5-10.5-38.8-12.8-37.8-15-36.8-17.2-35.6-19.3-34.3-21.3-32.9-23.2-31.3-25.1-29.7-26.8-27.9-28.5-26.1-30-24.2-31.5-22.1-32.8-20-34-17.9-35-15.6-35.9-13.4-36.7-11-37.3-8.7-37.8-6.3-38.2-3.9-38.4-1.5-38.4 .9-38.3 3.3-38.1 5.7-37.6 8-37.1 10.3-36.4 12.6-35.5 14.8-34.5 16.9-33.4 18.9-32.1 20.9-30.7 22.8-29.2 24.5-27.6 26.2-25.8 27.7-24 29.1-22 30.4-20 31.5-17.8 32.5-15.6 33.3-13.4 34-11.1 34.5-8.7 34.9-6.3 35.1-3.9 35.1-1.5 35 .9 34.7 3.3 34.3 5.6 33.6 8 32.9 10.3 31.9 12.5 30.8 14.6 29.6 16.7 28.2 18.6 26.6 20.5 25 22.3 23.2 23.9 21.3 25.4 19.3 26.7 17.2 27.9 15 28.9 12.8 29.8 10.5 30.5 8.1 31 5.7 31.4 3.3 31.5 .9 31.5-1.5 31.3-3.9 30.9-6.2 30.3-8.5 29.6-10.7 28.6-12.9 27.5-14.9 26.2-16.9 24.8-18.7 23.2-20.3 21.4-21.9 19.5-23.2 17.5-24.4 15.4-25.4 13.2-26.2 11-26.9 8.6-27.3 6.2-27.5 3.8-27.4 1.4-27.2-1-26.8-3.4-26.1-5.7-25.2-8-24.2-10.2-22.9-12.2-21.4-14.1-19.8-15.9-17.9-17.5-16-18.9-13.9-20.2-11.6-21.2-9.3-21.9-7-22.4-4.5-22.7-2.1-22.7 .3-22.4 2.7-21.9 5-21.1 7.2-20 9.2-18.7 11.1-17.1 12.8-15.3 14.2-13.3 15.4-11.2 16.2-9 16.7-6.8 16.9-4.7 16.8-2.7 16.5-.9 16 .9 15.3 2.4 14.5 3.8 13.6 5 12.6 6 11.6 6.9 10.6 7.5 9.5 8.1 8.5 8.5 7.5 8.7 6.6 8.8 5.7 8.8 4.8 8.8 4 8.6 3.3 8.4 2.7 8.1 2.1 7.7 1.6 7.3 1.2 6.9 .8 6.4 .5 6 .3 5.5 .1 5-.1 4.5-.2 4-.2 3.5-.3 3-.3 2.5-.2 2-.2 1.5-.1 1-.9 .5ZM.9 .4 1.4 .5 1.9 .7 2.4 .8 2.8 .9 3.3 1 3.9 1.1 4.4 1.1 4.9 1.1 5.4 1 5.9 .9 6.5 .7 7 .4 7.5 .1 8-.3 8.5-.8 8.9-1.3 9.3-2 9.6-2.7 9.9-3.5 10.1-4.4 10.2-5.3 10.2-6.4 10-7.5 9.8-8.6 9.3-9.8 8.7-10.9 8-12.1 7-13.3 5.8-14.4 4.5-15.4 2.9-16.2 1.2-17-.8-17.5-2.8-17.8-5.1-17.8-7.4-17.5-9.8-16.9-12-15.9-14.2-14.7-16.1-13.3-17.9-11.6-19.4-9.7-20.7-7.6-21.8-5.4-22.6-3.1-23.1-.7-23.4 1.7-23.5 4.1-23.3 6.5-22.8 8.9-22.1 11.2-21.1 13.5-20 15.6-18.6 17.6-17.1 19.5-15.4 21.2-13.5 22.8-11.5 24.1-9.4 25.3-7.2 26.3-4.9 27-2.5 27.6-.1 28 2.3 28.1 4.7 28 7.1 27.8 9.5 27.3 11.8 26.6 14.1 25.7 16.2 24.7 18.3 23.4 20.3 22.1 22.1 20.5 23.8 18.8 25.4 17 26.8 15 28.1 13 29.2 10.8 30.1 8.6 30.9 6.3 31.5 3.9 31.9 1.6 32.1-.8 32.1-3.3 31.9-5.7 31.6-8 31.1-10.4 30.4-12.7 29.5-15 28.5-17.2 27.3-19.3 26-21.3 24.6-23.2 23-25 21.2-26.7 19.4-28.2 17.4-29.7 15.4-30.9 13.3-32.1 11.1-33.1 8.8-33.9 6.5-34.6 4.2-35.1 1.8-35.4-.6-35.6-3-35.6-5.4-35.5-7.8-35.2-10.2-34.7-12.5-34.1-14.8-33.3-17-32.4-19.2-31.3-21.3-30.1-23.3-28.8-25.2-27.3-27-25.7-28.7-24-30.3-22.2-31.7-20.3-33.1-18.3-34.3-16.2-35.4-14.1-36.3-11.9-37.1-9.6-37.8-7.3-38.3-4.9-38.6-2.5-38.8-.1-38.9 2.3-38.8 4.7-38.5 7.1-38.2 9.5-37.6 11.8-36.9 14.1-36.1 16.4-35.2 18.6-34.1 20.7-32.9 22.8-31.5 24.8-30.1 26.7-28.5 28.6-26.8 30.3-25.1 31.9-23.2 33.4-21.3 34.8-19.2 36.1-17.1 37.3-14.9 38.3-12.7 39.2-10.4 40-8.1 40.7-5.8 41.2-3.4 41.5-1 41.8 1.4 41.9 3.8 41.8 6.2 41.6 8.6 41.3 11 40.9 13.3 40.3 15.6 39.6 17.8 38.7 20 37.7 22.2 36.6 24.2 35.4 26.2 34.1 28.2 32.6 30 31.1 31.8 29.4 33.4 27.7 35 25.9 36.4 24 37.8 22 39 19.9 40.1 17.8 41.1 15.6 42 13.3 42.8 11.1 43.4 8.7 43.9 6.4 44.3 4 44.5 1.6 44.6-.8 44.6-3.2 44.5-5.6 44.2-8 43.8-10.3 43.3-12.7 42.6-15 41.9-17.3 41-19.5 40-21.7 38.8-23.8 37.6-25.9 36.3-27.9 34.8-29.8 33.3-31.6 31.6-33.4 29.9-35.1 28.1-36.6 26.2-38.1 24.2-39.5 22.2-40.8 20.1-42 17.9-43 15.7-44 13.5-44.8 11.2-45.5 8.8-46.1 6.5-46.6 4.1-46.9 1.7-47.2-.7-47.3-3.1-47.3-5.5-47.1-7.9-46.9-10.3-46.5-12.6-46-14.9-45.4-17.2-44.6-19.5-43.8-21.7-42.8-23.8-41.8-25.9-40.6-28-39.3-29.9-37.9-31.8-36.5-33.7-34.9-35.4-33.2-37.1-31.5-38.6-29.7-40.1-27.8-41.5-25.8-42.8-23.8-44-21.7-45-19.6-46-17.4-46.9-15.1-47.6-12.8-48.3-10.5-48.8-8.2-49.2-5.8-49.5-3.4-49.7-1-49.8 1.4-49.7 3.8-49.6 6.2-49.3 8.6-48.9 10.9-48.4 13.3-47.7 15.6-47 17.9-46.2 20.1-45.2 22.3-44.2 24.5-43 26.6-41.8 28.7-40.4 30.7-39 32.6-37.5 34.4-35.8 36.2-34.1 37.9-32.4 39.5-30.5 41.1-28.6 42.5-26.6 43.9-24.6 45.1-22.5 46.3-20.3 47.3-18.1 48.3-15.9 49.2-13.6 49.9-11.3 50.6-8.9 51.1-6.5 51.5-4.2 51.8-4.1 51.8-1.7 52 .7 52 3.1 51.9 5.5 51.7 7.9 51.4 10.2 51 12.6 50.5 14.9 49.8 17.2 49.1 19.4 48.2 21.6 47.3 23.8 46.3 25.9 45.1 27.9 43.9 29.9 42.5 31.9 41.1 33.7 39.6 35.5 38 37.2 36.3 38.9 34.6 40.4 32.7 41.9 30.8 43.3 28.9 44.5 26.8 45.7 24.8 46.8 22.6 47.8 20.4 48.7 18.2 49.5 15.9 50.2 13.6 50.8 11.3 51.2 9 51.6 6.6 51.8 4.2 52 1.8 52-.6 51.9-3 51.7-5.4 51.4-7.8 51.4-7.7 51.7-5.3 51.8-2.9 51.8-.5 51.7 1.9 51.5 4.3 51.2 6.7 50.7 9 50.2 11.4 49.5 13.7 48.8 15.9 47.9 18.2 46.9 20.4 45.9 22.5 44.7 24.6 43.4 26.7 42 28.7 40.6 30.6 39 32.4 37.4 34.2 35.7 35.9 33.9 37.5 32 39 30.1 40.4 28.1 41.7 26 43 23.9 44.1 21.7 45.1 19.5 46 17.3 46.9 15 47.6 12.6 48.2 10.3 48.6 7.9 49 5.5 49.3 3.1 49.4 .7 49.4-1.7 49.3-4.1 49.1-6.5 48.8-8.8 48.3-11.2 47.7-13.5 47.1-15.7 46.3-18 45.4-20.1 44.4-22.3 43.2-24.3 42-26.3 40.7-28.3 39.3-30.2 37.8-31.9 36.2-33.6 34.5-35.3 32.7-36.8 30.8-38.2 28.9-39.6 26.9-40.8 24.8-41.9 22.7-42.9 20.5-43.8 18.3-44.6 16.1-45.3 13.7-45.9 11.4-46.3 9-46.6 6.7-46.8 4.3-46.9 1.9-46.9-.5-46.7-2.9-46.4-5.3-46-7.7-45.4-10-44.8-12.3-44-14.6-43.1-16.8-42.1-19-40.9-21.2-39.7-23.2-38.4-25.2-36.9-27.1-35.4-29-33.7-30.7-32-32.4-30.2-34-28.3-35.5-26.3-36.8-24.3-38.1-22.2-39.3-20-40.3-17.8-41.2-15.5-42.1-13.2-42.7-10.9-43.3-8.5-43.7-6.1-44-3.7-44.2-1.3-44.3 1.1-44.2 3.5-44 5.8-43.6 8.2-43.1 10.5-42.5 12.8-41.8 15.1-40.9 17.2-39.9 19.4-38.8 21.5-37.6 23.5-36.3 25.4-34.9 27.2-33.3 29-31.7 30.6-29.9 32.2-28.1 33.6-26.2 35-24.2 36.2-22.1 37.3-19.9 38.3-17.8 39.1-15.5 39.9-13.2 40.5-10.9 40.9-8.5 41.2-6.1 41.4-3.7 41.4-1.3 41.3 1.1 41.1 3.5 40.7 5.8 40.2 8.2 39.5 10.5 38.8 12.8 37.8 15 36.8 17.2 35.6 19.3 34.3 21.3 32.9 23.2 31.3 25.1 29.7 26.8 27.9 28.5 26.1 30 24.2 31.5 22.1 32.8 20 34 17.9 35 15.6 35.9 13.4 36.7 11 37.3 8.7 37.8 6.3 38.2 3.9 38.4 1.5 38.4-.9 38.3-3.3 38.1-5.7 37.6-8 37.1-10.3 36.4-12.6 35.5-14.8 34.5-16.9 33.4-18.9 32.1-20.9 30.7-22.8 29.2-24.5 27.6-26.2 25.8-27.7 24-29.1 22-30.4 20-31.5 17.8-32.5 15.6-33.3 13.4-34 11.1-34.5 8.7-34.9 6.3-35.1 3.9-35.1 1.5-35-.9-34.7-3.3-34.3-5.6-33.6-8-32.9-10.3-31.9-12.5-30.8-14.6-29.6-16.7-28.2-18.6-26.6-20.5-25-22.3-23.2-23.9-21.3-25.4-19.3-26.7-17.2-27.9-15-28.9-12.8-29.8-10.5-30.5-8.1-31-5.7-31.4-3.3-31.5-.9-31.5 1.5-31.3 3.9-30.9 6.2-30.3 8.5-29.6 10.7-28.6 12.9-27.5 14.9-26.2 16.9-24.8 18.7-23.2 20.3-21.4 21.9-19.5 23.2-17.5 24.4-15.4 25.4-13.2 26.2-11 26.9-8.6 27.3-6.2 27.5-3.8 27.4-1.4 27.2 1 26.8 3.4 26.1 5.7 25.2 8 24.2 10.2 22.9 12.2 21.4 14.1 19.8 15.9 17.9 17.5 16 18.9 13.9 20.2 11.6 21.2 9.3 21.9 7 22.4 4.5 22.7 2.1 22.7-.3 22.4-2.7 21.9-5 21.1-7.2 20-9.2 18.7-11.1 17.1-12.8 15.3-14.2 13.3-15.4 11.2-16.2 9-16.7 6.8-16.9 4.7-16.8 2.7-16.5 .9-16-.9-15.3-2.4-14.5-3.8-13.6-5-12.6-6-11.6-6.9-10.6-7.5-9.5-8.1-8.5-8.5-7.5-8.7-6.6-8.8-5.7-8.8-4.8-8.8-4-8.6-3.3-8.4-2.7-8.1-2.1-7.7-1.6-7.3-1.2-6.9-.8-6.4-.5-6-.3-5.5-.1-5 .1-4.5 .2-4 .2-3.5 .3-3 .3-2.5 .2-2 .2-1.5 .1-1 .9-.5Z" fill="url(#b8_2)"/></g></g><g transform="translate(854.00 145.80)" filter="url(#fwb)"></g></g><text transform="translate(854.51 156.60)" font-size="13.20" style="font-weight:bold" fill="#f3dcf6">(b8)</text>
<g clip-path="url(#b9_clip)"><g filter="url(#fsim)"><rect x="960.00" y="139.80" width="121.50" height="119.80" fill="#000"/><g transform="translate(966.00 145.80)"><ellipse transform="translate(54.50 53.70) rotate(0.0) scale(1.0000 1.0000)" rx="56.00" ry="56.00" fill="url(#b9_1)"/><path transform="translate(54.50 53.70) rotate(0.0) scale(1.000 1.000)" d="M.5-.9 .7-1.3 .9-1.8 1.1-2.2 1.3-2.7 1.5-3.2 1.7-3.6 1.8-4.1 1.9-4.6 2-5.1 2-5.7 2-6.2 1.9-6.7 1.8-7.3 1.7-7.8 1.5-8.4 1.2-8.9 .9-9.5 .5-10 .1-10.5-.5-11-1.1-11.4-1.8-11.9-2.5-12.2-3.3-12.6-4.2-12.8-5.2-13-6.2-13.1-7.3-13.1-8.5-13-9.7-12.7-10.9-12.4-12.2-11.8-13.5-11.2-14.7-10.4-15.9-9.4-17.1-8.2-18.2-6.9-19.3-5.4-20.2-3.7-20.9-1.8-21.5 .2-21.9 2.3-22 4.6-21.9 7-21.5 9.4-20.9 11.8-20 14-18.9 16.2-17.5 18.2-16 20.1-14.3 21.9-12.4 23.4-10.4 24.8-8.2 25.9-6 26.9-3.7 27.7-1.3 28.2 1.1 28.6 3.5 28.7 5.9 28.6 8.3 28.3 10.7 27.9 13 27.2 15.3 26.3 17.5 25.3 19.6 24.1 21.5 22.7 23.4 21.1 25.2 19.5 26.8 17.7 28.2 15.7 29.6 13.7 30.7 11.6 31.7 9.4 32.6 7.1 33.2 4.8 33.7 2.4 34 0 34.2-2.4 34.2-4.8 34-7.2 33.6-9.6 33.1-11.9 32.4-14.2 31.5-16.5 30.5-18.7 29.4-20.8 28.1-22.9 26.6-24.8 25.1-26.6 23.4-28.4 21.6-30 19.7-31.5 17.8-32.9 15.7-34.1 13.6-35.2 11.4-36.2 9.1-37 6.8-37.7 4.4-38.2 2-38.6-.4-38.9-2.8-38.9-5.2-38.9-7.6-38.6-10-38.3-12.3-37.8-14.6-37.1-16.9-36.3-19.1-35.4-21.3-34.3-23.4-33.1-25.4-31.8-27.3-30.4-29.2-28.8-30.9-27.2-32.6-25.4-34.1-23.6-35.6-21.7-36.9-19.6-38.1-17.6-39.2-15.4-40.2-13.2-41-10.9-41.7-8.6-42.2-6.3-42.7-3.9-43-1.5-43.1 .9-43.2 3.3-43.1 5.7-42.8 8.1-42.4 10.5-41.9 12.8-41.3 15.1-40.5 17.4-39.7 19.7-38.6 21.8-37.5 24-36.3 26-34.9 28-33.5 30-31.9 31.8-30.3 33.5-28.5 35.2-26.7 36.8-24.8 38.2-22.8 39.6-20.8 40.9-18.7 42-16.5 43-14.3 44-12 44.8-9.7 45.4-7.3 46-5 46.4-2.6 46.8-.2 47 2.2 47 4.6 47 7 46.8 9.4 46.5 11.8 46.1 14.1 45.5 16.4 44.9 18.7 44.1 20.9 43.2 23.1 42.2 25.3 41.1 27.3 39.9 29.4 38.6 31.3 37.2 33.2 35.7 35 34.1 36.7 32.4 38.3 30.6 39.9 28.8 41.3 26.8 42.7 24.9 43.9 22.8 45.1 20.7 46.1 18.5 47.1 16.3 47.9 14.1 48.6 11.8 49.2 9.4 49.7 7.1 50.1 4.7 50.4 2.3 50.5-.1 50.6-2.5 50.5-4.9 50.3-7.3 50-9.7 49.6-12 49.1-14.4 48.5-16.7 47.7-19 46.9-21.2 45.9-23.4 44.9-25.6 43.7-27.7 42.5-29.8 41.1-31.8 40.7-32.4 39.1-34.2 37.5-36 35.7-37.8 33.9-39.4 32-41 30-42.4 28-43.8 25.9-45.1 23.7-46.3 21.5-47.3 19.3-48.3 17-49.1 14.6-49.9 12.3-50.5 9.9-51.1 7.4-51.5 5-51.8 2.6-51.9 .1-52-2.3-51.9-4.8-51.8-7.2-51.5-9.7-51.1-12.1-50.6-14.4-50-16.8-49.2-19.1-48.4-21.3-47.4-23.6-46.4-25.7-45.2-27.8-43.9-29.9-42.6-31.8-41.1-33.7-39.6-35.6-37.9-37.3-36.2-36.8-36.7-35-38.3-33.1-39.8-31.2-41.2-29.2-42.5-27.1-43.8-25-44.9-22.8-45.9-20.6-46.8-18.3-47.7-16-48.4-13.7-49-11.4-49.5-9-49.9-6.6-50.1-4.2-50.3-1.8-50.3 .6-50.2 3-50 5.4-49.7 7.8-49.3 10.1-48.8 12.4-48.1 14.7-47.4 17-46.5 19.1-45.5 21.3-44.4 23.4-43.2 25.4-41.9 27.4-40.6 29.3-39.1 31.1-37.5 32.8-35.8 34.5-34.1 36-32.3 37.5-30.3 38.9-28.4 40.2-26.3 41.3-24.2 42.4-22.1 43.3-19.9 44.2-17.6 44.9-15.3 45.5-13 46-10.6 46.3-8.2 46.6-5.9 46.7-3.4 46.7-1 46.6 1.4 46.3 3.8 45.9 6.1 45.4 8.5 44.8 10.8 44.1 13.1 43.2 15.3 42.2 17.5 41.1 19.7 39.9 21.8 38.6 23.8 37.2 25.7 35.6 27.6 34 29.4 32.3 31 30.5 32.6 28.6 34.1 26.6 35.5 24.6 36.8 22.5 38 20.3 39 18.1 39.9 15.8 40.7 13.5 41.4 11.2 42 8.8 42.4 6.4 42.7 4 42.8 1.6 42.8-.8 42.7-3.2 42.4-5.6 42-7.9 41.5-10.2 40.9-12.5 40.1-14.7 39.1-16.9 38.1-19 36.9-21 35.6-23 34.2-24.8 32.7-26.6 31-28.3 29.3-29.8 27.5-31.3 25.5-32.6 23.5-33.8 21.4-34.9 19.3-35.9 17.1-36.7 14.8-37.3 12.5-37.9 10.1-38.3 7.8-38.5 5.4-38.6 3-38.5 .5-38.3-1.9-37.9-4.2-37.4-6.6-36.7-8.9-35.9-11.2-34.9-13.4-33.8-15.5-32.5-17.6-31.2-19.6-29.7-21.4-28-23.2-26.3-24.9-24.4-26.4-22.5-27.9-20.4-29.1-18.3-30.3-16.1-31.3-13.8-32.1-11.5-32.7-9.1-33.3-6.8-33.6-4.3-33.8-1.9-33.7 .5-33.6 2.9-33.2 5.2-32.7 7.5-32 9.8-31.1 12-30 14.1-28.8 16.1-27.5 18-25.9 19.7-24.3 21.3-22.5 22.8-20.6 24.1-18.5 25.3-16.4 26.3-14.2 27-11.9 27.6-9.5 28-7.2 28.2-4.7 28.2-2.3 27.9 .1 27.5 2.5 26.8 4.8 25.9 7.1 24.8 9.3 23.5 11.3 22 13.2 20.3 15 18.5 16.6 16.5 18 14.4 19.2 12.1 20.1 9.8 20.8 7.4 21.2 5.1 21.4 2.9 21.3 .9 21-1.1 20.5-2.8 19.8-4.5 19-5.9 18-7.2 17-8.4 15.9-9.4 14.8-10.2 13.6-10.8 12.4-11.4 11.3-11.8 10.1-12 9-12.2 7.9-12.2 6.8-12.2 5.9-12 4.9-11.8 4.1-11.5 3.3-11.2 2.5-10.8 1.9-10.4 1.3-10 .8-9.5 .3-9-.1-8.5-.4-8-.7-7.4-.9-6.9-1.1-6.4-1.2-5.9-1.2-5.3-1.3-4.8-1.3-4.3-1.2-3.8-1.2-3.3-1.1-2.8-1-2.4-.8-1.9-.7-1.4-.5-.9-.4-.3-.9ZM-.5 .9-.7 1.3-.9 1.8-1.1 2.2-1.3 2.7-1.5 3.2-1.7 3.6-1.8 4.1-1.9 4.6-2 5.1-2 5.7-2 6.2-1.9 6.7-1.8 7.3-1.7 7.8-1.5 8.4-1.2 8.9-.9 9.5-.5 10-.1 10.5 .5 11 1.1 11.4 1.8 11.9 2.5 12.2 3.3 12.6 4.2 12.8 5.2 13 6.2 13.1 7.3 13.1 8.5 13 9.7 12.7 10.9 12.4 12.2 11.8 13.5 11.2 14.7 10.4 15.9 9.4 17.1 8.2 18.2 6.9 19.3 5.4 20.2 3.7 20.9 1.8 21.5-.2 21.9-2.3 22-4.6 21.9-7 21.5-9.4 20.9-11.8 20-14 18.9-16.2 17.5-18.2 16-20.1 14.3-21.9 12.4-23.4 10.4-24.8 8.2-25.9 6-26.9 3.7-27.7 1.3-28.2-1.1-28.6-3.5-28.7-5.9-28.6-8.3-28.3-10.7-27.9-13-27.2-15.3-26.3-17.5-25.3-19.6-24.1-21.5-22.7-23.4-21.1-25.2-19.5-26.8-17.7-28.2-15.7-29.6-13.7-30.7-11.6-31.7-9.4-32.6-7.1-33.2-4.8-33.7-2.4-34 0-34.2 2.4-34.2 4.8-34 7.2-33.6 9.6-33.1 11.9-32.4 14.2-31.5 16.5-30.5 18.7-29.4 20.8-28.1 22.9-26.6 24.8-25.1 26.6-23.4 28.4-21.6 30-19.7 31.5-17.8 32.9-15.7 34.1-13.6 35.2-11.4 36.2-9.1 37-6.8 37.7-4.4 38.2-2 38.6 .4 38.9 2.8 38.9 5.2 38.9 7.6 38.6 10 38.3 12.3 37.8 14.6 37.1 16.9 36.3 19.1 35.4 21.3 34.3 23.4 33.1 25.4 31.8 27.3 30.4 29.2 28.8 30.9 27.2 32.6 25.4 34.1 23.6 35.6 21.7 36.9 19.6 38.1 17.6 39.2 15.4 40.2 13.2 41 10.9 41.7 8.6 42.2 6.3 42.7 3.9 43 1.5 43.1-.9 43.2-3.3 43.1-5.7 42.8-8.1 42.4-10.5 41.9-12.8 41.3-15.1 40.5-17.4 39.7-19.7 38.6-21.8 37.5-24 36.3-26 34.9-28 33.5-30 31.9-31.8 30.3-33.5 28.5-35.2 26.7-36.8 24.8-38.2 22.8-39.6 20.8-40.9 18.7-42 16.5-43 14.3-44 12-44.8 9.7-45.4 7.3-46 5-46.4 2.6-46.8 .2-47-2.2-47-4.6-47-7-46.8-9.4-46.5-11.8-46.1-14.1-45.5-16.4-44.9-18.7-44.1-20.9-43.2-23.1-42.2-25.3-41.1-27.3-39.9-29.4-38.6-31.3-37.2-33.2-35.7-35-34.1-36.7-32.4-38.3-30.6-39.9-28.8-41.3-26.8-42.7-24.9-43.9-22.8-45.1-20.7-46.1-18.5-47.1-16.3-47.9-14.1-48.6-11.8-49.2-9.4-49.7-7.1-50.1-4.7-50.4-2.3-50.5 .1-50.6 2.5-50.5 4.9-50.3 7.3-50 9.7-49.6 12-49.1 14.4-48.5 16.7-47.7 19-46.9 21.2-45.9 23.4-44.9 25.6-43.7 27.7-42.5 29.8-41.1 31.8-40.7 32.4-39.1 34.2-37.5 36-35.7 37.8-33.9 39.4-32 41-30 42.4-28 43.8-25.9 45.1-23.7 46.3-21.5 47.3-19.3 48.3-17 49.1-14.6 49.9-12.3 50.5-9.9 51.1-7.4 51.5-5 51.8-2.6 51.9-.1 52 2.3 51.9 4.8 51.8 7.2 51.5 9.7 51.1 12.1 50.6 14.4 50 16.8 49.2 19.1 48.4 21.3 47.4 23.6 46.4 25.7 45.2 27.8 43.9 29.9 42.6 31.8 41.1 33.7 39.6 35.6 37.9 37.3 36.2 36.8 36.7 35 38.3 33.1 39.8 31.2 41.2 29.2 42.5 27.1 43.8 25 44.9 22.8 45.9 20.6 46.8 18.3 47.7 16 48.4 13.7 49 11.4 49.5 9 49.9 6.6 50.1 4.2 50.3 1.8 50.3-.6 50.2-3 50-5.4 49.7-7.8 49.3-10.1 48.8-12.4 48.1-14.7 47.4-17 46.5-19.1 45.5-21.3 44.4-23.4 43.2-25.4 41.9-27.4 40.6-29.3 39.1-31.1 37.5-32.8 35.8-34.5 34.1-36 32.3-37.5 30.3-38.9 28.4-40.2 26.3-41.3 24.2-42.4 22.1-43.3 19.9-44.2 17.6-44.9 15.3-45.5 13-46 10.6-46.3 8.2-46.6 5.9-46.7 3.4-46.7 1-46.6-1.4-46.3-3.8-45.9-6.1-45.4-8.5-44.8-10.8-44.1-13.1-43.2-15.3-42.2-17.5-41.1-19.7-39.9-21.8-38.6-23.8-37.2-25.7-35.6-27.6-34-29.4-32.3-31-30.5-32.6-28.6-34.1-26.6-35.5-24.6-36.8-22.5-38-20.3-39-18.1-39.9-15.8-40.7-13.5-41.4-11.2-42-8.8-42.4-6.4-42.7-4-42.8-1.6-42.8 .8-42.7 3.2-42.4 5.6-42 7.9-41.5 10.2-40.9 12.5-40.1 14.7-39.1 16.9-38.1 19-36.9 21-35.6 23-34.2 24.8-32.7 26.6-31 28.3-29.3 29.8-27.5 31.3-25.5 32.6-23.5 33.8-21.4 34.9-19.3 35.9-17.1 36.7-14.8 37.3-12.5 37.9-10.1 38.3-7.8 38.5-5.4 38.6-3 38.5-.5 38.3 1.9 37.9 4.2 37.4 6.6 36.7 8.9 35.9 11.2 34.9 13.4 33.8 15.5 32.5 17.6 31.2 19.6 29.7 21.4 28 23.2 26.3 24.9 24.4 26.4 22.5 27.9 20.4 29.1 18.3 30.3 16.1 31.3 13.8 32.1 11.5 32.7 9.1 33.3 6.8 33.6 4.3 33.8 1.9 33.7-.5 33.6-2.9 33.2-5.2 32.7-7.5 32-9.8 31.1-12 30-14.1 28.8-16.1 27.5-18 25.9-19.7 24.3-21.3 22.5-22.8 20.6-24.1 18.5-25.3 16.4-26.3 14.2-27 11.9-27.6 9.5-28 7.2-28.2 4.7-28.2 2.3-27.9-.1-27.5-2.5-26.8-4.8-25.9-7.1-24.8-9.3-23.5-11.3-22-13.2-20.3-15-18.5-16.6-16.5-18-14.4-19.2-12.1-20.1-9.8-20.8-7.4-21.2-5.1-21.4-2.9-21.3-.9-21 1.1-20.5 2.8-19.8 4.5-19 5.9-18 7.2-17 8.4-15.9 9.4-14.8 10.2-13.6 10.8-12.4 11.4-11.3 11.8-10.1 12-9 12.2-7.9 12.2-6.8 12.2-5.9 12-4.9 11.8-4.1 11.5-3.3 11.2-2.5 10.8-1.9 10.4-1.3 10-.8 9.5-.3 9 .1 8.5 .4 8 .7 7.4 .9 6.9 1.1 6.4 1.2 5.9 1.2 5.3 1.3 4.8 1.3 4.3 1.2 3.8 1.2 3.3 1.1 2.8 1 2.4 .8 1.9 .7 1.4 .5 .9 .4 .3 .9Z" fill="url(#b9_2)"/></g></g><g transform="translate(966.00 145.80)" filter="url(#fwb)"></g></g><text transform="translate(966.51 156.60)" font-size="13.20" style="font-weight:bold" fill="#f3dcf6">(b9)</text>
<text transform="translate(100.32 27.80) scale(1.0008 1)" font-size="14.00" style="font-weight:bold" fill="#1a1a1a">z=-200 mm</text>
<text transform="translate(208.82 27.80) scale(0.9947 1)" font-size="14.00" style="font-weight:bold" fill="#1a1a1a">z=-100 mm</text>
<text transform="translate(320.32 27.80) scale(0.9907 1)" font-size="14.00" style="font-weight:bold" fill="#1a1a1a">z=-50 mm</text>
<text transform="translate(434.72 29.30) scale(0.9907 1)" font-size="14.00" style="font-weight:bold" fill="#1a1a1a">z=-40 mm</text>
<text transform="translate(548.62 28.40) scale(1.0008 1)" font-size="14.00" style="font-weight:bold" fill="#1a1a1a">z=0 mm</text>
<text transform="translate(656.42 27.40) scale(0.9971 1)" font-size="14.00" style="font-weight:bold" fill="#1a1a1a">z=30 mm</text>
<text transform="translate(764.72 27.80) scale(0.9952 1)" font-size="14.00" style="font-weight:bold" fill="#1a1a1a">z=50 mm</text>
<text transform="translate(880.32 28.90) scale(0.9886 1)" font-size="14.00" style="font-weight:bold" fill="#1a1a1a">z= 70 mm</text>
<text transform="translate(991.12 28.90) scale(0.9958 1)" font-size="14.00" style="font-weight:bold" fill="#1a1a1a">z=175 mm</text>
<text transform="translate(51.10 128.77) rotate(-90) scale(1.0107 1)" font-size="18.00" style="font-weight:bold" fill="#1a1a1a">Experiment</text>
<text transform="translate(51.10 237.50) rotate(-90) scale(1.0120 1)" font-size="18.00" style="font-weight:bold" fill="#1a1a1a">Simulation</text>
<text transform="translate(90.44 271.80) scale(1.0315 1)" font-size="13.60" style="font-weight:bold" fill="#1a1a1a">0.004539 mm</text>
<text transform="translate(169.64 265.80) scale(0.8784 1)" font-size="8.50" style="font-weight:bold" fill="#1a1a1a">-1</text>
<text transform="translate(203.14 271.80) scale(1.0289 1)" font-size="13.60" style="font-weight:bold" fill="#1a1a1a">0.009726 mm</text>
<text transform="translate(282.14 265.80) scale(0.8784 1)" font-size="8.50" style="font-weight:bold" fill="#1a1a1a">-1</text>
<text transform="translate(314.63 271.80) scale(1.0472 1)" font-size="13.60" style="font-weight:bold" fill="#1a1a1a">0.019653 mm</text>
<text transform="translate(395.04 265.80) scale(0.8784 1)" font-size="8.50" style="font-weight:bold" fill="#1a1a1a">-1</text>
<text transform="translate(422.74 271.80) scale(1.0381 1)" font-size="13.60" style="font-weight:bold" fill="#1a1a1a">0.024470 mm</text>
<text transform="translate(502.44 265.80) scale(0.8784 1)" font-size="8.50" style="font-weight:bold" fill="#1a1a1a">-1</text>
<text transform="translate(562.82 271.80) scale(1.0687 1)" font-size="13.60" style="font-weight:bold" fill="#1a1a1a">0 mm</text>
<text transform="translate(597.64 265.80) scale(0.8784 1)" font-size="8.50" style="font-weight:bold" fill="#1a1a1a">-1</text>
<text transform="translate(636.70 271.80) scale(1.0414 1)" font-size="13.60" style="font-weight:bold" fill="#1a1a1a">-0.032252 mm</text>
<text transform="translate(721.34 265.80) scale(0.8784 1)" font-size="8.50" style="font-weight:bold" fill="#1a1a1a">-1</text>
<text transform="translate(748.20 271.80) scale(1.0414 1)" font-size="13.60" style="font-weight:bold" fill="#1a1a1a">-0.019653 mm</text>
<text transform="translate(832.84 265.80) scale(0.8784 1)" font-size="8.50" style="font-weight:bold" fill="#1a1a1a">-1</text>
<text transform="translate(859.90 271.80) scale(1.0563 1)" font-size="13.60" style="font-weight:bold" fill="#1a1a1a">-0.014030 mm</text>
<text transform="translate(945.74 265.80) scale(0.8784 1)" font-size="8.50" style="font-weight:bold" fill="#1a1a1a">-1</text>
<text transform="translate(972.90 271.80) scale(1.0476 1)" font-size="13.60" style="font-weight:bold" fill="#1a1a1a">-0.005300 mm</text>
<text transform="translate(1058.04 265.80) scale(0.8784 1)" font-size="8.50" style="font-weight:bold" fill="#1a1a1a">-1</text>
<text transform="translate(28.96 259.00) scale(0.9129 1)" font-size="22.50" style="font-weight:bold" fill="#111">1</text>
<text transform="translate(67.46 259.00) scale(0.9129 1)" font-size="22.50" style="font-weight:bold" fill="#111">1</text>
<line x1="21.7" y1="267.6" x2="44.8" y2="267.6" stroke="#222" stroke-width="1.4"/>
<line x1="48.8" y1="267.6" x2="82.8" y2="267.6" stroke="#222" stroke-width="1.4"/>
<text transform="translate(24.60 290.80) scale(1.0088 1)" font-size="22.50" style="font-weight:bold;font-style:italic" fill="#111">R</text>
<text transform="translate(63.50 290.80) scale(1.0088 1)" font-size="22.50" style="font-weight:bold;font-style:italic" fill="#111">R</text>
<text transform="translate(34.15 296.40)" font-size="12.50" style="font-weight:bold;font-style:italic" fill="#111">l</text>
<text transform="translate(37.56 300.70)" font-size="8.50" style="font-weight:bold" fill="#111">2</text>
<text transform="translate(73.25 296.40)" font-size="12.50" style="font-weight:bold;font-style:italic" fill="#111">l</text>
<text transform="translate(76.32 300.40)" font-size="8.50" style="font-weight:bold" fill="#111">1</text>
<rect x="118.1" y="293.0" width="407.9" height="253.6" fill="none" stroke="#111" stroke-width="1.9"/>
<path d="M118.1 546.60h5.5M118.1 521.22h3.5M118.1 495.84h5.5M118.1 470.46h3.5M118.1 445.08h5.5M118.1 419.70h3.5M118.1 394.32h5.5M118.1 368.94h3.5M118.1 343.56h5.5M118.1 318.18h3.5M118.1 292.80h5.5M158.89 546.6v-5.5M199.68 546.6v-3.5M240.47 546.6v-5.5M281.26 546.6v-3.5M322.05 546.6v-5.5M362.84 546.6v-3.5M403.63 546.6v-5.5M444.42 546.6v-3.5M485.21 546.6v-5.5" stroke="#111" stroke-width="1.6" fill="none"/>
<text transform="translate(87.06 551.20) scale(1.4000 1)" font-size="13.60" style="font-weight:bold" fill="#111">0.0</text>
<text transform="translate(86.68 500.44) scale(1.4000 1)" font-size="13.60" style="font-weight:bold" fill="#111">0.4</text>
<text transform="translate(86.97 449.68) scale(1.4000 1)" font-size="13.60" style="font-weight:bold" fill="#111">0.8</text>
<text transform="translate(87.16 398.92) scale(1.4000 1)" font-size="13.60" style="font-weight:bold" fill="#111">1.2</text>
<text transform="translate(86.87 348.16) scale(1.4000 1)" font-size="13.60" style="font-weight:bold" fill="#111">1.6</text>
<text transform="translate(87.06 297.40) scale(1.4000 1)" font-size="13.60" style="font-weight:bold" fill="#111">2.0</text>
<text transform="translate(141.47 564.50) scale(1.4000 1)" font-size="13.60" style="font-weight:bold" fill="#111">-200</text>
<text transform="translate(223.05 564.50) scale(1.4000 1)" font-size="13.60" style="font-weight:bold" fill="#111">-100</text>
<text transform="translate(317.29 564.50) scale(1.4000 1)" font-size="13.60" style="font-weight:bold" fill="#111">0</text>
<text transform="translate(388.97 564.50) scale(1.4000 1)" font-size="13.60" style="font-weight:bold" fill="#111">100</text>
<text transform="translate(470.93 564.50) scale(1.4000 1)" font-size="13.60" style="font-weight:bold" fill="#111">200</text>
<text transform="translate(131.70 589.40) scale(1.4860 1)" font-size="13.60" fill="#111"><tspan style="font-weight:bold">Propagation distance along </tspan><tspan style="font-weight:bold;font-style:italic">z</tspan><tspan style="font-weight:bold"> direction (mm)</tspan></text>
<text transform="translate(76.40 485.74) rotate(-90) scale(0.9536 1)" font-size="16.80" style="font-weight:bold" fill="#111">Beam radius (mm)</text>
<path d="M142.57 323.62 L143.39 324.63 L144.21 325.64 L145.02 326.66 L145.84 327.67 L146.65 328.68 L147.47 329.69 L148.28 330.71 L149.10 331.72 L149.92 332.73 L150.73 333.75 L151.55 334.76 L152.36 335.77 L153.18 336.79 L154.00 337.80 L154.81 338.81 L155.63 339.82 L156.44 340.84 L157.26 341.85 L158.07 342.86 L158.89 343.88 L159.71 344.89 L160.52 345.90 L161.34 346.91 L162.15 347.93 L162.97 348.94 L163.78 349.95 L164.60 350.97 L165.42 351.98 L166.23 352.99 L167.05 354.00 L167.86 355.02 L168.68 356.03 L169.50 357.04 L170.31 358.06 L171.13 359.07 L171.94 360.08 L172.76 361.10 L173.57 362.11 L174.39 363.12 L175.21 364.13 L176.02 365.15 L176.84 366.16 L177.65 367.17 L178.47 368.18 L179.29 369.20 L180.10 370.21 L180.92 371.22 L181.73 372.24 L182.55 373.25 L183.36 374.26 L184.18 375.27 L185.00 376.29 L185.81 377.30 L186.63 378.31 L187.44 379.33 L188.26 380.34 L189.07 381.35 L189.89 382.36 L190.71 383.38 L191.52 384.39 L192.34 385.40 L193.15 386.41 L193.97 387.43 L194.79 388.44 L195.60 389.45 L196.42 390.47 L197.23 391.48 L198.05 392.49 L198.86 393.50 L199.68 394.52 L200.50 395.53 L201.31 396.54 L202.13 397.55 L202.94 398.57 L203.76 399.58 L204.57 400.59 L205.39 401.60 L206.21 402.62 L207.02 403.63 L207.84 404.64 L208.65 405.65 L209.47 406.67 L210.29 407.68 L211.10 408.69 L211.92 409.70 L212.73 410.72 L213.55 411.73 L214.36 412.74 L215.18 413.75 L216.00 414.77 L216.81 415.78 L217.63 416.79 L218.44 417.80 L219.26 418.82 L220.08 419.83 L220.89 420.84 L221.71 421.85 L222.52 422.87 L223.34 423.88 L224.15 424.89 L224.97 425.90 L225.79 426.92 L226.60 427.93 L227.42 428.94 L228.23 429.95 L229.05 430.96 L229.86 431.98 L230.68 432.99 L231.50 434.00 L232.31 435.01 L233.13 436.03 L233.94 437.04 L234.76 438.05 L235.58 439.06 L236.39 440.07 L237.21 441.09 L238.02 442.10 L238.84 443.11 L239.65 444.12 L240.47 445.13 L241.29 446.14 L242.10 447.16 L242.92 448.17 L243.73 449.18 L244.55 450.19 L245.36 451.20 L246.18 452.22 L247.00 453.23 L247.81 454.24 L248.63 455.25 L249.44 456.26 L250.26 457.27 L251.08 458.28 L251.89 459.30 L252.71 460.31 L253.52 461.32 L254.34 462.33 L255.15 463.34 L255.97 464.35 L256.79 465.36 L257.60 466.37 L258.42 467.39 L259.23 468.40 L260.05 469.41 L260.87 470.42 L261.68 471.43 L262.50 472.44 L263.31 473.45 L264.13 474.46 L264.94 475.47 L265.76 476.48 L266.58 477.49 L267.39 478.50 L268.21 479.51 L269.02 480.52 L269.84 481.53 L270.65 482.54 L271.47 483.55 L272.29 484.56 L273.10 485.57 L273.92 486.58 L274.73 487.59 L275.55 488.60 L276.37 489.61 L277.18 490.62 L278.00 491.62 L278.81 492.63 L279.63 493.64 L280.44 494.65 L281.26 495.66 L282.08 496.66 L282.89 497.67 L283.71 498.68 L284.52 499.69 L285.34 500.69 L286.15 501.70 L286.97 502.70 L287.79 503.71 L288.60 504.72 L289.42 505.72 L290.23 506.72 L291.05 507.73 L291.87 508.73 L292.68 509.73 L293.50 510.74 L294.31 511.74 L295.13 512.74 L295.94 513.74 L296.76 514.74 L297.58 515.74 L298.39 516.74 L299.21 517.73 L300.02 518.73 L300.84 519.72 L301.66 520.71 L302.47 521.70 L303.29 522.69 L304.10 523.68 L304.92 524.66 L305.73 525.65 L306.55 526.62 L307.37 527.60 L308.18 528.57 L309.00 529.53 L309.81 530.49 L310.63 531.45 L311.44 532.39 L312.26 533.32 L313.08 534.25 L313.89 535.15 L314.71 536.04 L315.52 536.90 L316.34 537.73 L317.16 538.51 L317.97 539.25 L318.79 539.90 L319.60 540.46 L320.42 540.90 L321.23 541.17 L322.05 541.27 L322.87 541.17 L323.68 540.90 L324.50 540.46 L325.31 539.90 L326.13 539.25 L326.94 538.51 L327.76 537.73 L328.58 536.90 L329.39 536.04 L330.21 535.15 L331.02 534.25 L331.84 533.32 L332.66 532.39 L333.47 531.45 L334.29 530.49 L335.10 529.53 L335.92 528.57 L336.73 527.60 L337.55 526.62 L338.37 525.65 L339.18 524.66 L340.00 523.68 L340.81 522.69 L341.63 521.70 L342.44 520.71 L343.26 519.72 L344.08 518.73 L344.89 517.73 L345.71 516.74 L346.52 515.74 L347.34 514.74 L348.16 513.74 L348.97 512.74 L349.79 511.74 L350.60 510.74 L351.42 509.73 L352.23 508.73 L353.05 507.73 L353.87 506.72 L354.68 505.72 L355.50 504.72 L356.31 503.71 L357.13 502.70 L357.95 501.70 L358.76 500.69 L359.58 499.69 L360.39 498.68 L361.21 497.67 L362.02 496.66 L362.84 495.66 L363.66 494.65 L364.47 493.64 L365.29 492.63 L366.10 491.62 L366.92 490.62 L367.73 489.61 L368.55 488.60 L369.37 487.59 L370.18 486.58 L371.00 485.57 L371.81 484.56 L372.63 483.55 L373.45 482.54 L374.26 481.53 L375.08 480.52 L375.89 479.51 L376.71 478.50 L377.52 477.49 L378.34 476.48 L379.16 475.47 L379.97 474.46 L380.79 473.45 L381.60 472.44 L382.42 471.43 L383.24 470.42 L384.05 469.41 L384.87 468.40 L385.68 467.39 L386.50 466.37 L387.31 465.36 L388.13 464.35 L388.95 463.34 L389.76 462.33 L390.58 461.32 L391.39 460.31 L392.21 459.30 L393.02 458.28 L393.84 457.27 L394.66 456.26 L395.47 455.25 L396.29 454.24 L397.10 453.23 L397.92 452.22 L398.74 451.20 L399.55 450.19 L400.37 449.18 L401.18 448.17 L402.00 447.16 L402.81 446.14 L403.63 445.13 L404.45 444.12 L405.26 443.11 L406.08 442.10 L406.89 441.09 L407.71 440.07 L408.52 439.06 L409.34 438.05 L410.16 437.04 L410.97 436.03 L411.79 435.01 L412.60 434.00 L413.42 432.99 L414.24 431.98 L415.05 430.96 L415.87 429.95 L416.68 428.94 L417.50 427.93 L418.31 426.92 L419.13 425.90 L419.95 424.89 L420.76 423.88 L421.58 422.87 L422.39 421.85 L423.21 420.84 L424.02 419.83 L424.84 418.82 L425.66 417.80 L426.47 416.79 L427.29 415.78 L428.10 414.77 L428.92 413.75 L429.74 412.74 L430.55 411.73 L431.37 410.72 L432.18 409.70 L433.00 408.69 L433.81 407.68 L434.63 406.67 L435.45 405.65 L436.26 404.64 L437.08 403.63 L437.89 402.62 L438.71 401.60 L439.53 400.59 L440.34 399.58 L441.16 398.57 L441.97 397.55 L442.79 396.54 L443.60 395.53 L444.42 394.52 L445.24 393.50 L446.05 392.49 L446.87 391.48 L447.68 390.47 L448.50 389.45 L449.31 388.44 L450.13 387.43 L450.95 386.41 L451.76 385.40 L452.58 384.39 L453.39 383.38 L454.21 382.36 L455.03 381.35 L455.84 380.34 L456.66 379.33 L457.47 378.31 L458.29 377.30 L459.10 376.29 L459.92 375.27 L460.74 374.26 L461.55 373.25 L462.37 372.24 L463.18 371.22 L464.00 370.21 L464.81 369.20 L465.63 368.18 L466.45 367.17 L467.26 366.16 L468.08 365.15 L468.89 364.13 L469.71 363.12 L470.53 362.11 L471.34 361.10 L472.16 360.08 L472.97 359.07 L473.79 358.06 L474.60 357.04 L475.42 356.03 L476.24 355.02 L477.05 354.00 L477.87 352.99 L478.68 351.98 L479.50 350.97 L480.32 349.95 L481.13 348.94 L481.95 347.93 L482.76 346.91 L483.58 345.90 L484.39 344.89 L485.21 343.88 L486.03 342.86 L486.84 341.85 L487.66 340.84 L488.47 339.82 L489.29 338.81 L490.10 337.80 L490.92 336.79 L491.74 335.77 L492.55 334.76 L493.37 333.75 L494.18 332.73 L495.00 331.72 L495.82 330.71 L496.63 329.69 L497.45 328.68 L498.26 327.67 L499.08 326.66 L499.89 325.64 L500.71 324.63 L501.53 323.62" stroke="#111" stroke-width="2" fill="none" stroke-linejoin="round"/>
<path d="M142.57 439.07 L146.65 439.33 L150.73 439.59 L154.81 439.84 L158.89 440.09 L162.97 440.33 L167.05 440.56 L171.13 440.79 L175.21 441.02 L179.29 441.24 L183.36 441.45 L187.44 441.66 L191.52 441.86 L195.60 442.05 L199.68 442.24 L203.76 442.43 L207.84 442.60 L211.92 442.78 L216.00 442.94 L220.08 443.10 L224.15 443.25 L228.23 443.40 L232.31 443.54 L236.39 443.68 L240.47 443.81 L244.55 443.93 L248.63 444.05 L252.71 444.16 L256.79 444.26 L260.87 444.36 L264.94 444.46 L269.02 444.54 L273.10 444.62 L277.18 444.69 L281.26 444.76 L285.34 444.82 L289.42 444.88 L293.50 444.92 L297.58 444.96 L301.66 445.00 L305.73 445.03 L309.81 445.05 L313.89 445.07 L317.97 445.08 L322.05 445.08 L326.13 445.08 L330.21 445.07 L334.29 445.05 L338.37 445.03 L342.44 445.00 L346.52 444.96 L350.60 444.92 L354.68 444.88 L358.76 444.82 L362.84 444.76 L366.92 444.69 L371.00 444.62 L375.08 444.54 L379.16 444.46 L383.24 444.36 L387.31 444.26 L391.39 444.16 L395.47 444.05 L399.55 443.93 L403.63 443.81 L407.71 443.68 L411.79 443.54 L415.87 443.40 L419.95 443.25 L424.02 443.10 L428.10 442.94 L432.18 442.78 L436.26 442.60 L440.34 442.43 L444.42 442.24 L448.50 442.05 L452.58 441.86 L456.66 441.66 L460.74 441.45 L464.81 441.24 L468.89 441.02 L472.97 440.79 L477.05 440.56 L481.13 440.33 L485.21 440.09 L489.29 439.84 L493.37 439.59 L497.45 439.33 L501.53 439.07" stroke="#e0262e" stroke-width="2" fill="none" stroke-dasharray="10.5 7.85"/>
<text transform="translate(126.54 312.00) scale(1.0695 1)" font-size="22.00" style="font-weight:bold" fill="#1010d0">(c)</text>
<path d="M171.8 310.3V352.6M269.9 310.3L277.6 331.5L269.9 352.6" stroke="#333" stroke-width="1.2" fill="none"/>
<text transform="translate(182.81 339.70) scale(1.1503 1)" font-size="30.00" style="font-weight:bold;font-style:italic" fill="#111">l</text>
<text transform="translate(192.96 346.10) scale(1.0811 1)" font-size="12.00" style="font-weight:bold" fill="#111">1</text>
<text transform="translate(218.85 339.51) scale(1.4956 1)" font-size="22.00" style="" fill="#111">=</text>
<text transform="translate(252.82 339.10) scale(1.0620 1)" font-size="27.80" style="font-weight:bold" fill="#111">0</text>
<path d="M135.8 458V497.6M235.5 458L244.3 478L235.5 498" stroke="#333" stroke-width="1.2" fill="none"/>
<text transform="translate(146.74 485.30) scale(0.9944 1)" font-size="28.00" style="font-weight:bold;font-style:italic" fill="#111">l</text>
<text transform="translate(156.67 491.70) scale(1.2048 1)" font-size="13.00" style="font-weight:bold" fill="#111">2</text>
<text transform="translate(183.43 486.01) scale(1.4272 1)" font-size="22.00" style="" fill="#111">=</text>
<text transform="translate(218.58 485.30) scale(0.9749 1)" font-size="26.20" style="font-weight:bold" fill="#111">2</text>
<text transform="translate(223.12 365.40) scale(1.0154 1)" font-size="18.20" style="font-weight:bold" fill="#111">Focus with lens of</text>
<text transform="translate(251.51 387.00) scale(1.0107 1)" font-size="18.20" style="font-weight:bold" fill="#111">f1=200 mm</text>
<rect x="622.7" y="293.2" width="388.6" height="256.7" fill="none" stroke="#111" stroke-width="1.9"/>
<path d="M622.7 524.20h5.5M622.7 498.55h3.5M622.7 472.90h5.5M622.7 447.25h3.5M622.7 421.60h5.5M622.7 395.95h3.5M622.7 370.30h5.5M622.7 344.65h3.5M622.7 319.00h5.5M1011.3 528.48h-3.5M1011.3 507.10h-5.5M1011.3 485.73h-3.5M1011.3 464.35h-5.5M1011.3 442.98h-3.5M1011.3 421.60h-5.5M1011.3 400.23h-3.5M1011.3 378.85h-5.5M1011.3 357.48h-3.5M1011.3 336.10h-5.5M1011.3 314.73h-3.5M661.46 549.9v-5.5M700.32 549.9v-3.5M739.18 549.9v-5.5M778.04 549.9v-3.5M816.90 549.9v-5.5M855.76 549.9v-3.5M894.62 549.9v-5.5M933.48 549.9v-3.5M972.34 549.9v-5.5" stroke="#111" stroke-width="1.6" fill="none"/>
<text transform="translate(581.54 323.60) scale(1.4000 1)" font-size="13.60" style="font-weight:bold" fill="#111">0.10</text>
<text transform="translate(581.45 374.90) scale(1.4000 1)" font-size="13.60" style="font-weight:bold" fill="#111">0.05</text>
<text transform="translate(581.54 426.20) scale(1.4000 1)" font-size="13.60" style="font-weight:bold" fill="#111">0.00</text>
<text transform="translate(575.07 477.50) scale(1.4000 1)" font-size="13.60" style="font-weight:bold" fill="#111">-0.05</text>
<text transform="translate(575.16 528.80) scale(1.4000 1)" font-size="13.60" style="font-weight:bold" fill="#111">-0.10</text>
<text transform="translate(1017.68 297.95) scale(1.4000 1)" font-size="13.60" style="font-weight:bold" fill="#111">1.5</text>
<text transform="translate(1017.68 340.70) scale(1.4000 1)" font-size="13.60" style="font-weight:bold" fill="#111">1.0</text>
<text transform="translate(1018.44 383.45) scale(1.4000 1)" font-size="13.60" style="font-weight:bold" fill="#111">0.5</text>
<text transform="translate(1018.44 426.20) scale(1.4000 1)" font-size="13.60" style="font-weight:bold" fill="#111">0.0</text>
<text transform="translate(1015.93 468.95) scale(1.4000 1)" font-size="13.60" style="font-weight:bold" fill="#111">-0.5</text>
<text transform="translate(1015.93 511.70) scale(1.4000 1)" font-size="13.60" style="font-weight:bold" fill="#111">-1.0</text>
<text transform="translate(1015.93 554.45) scale(1.4000 1)" font-size="13.60" style="font-weight:bold" fill="#111">-1.5</text>
<text transform="translate(644.04 568.20) scale(1.4000 1)" font-size="13.60" style="font-weight:bold" fill="#111">-200</text>
<text transform="translate(721.76 568.20) scale(1.4000 1)" font-size="13.60" style="font-weight:bold" fill="#111">-100</text>
<text transform="translate(812.14 568.20) scale(1.4000 1)" font-size="13.60" style="font-weight:bold" fill="#111">0</text>
<text transform="translate(879.96 568.20) scale(1.4000 1)" font-size="13.60" style="font-weight:bold" fill="#111">100</text>
<text transform="translate(958.06 568.20) scale(1.4000 1)" font-size="13.60" style="font-weight:bold" fill="#111">200</text>
<text transform="translate(634.91 585.60) scale(1.4122 1)" font-size="13.60" fill="#111"><tspan style="font-weight:bold">Propagation distance along </tspan><tspan style="font-weight:bold;font-style:italic">z</tspan><tspan style="font-weight:bold"> direction (mm)</tspan></text>
<text transform="translate(1062.40 546.29) rotate(-90) scale(0.9785 1)" font-size="19.50" style="font-weight:bold" fill="#111">Difference of Gouy phase shifts</text>
<text transform="translate(1085.00 501.18) rotate(-90) scale(0.9360 1)" font-size="19.50" style="font-weight:bold" fill="#111">between two beams</text>
<path d="M645.92 417.45 L647.47 417.40 L649.02 417.35 L650.58 417.30 L652.13 417.26 L653.69 417.21 L655.24 417.16 L656.80 417.10 L658.35 417.05 L659.91 417.00 L661.46 416.94 L663.01 416.89 L664.57 416.83 L666.12 416.77 L667.68 416.71 L669.23 416.65 L670.79 416.59 L672.34 416.53 L673.90 416.47 L675.45 416.40 L677.00 416.34 L678.56 416.27 L680.11 416.20 L681.67 416.13 L683.22 416.05 L684.78 415.98 L686.33 415.90 L687.88 415.83 L689.44 415.75 L690.99 415.67 L692.55 415.58 L694.10 415.50 L695.66 415.41 L697.21 415.32 L698.77 415.23 L700.32 415.14 L701.87 415.04 L703.43 414.94 L704.98 414.84 L706.54 414.73 L708.09 414.63 L709.65 414.52 L711.20 414.40 L712.76 414.29 L714.31 414.17 L715.86 414.04 L717.42 413.92 L718.97 413.78 L720.53 413.65 L722.08 413.51 L723.64 413.37 L725.19 413.22 L726.74 413.06 L728.30 412.90 L729.85 412.74 L731.41 412.57 L732.96 412.39 L734.52 412.21 L736.07 412.02 L737.63 411.82 L739.18 411.62 L740.73 411.41 L742.29 411.19 L743.84 410.96 L745.40 410.72 L746.95 410.47 L748.51 410.21 L750.06 409.93 L751.62 409.65 L753.17 409.35 L754.72 409.03 L756.28 408.70 L757.83 408.36 L759.39 407.99 L760.94 407.61 L762.50 407.20 L764.05 406.78 L765.60 406.32 L767.16 405.84 L768.71 405.33 L770.27 404.78 L771.82 404.20 L773.38 403.58 L774.93 402.92 L776.49 402.20 L778.04 401.43 L779.59 400.60 L781.15 399.70 L782.70 398.72 L784.26 397.66 L785.81 396.49 L787.37 395.21 L788.92 393.79 L790.48 392.22 L792.03 390.46 L793.58 388.50 L795.14 386.28 L795.33 385.98 L795.53 385.68 L795.72 385.37 L795.92 385.06 L796.11 384.74 L796.30 384.42 L796.50 384.09 L796.69 383.76 L796.89 383.42 L797.08 383.07 L797.28 382.72 L797.47 382.36 L797.66 382.00 L797.86 381.63 L798.05 381.25 L798.25 380.87 L798.44 380.48 L798.64 380.08 L798.83 379.68 L799.02 379.27 L799.22 378.85 L799.41 378.42 L799.61 377.99 L799.80 377.54 L800.00 377.09 L800.19 376.63 L800.38 376.16 L800.58 375.68 L800.77 375.19 L800.97 374.70 L801.16 374.19 L801.36 373.67 L801.55 373.14 L801.74 372.60 L801.94 372.05 L802.13 371.49 L802.33 370.92 L802.52 370.34 L802.72 369.74 L802.91 369.13 L803.10 368.51 L803.30 367.87 L803.49 367.23 L803.69 366.56 L803.88 365.89 L804.08 365.20 L804.27 364.49 L804.46 363.77 L804.66 363.03 L804.85 362.28 L805.05 361.51 L805.24 360.73 L805.44 359.93 L805.63 359.11 L805.82 358.27 L806.02 357.42 L806.21 356.54 L806.41 355.65 L806.60 354.74 L806.80 353.81 L806.99 352.87 L807.18 351.90 L807.38 350.91 L807.57 349.91 L807.77 348.89 L807.96 347.85 L808.16 346.79 L808.35 345.71 L808.55 344.62 L808.74 343.52 L808.93 342.39 L809.13 341.26 L809.32 340.12 L809.52 338.97 L809.71 337.81 L809.91 336.65 L810.10 335.49 L810.29 334.34 L810.49 333.20 L810.68 332.08 L810.88 330.98 L811.07 329.92 L811.27 328.90 L811.46 327.94 L811.65 327.05 L811.85 326.23 L812.04 325.52 L812.24 324.93 L812.43 324.47 L812.63 324.18 L812.82 324.09 L813.01 324.21 L813.21 324.59 L813.40 325.26 L813.60 326.26 L813.79 327.63 L813.99 329.41 L814.18 331.65 L814.37 334.39 L814.57 337.66 L814.76 341.52 L814.96 345.98 L815.15 351.07 L815.35 356.81 L815.54 363.18 L815.73 370.16 L815.93 377.73 L816.12 385.81 L816.32 394.34 L816.51 403.23 L816.71 412.35 L816.90 421.60 L817.09 430.85 L817.29 439.97 L817.48 448.86 L817.68 457.39 L817.87 465.47 L818.07 473.04 L818.26 480.02 L818.45 486.39 L818.65 492.13 L818.84 497.22 L819.04 501.68 L819.23 505.54 L819.43 508.81 L819.62 511.55 L819.81 513.79 L820.01 515.57 L820.20 516.94 L820.40 517.94 L820.59 518.61 L820.79 518.99 L820.98 519.11 L821.17 519.02 L821.37 518.73 L821.56 518.27 L821.76 517.68 L821.95 516.97 L822.15 516.15 L822.34 515.26 L822.53 514.30 L822.73 513.28 L822.92 512.22 L823.12 511.12 L823.31 510.00 L823.51 508.86 L823.70 507.71 L823.89 506.55 L824.09 505.39 L824.28 504.23 L824.48 503.08 L824.67 501.94 L824.87 500.81 L825.06 499.68 L825.25 498.58 L825.45 497.49 L825.64 496.41 L825.84 495.35 L826.03 494.31 L826.23 493.29 L826.42 492.29 L826.62 491.30 L826.81 490.33 L827.00 489.39 L827.20 488.46 L827.39 487.55 L827.59 486.66 L827.78 485.78 L827.98 484.93 L828.17 484.09 L828.36 483.27 L828.56 482.47 L828.75 481.69 L828.95 480.92 L829.14 480.17 L829.34 479.43 L829.53 478.71 L829.72 478.00 L829.92 477.31 L830.11 476.64 L830.31 475.97 L830.50 475.33 L830.70 474.69 L830.89 474.07 L831.08 473.46 L831.28 472.86 L831.47 472.28 L831.67 471.71 L831.86 471.15 L832.06 470.60 L832.25 470.06 L832.44 469.53 L832.64 469.01 L832.83 468.50 L833.03 468.01 L833.22 467.52 L833.42 467.04 L833.61 466.57 L833.80 466.11 L834.00 465.66 L834.19 465.21 L834.39 464.78 L834.58 464.35 L834.78 463.93 L834.97 463.52 L835.16 463.12 L835.36 462.72 L835.55 462.33 L835.75 461.95 L835.94 461.57 L836.14 461.20 L836.33 460.84 L836.52 460.48 L836.72 460.13 L836.91 459.78 L837.11 459.44 L837.30 459.11 L837.50 458.78 L837.69 458.46 L837.88 458.14 L838.08 457.83 L838.27 457.52 L838.47 457.22 L838.66 456.92 L838.86 456.63 L839.05 456.34 L839.24 456.06 L839.44 455.78 L839.63 455.50 L839.83 455.23 L840.02 454.97 L840.22 454.70 L841.77 452.74 L843.32 450.98 L844.88 449.41 L846.43 447.99 L847.99 446.71 L849.54 445.54 L851.10 444.48 L852.65 443.50 L854.21 442.60 L855.76 441.77 L857.31 441.00 L858.87 440.28 L860.42 439.62 L861.98 439.00 L863.53 438.42 L865.09 437.87 L866.64 437.36 L868.20 436.88 L869.75 436.42 L871.30 436.00 L872.86 435.59 L874.41 435.21 L875.97 434.84 L877.52 434.50 L879.08 434.17 L880.63 433.85 L882.18 433.55 L883.74 433.27 L885.29 432.99 L886.85 432.73 L888.40 432.48 L889.96 432.24 L891.51 432.01 L893.07 431.79 L894.62 431.58 L896.17 431.38 L897.73 431.18 L899.28 430.99 L900.84 430.81 L902.39 430.63 L903.95 430.46 L905.50 430.30 L907.06 430.14 L908.61 429.98 L910.16 429.83 L911.72 429.69 L913.27 429.55 L914.83 429.42 L916.38 429.28 L917.94 429.16 L919.49 429.03 L921.04 428.91 L922.60 428.80 L924.15 428.68 L925.71 428.57 L927.26 428.47 L928.82 428.36 L930.37 428.26 L931.93 428.16 L933.48 428.06 L935.03 427.97 L936.59 427.88 L938.14 427.79 L939.70 427.70 L941.25 427.62 L942.81 427.53 L944.36 427.45 L945.92 427.37 L947.47 427.30 L949.02 427.22 L950.58 427.15 L952.13 427.07 L953.69 427.00 L955.24 426.93 L956.80 426.86 L958.35 426.80 L959.90 426.73 L961.46 426.67 L963.01 426.61 L964.57 426.55 L966.12 426.49 L967.68 426.43 L969.23 426.37 L970.79 426.31 L972.34 426.26 L973.89 426.20 L975.45 426.15 L977.00 426.10 L978.56 426.04 L980.11 425.99 L981.67 425.94 L983.22 425.90 L984.78 425.85 L986.33 425.80 L987.88 425.75" stroke="#111" stroke-width="2" fill="none" stroke-linejoin="round"/>
<path d="M645.92 467.68 L647.47 468.39 L649.02 469.10 L650.58 469.81 L652.13 470.52 L653.69 471.23 L655.24 471.95 L656.80 472.66 L658.35 473.37 L659.91 474.09 L661.46 474.81 L663.01 475.53 L664.57 476.24 L666.12 476.96 L667.68 477.68 L669.23 478.40 L670.79 479.13 L672.34 479.85 L673.90 480.57 L675.45 481.30 L677.00 482.02 L678.56 482.75 L680.11 483.47 L681.67 484.20 L683.22 484.93 L684.78 485.65 L686.33 486.38 L687.88 487.11 L689.44 487.84 L690.99 488.57 L692.55 489.30 L694.10 490.03 L695.66 490.76 L697.21 491.49 L698.77 492.22 L700.32 492.95 L701.87 493.68 L703.43 494.41 L704.98 495.14 L706.54 495.87 L708.09 496.60 L709.65 497.33 L711.20 498.06 L712.76 498.79 L714.31 499.52 L715.86 500.25 L717.42 500.98 L718.97 501.70 L720.53 502.43 L722.08 503.15 L723.64 503.88 L725.19 504.60 L726.74 505.32 L728.30 506.04 L729.85 506.76 L731.41 507.48 L732.96 508.19 L734.52 508.91 L736.07 509.62 L737.63 510.33 L739.18 511.03 L740.73 511.74 L742.29 512.44 L743.84 513.13 L745.40 513.83 L746.95 514.52 L748.51 515.20 L750.06 515.88 L751.62 516.56 L753.17 517.23 L754.72 517.89 L756.28 518.55 L757.83 519.20 L759.39 519.84 L760.94 520.48 L762.50 521.11 L764.05 521.72 L765.60 522.33 L767.16 522.92 L768.71 523.50 L770.27 524.07 L771.82 524.62 L773.38 525.16 L774.93 525.67 L776.49 526.16 L778.04 526.63 L779.59 527.07 L781.15 527.47 L782.70 527.84 L784.26 528.18 L785.81 528.46 L787.37 528.69 L788.92 528.86 L790.48 528.95 L792.03 528.96 L793.58 528.86 L795.14 528.63 L795.33 528.60 L795.53 528.56 L795.72 528.51 L795.92 528.47 L796.11 528.42 L796.30 528.37 L796.50 528.31 L796.69 528.26 L796.89 528.20 L797.08 528.13 L797.28 528.07 L797.47 528.00 L797.66 527.93 L797.86 527.85 L798.05 527.77 L798.25 527.69 L798.44 527.60 L798.64 527.51 L798.83 527.42 L799.02 527.32 L799.22 527.22 L799.41 527.11 L799.61 527.00 L799.80 526.88 L800.00 526.76 L800.19 526.64 L800.38 526.51 L800.58 526.37 L800.77 526.23 L800.97 526.08 L801.16 525.93 L801.36 525.77 L801.55 525.61 L801.74 525.44 L801.94 525.26 L802.13 525.08 L802.33 524.89 L802.52 524.69 L802.72 524.48 L802.91 524.27 L803.10 524.05 L803.30 523.82 L803.49 523.58 L803.69 523.33 L803.88 523.07 L804.08 522.80 L804.27 522.52 L804.46 522.23 L804.66 521.93 L804.85 521.62 L805.05 521.30 L805.24 520.96 L805.44 520.61 L805.63 520.25 L805.82 519.87 L806.02 519.48 L806.21 519.07 L806.41 518.64 L806.60 518.20 L806.80 517.74 L806.99 517.26 L807.18 516.76 L807.38 516.24 L807.57 515.70 L807.77 515.13 L807.96 514.54 L808.16 513.93 L808.35 513.29 L808.55 512.62 L808.74 511.92 L808.93 511.19 L809.13 510.43 L809.32 509.63 L809.52 508.80 L809.71 507.93 L809.91 507.02 L810.10 506.06 L810.29 505.06 L810.49 504.02 L810.68 502.92 L810.88 501.76 L811.07 500.56 L811.27 499.29 L811.46 497.96 L811.65 496.56 L811.85 495.09 L812.04 493.54 L812.24 491.92 L812.43 490.21 L812.63 488.42 L812.82 486.53 L813.01 484.55 L813.21 482.47 L813.40 480.28 L813.60 477.97 L813.79 475.56 L813.99 473.03 L814.18 470.37 L814.37 467.60 L814.57 464.70 L814.76 461.67 L814.96 458.52 L815.15 455.24 L815.35 451.85 L815.54 448.35 L815.73 444.74 L815.93 441.04 L816.12 437.26 L816.32 433.40 L816.51 429.50 L816.71 425.56 L816.90 421.60 L817.09 417.64 L817.29 413.70 L817.48 409.80 L817.68 405.94 L817.87 402.16 L818.07 398.46 L818.26 394.85 L818.45 391.35 L818.65 387.96 L818.84 384.68 L819.04 381.53 L819.23 378.50 L819.43 375.60 L819.62 372.83 L819.81 370.17 L820.01 367.64 L820.20 365.23 L820.40 362.92 L820.59 360.73 L820.79 358.65 L820.98 356.67 L821.17 354.78 L821.37 352.99 L821.56 351.28 L821.76 349.66 L821.95 348.11 L822.15 346.64 L822.34 345.24 L822.53 343.91 L822.73 342.64 L822.92 341.44 L823.12 340.28 L823.31 339.18 L823.51 338.14 L823.70 337.14 L823.89 336.18 L824.09 335.27 L824.28 334.40 L824.48 333.57 L824.67 332.77 L824.87 332.01 L825.06 331.28 L825.25 330.58 L825.45 329.91 L825.64 329.27 L825.84 328.66 L826.03 328.07 L826.23 327.50 L826.42 326.96 L826.62 326.44 L826.81 325.94 L827.00 325.46 L827.20 325.00 L827.39 324.56 L827.59 324.13 L827.78 323.72 L827.98 323.33 L828.17 322.95 L828.36 322.59 L828.56 322.24 L828.75 321.90 L828.95 321.58 L829.14 321.27 L829.34 320.97 L829.53 320.68 L829.72 320.40 L829.92 320.13 L830.11 319.87 L830.31 319.62 L830.50 319.38 L830.70 319.15 L830.89 318.93 L831.08 318.72 L831.28 318.51 L831.47 318.31 L831.67 318.12 L831.86 317.94 L832.06 317.76 L832.25 317.59 L832.44 317.43 L832.64 317.27 L832.83 317.12 L833.03 316.97 L833.22 316.83 L833.42 316.69 L833.61 316.56 L833.80 316.44 L834.00 316.32 L834.19 316.20 L834.39 316.09 L834.58 315.98 L834.78 315.88 L834.97 315.78 L835.16 315.69 L835.36 315.60 L835.55 315.51 L835.75 315.43 L835.94 315.35 L836.14 315.27 L836.33 315.20 L836.52 315.13 L836.72 315.07 L836.91 315.00 L837.11 314.94 L837.30 314.89 L837.50 314.83 L837.69 314.78 L837.88 314.73 L838.08 314.69 L838.27 314.64 L838.47 314.60 L838.66 314.57 L838.86 314.53 L839.05 314.50 L839.24 314.47 L839.44 314.44 L839.63 314.41 L839.83 314.39 L840.02 314.36 L840.22 314.34 L841.77 314.24 L843.32 314.25 L844.88 314.34 L846.43 314.51 L847.99 314.74 L849.54 315.02 L851.10 315.36 L852.65 315.73 L854.21 316.13 L855.76 316.57 L857.31 317.04 L858.87 317.53 L860.42 318.04 L861.98 318.58 L863.53 319.13 L865.09 319.70 L866.64 320.28 L868.20 320.87 L869.75 321.48 L871.30 322.09 L872.86 322.72 L874.41 323.36 L875.97 324.00 L877.52 324.65 L879.08 325.31 L880.63 325.97 L882.18 326.64 L883.74 327.32 L885.29 328.00 L886.85 328.68 L888.40 329.37 L889.96 330.07 L891.51 330.76 L893.07 331.46 L894.62 332.17 L896.17 332.87 L897.73 333.58 L899.28 334.29 L900.84 335.01 L902.39 335.72 L903.95 336.44 L905.50 337.16 L907.06 337.88 L908.61 338.60 L910.16 339.32 L911.72 340.05 L913.27 340.77 L914.83 341.50 L916.38 342.22 L917.94 342.95 L919.49 343.68 L921.04 344.41 L922.60 345.14 L924.15 345.87 L925.71 346.60 L927.26 347.33 L928.82 348.06 L930.37 348.79 L931.93 349.52 L933.48 350.25 L935.03 350.98 L936.59 351.71 L938.14 352.44 L939.70 353.17 L941.25 353.90 L942.81 354.63 L944.36 355.36 L945.92 356.09 L947.47 356.82 L949.02 357.55 L950.58 358.27 L952.13 359.00 L953.69 359.73 L955.24 360.45 L956.80 361.18 L958.35 361.90 L959.90 362.63 L961.46 363.35 L963.01 364.07 L964.57 364.80 L966.12 365.52 L967.68 366.24 L969.23 366.96 L970.79 367.67 L972.34 368.39 L973.89 369.11 L975.45 369.83 L977.00 370.54 L978.56 371.25 L980.11 371.97 L981.67 372.68 L983.22 373.39 L984.78 374.10 L986.33 374.81 L987.88 375.52" stroke="#e0262e" stroke-width="2.3" fill="none" stroke-dasharray="9 8"/>
<path d="M790.8 381.1H702" stroke="#111" stroke-width="1.6"/>
<path d="M697.5 381.1L703.5 378.3L703.5 383.9Z" fill="#111"/>
<path d="M899.4 330.4H984" stroke="#e0262e" stroke-width="1.8"/>
<path d="M989.2 330.4L983.2 327.6L983.2 333.2Z" fill="#e0262e"/>
<text transform="translate(629.29 313.80) scale(1.1173 1)" font-size="22.00" style="font-weight:bold" fill="#1010d0">(d)</text>
<g transform="translate(530 482) rotate(-90)"><text transform="translate(8.49 14.80) scale(1.3970 1)" font-size="20.70" style="font-weight:bold" fill="#111">1</text><text transform="translate(70.89 14.80) scale(1.3970 1)" font-size="20.70" style="font-weight:bold" fill="#111">1</text><text transform="translate(2.50 47.70) scale(1.0678 1)" font-size="22.00" style="font-weight:bold;font-style:italic" fill="#111">R</text><text transform="translate(62.00 47.70) scale(1.2266 1)" font-size="22.00" style="font-weight:bold;font-style:italic" fill="#111">R</text><text transform="translate(17.84 54.00)" font-size="12.00" style="font-style:italic" fill="#111">l</text><text transform="translate(22.14 57.00)" font-size="8.00" style="" fill="#111">2</text><text transform="translate(77.84 54.00)" font-size="12.00" style="font-style:italic" fill="#111">l</text><text transform="translate(81.78 56.50)" font-size="8.00" style="" fill="#111">1</text><path d="M0.1 22.2H31.3M42 22.2H52.7M62.5 22.2H93.8" stroke="#222" stroke-width="1.3"/><text transform="translate(105.41 29.00) scale(1.1566 1)" font-size="21.00" style="font-weight:bold" fill="#111">(mm</text><text transform="translate(154.63 19.00) scale(0.9697 1)" font-size="11.00" style="font-weight:bold" fill="#111">-1</text><text transform="translate(164.62 29.00) scale(1.3919 1)" font-size="21.00" style="font-weight:bold" fill="#111">)</text></g>
</svg>
</body></html>
